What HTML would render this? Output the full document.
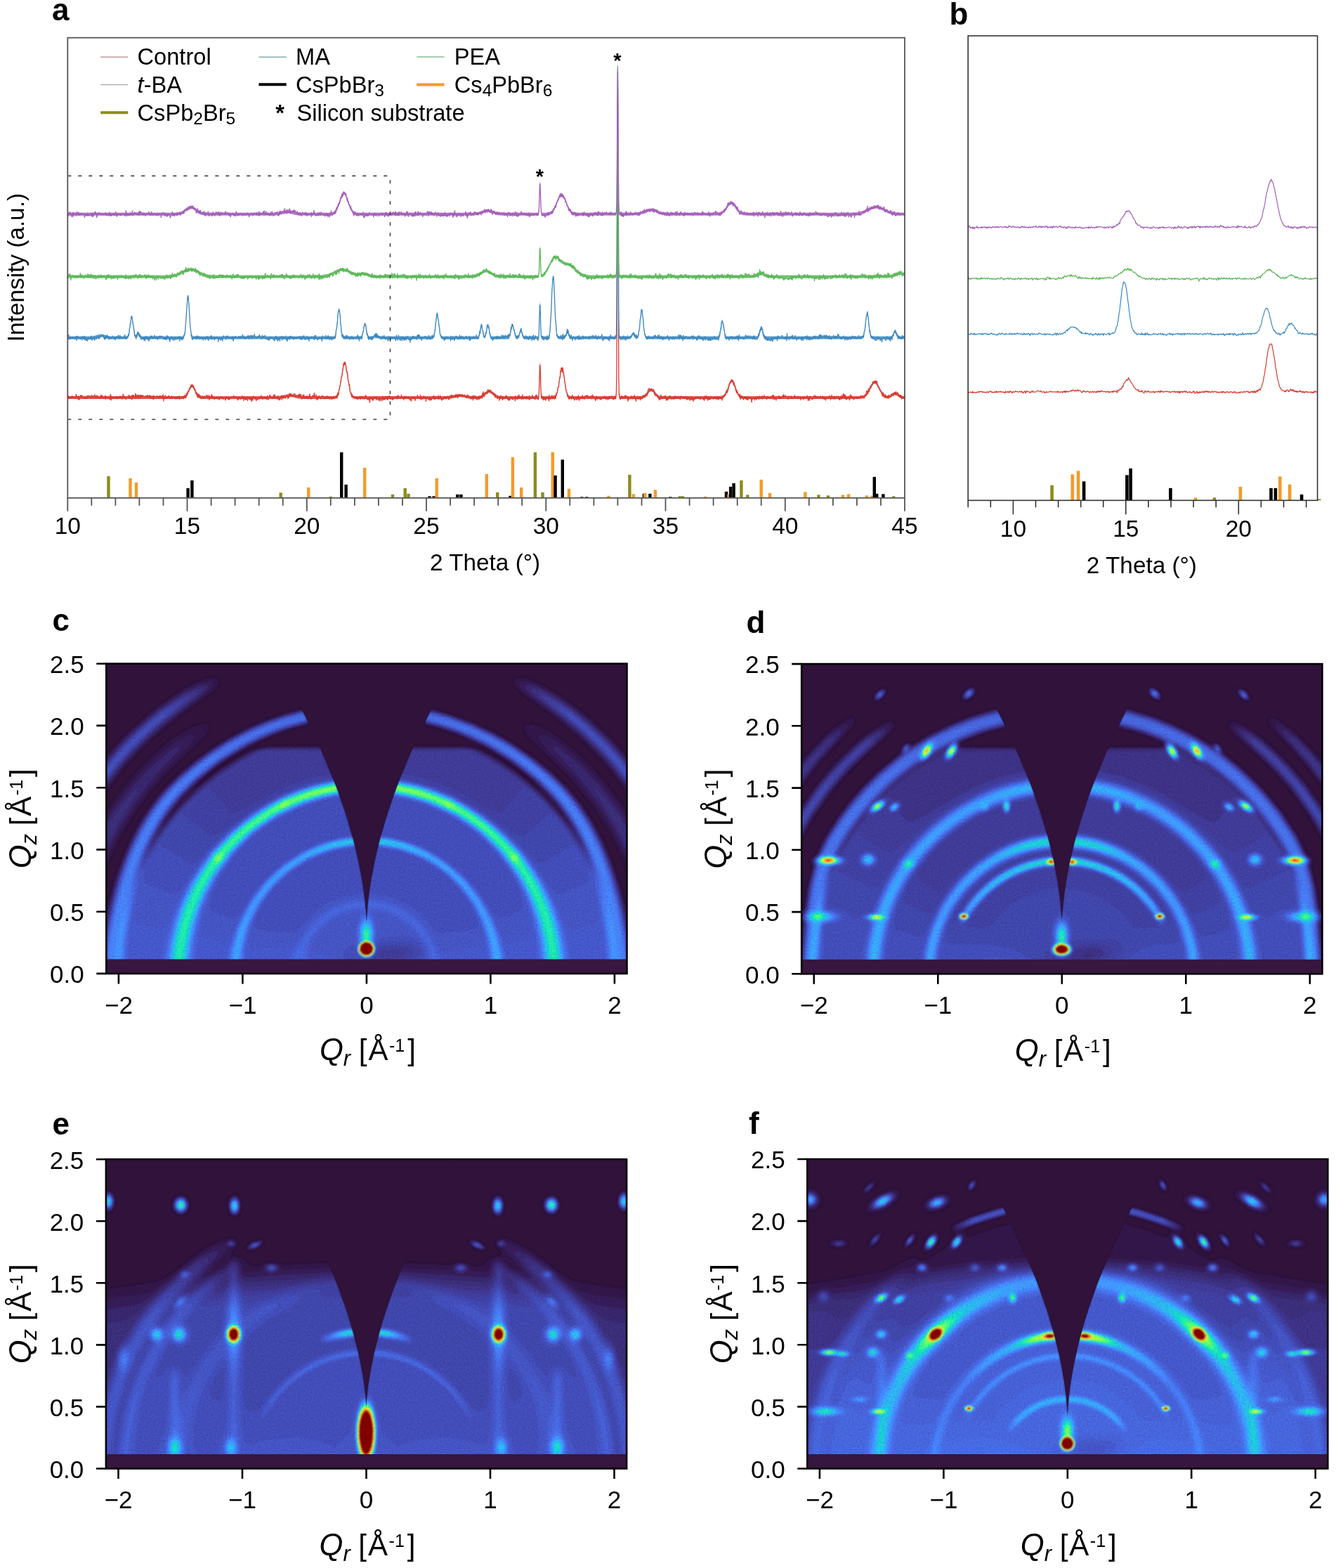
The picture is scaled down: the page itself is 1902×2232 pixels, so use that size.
<!DOCTYPE html>
<html><head><meta charset="utf-8"><title>Figure</title>
<style>html,body{margin:0;padding:0;background:#fff;}svg{display:block;}text{font-family:'Liberation Sans', Arial, Helvetica, sans-serif;fill:#000;}</style></head><body>
<svg width="1902" height="2232" viewBox="0 0 1902 2232">
<rect width="1902" height="2232" fill="#fff"/>
<path transform="scale(.1)" d="M963 5640l1621 0 40-7 20-13 20-27 50-107 10-12 10-4 10 5 10 13 40 88 20 34 10 11 20 12 40 7 1031 0 80-5 100-22 30-3 40 3 80 19 70 7 440 0 20-4 10-5 10-9 10-14 10-22 10-32 20-98 40-253 10-38 10-14 10 12 10 35 40 252 20 100 10 33 10 23 10 15 10 9 10 5 20 5 1281 1 60-3 30-4 80-19 30-4 40 2 100 22 50 5 70 0 40-6 20-8 20-12 61-52 20-10 10-1 10 2 20 10 50 44 30 20 40 11 40 3 506-1 5-10 5-47 12-413 3-29 5 106 7 282 5 85 5 23 5 4 162-1 20-6 10-8 10-14 10-23 10-37 10-50 30-200 10-52 10-27 10 4 10 35 30 194 20 107 10 33 10 21 10 12 20 10 20 2 631-1 4-10 5-102 5-550 12-3537 4 545 6 2366 5 994 5 258 5 34 5 3 274 0 40-3 20-6 20-11 20-19 40-50 10-10 20-11 10 1 10 5 10 9 50 61 20 17 20 9 20 5 30 3 800 0 40-5 20-10 20-19 11-16 20-43 40-109 10-20 10-14 10-4 10 5 10 14 10 20 40 110 20 42 20 27 10 8 20 9 40 5 1641-1 20-2 30-7 20-11 20-18 20-26 70-131 10-13 10-8 10-3 10 2 20 18 20 34 50 97 30 38 20 15 30 9 20-1 20-7 10-6 40-31 20-8 10 1 20 9 30 24 30 18 20 5 30 3 0 40-30-3-20-5-20-11-50-37-20-4-20 8-40 31-20 10-10 3-20 1-30-9-20-15-30-38-50-97-20-34-20-18-10-2-10 3-10 8-10 13-70 131-20 26-10 10-20 14-10 5-30 7-40 3-1621 0-30-3-20-6-20-13-20-27-20-42-40-110-10-20-10-14-10-5-10 4-10 14-10 20-40 109-20 43-11 16-20 19-10 6-20 6-30 3-800 0-30-3-20-5-20-9-20-17-50-61-10-9-10-5-10-1-20 11-50 60-20 19-20 11-20 6-40 3-274 0-5-3-5-34-5-258-5-994-6-2366-4-545-12 3537-5 550-5 102-4 10-631 1-20-2-20-10-10-12-10-21-10-33-20-107-30-194-10-35-10-4-10 27-10 52-30 200-10 50-10 37-10 23-10 14-10 8-20 6-162 1-5-4-5-23-5-85-7-282-5-106-3 29-12 413-5 47-5 10-506 1-40-3-40-11-20-12-60-52-10-6-20-6-10 1-20 10-61 52-20 12-20 8-40 6-70 0-50-5-80-18-40-6-20 0-30 4-80 19-30 4-60 3-1281-1-20-5-10-5-10-9-10-15-10-23-20-78-50-307-10-35-10-12-10 14-10 38-40 253-20 98-10 32-10 22-10 14-10 9-10 5-20 4-440 0-70-7-80-19-40-3-30 3-100 22-80 5-1031 0-40-7-20-12-10-11-20-34-40-88-10-13-10-5-10 4-10 12-50 107-20 27-20 13-40 7-1621 0z" fill="#d93b30" opacity=".85"/>
<path transform="scale(.1)" d="M963 5663l5 6 5-6 5-27 5 35 5-8 5-13 5 17 5-7 5 0 5-4 5 7 5-26 5 11 5-7 5 19 5-5 5-1 5-10 5 8 5 1 5-7 5 25 5-1 5-58 5 12 5 30 5-6 5 4 5 0 5 33 5-50 5 15 5 41 5-23 5 3 5-23 5-23 5 30 5-1 5-26 5 7 5 13 5-9 5 13 5 5 5 2 5-6 5 17 5 5 5-10 5-20 5 22 5-16 5 21 5-33 5 30 5-17 5-25 5 14 5 6 5 5 5-19 5 2 5 19 5-7 5 7 5 7 5-39 5 31 5 14 5-23 5-9 5 18 5-9 5 8 5-19 5-16 5 30 5-3 5 24 5-11 5-28 5 6 5 31 5-8 5-22 5 10 5 10 5 6 5 7 5-10 5-5 5-3 5 20 5-51 5 34 5 2 5-24 5 25 5-17 5 28 5-15 5 9 5 12 5-10 5-22 5-12 5 53 5-33 5-8 5 13 5-4 5 17 5-8 5 3 5-12 5 21 5-22 5 26 5 12 5-53 5-20 5 52 5 30 5-57 5 1 5 36 5-27 5 6 5 2 5 12 5-11 5 12 5-9 5-12 5 13 5-17 5 13 5-14 5-3 5 36 5-23 5 5 5 5 5-11 5 3 5 10 5-4 5-27 5 32 5-18 5-5 5 2 5 6 5 27 5-45 5 20 5-43 5 38 5 14 5-18 5-6 5 17 5 7 5 1 5 22 5-31 5-14 5 7 5-2 5 0 5-1 5 6 5-28 5 41 5-20 5-8 5 29 5 8 5-15 5-5 5-23 5 57 5-32 5-31 5 5 5 19 5-26 5 29 5-8 5 26 5-9 5-57 5 42 5-30 5 44 5-14 5 1 5-24 5 46 5 3 5-48 5 25 5-17 5 12 5-19 5 48 5-46 5 8 5 13 5-22 5 9 5-7 5 16 5-15 5 15 5 7 5-1 5 0 5-12 5 20 5-17 5-1 5-6 5 6 5-14 5 30 5-26 5 5 5 17 5 5 5-13 5-21 5 41 5-5 5-24 5 34 5-23 5-8 5 21 5-6 5 6 5-28 5 56 5-40 5-14 5 33 5-19 5 6 5-9 5 3 5 3 5-14 5 26 5-18 5-7 5 17 5 9 5-12 5-10 5 29 5-37 5 6 5 15 5-20 5 15 5-2 5 15 5-28 5 9 5 19 5-45 5 92 5-60 5-2 5 25 5-16 5-29 5 40 5 8 5-21 5 1 5 10 5-19 5 17 5-4 5-19 5-7 5 16 5-6 5 28 5-13 5 11 5-13 5-2 5-18 5 25 5 14 5-27 5-2 5 6 5-5 5 2 5 13 5-9 5 26 5-23 5 6 5 9 5-19 5 26 5-31 5-4 5 11 5 6 5-19 5 20 5-23 5 46 5-24 5-4 5-7 5 9 5 0 5-10 5-5 5 13 5-4 5 23 5-2 5-18 5 5 5-33 5 32 5-14 5 5 5 16 5-65 5 30 5-29 5 15 5-45 5-1 5 4 5-6 5-21 5-18 5-7 5 12 5-26 5-31 5 32 5-11 5 5 5-16 5 22 5-28 5 33 5-11 5 27 5 16 5-13 5 22 5 13 5 34 5 2 5-21 5 37 5 13 5 24 5-54 5 21 5 31 5-42 5 4 5 29 5 13 5-27 5 22 5-1 5 23 5-25 5 14 5-32 5 13 5-1 5 21 5-10 5-17 5 18 5 1 5-16 5 5 5-2 5-22 5 31 5 0 5-19 5 26 5-33 5 16 5 4 5 42 5-59 5 32 5 3 5-10 5 10 5-34 5-20 5 53 5-30 5 16 5-12 5 37 5 1 5-25 5 29 5-12 5-6 5-3 5 0 5 12 5-7 5-11 5 24 5-28 5 12 5 3 5 16 5-31 5 40 5-25 5-9 5-10 5 24 5-11 5-12 5-3 5 10 5-3 5 26 5 3 5-3 5-8 5-9 5 8 5 11 5 18 5-21 5-22 5 8 5-4 5-5 5 6 5 7 5 19 5-32 5 23 5 9 5-30 5 26 5-11 5-13 5 6 5-2 5-3 5-3 5 2 5 6 5-20 5 10 5-22 5 30 5 3 5-7 5 1 5 5 5-23 5 13 5 9 5 6 5-7 5 34 5-38 5 22 5 4 5-20 5-9 5-5 5 20 5 15 5-14 5 1 5-9 5 13 5-41 5 39 5-4 5-21 5 54 5-60 5 3 5 5 5 38 5-27 5 27 5-1 5-9 5-22 5 8 5 36 5-52 5 7 5 9 5 16 5-9 5 10 5-28 5 34 5-3 5-31 5 49 5 9 5-49 5 13 5 21 5-50 5-9 5 16 5 11 5 0 5 17 5-2 5-28 5 27 5 24 5-10 5-2 5-18 5 14 5-35 5 27 5-12 5 14 5-9 5-25 5 16 5 12 5-38 5 7 5 3 5-9 5 40 5 6 5-6 5-17 5-5 5 3 5-9 5 23 5 5 5-4 5-27 5 6 5 1 5 31 5-22 5-32 5 36 5 25 5-21 5 1 5-9 5-39 5-1 5 12 5 17 5 6 5 10 5-14 5 17 5-15 5-9 5 29 5-32 5-25 5 25 5 27 5-50 5 44 5 1 5-14 5-7 5 13 6-1 5 26 5-15 5-31 5 15 5 24 5 20 5-27 5-2 5 20 5-31 5-8 5-16 5 13 5 45 5-57 5 30 5-28 5 23 5 9 5-17 5 11 5-1 5-9 5 21 5-18 5-18 5-8 5 0 5 19 5-13 5 44 5-18 5-29 5-4 5 28 5-57 5 19 5 14 5-27 5 9 5 6 5 18 5-10 5 4 5 2 5-10 5 19 5-23 5-13 5-2 5 3 5 22 5 25 5-8 5-12 5-6 5 5 5 5 5-4 5-12 5 12 5 26 5-52 5 36 5-32 5 36 5-10 5-21 5 32 5 31 5-22 5 14 5-19 5-35 5 44 5-19 5-18 5 40 5-4 5-15 5 22 5-23 5 22 5-29 5 23 5-24 5 39 5-21 5 21 5-36 5 3 5 24 5-58 5 25 5 43 5-8 5 11 5-18 5 8 5-26 5-8 5-7 5 17 5-1 5-1 5-51 5 26 5 24 5 14 5-12 5-2 5-22 5 69 5-48 5 46 5-7 5-25 5-12 5 9 5-18 5 21 5 1 5 7 5 6 5 8 5-33 5 22 5-32 5-1 5 9 5-4 5 30 5 0 5 8 5-21 5 14 5-13 5-10 5 26 5-5 5-27 5 30 5-34 5 25 5-11 5 2 5-11 5 32 5-7 5 17 5-20 5-18 5 14 5-14 5 23 5 18 5-15 5-13 5 5 5 7 5-33 5 28 5 2 5-14 5 3 5 6 5-19 5-6 5 24 5-16 5 22 5-49 5-24 5 35 5-15 5-46 5-33 5 1 5-50 5-5 5-55 5 1 5-64 5-5 5-4 5-61 5-13 5-50 5-34 5-31 5 23 5-28 5 25 5-33 5 28 5 23 5 50 5 36 5-7 5 22 5 22 5 80 5 13 5 18 5 47 5-12 5 39 5 64 5 13 5 10 5-4 5 34 5 26 5-42 5 26 5 0 5 13 5-2 5 5 5-9 5 14 5-8 5 10 5 1 5 10 5-20 5 4 5 26 5-20 5-1 5 19 5-8 5-5 5-3 5-24 5 27 5 16 5-11 5-32 5 28 5-16 5 4 5 4 5-19 5 40 5-25 5 16 5-5 5 10 5 0 5-43 5 24 5-33 5 29 5 19 5 6 5 10 5-25 5 8 5-2 5 19 5 3 5-33 5 69 5-60 5-11 5 18 5 1 5-3 5-19 5 39 5-21 5 25 5 0 5-44 5 2 5-6 5 20 5-5 5 4 5-15 5 25 5 15 5-47 5 23 5 11 5-9 5-4 5 32 5-12 5-9 5-24 5 53 5-26 5-17 5 4 5-7 5 43 5-33 5 4 5-36 5 55 5-29 5-3 5 26 5-26 5 21 5 3 5-45 5 25 5-23 5 27 5 14 5-43 5 52 5-35 5-19 5 17 5 17 5-37 5 28 5-22 5 39 5-11 5-9 5 19 5-37 5 18 5 31 5-33 5 23 5-18 5-18 5 11 5 5 5-11 5-6 5 2 5-7 5 28 5 7 5 2 5-44 5 35 5-13 5-28 5 20 5 13 5-3 5 6 5 5 5-1 5-12 5-35 5 23 5 14 5-8 5 16 5 3 5-11 5 33 5-51 5 31 5-23 5-7 5 22 5-17 5 27 5-30 5 21 5-14 5 11 5-5 5-11 5 32 5-26 5 3 5 36 5 1 5-6 5-3 5 30 5-59 5 1 5-10 5 26 5-10 5 14 5 3 5-18 5-9 5 0 5 53 5-23 5-4 5-14 5-3 5-8 5 1 5-29 5 36 5-7 5 14 5-1 5 8 5-14 5 18 5-54 5 21 5 46 5-44 5 16 5 17 5-22 5 24 5-35 5-6 5 4 5-4 5 26 5-8 5 10 5-16 5 61 5-45 5-1 5 4 5-12 5-7 5 18 5 15 5-1 5 6 5-27 5-7 5 44 5-33 5 11 5 6 5 10 5-45 5 13 5-1 5 7 5-31 5 41 5-43 5 46 5 2 5-3 5-35 5 33 5-23 5-5 5 1 5-1 5 23 5 5 5-48 5 24 5 29 5-16 5-2 5-29 5 43 5-41 5 27 5 25 5 9 5-22 5 4 5-21 5 4 5 21 5-20 5 0 5-21 5 23 5 3 5-25 5 5 5 28 5-21 5-5 5-13 5 8 5 8 5 25 5-32 5 38 5-47 5 7 5 18 5-23 5-14 5 14 5 12 5-31 5 26 5 3 5-9 5 13 5-24 5 3 5 7 5 6 5-16 5 26 5-42 5 34 5-32 5 11 5 4 5 33 5-21 5-22 5 29 5-26 5-14 5 21 5-6 5 12 5-17 5 13 5 8 5-3 5-7 5-11 5 27 5-14 5 7 5-10 5 4 5-13 5 17 5 11 5-6 5 12 5-10 5 20 5-24 5-24 5 33 5-12 5-10 5 28 5-3 5 4 5-4 5 8 5-3 5 23 5-34 5 13 5 6 5-27 5 1 5 55 5-65 5 37 5-24 5 4 5-17 5 18 5 22 5-30 5 27 5-1 5 25 5-36 5 26 5-6 5-19 5-16 5 47 5-45 5 12 5 19 5-4 5-32 5 7 5-6 5 16 5 17 5-73 5 43 5-65 5 44 5-20 5 45 5-34 5-20 5 1 5-5 5 9 5-9 5 8 5 10 5-17 5-38 5-6 5 11 5 25 5-22 5-3 5 16 5-22 5 12 5 32 5-8 5 0 5 15 5-9 5 1 5 8 5 18 5-5 5-18 5 18 5 21 5 23 5-44 5 28 5-2 5 17 5-2 5 21 5-14 5-18 5-1 5 22 5 0 5 35 5-15 5-43 5 22 5-28 5-1 5 41 5-3 5-26 5 47 5-45 5-2 5 31 5-7 5-11 5 4 5 5 5-9 5-2 5-29 5 5 5 32 5-16 5 20 5 17 5-24 5 11 5 26 5-21 5 17 5-8 5-15 5-15 5-8 5 2 5 25 5 1 5-7 5 13 5-29 5 29 5-15 5-2 5 1 5 0 5 39 5-70 5 25 5 16 5-11 5-15 5 34 5-45 5-4 5 34 5-35 5-16 5 52 5-3 5-3 5-16 5 14 5-21 5 41 5-14 5-1 5-50 5 50 5 14 5-6 5-11 5-10 5-2 5 12 5-3 5-5 5-7 5 32 5-44 5 19 5-7 5 24 5 6 5-3 5-7 5-36 5 56 5-25 5-11 5 3 5 0 5 12 5 0 5-13 5-33 5 36 5 6 5 1 5-5 5 7 5 10 5-23 5 31 5-57 5 11 5 7 5-26 5 23 5 34 5-1 5-17 5 27 5-37 5-81 5-145 5-204 5-28 5 115 5 234 5 74 5 51 5-35 5 26 5 8 5 19 5-35 5 46 5-22 5-19 5 28 5-17 5 18 5 16 5-22 5-22 5 3 5 15 5-1 5-17 5 0 5 22 5 29 5-84 5 55 5-12 5 15 5 1 5-15 5-22 5-7 5-10 5 50 5-24 5-6 5 2 5-15 5 26 5 19 5-5 5-45 5 44 5-41 5-27 5-3 5-13 5-5 5-35 5-36 5-7 5 3 5-74 5-20 5-43 5 7 5-103 5 19 5-56 5 3 5 2 5 53 5-53 5-5 5 69 5-4 5 42 5 39 5 37 5 34 5 40 5 33 5 34 5 8 5 18 5 12 5 42 5 0 5 12 5 3 5 23 5-18 5 14 5-30 5 3 5 17 5-18 5 31 5-38 5 23 5-43 5 23 5 16 5 7 5-22 5 33 5 18 5-10 5-23 5-2 5-6 5 23 5 13 5-29 5-17 5 23 5 13 5-55 5 43 5 30 5-19 5-9 5-1 5 6 5-34 5 3 5 20 5-21 5 17 5-37 5 43 5-1 5-12 5 7 5 20 5-45 5 6 5-6 5 3 5-8 5 22 5-16 5-10 5-2 5 47 5-28 5-4 5 1 5 0 5 15 5-2 5-14 5-1 5 1 5-3 5 40 5-35 5-22 5 15 5 4 5 19 5-20 5 21 5 4 5 11 5 16 5 12 5-20 5-45 5 13 5 7 5 24 5-26 5 11 5-17 5 15 5 8 5-17 5 23 5 4 5-23 5 19 5 9 5-25 5-1 5-2 5-7 5 12 5-11 5 6 5-9 5-14 5 12 5 19 5-26 5 6 5 38 5-9 5-28 5 22 5-19 5 38 5-40 5 7 5 20 5-38 5 37 5-31 5 16 5-14 5 1 5 1 5-5 5-10 5 34 5 4 5 11 5 1 5-47 5 39 5-3 5-32 5 28 5 8 5-35 5-52 5-255 5-973 5-1889 5-1045 5 1145 5 1820 5 979 5 253 5-11 5 54 5 17 5-29 5-2 5 21 5-39 5-2 5 3 5 20 5 11 5-10 5 12 5-4 5-6 5-29 5 9 5 23 5-34 5 17 5 2 5 3 5-9 5 3 5 63 5-23 5-29 5 11 5 12 5-14 5 12 5-18 5 1 5 5 5-8 5-25 5 42 5 3 5-2 5-26 5 21 5-5 5-34 5-4 5 48 5-22 5 34 5 22 5-47 5-8 5 7 5 9 5-33 5 44 5-3 5-4 5-21 5 25 5-3 5-33 5 51 5-36 5 9 5-17 5 14 5 13 5-36 5-12 5 18 5-17 5 5 5 9 5-4 5 15 5-42 5 16 5-23 5 20 5 13 5-43 5 13 5-42 5-24 5-2 5-12 5 5 5 8 5 17 5-8 5-7 5-10 5 2 5 15 5 6 5 10 5 1 5-7 5-20 5 18 5 11 5 48 5-23 5 23 5 19 5-12 5-2 5 5 5-7 5 22 5 18 5-8 5 7 5 4 5 29 5-40 5 12 5 13 5 8 5-65 5 32 5 9 5-13 5 28 5-6 5-13 5-17 5 5 5 4 5 21 5-25 5-14 5 4 5 16 5 35 5 15 5-49 5 28 5 7 5 4 5-25 5-14 5 10 5-26 5 29 5 11 5-41 5 27 5 7 5 12 5-3 5-8 5-18 5 5 5 24 5-29 5 4 5 25 5-24 5-23 5 16 5 15 5-15 5 21 5 2 5-28 5 6 5 5 5-18 5 27 5-10 5 13 5-17 5-7 5 42 5-45 5 3 5-6 5 10 5-5 5 16 5-10 5 0 5 15 5 2 5-1 5-22 5 24 5-5 5 1 5-26 5 40 5-12 5 26 5-11 5-32 5-3 5 40 5-34 5 21 5-14 5 40 5-34 5 24 5-3 5-27 5 1 5 30 5-24 5-10 5 31 5 24 5-42 5 20 5-27 5 24 5-27 5 18 6-9 5-14 5 12 5-13 5-6 5-3 5 18 5-19 5 26 5 5 5 4 5-15 5 10 5-2 5 16 5-38 5 8 5 3 5 4 5-8 5 3 5 28 5-28 5 24 5 17 5-12 5-53 5 42 5-7 5 2 5-36 5 40 5-34 5 37 5-1 5 22 5-46 5-11 5 41 5-3 5-19 5 27 5-16 5-33 5 16 5-2 5 8 5 8 5-9 5 8 5 12 5-12 5-3 5-3 5 7 5-27 5 32 5-18 5 19 5-27 5 38 5-13 5-30 5 23 5-17 5 42 5-25 5-21 5 19 5-5 5 18 5-10 5 5 5-31 5 30 5 26 5-30 5-15 5 1 5-20 5 18 5-25 5 13 5-11 5-19 5 8 5-42 5 11 5-33 5 39 5-11 5-28 5 5 5-34 5-17 5-30 5-24 5 5 5-19 5-6 5 12 5-17 5-27 5 24 5-8 5 11 5-11 5 47 5 17 5-36 5 40 5 17 5-12 5 35 5 30 5 10 5 24 5-33 5 18 5 28 5 9 5 4 5 5 5 7 5 4 5 25 5-46 5 73 5-32 5-15 5 28 5-30 5 30 5-14 5 21 5 6 5 11 5-29 5 5 5 1 5-22 5 29 5-7 5-22 5 40 5 3 5-40 5 33 5 14 5-6 5-29 5-7 5 14 5-8 5 6 5 0 5 13 5-17 5 8 5 56 5-51 5 15 5-9 5-5 5-21 5 20 5-11 5 14 5 20 5-32 5 11 5-28 5 20 5 23 5-26 5-12 5 13 5-14 5-1 5-1 5 36 5-47 5 13 5-5 5 27 5-23 5 24 5-16 5-1 5-23 5 46 5-15 5-3 5-16 5-4 5-16 5 37 5-9 5-2 5-6 5 12 5-7 5 32 5-15 5-20 5-7 5 20 5-14 5 12 5 7 5 2 5-5 5-10 5 15 5-26 5 13 5 11 5-6 5-29 5-1 5-5 5 58 5-54 5 24 5 31 5-14 5 8 5-34 5 17 5 37 5-46 5 2 5-9 5 9 5 5 5 18 5-35 5-10 5 24 5 5 5 15 5-9 5-23 5 16 5 5 5-13 5-9 5 14 5-16 5-21 5 52 5-48 5 16 5 0 5 3 5-1 5-16 5 33 5-7 5-4 5 20 5-1 5 5 5 9 5-20 5-26 5 31 5-9 5 1 5-7 5-11 5 25 5 7 5-32 5 25 5-9 5 0 5 20 5-14 5-13 5 9 5-32 5 23 5 4 5-11 5 21 5-1 5-16 5 2 5 13 5 8 5-29 5 19 5 15 5-15 5-12 5 1 5 10 5-9 5 45 5-41 5 15 5-4 5 5 5-12 5-14 5 45 5-32 5 3 5-1 5 14 5-9 5 8 5-1 5-11 5 3 5-15 5-15 5 28 5-16 5 60 5-18 5-7 5-29 5 50 5-60 5 9 5 5 5-5 5 11 5 1 5 28 5-15 5 7 5-13 5-10 5-12 5-16 5 11 5 10 5 20 5-39 5 7 5 25 5-15 5 23 5-13 5-11 5-7 5 17 5-12 5 7 5 4 5 12 5-2 5-32 5 22 5 6 5 5 5-3 5-7 5-20 5 5 5 32 5-29 5 32 5 7 5-39 5 23 5-6 5 35 5-23 5-21 5 19 5-20 5 11 5 10 5 1 5-2 5-24 5-15 5 16 5-8 5 0 5 48 5-17 5-22 5-24 5 5 5 27 5 9 5-21 5 12 5 6 5 17 5-44 5 31 5 2 5 8 5-11 5-22 5 8 5-16 5 23 5 0 5 3 5-22 5 0 5 46 5-20 5 22 5-20 5-31 5 35 5 8 5-26 5-28 5 40 5-11 5 1 5-51 5 52 5-51 5 30 5 28 5-43 5 4 5 27 5 34 5-1 5-38 5 27 5-5 5-9 5 2 5-22 5 29 5 0 5 24 5-28 5-49 5 17 5 28 5-3 5-30 5 28 5-5 5 4 5 3 5 18 5 9 5-10 5-31 5 2 5 1 5 9 5-3 5 0 5-10 5 31 5-4 5-4 5-11 5 9 5-20 5 3 5 7 5 11 5-13 5-22 5 16 5 7 5-6 5-14 5 13 5-7 5-3 5 5 5 14 5 11 5-5 5-22 5-21 5-4 5 3 5 14 5-67 5 44 5-44 5 23 5 17 5-43 5-32 5 45 5-8 5-27 5-2 5-46 5 26 5-1 5-29 5-12 5 10 5-13 5-38 5 26 5-16 5-14 5 15 5-8 5 0 5-18 5 25 5-25 5 22 5-17 5 8 5 43 5 1 5 15 5 21 5 7 5-6 5 27 5 4 5 2 5 21 5 4 5-3 5 18 5 16 5 32 5-45 5 29 5-28 5 52 5-25 5 17 5 22 5-1 5-40 5 34 5-13 5 14 5-6 5 13 5-3 5-8 5 22 5-46 5 14 5-6 5 11 5-6 5 6 5-8 5-6 5-19 5 18 5-3 5-18 5-2 5-3 5 31 5-25 5 3 5-17 5-7 5-1 5 38 5-51 5 38 5-2 5-4 5-18 5 8 5 33 5-22 5 35 5 0 5 6 5 8 5-33 5 9 5 22 5-27 5 53 5-33 5 13 5-10 5 22 5-21 5 8 5-13 5 33 5-47" fill="none" stroke="#d93b30" stroke-width="13" stroke-linejoin="round"/>
<path transform="scale(.1)" d="M963 4788l330-1 50-6 60-18 30-5 30 2 70 20 50 7 220 0 10-4 11-12 10-29 10-55 20-157 10-41 10 19 30 215 10 36 10 10 10-10 20-39 10 2 20 44 10 14 10 6 10 2 570 0 10-3 10-7 10-25 10-58 10-110 20-308 10-77 10 40 30 425 10 74 10 33 10 12 10 3 1991 0 10-2 10-7 10-22 10-50 30-295 10-32 10 50 20 213 10 78 10 43 10 17 10 6 10 2 210 0 20-3 10-7 10-19 10-39 20-110 10-22 10 24 21 111 10 37 10 19 10 7 10 2 40-2 10-5 10-10 20-28 10-5 10 6 20 28 10 9 10 5 20 2 710 0 20-3 10-7 10-22 10-47 30-251 10-18 10 52 20 183 10 62 10 33 10 13 10 4 500 0 10-3 10-14 10-33 20-106 10-10 10 39 10 58 10 42 10 17 10-5 10-29 21-113 10-22 10 34 20 110 10 25 10 9 10 2 210 0 20-2 10-7 10-18 10-36 20-99 10-18 10 23 20 100 10 33 10 16 10 6 10-1 10-7 10-19 20-69 10-12 10 22 20 67 10 15 10 5 193 1 3-1 5-10 5-47 12-413 3-29 5 106 7 282 7 98 3 10 5 4 82-1 10-6 10-18 10-51 10-114 30-625 10-51 10 123 20 454 10 158 10 83 10 34 10 11 20 3 50 0 20-4 10-11 20-48 10-16 10 7 20 50 10 15 20 7 631-1 4-9 5-92 5-498 12-3200 4 493 6 2141 5 899 5 233 5 32 5 2 144-1 10-5 10-11 20-37 10-6 10 13 20 36 10 7 10 0 10-9 10-26 10-55 30-286 10-16 10 63 20 209 10 69 10 35 10 14 10 5 990 1 20-3 10-8 10-21 10-40 20-125 10-40 10 7 30 171 11 35 10 16 10 6 10 2 400 0 20-4 10-9 10-19 30-107 10-11 10 20 20 79 10 27 10 15 10 6 10 2 1351 1 20-6 10-13 10-29 10-55 20-167 10-60 10-4 10 53 20 167 10 60 10 32 10 15 20 7 250-1 10-4 10-8 10-16 20-52 10-17 10 2 30 71 10 15 20 9 70 1 0 40-70-1-20-9-10-15-30-71-10-2-10 17-20 52-10 16-10 8-10 4-250 1-20-7-10-15-10-32-10-60-20-167-10-53-10 4-10 60-20 167-10 55-10 29-10 13-20 6-1351-1-10-2-10-6-10-15-10-27-20-79-10-20-10 11-30 107-10 19-10 9-20 4-400 0-10-2-10-6-10-16-11-35-30-171-10-7-10 40-20 125-10 40-10 21-10 8-20 3-990-1-10-5-10-14-10-35-10-69-20-209-10-63-10 16-30 286-10 55-10 26-10 9-10 0-10-7-20-36-10-13-10 6-20 37-10 11-10 5-144 1-5-2-5-32-5-233-5-899-6-2141-4-493-12 3200-5 498-5 92-4 9-631 1-20-7-10-15-20-50-10-7-10 16-20 48-10 11-20 4-50 0-20-3-10-11-10-34-10-83-10-158-20-454-10-123-10 51-30 625-10 114-10 51-10 18-10 6-82 1-5-4-3-10-7-98-7-282-5-106-3 29-12 413-5 47-5 10-3 1-193-1-10-5-10-15-20-67-10-22-10 12-20 69-10 19-10 7-10 1-10-6-10-16-10-33-20-100-10-23-10 18-20 99-10 36-10 18-10 7-20 2-210 0-10-2-10-9-10-25-20-110-10-34-10 22-21 113-10 29-10 5-10-17-10-42-10-58-10-39-10 10-20 106-10 33-10 14-10 3-500 0-10-4-10-13-10-33-10-62-20-183-10-52-10 18-30 251-10 47-10 22-10 7-20 3-710 0-20-2-10-5-10-9-20-28-10-6-10 5-20 28-10 10-10 5-20 2-30-2-10-7-10-19-10-37-21-111-10-24-10 22-20 110-10 39-10 19-10 7-20 3-210 0-10-2-10-6-10-17-10-43-10-78-20-213-10-50-10 32-30 295-10 50-10 22-10 7-10 2-1991 0-10-3-10-12-10-33-10-74-30-425-10-40-10 77-20 308-10 110-10 58-10 25-10 7-10 3-570 0-10-2-10-6-10-14-20-44-10-2-20 39-10 10-10-10-10-36-30-215-10-19-10 41-20 157-10 55-10 29-11 12-10 4-220 0-50-7-70-20-30-2-30 5-60 18-50 6-330 1z" fill="#3d89c0" opacity=".85"/>
<path transform="scale(.1)" d="M963 4807l5-15 5 4 5-32 5 67 5-7 5-18 5 16 5-7 5-16 5 23 5-20 5 2 5-7 5 19 5-9 5 11 5-20 5 16 5-14 5 29 5-11 5-3 5-1 5-24 5 33 5 22 5-57 5-4 5 5 5 30 5-16 5 18 5-3 5-9 5 9 5-6 5 16 5-33 5 9 5 9 5 25 5-42 5-9 5 12 5 25 5-18 5 26 5-48 5 51 5 0 5-38 5 29 5 19 5-20 5 10 5 19 5-32 5-7 5-8 5 24 5-12 5-4 5 5 5 11 5-27 5-10 5-13 5 55 5-13 5 17 5-24 5-10 5 19 5-7 5-18 5 4 5 40 5-26 5 3 5-9 5-9 5 25 5-13 5-16 5 8 5-11 5 14 5 9 5-29 5 34 5-36 5 13 5-15 5 8 5 0 5-7 5-7 5-2 5-5 5-11 5 23 5 14 5 11 5-3 5 27 5-39 5-10 5 39 5-46 5 36 5-27 5 17 5-36 5 46 5-13 5-12 5 43 5-7 5-10 5-17 5 12 5 0 5 14 5-1 5-20 5-1 5 0 5-20 5 12 5 5 5 17 5 12 5-33 5 20 5-16 5 39 5-39 5 15 5-26 5 5 5 18 5-9 5 0 5-29 5 30 5-26 5 42 5-24 5 26 5-42 5 32 5-18 5 4 5 2 5 2 5 10 5 4 5 2 5-10 5-19 5 7 5 6 5-35 5 52 5-18 5 2 5 22 5-5 5-15 5-21 5 17 5-4 5-36 5 17 5-31 5-71 5-2 5-63 5 2 5-46 5-57 5-8 5 22 5 7 5 58 5 26 5 24 5 50 5-1 5 68 5 29 5-8 5 2 5 24 5 22 5-37 5-29 5 32 5-63 5 31 5-13 5 27 5-23 5 46 5-1 5-25 5 6 5 31 5 27 5-21 5-3 5-4 5 23 5-9 5 4 5-19 5 35 5-4 5-41 5 56 5-25 5-25 5-16 5 37 5 4 5-20 5-13 5 42 5-28 5-2 5 51 5-13 5-15 5-20 5 17 5-44 5 34 5-13 5-14 5-6 5 34 5-7 5-1 5 14 5-31 5-6 5-8 5 25 5 18 5-14 5 11 5-26 5 10 5-5 5-8 5 51 5-15 5-28 5-2 5 10 5-19 5 28 5-29 5 15 5-7 5 11 5-14 5-5 5 9 5 1 5 3 5 7 5 27 5-11 5-13 5 19 5-25 5 35 5-10 5-30 5 36 5 2 5-57 5 31 5 6 5-23 5 19 5 3 5 24 5-10 5 37 5-56 5 28 5-19 5 8 5-23 5-8 5 13 5 23 5 15 5-16 5-1 5-22 5 37 5-5 5-31 5 6 5-17 5 37 5-13 5-7 5 12 5 3 5-9 5-17 5-1 5-12 5 33 5 32 5-62 5 30 5 8 5-22 5 18 5-24 5 39 5-29 5 11 5 3 5-21 5-34 5 3 5-1 5-39 5-43 5-79 5-52 5-75 5-97 5-43 5-87 5-42 5-7 5 70 5 36 5 93 5 68 5 100 5 70 5 34 5 54 5 50 5-14 5 57 5 3 5 5 5-18 5 1 5-25 5 17 5-16 5 11 5-5 5 9 5 15 5-38 5 43 5-45 5 1 5 29 5 2 5-1 5-31 5 24 5 10 5 12 5-22 5 13 5-23 5 14 5-4 5 20 5-24 5-1 5 19 5 20 5-26 5-6 5-9 5 23 5-7 5 22 5-21 5-20 5 5 5-11 5-4 5 44 5-7 5-28 5 50 5-23 5-24 5 22 5-7 5-12 5-20 5 34 5 8 5-45 5 53 5-1 5-21 5 5 5-5 5-10 5 11 5 30 5-44 5 30 5-2 5-16 5 2 5-16 5 7 5 16 5 0 5-17 5 63 5-58 5 12 5 0 5-3 5 27 5-30 5 27 5-6 5-37 5 34 5-28 5 51 5-49 5-13 5-13 5 13 5 13 5-5 5-5 5 11 5 5 5 24 5-51 5 18 5-11 5-9 5 4 5 8 5 28 5-15 5-9 5 18 5-5 5-5 5 11 5-16 5 24 5-3 5-19 5-14 5 46 5-27 5 47 5-60 5 23 5-23 5 11 5 10 5-30 5 13 5 1 5 5 5 7 5 7 5-4 5-7 5-10 5-11 5 6 5 4 5 20 5-18 5-12 5 28 5-20 5-2 5 9 5 9 5-47 5 19 5 21 5-10 5-7 5 10 5 31 5-31 5 21 5 2 5-23 5 13 5-12 5-4 5-13 5 30 5-24 5-5 5-4 5 49 5-18 5-12 5-10 5-11 5 27 5 1 5-28 5 44 5-9 5-32 5 2 5 1 5 10 5-7 5-28 5 55 5-18 5 14 5 2 5-18 5 9 5 6 5 7 5-18 5-6 5 11 5-17 5 4 5-21 5 31 5-15 5 11 5 5 5 2 5 25 5-26 5-26 5 27 5-11 5 19 5-21 5 0 5 4 5 3 5-21 5 21 5 15 5 19 5-22 5 1 5 17 5-3 5 17 5-17 5-10 5 25 5 7 5-31 5 9 5-29 5 21 5-9 5 9 5-7 5 6 5 4 5 11 5 1 5-5 5-8 5 34 5 2 5-31 5 7 5-42 5 2 5 24 5 26 6-32 5 7 5 41 5-56 5 38 5-8 5-10 5 0 5 38 5-63 5 11 5 2 5 0 5-16 5 51 5-19 5-32 5 17 5 23 5-5 5-32 5 21 5 3 5-1 5 2 5-36 5 56 5-23 5 27 5 18 5-51 5-14 5 33 5-19 5-7 5-8 5 42 5-37 5-14 5 17 5-13 5 21 5-8 5-9 5 27 5-19 5 25 5 7 5-31 5-2 5 12 5 12 5-16 5 5 5-4 5 9 5 3 5-19 5 1 5 5 5-16 5 12 5 7 5-9 5-8 5-4 5 43 5-11 5-33 5 2 5 46 5-6 5-22 5 14 5-41 5 27 5 12 5-41 5 25 5 24 5 7 5-28 5 9 5 18 5-32 5-19 5 19 5-3 5 33 5-19 5-10 5 52 5-55 5 15 5 1 5-2 5-6 5 14 5-14 5-20 5 20 5-2 5-2 5 6 5-13 5 35 5 4 5-59 5 39 5-10 5-31 5 50 5-12 5 2 5 0 5 23 5-2 5-19 5 7 5-10 5 7 5-15 5 13 5-13 5 14 5 4 5-8 5 14 5 25 5-77 5 38 5-12 5 2 5-14 5 24 5-5 5-3 5 7 5-6 5-34 5 55 5-20 5-9 5 17 5-14 5-27 5 50 5-41 5 26 5 4 5 19 5-6 5-18 5-19 5 6 5 32 5 9 5-18 5-21 5 27 5-24 5 3 5 1 5 17 5-13 5 5 5-6 5-31 5-70 5-21 5-14 5-55 5-24 5-93 5-52 5-15 5-13 5-15 5 37 5 22 5 56 5 95 5 14 5 87 5 33 5 30 5 19 5 3 5-38 5 26 5 7 5 25 5-34 5 6 5 2 5 24 5-41 5 1 5 37 5-44 5 43 5-14 5-14 5 14 5-8 5 20 5 4 5 16 5-28 5 6 5-15 5 6 5 21 5-42 5 39 5-18 5 14 5 4 5 7 5-13 5-8 5 5 5-4 5-1 5 8 5 11 5-12 5-4 5-27 5 15 5-29 5 46 5-28 5 36 5 27 5-54 5 25 5-9 5-15 5-2 5 21 5 12 5-30 5-44 5-17 5-17 5-6 5-49 5-27 5-7 5-27 5 9 5 17 5 1 5 65 5 29 5 39 5-14 5 20 5 42 5 1 5 22 5-34 5 20 5-15 5 14 5-15 5 17 5 12 5-4 5-39 5 44 5-12 5-26 5-4 5 13 5 2 5-20 5-28 5 23 5-9 5 36 5-65 5 62 5-14 5-18 5 29 5-20 5 24 5-19 5 19 5-15 5-4 5 18 5-10 5 19 5 11 5-25 5 7 5 2 5-30 5 31 5-1 5-6 5-13 5-16 5 27 5 10 5 15 5-1 5 2 5-20 5 16 5-22 5 12 5 7 5 31 5-37 5-28 5 43 5-34 5 10 5-9 5-7 5 38 5-11 5-21 5 14 5-9 5 18 5-15 5-6 5 6 5 8 5 8 5-21 5 14 5 8 5 27 5-22 5-57 5 39 5 3 5 13 5 18 5-19 5-53 5 41 5 3 5 5 5 23 5-35 5 30 5-47 5 32 5-1 5 29 5-48 5-13 5 33 5-20 5 37 5-33 5-4 5 37 5-22 5 9 5-38 5 48 5-39 5 24 5-28 5-10 5 27 5 10 5 17 5-15 5 3 5 3 5 43 5-63 5 33 5-23 5 2 5-19 5 27 5-40 5-5 5 17 5-14 5 31 5 2 5-25 5 21 5-24 5 12 5 1 5 28 5-36 5-19 5-3 5 32 5-43 5 24 5 5 5-29 5 31 5 27 5-12 5-11 5 23 5-2 5 26 5-43 5 0 5 8 5-3 5 4 5-3 5-8 5-14 5 16 5-17 5 4 5 13 5 18 5 8 5-27 5 22 5 1 5-13 5-29 5-8 5 49 5 2 5-10 5-25 5 40 5-4 5-20 5 0 5-32 5 42 5-42 5 33 5-4 5-16 5 5 5-49 5-13 5-35 5-53 5-57 5-18 5-57 5-39 5-10 5 16 5 57 5 10 5 41 5 29 5 39 5 32 5 61 5 24 5 2 5 6 5 24 5 0 5-12 5 26 5-1 5-5 5 15 5-20 5 39 5-43 5 28 5 3 5-17 5 7 5-26 5-7 5 19 5-10 5 23 5-12 5 8 5-1 5 0 5-4 5-8 5 2 5 43 5-66 5 27 5 17 5-8 5 14 5-14 5-31 5 21 5-16 5 42 5 9 5-33 5 11 5-19 5-20 5 14 5-15 5 21 5 13 5 7 5 7 5-27 5 7 5 5 5 6 5-52 5 33 5 25 5-36 5 21 5 9 5-42 5 30 5 9 5-1 5-24 5 30 5-19 5 26 5-11 5-15 5 7 5-14 5-4 5-11 5 21 5 19 5-4 5-1 5-9 5 2 5 14 5-41 5 62 5-40 5 36 5-12 5-29 5 14 5-7 5 5 5 6 5-21 5-1 5 5 5-16 5 20 5 12 5-5 5 0 5-12 5 14 5-46 5 27 5-1 5 26 5-6 5 3 5-13 5 13 5-47 5 0 5-60 5 36 5-33 5-59 5-19 5-24 5 16 5 47 5 22 5 9 5 41 5 15 5 28 5 12 5-13 5 3 5-11 5-47 5 17 5-28 5-17 5-75 5 21 5-33 5 15 5 34 5-19 5 31 5 68 5-6 5 19 5 41 5 1 5 20 5-7 5-3 5 16 5 15 5-42 5 28 5-4 5-16 5 5 5-20 5 3 5 8 5-6 5 27 5-43 5 21 5-6 5 5 5 22 5-40 5 30 5-20 5 8 5 14 5-19 5 21 5-14 5-11 5-2 5-25 5 16 5 12 5 6 5-28 5 41 5-6 5-27 5 2 5 26 5-42 5 15 5 7 5-2 5 0 5 6 5-20 5 5 5 39 5-59 5 11 5 7 5-21 5 24 5-37 5-9 5-79 5 34 5-28 5-49 5 23 5-17 5 22 5 38 5-1 5 9 5 39 5 6 5 26 5 13 5 6 5 38 5 1 5-30 5 35 5-46 5 13 5 5 5 14 5-22 5-21 5-11 5-25 5-2 5-41 5-11 5 30 5 40 5 7 5 27 5 9 5 10 5 13 5-18 5 32 5-28 5 15 5-23 5 27 5-35 5 47 5-40 5 25 5-3 5-11 5 33 5-26 5 30 5-43 5 5 5-16 5 38 5 5 5-12 5-6 5-14 5 56 5-24 5-39 5 23 5-40 5 66 5 4 5-13 5-28 5-6 5-13 5 35 5-16 5 9 5 1 5 4 5 21 5 14 5-28 5-18 5-84 5-173 5-192 5-12 5 142 5 203 5 99 5 14 5-12 5 15 5-18 5 50 5-28 5-6 5 42 5-38 5 15 5-9 5 6 5-9 5 21 5 11 5-43 5-14 5 57 5-26 5 15 5-24 5 20 5-8 5-71 5-17 5-75 5-92 5-73 5-100 5-147 5-116 5-61 5-91 5-28 5-13 5 68 5 108 5 116 5 121 5 137 5 76 5 53 5 67 5 59 5 51 5-18 5 17 5 11 5-8 5 0 5 13 5 13 5-5 5-16 5 10 5-28 5 42 5-1 5-10 5-31 5 63 5-81 5 31 5 1 5 28 5-40 5 23 5-17 5-9 5 11 5-6 5-24 5-25 5-45 5 57 5-27 5-15 5 46 5 38 5-15 5-7 5 60 5-22 5 1 5 18 5-49 5 38 5 2 5 37 5-45 5 2 5-11 5 5 5 12 5 7 5-11 5 32 5-28 5 2 5 12 5-15 5-14 5-10 5 29 5-22 5 42 5-32 5-26 5 37 5 19 5-23 5 5 5-6 5 23 5-27 5-4 5-6 5-14 5 47 5-1 5-38 5 24 5-5 5-7 5 1 5 19 5-31 5 9 5 5 5 5 5-2 5 3 5 8 5-24 5 15 5-10 5 32 5-45 5 18 5 11 5-18 5-2 5-5 5 16 5-26 5 19 5-2 5-20 5 28 5-11 5 10 5 8 5-8 5-21 5 21 5-28 5 11 5 40 5-22 5 24 5-32 5 5 5-20 5 31 5-18 5 20 5-7 5 0 5-10 5-5 5-3 5-9 5-22 5 55 5 29 5-15 5 17 5-23 5-30 5 1 5 32 5-8 5-13 5 15 5-25 5 23 5-9 5 4 5 16 5-19 5 25 5 0 5-31 5 53 5-66 5 16 5 12 5-52 5 55 5 2 5-21 5 10 5-1 5-10 5 26 5-24 5 7 5 6 5 11 5 1 5-44 5-6 5 30 5-37 5-259 5-902 5-1665 5-927 5 1041 5 1609 5 892 5 249 5 9 5-31 5 23 5 15 5 15 5-21 5 8 5-34 5 11 5 23 5-35 5 17 5-30 5 59 5-24 5 12 5-34 5 1 5 53 5-36 5-1 5 17 5-1 5-45 5 17 5 12 5 1 5 5 5-16 5 0 5 7 5-16 5-7 5 5 5 6 5-18 5-14 5-5 5-4 5-2 5 7 5-22 5 49 5-32 5 41 5-16 5 22 5 11 5-49 5 48 5-6 5-11 5 9 5-21 5-13 5-45 5-9 5-45 5-46 5-74 5-12 5-45 5-66 5-21 5 7 5 47 5 50 5 21 5 35 5 92 5 36 5 42 5 32 5-9 5 36 5 0 5 18 5 15 5-21 5-16 5 37 5-9 5-10 5-25 5 13 5 17 5 5 5-18 5 18 5-19 5 5 5 12 5-15 5 3 5 16 5 6 5-25 5 5 5-22 5-4 5 26 5-13 5-24 5 39 5-17 5 7 5 13 5 1 5-3 5-33 5 39 5-17 5-17 5-13 5 57 5-17 5 2 5 11 5-12 5-23 5 35 5 7 5-12 5 15 5 9 5-44 5 1 5 26 5-7 5-4 5 16 5-6 5-23 5 10 5-9 5 5 5-17 5-10 5 23 5 0 5 29 5 14 5-27 5 7 5-20 5-7 5 3 5 3 5 12 5-1 5 20 5-20 5-23 5 29 5-12 5 15 5 10 5-29 5 6 5 7 5-26 5 22 5 4 5 5 5 3 5-4 5-4 5-26 5-22 5 25 5 36 5-24 5-39 5 27 5 19 5-37 5 40 5-27 5 35 5-22 5 49 5-73 5 29 5-24 5 46 5-14 5 13 5-12 5-25 5 6 5-11 5 4 5 18 5 16 5-2 5-6 5-14 5 16 5-20 5 19 5 12 5-20 5-10 5-1 5 13 5-16 5-13 5 18 5-10 5 41 5-23 5-29 5 31 5 10 5-7 5-10 5 10 6 2 5 9 5-7 5 29 5-42 5 31 5-24 5-29 5 9 5-10 5 1 5 46 5-31 5 22 5-20 5 13 5-10 5 30 5-18 5-5 5 4 5 36 5-24 5 8 5-33 5 10 5 17 5-36 5 52 5-17 5-6 5-1 5 1 5-3 5 29 5-11 5 7 5-21 5-12 5 38 5-37 5 8 5 24 5 7 5-40 5 18 5 5 5-7 5-11 5 24 5-20 5 2 5-29 5 32 5-31 5 42 5-4 5-11 5 10 5 0 5-4 5 8 5-11 5-7 5-8 5 36 5-32 5-17 5-3 5-44 5-29 5-18 5-28 5-40 5-56 5 12 5-3 5 19 5 3 5 25 5 45 5 21 5 28 5 42 5 36 5 1 5 23 5-25 5 25 5-10 5-14 5 9 5-8 5 11 5-9 5 38 5-25 5-25 5 16 5 7 5-17 5 15 5-26 5 0 5 42 5-28 5 11 5-1 5 3 5-4 5-3 5 18 5-28 5 13 5 9 5-17 5-22 5 35 5 11 5-15 5-31 5 44 5 20 5-60 5-18 5 35 5 4 5 9 5 4 5-10 5 4 5-8 5 0 5-1 5 0 5 23 5-3 5-16 5 21 5-31 5-3 5 7 5-35 5 22 5 23 5 2 5-35 5 9 5 3 5 4 5 4 5-24 5 31 5-5 5 5 5-9 5 7 5-23 5 29 5 0 5-3 5-16 5 32 5 4 5-46 5 39 5-1 5-41 5 49 5-1 5 4 5-11 5-12 5 4 5 15 5 4 5-31 5 2 5 4 5-56 5 33 5-28 5-52 5 25 5-45 5 14 5 2 5-43 5 10 5 29 5-9 5 63 5 13 5 26 5-27 5 45 5 10 5-30 5 47 5-32 5 21 5-22 5 32 5 14 5-27 5 7 5 23 5-30 5 4 5 15 5-10 5 21 5-6 5 7 5-32 5 24 5-32 5 27 5 13 5 12 5-61 5 16 5 11 5-22 5 22 5-3 5-20 5 2 5-11 5 15 5 15 5-11 5 35 5-66 5 15 5 17 5-30 5 25 5 9 5-12 5-3 5 11 5-10 5-1 5-4 5-23 5-3 5 16 5 14 5-3 5 21 5-11 5 12 5-12 5-12 5 25 5-5 5-23 5 5 5 47 5-102 5 73 5-16 5-2 5-1 5-4 5 41 5-45 5 3 5 17 5-9 5-9 5 2 5-15 5 37 5-31 5-16 5 55 5-5 5-1 5-16 5 21 5-34 5-17 5 35 5 11 5-1 5 24 5-22 5-15 5 4 5 19 5-13 5 2 5-23 5 21 5-17 5 17 5-2 5 6 5 18 5-29 5 30 5-46 5 22 5 14 5 17 5-49 5 17 5 5 5-6 5-14 5-13 5 5 5 21 5-22 5 46 5-10 5-49 5 19 5 29 5 9 5-4 5-39 5 21 5 29 5-24 5-13 5 17 5 5 5-11 5 4 5 14 5-26 5-12 5 25 5-37 5 25 5-21 5 24 5-30 5 41 5-15 5-10 5-8 5 15 5-13 5-4 5 38 5-9 5 4 5-42 5-12 5 3 5 36 5 4 5-48 5 47 5-19 5-13 5 17 5 11 5-14 5-1 5-11 5-5 5 19 5-20 5 36 5-23 5 28 5-45 5 43 5-34 5 0 5 21 5 7 5-12 5-8 5 39 5-24 5-25 5 19 5 31 5-26 5 10 5 22 5-42 5 19 5-14 5 4 5 4 5-30 5 21 5 3 5 21 5-26 5-9 5 27 5-27 5 22 5 9 5-24 5 12 5-15 5-33 5 24 5-11 5 36 5-15 5 18 5 2 5 19 5-27 5-3 5 15 5 18 5-32 5 13 5-9 5-9 5-12 5 26 5-7 5 5 5 36 5-42 5 10 5-10 5 26 5-25 5 38 5-29 5 17 5 6 5-19 5 17 5-15 5-15 5-2 5 11 5 24 5-34 5 17 5-21 5 16 5-29 5 7 5 15 5-14 5 11 5 21 5-14 5-15 5-5 5 11 5 25 5-23 5 3 5 13 5 0 5 5 5-21 5-10 5-14 5 20 5 4 5 17 5-8 5-15 5 24 5-31 5 1 5-3 5 2 5 9 5-14 5-6 5 23 5-63 5-19 5-18 5-25 5-41 5-56 5-47 5-34 5-6 5-38 5-16 5 64 5 9 5 54 5 72 5 21 5 69 5-22 5 60 5 17 5 23 5-13 5 23 5-3 5 5 5-24 5-3 5 34 5 1 5-4 5 10 5 7 5-31 5 31 5 12 5-5 5-10 5-5 5-37 5 12 5 25 5 2 5-18 5-15 5 9 5 14 5 24 5-14 5-16 5 21 5-2 5 34 5-32 5-13 5-5 5-15 5 3 5 5 5-1 5 17 5-3 5 12 5 12 5-26 5-6 5-29 5 37 5 4 5-22 5 4 5-5 5 29 5-6 5 9 5-42 5 61 5-53 5-4 5 20 5-12 5 29 5-47 5-18 5 15 5-7 5-47 5-6 5-7 5-5 5 26 5-3 5 7 5 16 5-6 5 29 5-4 5-1 5 47 5-45 5 29 5-5 5-16 5 25 5 3 5 5 5-22 5 26 5-14 5 6 5-43 5 23 5-6 5 22 5-23 5 9 5-10 5-2" fill="none" stroke="#3d89c0" stroke-width="13" stroke-linejoin="round"/>
<path transform="scale(.1)" d="M963 3958l0-40 1371 0 80-3 50-6 40-9 50-19 80-41 30-12 20-6 30-4 20 1 30 7 30 12 90 45 60 21 30 6 60 6 60 2 1401 0 80-3 40-4 60-14 60-25 70-36 40-14 30-4 20 1 40 10 80 39 40 16 40 5 60-12 40-1 91 33 50 8 1380 0 30-3 40-10 30-14 60-38 20-9 20-5 21 2 20 7 70 43 20 10 30 10 20 4 60 4 501-1 5-2 5-8 5-40 12-349 3-25 5 89 7 234 5 71 5 17 5 1 8-3 14-9 20-19 10-13 30-50 60-128 20-30 10-10 10-6 10-2 10 1 10 5 20 17 40 41 30 21 10 5 60 17 30 14 30 22 100 89 30 19 40 17 40 9 60 5 350 1 5-8 5-73 5-393 12-2526 4 389 6 1690 5 711 5 183 5 25 3 2 1877 0 50-5 30-11 40-21 20-3 10 1 20 8 40 21 20 6 40 4 1661 0 60-5 40-13 60-29 20-3 20 2 50 23 0 40-50-23-20-2-20 3-60 29-40 13-60 5-1661 0-40-4-20-6-40-21-20-8-10-1-20 3-40 21-30 11-50 5-1877 0-3-2-5-25-5-183-5-711-6-1690-4-389-12 2526-5 393-5 73-5 8-350-1-60-5-40-9-40-17-30-19-100-89-30-22-30-14-60-17-10-5-30-21-40-41-20-17-10-5-10-1-10 2-10 6-10 10-20 30-60 128-30 50-10 13-20 19-14 9-8 3-5-1-5-17-5-71-7-234-5-89-3 25-12 349-5 40-3 6-7 4-501 1-60-4-20-4-30-10-20-10-60-38-20-9-20-5-21 2-20 7-70 43-30 14-40 10-30 3-1380 0-50-8-91-33-40 1-60 12-40-5-40-16-80-39-40-10-20-1-20 2-30 8-20 8-70 36-60 25-60 14-40 4-80 3-1401 0-60-2-60-6-30-6-60-21-90-45-30-12-30-7-20-1-20 2-30 8-30 12-80 41-50 19-40 9-50 6-80 3z" fill="#5cb85a" opacity=".85"/>
<path transform="scale(.1)" d="M963 3972l5-74 5 47 5-22 5-3 5 3 5-28 5 30 5-5 5 68 5-52 5-8 5 0 5-7 5-3 5 12 5 14 5-13 5 19 5-21 5 6 5 21 5-17 5-17 5 4 5 10 5 21 5-29 5 3 5 18 5-30 5 16 5 8 5-6 5-6 5 12 5-55 5 64 5-30 5-12 5 31 5 7 5-18 5-7 5 19 5-2 5 21 5-11 5-15 5 11 5-23 5-12 5 22 5 5 5-5 5-5 5 16 5-44 5 53 5-10 5-35 5 29 5-12 5 25 5-42 5 12 5 25 5 8 5-51 5 22 5 19 5-15 5 34 5-46 5 28 5-25 5 42 5-24 5-1 5-18 5 52 5-15 5 3 5 1 5-13 5-16 5-4 5-3 5 37 5-44 5 16 5 7 5 5 5 6 5-30 5-11 5 24 5 23 5-8 5-11 5-10 5 8 5-7 5 17 5-23 5 17 5-3 5 15 5-5 5 35 5-13 5 2 5-56 5 27 5-2 5 16 5-47 5 49 5-1 5-38 5 8 5 3 5 15 5 11 5 18 5-42 5 19 5-12 5 27 5-15 5 14 5-39 5 12 5-9 5 38 5-12 5-20 5 0 5 8 5-19 5-1 5 24 5 33 5-39 5-5 5-13 5 0 5 28 5 8 5-15 5 7 5-4 5 0 5-30 5 18 5 8 5-11 5 6 5-3 5 6 5 20 5-22 5 2 5 17 5-2 5 16 5-58 5 51 5-23 5 7 5 8 5 3 5-3 5-15 5 30 5-29 5 0 5 12 5-27 5 42 5-21 5 19 5-37 5-4 5 7 5 8 5-22 5 19 5-4 5 25 5-39 5 27 5-26 5-11 5 6 5-8 5 21 5 15 5-15 5 11 5 23 5-26 5-2 5-4 5-22 5 38 5-42 5 40 5-12 5 19 5-24 5-9 5 23 5-12 5 0 5 6 5-3 5-3 5-9 5 14 5-27 5 30 5-13 5 38 5 1 5-53 5 36 5-9 5-16 5 28 5-17 5-21 5 28 5 0 5 2 5-16 5 27 5 2 5-28 5 11 5 3 5-6 5 36 5-26 5-18 5 9 5 14 5 37 5-37 5 5 5 2 5-5 5 35 5-43 5 14 5-8 5 1 5-24 5 47 5-27 5 2 5-12 5-2 5 16 5 7 5-2 5 9 5-10 5-10 5 15 5-3 5-14 5 17 5 11 5-18 5-13 5 21 5 16 5-37 5 0 5-2 5 21 5-47 5 32 5 12 5-32 5 36 5-13 5-13 5 11 5-26 5 11 5 37 5-49 5 46 5-31 5 16 5-22 5-38 5 32 5 9 5-18 5 1 5 20 5-19 5-15 5 10 5 25 5-16 5 18 5 7 5-25 5-24 5-12 5 16 5 9 5-13 5 0 5-16 5 16 5-18 5 0 5-14 5-3 5 8 5-8 5-5 5 27 5-19 5 49 5-36 5-23 5 14 5-7 5-19 5 29 5-32 5-34 5 59 5-25 5 35 5-38 5-13 5 42 5-44 5 16 5 23 5-21 5-3 5 0 5 9 5-32 5 25 5 1 5 29 5-43 5-3 5 21 5-15 5 16 5 2 5 23 5-25 5 12 5-38 5 30 5 39 5-35 5 0 5-5 5 24 5-4 5-12 5 44 5-8 5 15 5-18 5 39 5-21 5-6 5-6 5 3 5 21 5-19 5 26 5-7 5 19 5-9 5-12 5-27 5 41 5 7 5-5 5 9 5-18 5 1 5-3 5 36 5-14 5-5 5-13 5 14 5 23 5-16 5-18 5 35 5 2 5-9 5-2 5 1 5-9 5 0 5-19 5 32 5-20 5 29 5-60 5 45 5 9 5-15 5 15 5-4 5-5 5-22 5 5 5 15 5 9 5-19 5-1 5-1 5 16 5-34 5-7 5 22 5-21 5 6 5 11 5 8 5-24 5 34 5-35 5 37 5-37 5 7 5 27 5-20 5-3 5 8 5 9 5-5 5 0 5 14 5-32 5 3 5-7 5 27 5-5 5 8 5-19 5 1 5 20 5-20 5 17 5-6 5-20 5 11 5 1 5 33 5 9 5-39 5 3 5-36 5 43 5 5 5-14 5 27 5-35 5 20 5 2 5-28 5 32 5-3 5-40 5-3 5 32 5-11 5-18 5 17 5 5 5 2 5 15 5-8 5 20 5-7 5-10 5 14 5 10 5-9 5-28 5 33 5-17 5 23 5-28 5 6 5-5 5 20 5-27 5-4 5 11 5-9 5 10 5-3 5 4 5 30 5-34 5 7 5-2 5 13 5-32 5 4 5 5 5 12 5-8 5-5 5-8 5 25 5 15 5-18 5-2 5 5 5-16 5 9 5 2 5 8 5-4 5-20 5 34 5 11 5-28 5 6 5-7 5 12 5-35 5 53 5-30 5 29 5-19 5-11 5-2 5 19 5-28 5 8 5-1 5-14 5 47 5-10 5-13 5 13 5-34 5 13 5 23 5-13 5-47 5-16 5 36 5 35 5-22 5-4 5 6 5-23 5 20 5 4 5 3 5-1 5-16 5 16 5-12 5 23 5 19 5-53 5-26 5 28 5 14 5 12 5 0 5-33 5 0 5 36 5-43 5 34 5-16 5 12 5-2 5 6 5 2 5-26 6 23 5-3 5 3 5 14 5-22 5-7 5 0 5 5 5 13 5-30 5 29 5-16 5-7 5-17 5 26 5 7 5-32 5 48 5 5 5-22 5 7 5 30 5-21 5-31 5 17 5-4 5-3 5-35 5 44 5-22 5 16 5-3 5 16 5-9 5-5 5 17 5 14 5-24 5 22 5-19 5-14 5 35 5-39 5 26 5-26 5 19 5-31 5 2 5 37 5-11 5-3 5-7 5 20 5-30 5 1 5 19 5-13 5 2 5 3 5-3 5-3 5 32 5-12 5 4 5-14 5-8 5-13 5 13 5-24 5 21 5 22 5 12 5-12 5-32 5 26 5-24 5 24 5-11 5 20 5 23 5-24 5 21 5-36 5-8 5 27 5 5 5-33 5 10 5-25 5 18 5 17 5-15 5-12 5-12 5 35 5 15 5 0 5-6 5-27 5 44 5-33 5-9 5 15 5-43 5 37 5 2 5 12 5 21 5-18 5-38 5 23 5 10 5-1 5-22 5-7 5 37 5-3 5-6 5-26 5 57 5-79 5 39 5 39 5-34 5 6 5-19 5 48 5-40 5 27 5-2 5-24 5 27 5-35 5 9 5 8 5-2 5 11 5-2 5-16 5-5 5-1 5 0 5 23 5-18 5 10 5-11 5-12 5 22 5-35 5 14 5 20 5-41 5 15 5-28 5 18 5-16 5 16 5-4 5 13 5 18 5-24 5 0 5-13 5-8 5-10 5-19 5 28 5 20 5-20 5-19 5 36 5-39 5-3 5-13 5 1 5 11 5 33 5-41 5-16 5 5 5 1 5-25 5 27 5 7 5-10 5 5 5-28 5-4 5 51 5 3 5-44 5 28 5-3 5 9 5-4 5-9 5 15 5 0 5-2 5-28 5-17 5 33 5-10 5 30 5 7 5-3 5-6 5 11 5 20 5-31 5 31 5-2 5-4 5 23 5-29 5 24 5-29 5 7 5-4 5 26 5-20 5 19 5-23 5 37 5 9 5-27 5 22 5-16 5 21 5-32 5-19 5 50 5-23 5-12 5 7 5-21 5 28 5-15 5 39 5-13 5-36 5-3 5 13 5-21 5 31 5-2 5-11 5 4 5 14 5 9 5 6 5-20 5 13 5-23 5 17 5-19 5 23 5-25 5 8 5 21 5 11 5-25 5 13 5 12 5 2 5-18 5 19 5-7 5 26 5-13 5-33 5-11 5 39 5 16 5-12 5 15 5-27 5-16 5 37 5-8 5 9 5-26 5 28 5-11 5 19 5-24 5-4 5-3 5 27 5-12 5-14 5-4 5-1 5 40 5-55 5 15 5 17 5 9 5-25 5 16 5-1 5 2 5-14 5 27 5-20 5 18 5-43 5 35 5-35 5-5 5 34 5-22 5 21 5-23 5 44 5-26 5-20 5 20 5 7 5-28 5 21 5 24 5-21 5-14 5-4 5 19 5-30 5-18 5 39 5-11 5 43 5-29 5-24 5-8 5 23 5-21 5 3 5 12 5 8 5 2 5 4 5 18 5 1 5-56 5 70 5-39 5 22 5-29 5 19 5-5 5 1 5 11 5-3 5-28 5 13 5 9 5 1 5-19 5 2 5 3 5-17 5-2 5 48 5-34 5 12 5-10 5 37 5 8 5-31 5 16 5-21 5 41 5-13 5-25 5 29 5-13 5-2 5-2 5-13 5-2 5 23 5-9 5-14 5 45 5-36 5-10 5-4 5 23 5 5 5-10 5 14 5-38 5 20 5-1 5 13 5 4 5-40 5 80 5-61 5 17 5 8 5-1 5-5 5-49 5 29 5 28 5-29 5-6 5-20 5 55 5-11 5-19 5 9 5 1 5-18 5 14 5 9 5 14 5 8 5-21 5-8 5 14 5-23 5-12 5 40 5-20 5 9 5 9 5-26 5 31 5-6 5-11 5 11 5-22 5-24 5 34 5-5 5 30 5-12 5-12 5-2 5 15 5-1 5-8 5-3 5-5 5 4 5 11 5-16 5 8 5-24 5-7 5 1 5 18 5 28 5-2 5-33 5-13 5 43 5-3 5-31 5 39 5-14 5 13 5-16 5 13 5-11 5-19 5 14 5-8 5 24 5-28 5-10 5 35 5 10 5 5 5-9 5-47 5 15 5-1 5 7 5-33 5 37 5 6 5-16 5 12 5 18 5-16 5 14 5 1 5-8 5-6 5-11 5 24 5-29 5 1 5 30 5-29 5 21 5 9 5-16 5-2 5 19 5 1 5-36 5 0 5 47 5-21 5-44 5 13 5 26 5-22 5 25 5-4 5 3 5-30 5 34 5 27 5-43 5 33 5-4 5-5 5-12 5-18 5 4 5 24 5 3 5 4 5-7 5-2 5-16 5-13 5 20 5 7 5-12 5-29 5 14 5-13 5 23 5-19 5 15 5 6 5-6 5 20 5-41 5-14 5 50 5 8 5 2 5-14 5 1 5-3 5-23 5 11 5 16 5-20 5 37 5-53 5 17 5 23 5-23 5-9 5-6 5 1 5 37 5-25 5 1 5-16 5 25 5-14 5-27 5 6 5 8 5 12 5-22 5 14 5 21 5-48 5-6 5 32 5-13 5-14 5 5 5-18 5 13 5-16 5 13 5-37 5 0 5 14 5-11 5 22 5-13 5-6 5 10 5-18 5-18 5 14 5 7 5 9 5 15 5 11 5-8 5 22 5-5 5-23 5 32 5-5 5-22 5 18 5 12 5-12 5 19 5-8 5 9 5-11 5 15 5-8 5 18 5-33 5 36 5 20 5-10 5-4 5 8 5-22 5-4 5 7 5 4 5 18 5-25 5 33 5-37 5 15 5 16 5 15 5-30 5-30 5 42 5-8 5-18 5 1 5 2 5 13 5 4 5-32 5 61 5-33 5-11 5 20 5-9 5 33 5-18 5-20 5-4 5-1 5 5 5 14 5-25 5 35 5-26 5-1 5 19 5-44 5 22 5 28 5-11 5-4 5 13 5-21 5 4 5-12 5-10 5 46 5-37 5 4 5 31 5-5 5-30 5 4 5 7 5-14 5 24 5-5 5-1 5 4 5 4 5 11 5-2 5-52 5 47 5-34 5-1 5 36 5-16 5 8 5 20 5-23 5-5 5 15 5 20 5-10 5-42 5 18 5 13 5 33 5-15 5 2 5 5 5-26 5 15 5-1 5-24 5 17 5 8 5-28 5 26 5-1 5 8 5-32 5 15 5 20 5-11 5-31 5 14 5 24 5-23 5 8 5 39 5-41 5-1 5-13 5 4 5 31 5-27 5-18 5 6 5 18 5 12 5-27 5 19 5-23 5 14 5 4 5 3 5-28 5-50 5-125 5-194 5-12 5 138 5 170 5 70 5 22 5 3 5-18 5 6 5 2 5-2 5-24 5 8 5-37 5 41 5-34 5 6 5-30 5 7 5 4 5-1 5-45 5 28 5-29 5-19 5 11 5-26 5-10 5-11 5 2 5-13 5-6 5-24 5-5 5 7 5 7 5-33 5 13 5-32 5-26 5 23 5-32 5 17 5 10 5-19 5 2 5 42 5-32 5-1 5 8 5-12 5 8 5 12 5-36 5 71 5-31 5 3 5 32 5-5 5-18 5 28 5-16 5 6 5-10 5 14 5 21 5-4 5 4 5 10 5-12 5-7 5 10 5 33 5-18 5 6 5-7 5 7 5 5 5-7 5-1 5-9 5-3 5 19 5 7 5 5 5-13 5-12 5 26 5 3 5-33 5 44 5-1 5 23 5-41 5 3 5 37 5-35 5 18 5 3 5 8 5-7 5 40 5 24 5-8 5 1 5-11 5 31 5-7 5 15 5-36 5 36 5-25 5 30 5 1 5-14 5 25 5 25 5-12 5 6 5-23 5 9 5-5 5 25 5 15 5-10 5-7 5-15 5 27 5-7 5-26 5 6 5 20 5-6 5 44 5-23 5-12 5 14 5 30 5-43 5 27 5-9 5 13 5-15 5-12 5 18 5-3 5 13 5-15 5 32 5-36 5 9 5-13 5 14 5 3 5 5 5 6 5-26 5-8 5 28 5-26 5-6 5 26 5-6 5-49 5 38 5 14 5 3 5-22 5 25 5-38 5 11 5 5 5 0 5 14 5 2 5-15 5 22 5-35 5 7 5 33 5-31 5 12 5-22 5 4 5 2 5 6 5-8 5 2 5 10 5 5 5-17 5 8 5 7 5-31 5-4 5 49 5-5 5-19 5 3 5-28 5-6 5 27 5-32 5 35 5-24 5 18 5 28 5 2 5-32 5 24 5-36 5 4 5 12 5 14 5-33 5 23 5-3 5-21 5-13 5-167 5-756 5-1312 5-725 5 782 5 1339 5 691 5 176 5 21 5-26 5-3 5-2 5 6 5 6 5 31 5 7 5-38 5 20 5-33 5 15 5-11 5-8 5 25 5-1 5-11 5-1 5-8 5 17 5-8 5 15 5-21 5 21 5 7 5 10 5 1 5-15 5-18 5-20 5 27 5 21 5 5 5-61 5 26 5 10 5-9 5 25 5-4 5-6 5 9 5-26 5 8 5-2 5 25 5-43 5 27 5 16 5-12 5 14 5-24 5 16 5 4 5 18 5-23 5 12 5-22 5 3 5 23 5-18 5 14 5-11 5 22 5 7 5-49 5 43 5-23 5-2 5-7 5 12 5-27 5 8 5-1 5 18 5 11 5-7 5-2 5-13 5-21 5 35 5-9 5 2 5 20 5-23 5-7 5-25 5 49 5-12 5-13 5 19 5-27 5 3 5 40 5-16 5-1 5-5 5-3 5-7 5 30 5-34 5 12 5-14 5-9 5-29 5 10 5 58 5-1 5-25 5 7 5 15 5-30 5 44 5-42 5 3 5-36 5 68 5-26 5 23 5-50 5 23 5-3 5 3 5 34 5 12 5-14 5-31 5 18 5 5 5-12 5 1 5-2 5-22 5 22 5 22 5-38 5 17 5 5 5-42 5 18 5-29 5 18 5-9 5 10 5 5 5 5 5-2 5-32 5 65 5-29 5-13 5 10 5 14 5-24 5 8 5-1 5 15 5-20 5 28 5 3 5-8 5 26 5-17 5-23 5 22 5-2 5 0 5 2 5 30 5-40 5 1 5-18 5 30 5-21 5-12 5-5 5 35 5-2 5-40 5 19 5 25 5 8 5-35 5 11 5 15 5-28 5-2 5-4 5-7 5 21 5 7 5-27 5 27 5 14 5-11 5 12 5-29 5 34 5-35 5 42 5-34 5 0 5-6 5 10 5-2 5-5 5 8 5 14 5 5 5-16 5 26 5-39 5-1 5 0 5 25 5-29 5 6 5 44 6 8 5-4 5-49 5 25 5 10 5-13 5-29 5 22 5-25 5 11 5 54 5-22 5-40 5 3 5 25 5-16 5 17 5-19 5 5 5 12 5-24 5-10 5 15 5 10 5 7 5 4 5-9 5 9 5-21 5 35 5 11 5-22 5-1 5 9 5-8 5-5 5-6 5-10 5 1 5 27 5 7 5-37 5 12 5 0 5-10 5-6 5 5 5-23 5 30 5-7 5 39 5-22 5-18 5 9 5 34 5 2 5-22 5-8 5-26 5 15 5-1 5-6 5 37 5-56 5 24 5 11 5 0 5 22 5-47 5 13 5 9 5-3 5-9 5-14 5 30 5-35 5 9 5 34 5 9 5-10 5-26 5-1 5 4 5-2 5 9 5 27 5-18 5-18 5-1 5-9 5 41 5-51 5 37 5-28 5 8 5-9 5 40 5-18 5 41 5-58 5 1 5 27 5-1 5-7 5-29 5 54 5-15 5-1 5-17 5 21 5-21 5 10 5-7 5 20 5-30 5 2 5 28 5-13 5-3 5-2 5 19 5-26 5 18 5 28 5-24 5-20 5-9 5 17 5-22 5-8 5 15 5-3 5 33 5-35 5 46 5-37 5 9 5 10 5-7 5 6 5-26 5-23 5 31 5-30 5 19 5 26 5-12 5-9 5-9 5 12 5-1 5-20 5 32 5-17 5 22 5-9 5 17 5-5 5-16 5-4 5 8 5 19 5-8 5-15 5 0 5 19 5-50 5 35 5-26 5 39 5-30 5 1 5-14 5 17 5 10 5 6 5-50 5 11 5 60 5-52 5-17 5 1 5-45 5 68 5-22 5-24 5 49 5-34 5-1 5 21 5-2 5-17 5 8 5-19 5 8 5 45 5 10 5-11 5-1 5-11 5 4 5-10 5 47 5-34 5 18 5-7 5-20 5 54 5-33 5-3 5 19 5-15 5 16 5-18 5 24 5-15 5-29 5 44 5-10 5-18 5 27 5 8 5 22 5-43 5 29 5-18 5 10 5-17 5 6 5 3 5-25 5-17 5 36 5-4 5 11 5 10 5-15 5 27 5-25 5 0 5 14 5 2 5-13 5 5 5-13 5 5 5 10 5 9 5-19 5 24 5 14 5 4 5-33 5 17 5-10 5 1 5 5 5-6 5 7 5-6 5-4 5 9 5 6 5 8 5-14 5 2 5 13 5-39 5 12 5 11 5-9 5-16 5 35 5-20 5-18 5 49 5-55 5 20 5-13 5 16 5 2 5-22 5 12 5 5 5-16 5 36 5-19 5-10 5-8 5 3 5 5 5-6 5 28 5-61 5 9 5 32 5-25 5 34 5-10 5 18 5-3 5 12 5-8 5 3 5-14 5 5 5-10 5-23 5-7 5 2 5 35 5-48 5 44 5-16 5 19 5-9 5-12 5 11 5-36 5 46 5 5 5-37 5 39 5-14 5 0 5-26 5 32 5 1 5-12 5-17 5 27 5 9 5-14 5 11 5-18 5 19 5 2 5-6 5 44 5-44 5-15 5 26 5-32 5 24 5 12 5-21 5 1 5-9 5 18 5-17 5 39 5-19 5-16 5-23 5 57 5-14 5-12 5-7 5 1 5-11 5 41 5-26 5-23 5 11 5-30 5 49 5-1 5 15 5 3 5-43 5 20 5 12 5-2 5-22 5 20 5-7 5 15 5-22 5-4 5-5 5 0 5-3 5 9 5 15 5-3 5 16 5-11 5-8 5-28 5 27 5 10 5-36 5 1 5 5 5-3 5 8 5-15 5 17 5-27 5 25 5-7 5-8 5 39 5-21 5 3 5-13 5 17 5-5 5-9 5-24 5 43 5-4 5-7 5-1 5-3 5-3 5-22 5 15 5 7 5-13 5-6 5 46 5-16 5-11 5-6 5-34 5 19 5 15 5 25 5-50 5 20 5 45 5-21 5-8 5 11 5-19 5 0 5 16 5 2 5-29 5 42 5-55 5 14 5 60 5-55 5 18 5-25 5 12 5-9 5 3 5 18 5 17 5-13 5 13 5-32 5 33 5-14 5 13 5-29 5 9 5 25 5-12 5-7 5-14 5 7 5 9 5 2 5-20 5 4 5 8 5-26 5 34 5-15 5 0 5-38 5 14 5 10 5 2 5-12 5 27 5-2 5-7 5-25 5 57 5-27 5 15 5-24 5 14 5 8 5-4 5 10 5-14 5 35 5-58 5 19 5 26 5-16 5-2 5-20 5 50 5-49 5 34 5-7 5 14 5 8 5-37 5-2 5 9 5-29 5 40 5-23 5 10 5-23 5 20 5-16 5 3 5-20 5 38 5-24 5-34 5 53 5-11 5-12 5 51 5-40 5-18 5 6 5 19 5-11 5 25 5-4 5-23 5 15 5 13 5-21 5-2 5 20 5-6 5-37 5 17 5 1 5 8 5-10 5 39 5-39 5 0 5 10 5-42 5 16 5 26 5-30 5 12 5 36 5-13 5-5 5 2 5-16 5 14 5-6 5 42 5-34 5-14 5 3 5-1 5-26 5 7 5 37 5-47 5 9 5 22 5 6 5-42 5 31 5-23 5 37 5-24 5-16 5 18 5-10 5-32 5 51 5-42 5 25 5-23 5-18 5 16 5 23 5 15 5 19 5-20 5-6 5-18 5 14 5 8 5-40 5 60" fill="none" stroke="#5cb85a" stroke-width="13" stroke-linejoin="round"/>
<path transform="scale(.1)" d="M963 3028l1541-1 30-3 40-10 30-16 70-54 20-11 20-5 20 3 10 4 20 12 50 41 40 24 20 7 30 6 50 3 931 0 60-3 30-4 80-19 30-4 40 2 100 22 50 5 420 0 30-5 20-8 20-16 10-12 30-57 60-166 10-19 10-12 10-4 10 4 10 11 10 19 60 165 10 23 20 35 20 22 20 12 30 7 30 2 1631-1 60-8 30-9 50-21 30-9 31-2 30 6 90 34 50 8 50 2 496-1 5-9 5-42 12-372 3-26 5 96 7 253 5 77 5 20 5 4 62-1 40-6 20-8 20-16 20-25 20-36 50-124 20-41 10-14 10-7 10-2 10 6 10 11 10 17 60 146 20 38 20 28 20 16 20 10 20 5 40 3 541 0 4-5 5-50 5-267 12-1718 4 265 6 1149 5 483 5 125 5 17 179 1 90-6 40-9 90-35 20-6 30-4 40 5 30 10 50 21 50 15 70 8 700 0 20-2 30-7 30-17 10-8 31-36 50-70 20-16 10-3 20 5 10 8 20 24 40 58 20 24 20 17 20 12 20 6 40 5 1471 1 80-3 50-6 60-16 40-17 90-45 40-11 30-2 40 8 40 17 90 45 50 16 60 10 120 4 0 40-120-4-60-10-50-16-90-45-40-17-40-8-30 2-40 11-90 45-40 17-40 12-70 10-80 3-1471-1-40-5-20-6-20-12-20-17-20-24-40-58-20-24-10-8-20-5-10 3-20 16-50 70-31 36-30 21-40 11-40 3-680-1-70-8-50-15-70-28-30-7-20-1-30 4-110 41-40 9-90 6-179-1-5-17-5-125-5-483-6-1149-4-265-12 1718-5 267-5 50-4 5-541 0-40-3-20-5-30-17-10-9-20-28-20-38-60-146-10-17-10-11-10-6-10 2-10 7-10 14-20 41-50 124-20 36-20 25-20 16-20 8-40 6-62 1-5-4-5-20-5-77-7-253-5-96-3 26-12 372-5 42-5 9-496 1-50-2-50-8-90-34-30-6-31 2-30 9-50 21-30 9-20 4-70 5-1601 0-30-2-20-4-20-8-10-7-20-22-20-35-10-23-60-165-10-19-10-11-10-4-10 4-10 12-10 19-60 166-30 57-10 12-20 16-20 8-30 5-420 0-50-5-100-22-40-2-30 4-80 19-30 4-60 3-931 0-50-3-30-6-20-7-40-24-50-41-30-16-20-3-10 1-30 15-50 40-20 14-30 16-40 10-30 3-1541 1z" fill="#a55fba" opacity=".85"/>
<path transform="scale(.1)" d="M963 3036l5 11 5 28 5-15 5-40 5 29 5-14 5 13 5-27 5 37 5 1 5 25 5-20 5 5 5-37 5 55 5-66 5 48 5-28 5-8 5 7 5-5 5 18 5-1 5 25 5-57 5 32 5-15 5 24 5-44 5 32 5 11 5-32 5 35 5-12 5 13 5-4 5-25 5 2 5 6 5 16 5 5 5-25 5 2 5 0 5 5 5 4 5 5 5 40 5-36 5 2 5 14 5-24 5 6 5 2 5 12 5-39 5 42 5-28 5 10 5 13 5 2 5 0 5-13 5-6 5 5 5-25 5 42 5-33 5-5 5 50 5-35 5-20 5 49 5-40 5 23 5-31 5 9 5-27 5 0 5 17 5 20 5 13 5 32 5-56 5 30 5-28 5 9 5-24 5 1 5 12 5-7 5 18 5-13 5 26 5-20 5 0 5 16 5-8 5-4 5-1 5-3 5 19 5-6 5-5 5 7 5-23 5 18 5-28 5 43 5-20 5 4 5 6 5-9 5-1 5 25 5-17 5-18 5 21 5-39 5 51 5-36 5 3 5 34 5 0 5-32 5 4 5 11 5 7 5-27 5 8 5 19 5-14 5 17 5 0 5-30 5 7 5-30 5 38 5 28 5-42 5 38 5-4 5-22 5 0 5 7 5-16 5 9 5 7 5 12 5 0 5-27 5 24 5-23 5 6 5 10 5-7 5-2 5 4 5-14 5 1 5 7 5 19 5-19 5 29 5-31 5-46 5 43 5 34 5-32 5-3 5-7 5 34 5-4 5-3 5-6 5 16 5-10 5-34 5 31 5-13 5-2 5 15 5-13 5-46 5 71 5-9 5-21 5-4 5 9 5-25 5 25 5-5 5-6 5-9 5 4 5 26 5 2 5-12 5-8 5-10 5 27 5 14 5-52 5 44 5-58 5 31 5 10 5-26 5 0 5 27 5 9 5-17 5 23 5-31 5 38 5-28 5-3 5 5 5-5 5 28 5 12 5-20 5-6 5-12 5 5 5 9 5-6 5-3 5 0 5 8 5-33 5 4 5 36 5 1 5-23 5 31 5-27 5 8 5-33 5 50 5-16 5 16 5-10 5-9 5 2 5 13 5-22 5 2 5 4 5 5 5 3 5 19 5-31 5 22 5-29 5 23 5-8 5 25 5-21 5-17 5 16 5-2 5-11 5 3 5-5 5 61 5-41 5 10 5-34 5-3 5 14 5-4 5 14 5-28 5 28 5 20 5-37 5 35 5-33 5 20 5 2 5 24 5-38 5 15 5 16 5-35 5 18 5-13 5 6 5 16 5 5 5 26 5-19 5-4 5-24 5-8 5 12 5-44 5 62 5-32 5-7 5 8 5 28 5 4 5-31 5 15 5-9 5-15 5 19 5-2 5-25 5 42 5-41 5 30 5-21 5-2 5-2 5 15 5-28 5 18 5 27 5-38 5 13 5 5 5-23 5 17 5-18 5 17 5-13 5-17 5 32 5-28 5-4 5-18 5 2 5-1 5-2 5 8 5-33 5 8 5 22 5-19 5-4 5 12 5-22 5-3 5-11 5 31 5-16 5-26 5 21 5-25 5 38 5-5 5-12 5-2 5-22 5 43 5-10 5 2 5 23 5-18 5 4 5 7 5-11 5 61 5-33 5 3 5 23 5-57 5 59 5 0 5-12 5 23 5-40 5 29 5 15 5-49 5 17 5 24 5 6 5-11 5 17 5-3 5-24 5 24 5-19 5-11 5-1 5 51 5-20 5 35 5-52 5 16 5 13 5-7 5 10 5-8 5-14 5-26 5 23 5 43 5-16 5 9 5-33 5 5 5-7 5 20 5-2 5 8 5 19 5-47 5 25 5-36 5 40 5-23 5 6 5 3 5 27 5-27 5-14 5-13 5 23 5-20 5 6 5 11 5 8 5-25 5 24 5 17 5-50 5 48 5 15 5-42 5 19 5-33 5 34 5-12 5 5 5-21 5 1 5 9 5-2 5 3 5 5 5-12 5 11 5 10 5-44 5 46 5-16 5-4 5-6 5 6 5 1 5 18 5-29 5 42 5-28 5 22 5 12 5-38 5 37 5 19 5-43 5 11 5-13 5 2 5-7 5-7 5 22 5 5 5-10 5 21 5-2 5-6 5-20 5 36 5-8 5-58 5 20 5 10 5 24 5 3 5-20 5 9 5 10 5-32 5 28 5-18 5 11 5-5 5-18 5 7 5 16 5-1 5-5 5 22 5-22 5-14 5 14 5 1 5-1 5 16 5-10 5 7 5-5 5-15 5 19 5-23 5 12 5-24 5 17 5-2 5 15 5 19 5 9 5-21 5-19 5 9 5-8 5-13 5 10 5-1 5-2 5 29 5-30 5 0 5 20 5-24 5-4 5 2 5 18 5-1 5-2 5-15 5-4 5 37 5-41 5 19 5-14 5 16 5 2 5 21 5-62 5 61 5-41 5 19 5 7 5-22 5 12 5 12 5-12 5-13 5 11 5-2 5-28 5 47 5-20 5-39 5 24 5 38 5 0 5-19 5-33 5 24 5 20 5-9 5-11 5-4 5 29 5-17 5 10 5 4 5 17 5-22 5 2 5-31 5 43 5-2 5-16 5-37 5 26 5 11 5 30 5-29 5 4 5 1 5 11 5-36 5 6 5-9 5 12 5-6 5 3 6-18 5 19 5-14 5 48 5-42 5 43 5-18 5-45 5 37 5-8 5-33 5 32 5-13 5 4 5-19 5 9 5 7 5-11 5-9 5 5 5-12 5 18 5-48 5 68 5-20 5-1 5 7 5-32 5 52 5-55 5 26 5-2 5 17 5-19 5-25 5 32 5-42 5 34 5-3 5 35 5-31 5-2 5-3 5 1 5 3 5 22 5-29 5 16 5-25 5 21 5 9 5-25 5 9 5 13 5 16 5 5 5-12 5-12 5-6 5 42 5 10 5-21 5 22 5-30 5-3 5 34 5-36 5 25 5-4 5 0 5 29 5-43 5 10 5-25 5 13 5 7 5 3 5 2 5 11 5-11 5-21 5 35 5 3 5-31 5 2 5 42 5-13 5-3 5 1 5-7 5-12 5 21 5-11 5-7 5 5 5-3 5 15 5-31 5 57 5-57 5 11 5 25 5-27 5 2 5 9 5-53 5 41 5-8 5 12 5 17 5 3 5 14 5-1 5-7 5-20 5 20 5-34 5 15 5 24 5-12 5-36 5 13 5 25 5-3 5 8 5-48 5 9 5 21 5-11 5 17 5 5 5 4 5-8 5 7 5 7 5-9 5-20 5 38 5-13 5 1 5-5 5-25 5 38 5-24 5-11 5 42 5-29 5 13 5 13 5 9 5-55 5 17 5 21 5-28 5-43 5 54 5 4 5 9 5-9 5-12 5 8 5-9 5-9 5 9 5-3 5-27 5 22 5-10 5-6 5-65 5 33 5-14 5-35 5 12 5-48 5 31 5-24 5-25 5 16 5-27 5-18 5-48 5 13 5 4 5-14 5-49 5 37 5-1 5-21 5-26 5-22 5 12 5-1 5 18 5 9 5-11 5-5 5 36 5 4 5 59 5-29 5 39 5 22 5-15 5 50 5-2 5 2 5 6 5 30 5 19 5-38 5 52 5-1 5-2 5 27 5 10 5 7 5 22 5-24 5 46 5-20 5-21 5-18 5 30 5-3 5 24 5-3 5 14 5-25 5 11 5-21 5 2 5 36 5-30 5 2 5 0 5 7 5 2 5-9 5-14 5 26 5-15 5 8 5 6 5 2 5-43 5 70 5-10 5 13 5 6 5-56 5 2 5 15 5 16 5-23 5-2 5 25 5-34 5 18 5 16 5-21 5 15 5-18 5-26 5 19 5 9 5-4 5 10 5 6 5-5 5-1 5-5 5 0 5 2 5-3 5 35 5-58 5 36 5-32 5 14 5 15 5-14 5 28 5-39 5 12 5-3 5 9 5-8 5 3 5 9 5 19 5-14 5-1 5-8 5-7 5-14 5 4 5 18 5-28 5 39 5-21 5-12 5 6 5 15 5-4 5 1 5 28 5 4 5-59 5 36 5-27 5-13 5 18 5 30 5-21 5-2 5 31 5-19 5-13 5 27 5-24 5-16 5-7 5 9 5 13 5 15 5-2 5-14 5-20 5 30 5-13 5-20 5-4 5 20 5 4 5 8 5-31 5 50 5-59 5 25 5 27 5-2 5-32 5 25 5 12 5-12 5-30 5 44 5-53 5 26 5-16 5 7 5 0 5 14 5-30 5 23 5 19 5-12 5 8 5-2 5-21 5 10 5 2 5 9 5 27 5-4 5-33 5 1 5-9 5-23 5 55 5-13 5-37 5 27 5 39 5-26 5 1 5-7 5-14 5-5 5 6 5 13 5-1 5 17 5 13 5-17 5 9 5-22 5-17 5 51 5-23 5 4 5-25 5-21 5 55 5-61 5 34 5-3 5 13 5 8 5 3 5-54 5 49 5-44 5 44 5-22 5-10 5 6 5-15 5 18 5 17 5 0 5-10 5 14 5-4 5 30 5-30 5-16 5 5 5-11 5 12 5 5 5 10 5 1 5-11 5 5 5-24 5 4 5-31 5 22 5 3 5 47 5-64 5 22 5-5 5-18 5 36 5-1 5-23 5-9 5 37 5-27 5 32 5-18 5 13 5-20 5 33 5-13 5 15 5-23 5-15 5-11 5 17 5 12 5-16 5 51 5-36 5 8 5-7 5-21 5 42 5-2 5 7 5-26 5 18 5 0 5 17 5-47 5 31 5 8 5-30 5-6 5 35 5-18 5 20 5-10 5 7 5-19 5-29 5 45 5-22 5 24 5-19 5 31 5-28 5 21 5 1 5-22 5 5 5-7 5-17 5 40 5-36 5-11 5 13 5 12 5-1 5-7 5 1 5-17 5 40 5 23 5-42 5-21 5 40 5-9 5-66 5 52 5-8 5-2 5 49 5-14 5-18 5-2 5 29 5-45 5 26 5-18 5 22 5-12 5-17 5 30 5-9 5 26 5-39 5 5 5-9 5 30 5-32 5 13 5 24 5-15 5-6 5-2 5-3 5 3 5-14 5-29 5 58 5-39 5 46 5-23 5 50 5-32 5-13 5 8 5-40 5 27 5-10 5 8 5-32 5-2 5 52 5-11 5-9 5 8 5-12 5-1 5 19 5-18 5 15 5-24 5-21 5 15 5 11 5-21 5 8 5-2 5 28 5-3 5 6 5-28 5 16 5 15 5-22 5-3 5-12 5 19 5-12 5 15 5-17 5 32 5-31 5-23 5 20 5-1 5 17 5-30 5 0 5 1 5-1 5-32 5 47 5 3 5-36 5-5 5 18 5-11 5 25 5-22 5 19 5-29 5-8 5 0 5 7 5 32 5 0 5-5 5 0 5-39 5 55 5-39 5 39 5 24 5-40 5 10 5 5 5-28 5 2 5 10 5 16 5 15 5-8 5 18 5-24 5-14 5 23 5 0 5-21 5 39 5-33 5 4 5 11 5-21 5 32 5-5 5-1 5-7 5-5 5-7 5 16 5 10 5-11 5-6 5 13 5 10 5-36 5 24 5 21 5-30 5 4 5 15 5-19 5 27 5-22 5 8 5 35 5-19 5-45 5 5 5 5 5 13 5-16 5 35 5 11 5-1 5-36 5 4 5-3 5-2 5 41 5-40 5-7 5 21 5 0 5 20 5 1 5-27 5-31 5 42 5 3 5 18 5-56 5 9 5 49 5 1 5-5 5-18 5 16 5-28 5-8 5 19 5-5 5 6 5-2 5-47 5 36 5 9 5-23 5 17 5 3 5 5 5-22 5 3 5-4 5 24 5-7 5-4 5 21 5-17 5-18 5 34 5 0 5-5 5-20 5 37 5-24 5-25 5 27 5 31 5-41 5 15 5 13 5-18 5-10 5 10 5 6 5-12 5 16 5 0 5-16 5 19 5-3 5-18 5 5 5 3 5-6 5-1 5-11 5 16 5 13 5 2 5-31 5 23 5-1 5-41 5-41 5-156 5-181 5-27 5 132 5 138 5 134 5 15 5 25 5 15 5-14 5 1 5 8 5 6 5-19 5 4 5 15 5 17 5-24 5 15 5-25 5 10 5-3 5-23 5 20 5-3 5-37 5 42 5 1 5-6 5-2 5-28 5-1 5 7 5-14 5 3 5 23 5-38 5 0 5 27 5-39 5-20 5 12 5-5 5-10 5-39 5 15 5-10 5 12 5-34 5-29 5 0 5-9 5-26 5-6 5 5 5-23 5-10 5-29 5 11 5-40 5 47 5-30 5 14 5 9 5-35 5 37 5-10 5 16 5-16 5-5 5 39 5-5 5 8 5-8 5 54 5-10 5 11 5 8 5 24 5 24 5 1 5 15 5 1 5 42 5 8 5-22 5-2 5 28 5-23 5 32 5 6 5 4 5 24 5 10 5-15 5-10 5 25 5 5 5-39 5 11 5 10 5-22 5 8 5 50 5-47 5 31 5-24 5 34 5-7 5 10 5-43 5 27 5-17 5 17 5 0 5 0 5-4 5 4 5 1 5-11 5-3 5-5 5-9 5 36 5-41 5 44 5-7 5-38 5-7 5 35 5-18 5 19 5 15 5-8 5-17 5 3 5 22 5-32 5 34 5 14 5-40 5 15 5 24 5-40 5 18 5 6 5-38 5 23 5-2 5-14 5 32 5-26 5 34 5-23 5-25 5 16 5-16 5 28 5-11 5-28 5 12 5 18 5-11 5-9 5 32 5 4 5-47 5 49 5-59 5 25 5-7 5 2 5 11 5-19 5 18 5 28 5-20 5 16 5-8 5-36 5 54 5-17 5-3 5-18 5-3 5-9 5 17 5 5 5-4 5 0 5-24 5 19 5-3 5 15 5-8 5-3 5 11 5-12 5-1 5 20 5-22 5-12 5 25 5 5 5-5 5-28 5 35 5-16 5 4 5 0 5 4 5-1 5 12 5-23 5-2 5 14 5-14 5 23 5-15 5-10 5-153 5-470 5-903 5-517 5 557 5 901 5 443 5 121 5 40 5 2 5 7 5-35 5 19 5-23 5 58 5-45 5 17 5 30 5-5 5-32 5 43 5-27 5-22 5 16 5 1 5 6 5-46 5 59 5-56 5 22 5 20 5-14 5-6 5-8 5 17 5 19 5-29 5 18 5-11 5 1 5-29 5 30 5 9 5-17 5 17 5-12 5 19 5-13 5-8 5-2 5 10 5-1 5-16 5 11 5-18 5-3 5 31 5-6 5 6 5-11 5 1 5 26 5-41 5 17 5 16 5 7 5-27 5-13 5-17 5 11 5 8 5-6 5 4 5-2 5-17 5-9 5 7 5 11 5 16 5-55 5 42 5-18 5 18 5 9 5-22 5-27 5 5 5 14 5-12 5 2 5-12 5 14 5-8 5 27 5-4 5 7 5-40 5 16 5-4 5 2 5-14 5 1 5 37 5-31 5-13 5 20 5 38 5-25 5-20 5 11 5 8 5 7 5-22 5 14 5 16 5-26 5 28 5 4 5 14 5 5 5-16 5 9 5 11 5 5 5-10 5-15 5 19 5 3 5-9 5 6 5 18 5-30 5-2 5-8 5 21 5 11 5-21 5 36 5-34 5 16 5-4 5 19 5-32 5 40 5-31 5-25 5 14 5 7 5 31 5-29 5 12 5 26 5-25 5-14 5-5 5-15 5 36 5 12 5-28 5-13 5 18 5-5 5-1 5 11 5-7 5-6 5 23 5-42 5 14 5 11 5-17 5 48 5-63 5 44 5-3 5-1 5-2 5-10 5-1 5 33 5-25 5-20 5-1 5-7 5 26 5 12 5-21 5 10 5-8 5 29 5 4 5-3 5 10 5-45 5 28 5-36 5 35 5-2 5-6 5 4 5-15 5-7 5 26 5-21 5 21 5-22 5 21 5-2 5-16 5 9 5 10 5-10 5 3 5-18 5 13 5-13 5 7 5 32 5-10 5-9 5-4 5-22 5 26 5-26 5 7 6 24 5-29 5 6 5 10 5 2 5 17 5-40 5 18 5 14 5-18 5 6 5-6 5 9 5 9 5 6 5-15 5 12 5-19 5-22 5 39 5-43 5 32 5 5 5-20 5 16 5-7 5 9 5-8 5 15 5-17 5 18 5-8 5 3 5-3 5-8 5 24 5-8 5-42 5 16 5 41 5-34 5 42 5-37 5 6 5-14 5 10 5 6 5 12 5-14 5-3 5-19 5 10 5-4 5 1 5-10 5-4 5 11 5-29 5 20 5 10 5 20 5-15 5-11 5 28 5-7 5 19 5-22 5-8 5 5 5 31 5-5 5-25 5 13 5-41 5 36 5-19 5-7 5-2 5 2 5-15 5-4 5-22 5 38 5-44 5 2 5 11 5-2 5-8 5-39 5-4 5-5 5-34 5 34 5-48 5 15 5 15 5-3 5-21 5 20 5 2 5-48 5 20 5 14 5-6 5-9 5 10 5 40 5-34 5 24 5-31 5 26 5 16 5-17 5 4 5 47 5-22 5 21 5-25 5 58 5-46 5 25 5 14 5 10 5 8 5 27 5 14 5-1 5-15 5-5 5-33 5 30 5-7 5 24 5-22 5 1 5 3 5 25 5-8 5-17 5-10 5 16 5 1 5-2 5 11 5 7 5 2 5-27 5 4 5 31 5-23 5 16 5-8 5 0 5 17 5-24 5 20 5-8 5-7 5-6 5-2 5 30 5 0 5-28 5 21 5-35 5 27 5 27 5-48 5 22 5-10 5 14 5-15 5 16 5-36 5 29 5 2 5 2 5 28 5-51 5 6 5-15 5 28 5-3 5-20 5 33 5-9 5 21 5-10 5-9 5-16 5-22 5 23 5 30 5-19 5-8 5 21 5 10 5 28 5-67 5 15 5-17 5 8 5 26 5-15 5-27 5 44 5 7 5-14 5-22 5-1 5 34 5-36 5 7 5-12 5 52 5-39 5 4 5-13 5 0 5-9 5 35 5-28 5 39 5-43 5 29 5 8 5-32 5 20 5-12 5-11 5 10 5-15 5 24 5-20 5 34 5 10 5-6 5-33 5 5 5 33 5-9 5-15 5-41 5 26 5 44 5-29 5-12 5 8 5 41 5-19 5-38 5 0 5 18 5 20 5-33 5 8 5-24 5 25 5 21 5-2 5-36 5 28 5-19 5-8 5 28 5-30 5 19 5-6 5 11 5 9 5-9 5-6 5 3 5-28 5 34 5 31 5-23 5 10 5-18 5-2 5 9 5 0 5-3 5-22 5 17 5-24 5 42 5-16 5-3 5-17 5 25 5 4 5-6 5 14 5-28 5 29 5-11 5-43 5 45 5-22 5 12 5-7 5-1 5 30 5-29 5 13 5 6 5-22 5-13 5 23 5-2 5-14 5 19 5 14 5-6 5 8 5 3 5-17 5 2 5-20 5 39 5-32 5 18 5 15 5-21 5-31 5 10 5 13 5 25 5-30 5 6 5-17 5 23 5-5 5 11 5-25 5 27 5-35 5 11 5 6 5 1 5 5 5-40 5 39 5-8 5-16 5 20 5 9 5-18 5-3 5 21 5-19 5 30 5-12 5 5 5 3 5 7 5-31 5 33 5-28 5 18 5 1 5-7 5-18 5-3 5 5 5 22 5 6 5 2 5-34 5 25 5 9 5-17 5 1 5 14 5 16 5-1 5 2 5-48 5 45 5-29 5 17 5-17 5 19 5-13 5 3 5 33 5-53 5 33 5-15 5-17 5 38 5-23 5-11 5 12 5-20 5 42 5-49 5 16 5-23 5 36 5 10 5 2 5 8 5-20 5-7 5 21 5-20 5 22 5-17 5-5 5 6 5 16 5-8 5-8 5-40 5 44 5 3 5 2 5-22 5 24 5-12 5-33 5 40 5 16 5-22 5-16 5 39 5-9 5-45 5 40 5-12 5 2 5-32 5-1 5 32 5 33 5-27 5-1 5-9 5 7 5 20 5-30 5 42 5-20 5-6 5-10 5-11 5 7 5-18 5 23 5-25 5 65 5-36 5-27 5 28 5-4 5-13 5 16 5-18 5 13 5-3 5 10 5-18 5 10 5-52 5 61 5-10 5 0 5-12 5 21 5-16 5-1 5-5 5-12 5-11 5 17 5-6 5-11 5 15 5-18 5 1 5 12 5-12 5-18 5-16 5 2 5-11 5 27 5-68 5 86 5-47 5 30 5-16 5 1 5-33 5 35 5-23 5 13 5-29 5 19 5-15 5 19 5 0 5-16 5 8 5 4 5-12 5-3 5-29 5 39 5-17 5-7 5 7 5-11 5 9 5 11 5-33 5 20 5 10 5-30 5 9 5 42 5 10 5-24 5 6 5-27 5 39 5-19 5 5 5 11 5-9 5 0 5 13 5-17 5 11 5-28 5 29 5 29 5 17 5-7 5-21 5 12 5-20 5-3 5 36 5-23 5 9 5 9 5 15 5-8 5 4 5 11 5-5 5-4 5-29 5 20 5 10 5-12 5 47 5 6 5-8 5-43 5 26 5-1 5 3 5-32 5 42 5 15 5-15 5 20 5-38 5 16 5 9 5-31 5 13 5-8 5 28 5-32 5 21 5-15 5 29 5-19 5 4 5 7 5-13 5 4 5 0 5-1 5 11 5-19 5 11 5-10 5-3 5-6 5-13" fill="none" stroke="#a55fba" stroke-width="13" stroke-linejoin="round"/>
<rect x="152.3" y="677.8" width="4.4" height="31" fill="#8c8c1c"/>
<rect x="183.3" y="680.8" width="4.4" height="28" fill="#f39a2b"/>
<rect x="191.8" y="686.8" width="4.4" height="22" fill="#f39a2b"/>
<rect x="265.4" y="694.8" width="4.4" height="14" fill="#000000"/>
<rect x="271.2" y="683.8" width="4.4" height="25" fill="#000000"/>
<rect x="397.5" y="701.3" width="4.4" height="7.5" fill="#8c8c1c"/>
<rect x="437" y="693.8" width="4.4" height="15" fill="#f39a2b"/>
<rect x="468.6" y="706.8" width="4.4" height="2" fill="#8c8c1c"/>
<rect x="484" y="643.8" width="4.4" height="65" fill="#000000"/>
<rect x="490.4" y="689.8" width="4.4" height="19" fill="#000000"/>
<rect x="517" y="665.8" width="4.4" height="43" fill="#f39a2b"/>
<rect x="556.8" y="703.8" width="4.4" height="5" fill="#8c8c1c"/>
<rect x="574.5" y="694.8" width="4.4" height="14" fill="#8c8c1c"/>
<rect x="579.3" y="702.8" width="4.4" height="6" fill="#8c8c1c"/>
<rect x="609.3" y="706.3" width="4.4" height="2.5" fill="#000000"/>
<rect x="615.4" y="706.3" width="4.4" height="2.5" fill="#000000"/>
<rect x="619.5" y="680.8" width="4.4" height="28" fill="#f39a2b"/>
<rect x="649.1" y="703.8" width="4.4" height="5" fill="#000000"/>
<rect x="654.2" y="703.8" width="4.4" height="5" fill="#000000"/>
<rect x="690.6" y="674.8" width="4.4" height="34" fill="#f39a2b"/>
<rect x="706" y="700.8" width="4.4" height="8" fill="#8c8c1c"/>
<rect x="724.3" y="705.8" width="4.4" height="3" fill="#000000"/>
<rect x="727.7" y="650.8" width="4.4" height="58" fill="#f39a2b"/>
<rect x="740" y="693.8" width="4.4" height="15" fill="#f39a2b"/>
<rect x="759.7" y="643.8" width="4.4" height="65" fill="#8c8c1c"/>
<rect x="770.3" y="700.8" width="4.4" height="8" fill="#8c8c1c"/>
<rect x="784.6" y="643.8" width="4.4" height="65" fill="#f39a2b"/>
<rect x="788.4" y="676.8" width="4.4" height="32" fill="#000000"/>
<rect x="798.6" y="654.3" width="4.4" height="54.5" fill="#000000"/>
<rect x="807.8" y="695.8" width="4.4" height="13" fill="#f39a2b"/>
<rect x="826.1" y="707.3" width="4.4" height="1.5" fill="#000000"/>
<rect x="833" y="707.3" width="4.4" height="1.5" fill="#000000"/>
<rect x="864.3" y="705.8" width="4.4" height="3" fill="#f39a2b"/>
<rect x="894.2" y="675.8" width="4.4" height="33" fill="#8c8c1c"/>
<rect x="899.7" y="703.3" width="4.4" height="5.5" fill="#f39a2b"/>
<rect x="914.7" y="702.8" width="4.4" height="6" fill="#000000"/>
<rect x="916" y="701.8" width="4.4" height="7" fill="#f39a2b"/>
<rect x="923.2" y="702.8" width="4.4" height="6" fill="#000000"/>
<rect x="930.7" y="697.2" width="4.4" height="11.6" fill="#f39a2b"/>
<rect x="952.1" y="707.3" width="4.4" height="1.5" fill="#000000"/>
<rect x="965.7" y="706.3" width="4.4" height="2.5" fill="#8c8c1c"/>
<rect x="969.8" y="706.3" width="4.4" height="2.5" fill="#8c8c1c"/>
<rect x="1001.8" y="706.8" width="4.4" height="2" fill="#f39a2b"/>
<rect x="1031.8" y="699.8" width="4.4" height="9" fill="#000000"/>
<rect x="1035.2" y="703.8" width="4.4" height="5" fill="#f39a2b"/>
<rect x="1037.9" y="692.8" width="4.4" height="16" fill="#000000"/>
<rect x="1042.4" y="687.8" width="4.4" height="21" fill="#000000"/>
<rect x="1053.2" y="683.8" width="4.4" height="25" fill="#8c8c1c"/>
<rect x="1062.1" y="704.4" width="4.4" height="4.4" fill="#8c8c1c"/>
<rect x="1081.5" y="682.8" width="4.4" height="26" fill="#f39a2b"/>
<rect x="1093.8" y="701.8" width="4.4" height="7" fill="#f39a2b"/>
<rect x="1144.2" y="700.3" width="4.4" height="8.5" fill="#f39a2b"/>
<rect x="1163.2" y="704.4" width="4.4" height="4.4" fill="#8c8c1c"/>
<rect x="1176.8" y="705.3" width="4.4" height="3.5" fill="#8c8c1c"/>
<rect x="1197.6" y="704.4" width="4.4" height="4.4" fill="#f39a2b"/>
<rect x="1205.8" y="703.3" width="4.4" height="5.5" fill="#f39a2b"/>
<rect x="1231.7" y="705.3" width="4.4" height="3.5" fill="#f39a2b"/>
<rect x="1239.2" y="705.8" width="4.4" height="3" fill="#f39a2b"/>
<rect x="1242.6" y="678.8" width="4.4" height="30" fill="#000000"/>
<rect x="1246" y="702.8" width="4.4" height="6" fill="#000000"/>
<rect x="1255.2" y="703.3" width="4.4" height="5.5" fill="#000000"/>
<rect x="1270.1" y="706.3" width="4.4" height="2.5" fill="#8c8c1c"/>
<path d="M96.3 250.4 H555.5 V597 H96.3" fill="none" stroke="#444" stroke-width="1.6" stroke-dasharray="5 10"/>
<text x="768.3" y="261" font-size="29" font-weight="bold" text-anchor="middle">*</text>
<text x="878.9" y="96" font-size="29" font-weight="bold" text-anchor="middle">*</text>
<rect x="96.3" y="53.7" width="1191.7" height="655.1" fill="none" stroke="#555" stroke-width="1.8"/>
<path d="M96.3 708.8v19M130.3 708.8v11M164.4 708.8v11M198.4 708.8v11M232.5 708.8v11M266.5 708.8v19M300.6 708.8v11M334.6 708.8v11M368.7 708.8v11M402.7 708.8v11M436.8 708.8v19M470.8 708.8v11M504.9 708.8v11M538.9 708.8v11M573 708.8v11M607 708.8v19M641.1 708.8v11M675.1 708.8v11M709.2 708.8v11M743.2 708.8v11M777.3 708.8v19M811.3 708.8v11M845.4 708.8v11M879.4 708.8v11M913.5 708.8v11M947.5 708.8v19M981.6 708.8v11M1015.6 708.8v11M1049.7 708.8v11M1083.7 708.8v11M1117.8 708.8v19M1151.8 708.8v11M1185.9 708.8v11M1219.9 708.8v11M1254 708.8v11M1288 708.8v19" stroke="#555" stroke-width="1.8"/>
<text x="96.3" y="760" font-size="33.5" text-anchor="middle">10</text>
<text x="266.5" y="760" font-size="33.5" text-anchor="middle">15</text>
<text x="436.8" y="760" font-size="33.5" text-anchor="middle">20</text>
<text x="607" y="760" font-size="33.5" text-anchor="middle">25</text>
<text x="777.3" y="760" font-size="33.5" text-anchor="middle">30</text>
<text x="947.5" y="760" font-size="33.5" text-anchor="middle">35</text>
<text x="1117.8" y="760" font-size="33.5" text-anchor="middle">40</text>
<text x="1288" y="760" font-size="33.5" text-anchor="middle">45</text>
<text x="690.6" y="812.2" font-size="33.3" text-anchor="middle">2 Theta (°)</text>
<text transform="translate(34.4 380.7) rotate(-90)" font-size="33.4" text-anchor="middle">Intensity (a.u.)</text>
<path d="M143.2 81.2H182.3" stroke="#c4999a" stroke-width="1.4"/>
<path d="M143.2 120.6H182.3" stroke="#ad9fbb" stroke-width="1.4"/>
<path d="M143.2 160.3H182.3" stroke="#8c8c1c" stroke-width="4"/>
<path d="M368.5 81.2H407.7" stroke="#82a9ba" stroke-width="1.4"/>
<path d="M368.5 120.3H407.7" stroke="#000000" stroke-width="4"/>
<path d="M593.3 81H632.5" stroke="#8bbd95" stroke-width="1.4"/>
<path d="M593.3 120.4H632.5" stroke="#f39a2b" stroke-width="4"/>
<text x="195.6" y="92" font-size="32.6">Control</text>
<text x="195.6" y="131.7" font-size="32.6"><tspan font-style="italic">t</tspan>-BA</text>
<text x="195.6" y="171.7" font-size="32.6">CsPb<tspan font-size="24.5" dy="5">2</tspan><tspan dy="-5">Br</tspan><tspan font-size="24.5" dy="5">5</tspan></text>
<text x="421" y="92" font-size="32.6">MA</text>
<text x="421" y="131.7" font-size="32.6">CsPbBr<tspan font-size="24.5" dy="5">3</tspan></text>
<text x="398.6" y="171.7" font-size="32.6" text-anchor="middle" font-weight="bold">*</text>
<text x="422.5" y="171.7" font-size="32.6">Silicon substrate</text>
<text x="646.8" y="92" font-size="32.6">PEA</text>
<text x="646.8" y="131.7" font-size="32.6">Cs<tspan font-size="24.5" dy="5">4</tspan><tspan dy="-5">PbBr</tspan><tspan font-size="24.5" dy="5">6</tspan></text>
<text x="74" y="29" font-size="44" font-weight="bold">a</text>
<path transform="scale(.1)" d="M13782 5582l7 10 7-2 7-10 7 1 7-1 7 9 7-4 7 3 7-18 7 25 7-13 7 6 7-3 7-1 7 5 7 3 7-7 7-2 7 5 7-10 7-5 7 13 7-7 7-9 7 7 7 1 7-6 7-1 7 11 7 6 7-8 7-4 7 8 7 4 7-6 7 5 7 4 7-11 7-5 7 9 7-2 7 7 7-18 7 3 7-1 7-7 7 14 7 4 7-7 7 14 7-4 7-2 7-3 7 5 7-17 7 16 7 0 7-18 7 15 7-4 7 6 7-9 7 3 7 0 7-10 7 10 7-5 7 5 7-6 7 11 7 0 7-5 7 5 7 6 7 7 7-28 7 17 7-3 7-4 7-7 7 16 7-17 7 15 7 3 7-23 7 9 7-5 7 12 8 11 7 3 7-27 7 5 7 8 7 4 7-10 7-11 7 10 7-1 7 0 7-2 7 9 7 0 7-3 7-1 7-9 7 5 7 12 7-9 7-10 7 22 7-3 7 12 7-17 7-5 7-8 7 20 7 8 7-28 7 2 7 11 7-10 7 5 7 1 7 6 7 6 7-8 7 8 7-10 7 3 7-18 7 6 7 14 7-10 7 7 7-1 7 4 7-3 7 0 7-10 7-5 7-1 7 2 7-4 7 5 7 4 7 3 7-4 7-8 7 14 7 4 7 6 7-4 7-9 7-2 7 21 7-9 7 8 7 1 7-19 7 8 7 1 7 1 7 0 7-3 7 0 7-12 7 9 7-4 7 5 7-4 7 5 7 2 7-4 7 3 7-1 7-2 7 4 7-3 7 4 7-4 7 4 7-14 7 19 7-12 7 3 7 6 7-4 7 4 7-3 7-6 7 0 7 16 7-12 7-9 7 7 7-11 7 24 7-25 7 16 7-1 7-15 7 10 7 6 7-7 7-2 7 3 7-7 7-2 7-5 7 5 7-13 7 11 7-11 7-5 7 9 7 11 7-2 7-10 7 10 7-7 7 4 7 2 7-20 7 20 7-7 7 3 7-3 7 2 7 5 7 15 7 9 7-14 7 7 7-9 7-14 7 15 7 4 7-5 7 5 7 3 7-11 7-4 7 9 7-1 7-1 7 10 7 5 7-15 7 8 7 1 7-3 7 3 7-12 7 7 7 8 7-6 7-9 7 10 7 7 7-5 7-9 7 15 7-22 7 12 7-4 7-9 8 18 7-8 7-12 7 13 7-8 7-8 7 10 7 5 7 2 7-4 7-2 7 6 7-3 7 9 7-7 7 1 7 2 7-11 7 5 7 18 7-9 7-5 7 5 7-9 7 7 7-7 7 7 7-14 7 19 7-17 7-7 7 11 7-2 7 5 7-10 7 10 7 18 7-39 7 12 7-7 7-2 7-19 7 1 7 4 7-14 7 2 7-26 7-8 7 10 7-40 7-15 7-5 7-11 7-4 7-14 7-14 7-1 7 12 7-12 7-30 7 23 7 1 7 19 7 2 7 26 7 4 7 11 7 8 7 11 7 14 7 20 7 4 7 2 7 21 7 0 7 7 7 0 7 8 7 4 7-13 7 29 7-3 7-2 7 10 7-5 7 1 7-19 7 16 7 9 7 9 7 3 7-1 7-21 7-10 7 20 7-6 7 5 7-6 7 3 7-14 7 16 7-5 7 7 7 2 7-4 7 2 7-3 7 5 7-3 7-8 7 0 7 17 7-14 7 11 7-4 7-8 7-1 7 6 7-1 7 3 7-16 7 5 7 6 7 13 7-31 7 21 7-9 7 7 7-8 7 7 7 9 7-8 7-1 7 0 7-8 7 9 7-5 7-3 7 5 7 0 7 7 7-6 7-3 7 15 7-5 7 3 7-4 7-5 7-5 7 2 7 9 7-6 7-11 7 17 7-8 7 14 7-11 7-3 7 9 7-2 7-13 7 16 7 12 7-28 7 24 7-18 7 2 7 2 7-9 7 19 7-6 7-12 7 3 7-9 7 11 7 11 7-19 8 12 7 3 7 8 7 1 7-14 7-3 7 10 7-6 7 2 7 10 7 5 7-11 7-4 7 5 7-19 7 15 7-8 7 30 7-13 7-1 7-3 7-17 7 23 7 7 7-18 7 12 7-1 7-20 7 15 7 2 7-10 7 0 7 7 7-16 7 11 7 6 7-17 7 15 7-10 7-13 7 15 7-8 7 11 7-12 7 17 7-13 7 9 7-5 7 2 7 11 7-8 7-4 7-11 7 18 7-2 7-8 7 5 7-8 7-1 7 3 7 11 7-1 7-7 7 12 7 0 7-5 7 7 7-9 7-1 7 6 7-5 7 5 7-16 7 21 7-16 7 4 7-8 7 17 7 6 7-3 7 0 7-17 7 4 7 2 7-4 7 15 7-6 7-3 7 5 7-10 7-1 7-1 7 12 7 0 7 2 7 2 7-17 7 6 7 7 7-11 7 7 7 13 7 1 7-2 7-7 7-3 7 9 7-13 7 5 7 7 7-13 7-5 7 4 7 6 7-2 7-3 7 5 7-15 7 6 7 7 7-8 7-3 7-1 7 1 7 6 7-8 7 11 7 11 7-12 7 10 7-5 7-14 7 6 7-6 7 14 7-16 7 21 7-7 7-20 7 22 7 4 7-20 7 13 7-25 7 13 7-15 7 13 7-23 7-10 7 14 7 4 7-33 7-3 7-24 7-28 7-19 7-23 7-55 7-24 7-42 7-58 7-25 7-49 7-71 7-26 7-57 7-40 7-19 7-36 7-20 7-2 7-3 7 5 7-3 7 23 7 53 7 21 7 49 8 34 7 54 7 38 7 69 7 26 7 51 7 37 7 49 7 13 7 39 7 23 7 27 7 12 7 7 7 17 7 4 7 12 7 4 7-1 7 3 7 3 7 15 7-18 7 4 7 11 7-27 7 0 7 3 7 6 7 17 7-14 7 7 7-15 7-15 7 1 7 22 7-6 7-9 7 18 7-18 7 24 7 6 7-14 7 0 7 18 7-16 7 17 7-15 7 15 7-6 7-4 7-5 7 9 7-18 7 14 7 1 7 9 7-15 7 24 7-13 7-7 7 20 7 1 7-14 7-6 7 8 7-7 7 3 7 13 7-8 7-1 7 3 7-3 7 7 7 0 7-10 7 3 7 17 7-15 7-3 7 15 7-16 7-8 7 12 7-13 7 5 7 9 7-3 7-3" fill="none" stroke="#d93b30" stroke-width="12" stroke-linejoin="round"/>
<path transform="scale(.1)" d="M13782 4754l7 6 7 0 7-1 7 7 7-21 7 5 7-6 7 9 7 9 7-6 7 5 7-19 7 16 7-8 7 18 7-7 7 0 7-8 7 5 7-1 7-7 7 2 7 3 7-5 7 2 7 2 7-3 7 11 7-15 7 17 7-12 7-1 7-6 7 7 7-2 7 4 7-7 7 4 7 14 7-7 7-7 7 12 7-9 7 5 7-3 7-7 7-11 7 11 7 8 7-5 7 6 7 2 7-10 7 13 7 4 7-5 7 1 7 2 7 8 7-17 7 0 7 5 7-13 7-7 7 7 7 10 7 2 7-15 7-4 7 10 7 2 7 0 7 5 7 7 7-7 7 3 7-12 7-2 7 11 7 2 7 0 7-1 7 0 7 1 7-18 7 8 7 9 7 1 8-16 7 18 7-12 7 1 7 4 7 4 7-14 7 17 7-6 7-7 7 4 7-16 7 14 7 5 7-6 7 1 7 0 7 1 7 8 7-7 7-2 7 6 7 12 7-18 7 6 7-17 7 23 7-5 7 6 7-11 7-6 7 14 7-2 7-11 7-5 7 16 7-3 7 21 7-26 7 2 7 0 7-11 7 7 7 19 7-13 7-2 7-5 7 12 7 1 7-1 7-5 7 4 7 1 7-8 7 7 7-20 7 6 7 4 7 0 7-4 7 11 7 6 7-2 7 1 7 3 7-3 7-13 7 9 7 13 7-18 7 10 7-4 7-4 7-2 7 8 7 3 7 2 7-15 7 8 7 3 7 5 7-1 7 0 7 4 7 0 7-13 7 5 7-5 7-15 7 4 7 29 7-23 7-10 7 13 7 14 7-13 7 2 7-7 7-1 7 12 7-3 7-11 7 6 7 1 7-14 7-1 7-3 7-8 7 8 7-13 7-8 7-12 7-5 7 14 7-28 7 6 7-13 7 2 7-6 7-15 7-2 7 1 7-2 7-2 7-3 7 9 7 5 7-2 7-7 7 11 7-1 7 7 7 16 7-8 7 10 7 2 7 12 7 5 7 19 7-3 7-4 7 25 7-19 7 20 7 3 7 0 7-6 7 1 7 1 7 11 7-24 7 15 7 7 7-5 7-9 7 14 7-3 7 11 7 5 7-11 7-14 7 15 7-4 7 12 7 6 7-13 7 11 7-4 7-7 7-12 7 9 7-10 7 18 7-4 7 11 7-9 7-17 7 18 8-1 7 7 7-18 7 2 7 9 7-8 7-3 7-1 7 27 7-25 7-3 7 4 7 4 7 9 7-3 7-4 7-7 7 1 7-5 7-8 7 29 7-17 7 11 7-13 7 1 7-1 7-13 7 8 7-1 7-1 7-8 7-3 7-18 7-18 7-34 7-13 7-14 7-45 7-32 7-50 7-55 7-34 7-70 7-51 7-67 7-60 7-66 7-23 7-45 7-26 7 15 7-2 7 12 7 17 7 32 7 46 7 50 7 55 7 62 7 33 7 82 7 41 7 60 7 47 7 25 7 47 7 28 7 11 7 18 7 24 7-6 7 22 7 12 7-1 7-5 7 13 7 16 7 1 7-12 7-4 7 5 7 2 7-5 7 5 7 5 7 1 7-26 7 26 7-6 7 8 7-8 7 2 7 10 7-33 7 33 7-10 7-12 7-8 7 24 7-10 7 16 7-7 7-1 7 8 7-6 7 2 7 0 7-7 7 1 7 0 7-14 7 8 7 3 7 4 7-10 7 6 7 6 7-1 7 6 7-16 7 1 7 1 7 2 7-2 7-10 7 16 7 3 7 0 7-16 7 7 7 17 7-13 7 4 7-2 7 8 7 1 7 9 7-13 7-2 7-11 7 4 7-4 7 0 7-6 7 18 7-15 7 12 7-8 7 11 7 10 7-20 7 7 7-4 7 1 7 2 7-9 7 4 7-1 7-5 7-4 7 16 7-12 7 8 7 1 7-9 7 14 7-13 7 13 7 6 7-19 7 0 7-2 7 23 7-20 7-6 7 15 7-6 8 5 7-6 7-8 7 11 7-1 7-8 7 5 7-3 7 13 7-2 7-2 7-8 7-5 7 11 7 2 7 5 7-9 7-2 7 4 7-8 7 1 7 15 7-12 7 7 7 3 7-2 7-1 7-12 7 6 7 0 7 3 7 0 7-2 7 15 7-9 7-6 7-5 7 4 7-7 7 16 7-7 7-5 7-3 7-2 7 6 7 10 7-5 7-5 7 3 7-15 7 21 7-3 7 13 7-12 7-2 7 6 7-7 7 15 7-8 7 1 7-1 7-6 7 6 7-4 7 15 7-13 7 2 7-6 7 2 7-4 7 12 7-10 7 9 7-9 7 3 7-12 7 21 7 10 7-18 7 9 7-5 7-11 7 11 7-12 7 7 7 9 7-11 7-9 7 20 7-20 7 7 7 0 7 2 7-5 7-4 7 28 7-19 7 0 7-12 7 16 7 8 7 0 7 10 7-9 7-7 7-3 7 12 7-12 7 1 7-9 7 6 7 14 7-15 7 1 7-21 7 29 7-8 7 10 7-7 7-10 7-4 7 13 7-5 7-7 7 6 7-4 7 10 7-10 7-5 7 9 7-4 7 15 7-15 7-6 7 7 7-1 7 5 7-1 7-12 7 8 7-2 7-10 7 2 7 1 7-20 7-2 7-8 7-10 7-9 7-33 7-6 7-21 7-17 7-42 7-29 7-35 7-11 7-21 7-39 7-14 7-13 7-12 7-14 7 9 7 0 7 6 7 24 7 21 7 13 7 39 7 40 7 4 7 47 7 30 7 19 7 24 7 15 7 27 8-4 7 19 7-4 7 25 7 5 7-9 7 10 7 14 7-6 7-3 7-8 7 20 7 10 7-19 7 6 7-4 7-6 7-4 7-4 7-14 7 19 7-6 7-27 7 0 7-30 7-8 7-1 7-28 7-12 7 0 7-26 7 21 7-16 7-7 7 6 7-12 7 2 7 20 7 6 7 2 7 11 7 10 7 26 7-7 7 16 7 14 7 2 7 11 7 10 7 21 7 8 7-7 7-14 7 12 7 7 7 0 7-1 7 10 7-19 7 10 7 6 7 4 7-5 7-2 7-2 7-3 7 7 7-2 7-1 7 14 7-1 7-15 7 7 7 3 7-6 7-2 7 6 7-16 7 3 7 15 7-1 7 9 7-12 7 11 7-1 7 7 7-22 7 3 7 4" fill="none" stroke="#3d89c0" stroke-width="12" stroke-linejoin="round"/>
<path transform="scale(.1)" d="M13782 3979l7-37 7 30 7-6 7 8 7-8 7 10 7-15 7-3 7 7 7 0 7-6 7 0 7 6 7 2 7-9 7 2 7-9 7 26 7-14 7 10 7-7 7 9 7-3 7-9 7 9 7-18 7 18 7-20 7 13 7 5 7-5 7-7 7-2 7 3 7 9 7 1 7-6 7-7 7 16 7-15 7 5 7-2 7 10 7-4 7 3 7-1 7-6 7 10 7 6 7-12 7 3 7-6 7 10 7 0 7 2 7-5 7 10 7-15 7-2 7-2 7 12 7-11 7-1 7 11 7 0 7-4 7-23 7 15 7-1 7 2 7 7 7 18 7-16 7-4 7 10 7-7 7-1 7-8 7 4 7 6 7-16 7 3 7 20 7-2 7-12 7-5 7 7 7-7 8 8 7 14 7-9 7 8 7-10 7 4 7 10 7-22 7 7 7 0 7 2 7 7 7-7 7-16 7 11 7-3 7 2 7 21 7-24 7 8 7-8 7 10 7-1 7-5 7-2 7 9 7-13 7 0 7 0 7 19 7-13 7-6 7 3 7 21 7-19 7 9 7-1 7 0 7-6 7 2 7-1 7-14 7 35 7-12 7-8 7-2 7-5 7 12 7-6 7 7 7-16 7 15 7 12 7-18 7 6 7-4 7 7 7-1 7-8 7-4 7 5 7-1 7-5 7 9 7-2 7-8 7 5 7 24 7-18 7-7 7 16 7-24 7-15 7 4 7 3 7 14 7 8 7-24 7 27 7-16 7 12 7 0 7-1 7-5 7 1 7-8 7 11 7 5 7-1 7 10 7-12 7-3 7 10 7-12 7-10 7-8 7 23 7-8 7 3 7-9 7 2 7 12 7-12 7-14 7 4 7 13 7-22 7-13 7 1 7 5 7 14 7-8 7-10 7-5 7 7 7-3 7-4 7 1 7-5 7 18 7-32 7 21 7-7 7 13 7-6 7 3 7 1 7-3 7 5 7-13 7 19 7-5 7 9 7 15 7-1 7 12 7-32 7 10 7 15 7-16 7 8 7 16 7-6 7-13 7 11 7 4 7-5 7 0 7 2 7-10 7 8 7-5 7 11 7 0 7-11 7 12 7-1 7-2 7 6 7-6 7 1 7 4 7-3 7 10 7-28 7 17 7-13 7 9 7 6 7 2 7 6 7-4 7-22 7 11 7 17 7-1 7-11 7-14 8 30 7-31 7 17 7-3 7 2 7-13 7 7 7 10 7-12 7-8 7 11 7-2 7-3 7-4 7 9 7-7 7-8 7 12 7-1 7-1 7-14 7 5 7 10 7 3 7-5 7-1 7 4 7 1 7 2 7-12 7-10 7 3 7-21 7 11 7-5 7-2 7 1 7-8 7-16 7 3 7-8 7 0 7-3 7-15 7 10 7-3 7-17 7 2 7-22 7 1 7 7 7-25 7 6 7-6 7 15 7-3 7-14 7 4 7-20 7 27 7-2 7 10 7-25 7 26 7-2 7-13 7 18 7 9 7 8 7 1 7 0 7 13 7 1 7 1 7 1 7 14 7 7 7 16 7-10 7 21 7-4 7 10 7-9 7 2 7 9 7 11 7-4 7 5 7 1 7 7 7-4 7-4 7 11 7-1 7 14 7-13 7 5 7-5 7 10 7-3 7 0 7-15 7 0 7 16 7 4 7 4 7-25 7 12 7-12 7 4 7 8 7 9 7-11 7-1 7 4 7 11 7 9 7-30 7 11 7-1 7 12 7-6 7 8 7-22 7 7 7-4 7-3 7 8 7-8 7 25 7-12 7-13 7 4 7 19 7-18 7 8 7 1 7 2 7-4 7-5 7-6 7-9 7 15 7 0 7-5 7 3 7-7 7 25 7-20 7-4 7 4 7 4 7 8 7-24 7 22 7-10 7 1 7 8 7-4 7-11 7 7 7 15 7-2 7-1 7-7 7 6 7-5 7-8 7-4 7 12 7 0 7 8 7-13 7 12 7-14 7 10 7-8 8-7 7-1 7 7 7-1 7 10 7-12 7-4 7 13 7 15 7-1 7-16 7 1 7 4 7-7 7 3 7-3 7-7 7 5 7 0 7 2 7-10 7 11 7-9 7 4 7 2 7 38 7-22 7-2 7-4 7-12 7 2 7 0 7 4 7-1 7 8 7-33 7 20 7 11 7-8 7 2 7 13 7-10 7 11 7-14 7 2 7-10 7-8 7 11 7 4 7-3 7-7 7 16 7-4 7-1 7-6 7 17 7-3 7-9 7-4 7 3 7 12 7 10 7-23 7-1 7-10 7 32 7-30 7 15 7-4 7 7 7-18 7-5 7 14 7 3 7 4 7-20 7 10 7 0 7-8 7 12 7 7 7-7 7-11 7 13 7 2 7-3 7 2 7-17 7 18 7 2 7-6 7 3 7-7 7 15 7-13 7-5 7 5 7 0 7 4 7-11 7-2 7 9 7 13 7-12 7-14 7 14 7-6 7-7 7 9 7 2 7 5 7 6 7 0 7-1 7-11 7 4 7-1 7 11 7-19 7 0 7 17 7-5 7-7 7 6 7 1 7-1 7 4 7-3 7-3 7-2 7-7 7 11 7 11 7-8 7-8 7 0 7-4 7 8 7 11 7-2 7-6 7-4 7-10 7-9 7 7 7-8 7 8 7-9 7-8 7 4 7 16 7-37 7 11 7-11 7-12 7-11 7 1 7-7 7-3 7-6 7-10 7-12 7 1 7-10 7-11 7 11 7-13 7-4 7 9 7-14 7 18 7 5 7-6 7 9 7 18 7-2 7 2 7 4 8 0 7 11 7 4 7 9 7 7 7-4 7 23 7-13 7 14 7 9 7-2 7 1 7 9 7 19 7-6 7-5 7 8 7-6 7-13 7 16 7 5 7 2 7-8 7-12 7 15 7-13 7 3 7-4 7-10 7-5 7-5 7-3 7-1 7-4 7 7 7-20 7 9 7 12 7-4 7 4 7-2 7 17 7 9 7-14 7 19 7-16 7 14 7-13 7 18 7-2 7 3 7 11 7-2 7-4 7-5 7 9 7-6 7 1 7 15 7-5 7-7 7 3 7-15 7 13 7-13 7 8 7 7 7 0 7 1 7-2 7-3 7 1 7 11 7 1 7-22 7 13 7 8 7-10 7 3 7-6 7-5 7 10 7-7 7 2 7-10 7 4 7 6 7-1 7 7" fill="none" stroke="#5cb85a" stroke-width="12" stroke-linejoin="round"/>
<path transform="scale(.1)" d="M13782 3242l7-12 7-5 7-10 7 19 7 12 7-10 7 6 7 3 7-14 7 27 7-26 7 9 7 19 7-21 7 1 7-5 7 5 7-21 7 13 7 18 7-10 7-4 7 6 7-1 7-2 7 3 7-16 7 18 7-10 7 10 7-9 7-9 7 6 7-4 7 15 7-6 7 7 7-15 7 18 7-14 7 13 7-4 7-14 7 10 7-6 7 5 7 8 7-6 7 0 7-17 7 10 7 3 7 4 7-11 7 9 7 1 7-15 7 6 7 12 7-13 7-3 7 16 7-6 7-3 7 0 7-5 7 0 7 1 7 6 7 8 7-11 7 1 7-2 7-9 7 12 7 4 7-13 7 16 7-10 7 12 7-1 7-12 7-15 7 12 7-7 7 1 7 9 7 10 8-9 7 1 7-13 7 9 7-3 7 13 7-6 7 3 7 0 7-3 7 9 7-5 7-8 7 6 7 6 7 6 7-8 7 9 7-19 7 1 7-8 7 16 7-11 7 0 7 14 7-11 7-2 7 14 7-9 7 8 7-8 7 9 7 1 7-7 7 13 7-18 7 0 7 4 7 9 7-11 7-1 7 7 7 4 7-13 7-6 7 7 7 4 7-7 7 5 7-17 7 17 7 1 7 3 7-1 7 3 7-15 7 12 7-16 7 4 7 17 7-1 7-19 7 19 7-7 7-6 7 7 7-2 7 9 7-22 7 8 7 2 7-12 7 25 7 6 7-17 7 8 7-6 7 4 7-7 7 10 7-15 7 20 7-10 7 15 7-30 7 12 7-8 7 10 7 3 7-9 7-4 7-1 7 14 7 7 7-2 7-7 7-11 7 4 7-9 7 1 7 20 7-7 7 4 7-4 7 11 7 1 7-16 7 4 7-2 7 14 7 1 7-11 7 22 7-18 7-7 7-8 7 13 7 3 7-8 7 6 7 7 7-9 7 6 7 8 7-8 7-8 7 6 7-1 7 14 7-20 7-7 7 15 7 0 7-5 7 8 7-4 7 5 7-12 7 0 7 5 7-2 7 17 7-8 7-4 7 13 7-7 7 3 7-1 7-5 7-1 7 1 7-9 7 5 7 7 7-4 7-11 7 23 7-25 7 12 7-1 7 7 7-18 7 8 7-3 7 11 7-8 7 2 7 0 7 10 7-9 7 1 7-13 7 12 7-14 7 15 7-6 7-9 7-2 8 8 7 2 7-4 7 0 7 2 7-1 7 3 7 4 7 9 7-5 7-10 7 17 7-3 7-10 7 9 7-12 7-2 7-1 7 18 7-13 7-1 7-5 7-3 7 7 7 4 7 10 7-19 7 18 7-10 7-22 7 17 7 2 7-9 7-9 7 0 7-21 7 13 7-6 7-13 7 1 7-15 7 13 7-39 7-10 7-23 7 1 7-10 7-12 7-15 7 0 7-17 7-4 7-20 7-23 7 3 7-12 7 11 7-14 7 2 7 3 7-9 7 12 7 16 7-2 7 14 7 16 7 6 7 15 7 20 7 8 7 15 7 11 7 7 7 10 7 33 7 5 7-3 7 16 7 8 7 5 7-4 7-4 7 6 7 11 7 14 7 7 7-12 7 2 7 12 7 9 7-21 7 11 7-2 7-4 7 1 7 0 7 3 7-12 7 13 7 4 7 0 7 1 7-4 7-1 7 14 7-16 7 3 7 8 7-10 7-12 7 5 7 2 7 3 7-2 7 12 7-2 7-1 7-7 7 10 7-2 7 10 7-22 7 5 7 11 7-19 7 11 7 0 7-3 7-8 7 8 7-10 7 20 7-10 7 5 7-3 7 2 7 1 7 0 7-6 7 4 7-8 7 0 7 2 7-1 7 0 7 5 7 9 7-2 7-6 7 3 7 0 7 16 7-31 7 12 7-9 7 20 7-10 7 5 7-3 7 2 7-29 7 13 7 8 7-8 7 13 7 6 7-19 7 8 7 5 7 8 7-7 7-3 7-15 7 7 7 0 7-5 7 10 8-2 7 1 7 19 7-19 7 14 7-15 7 1 7-11 7 5 7 16 7-11 7-14 7 25 7-17 7 3 7 1 7-15 7 27 7-1 7-15 7 3 7-5 7-5 7 4 7-8 7 10 7-1 7 20 7-28 7 19 7-3 7-6 7-5 7 16 7-2 7-12 7-1 7 1 7 15 7-21 7 7 7 7 7-16 7 12 7 9 7-10 7 3 7-12 7 15 7-11 7 4 7 7 7-7 7 8 7-3 7-2 7 4 7-9 7-15 7 23 7 0 7-9 7-2 7 16 7-13 7-1 7-1 7 18 7-23 7-14 7 18 7-4 7-4 7 14 7-5 7 13 7-10 7 12 7 0 7-5 7 5 7 9 7-9 7-17 7 10 7 2 7 8 7-9 7 9 7-8 7 0 7-4 7 2 7-1 7 2 7-8 7 0 7 6 7 0 7-3 7 6 7-1 7 9 7-24 7 26 7-32 7 7 7 14 7-8 7 4 7 0 7-6 7-1 7 8 7 4 7 4 7-6 7-1 7 11 7-25 7 15 7 10 7 1 7-1 7 3 7-2 7-6 7-16 7 14 7 0 7 14 7-16 7 1 7 4 7-13 7 6 7 3 7-8 7 3 7-15 7 2 7 3 7 6 7-16 7-6 7-7 7 3 7-23 7-1 7-18 7-11 7-20 7-15 7-13 7-36 7-30 7-46 7-9 7-41 7-29 7-42 7-46 7-37 7-44 7-11 7-40 7-29 7-21 7-22 7-23 7-11 7 3 7-34 7 21 7 6 7 22 7 1 7 37 8 41 7 15 7 49 7 28 7 42 7 27 7 46 7 30 7 50 7 16 7 47 7 22 7 28 7 36 7 9 7 17 7 19 7 20 7 3 7 28 7-3 7 4 7 5 7 8 7 6 7 5 7-5 7-6 7 5 7-14 7 25 7-1 7-6 7 7 7-13 7 22 7-14 7-1 7 18 7-21 7 9 7-9 7 1 7 2 7-2 7 14 7 0 7-11 7 22 7-19 7 0 7 4 7-12 7 18 7-18 7-4 7 17 7-16 7 4 7-6 7 8 7 3 7-16 7 17 7-5 7 16 7 5 7-13 7-1 7 3 7 3 7-17 7 1 7 6 7-6 7 4 7 2 7-7 7 9 7 6 7-9 7 2 7-2 7 0 7-1 7-2 7 11 7 3 7-10" fill="none" stroke="#a55fba" stroke-width="12" stroke-linejoin="round"/>
<rect x="1495.3" y="690.7" width="4.6" height="21.6" fill="#8c8c1c"/>
<rect x="1524.5" y="675.3" width="4.6" height="37" fill="#f39a2b"/>
<rect x="1532.8" y="670.3" width="4.6" height="42" fill="#f39a2b"/>
<rect x="1540.8" y="685.3" width="4.6" height="27" fill="#000000"/>
<rect x="1602.1" y="676.3" width="4.6" height="36" fill="#000000"/>
<rect x="1607.3" y="666.8" width="4.6" height="45.5" fill="#000000"/>
<rect x="1664.1" y="694.8" width="4.6" height="17.5" fill="#000000"/>
<rect x="1699.7" y="708.3" width="4.6" height="4" fill="#f39a2b"/>
<rect x="1726.6" y="708.3" width="4.6" height="4" fill="#8c8c1c"/>
<rect x="1763.6" y="692.9" width="4.6" height="19.4" fill="#f39a2b"/>
<rect x="1807.2" y="694.8" width="4.6" height="17.5" fill="#000000"/>
<rect x="1813.6" y="694.8" width="4.6" height="17.5" fill="#000000"/>
<rect x="1820" y="678.3" width="4.6" height="34" fill="#f39a2b"/>
<rect x="1833.8" y="689.7" width="4.6" height="22.6" fill="#f39a2b"/>
<rect x="1850.8" y="703.9" width="4.6" height="8.4" fill="#000000"/>
<rect x="1875.9" y="710.3" width="4.6" height="2" fill="#8c8c1c"/>
<rect x="1378.2" y="51" width="497.4" height="661.3" fill="none" stroke="#333" stroke-width="1.6"/>
<path d="M1378.2 712.3v10M1410.3 712.3v10M1442.4 712.3v20M1474.5 712.3v10M1506.6 712.3v10M1538.7 712.3v10M1570.7 712.3v10M1602.8 712.3v20M1634.9 712.3v10M1667 712.3v10M1699.1 712.3v10M1731.2 712.3v10M1763.3 712.3v20M1795.4 712.3v10M1827.5 712.3v10M1859.6 712.3v10" stroke="#333" stroke-width="1.6"/>
<text x="1442.4" y="764" font-size="33.5" text-anchor="middle">10</text>
<text x="1602.8" y="764" font-size="33.5" text-anchor="middle">15</text>
<text x="1763.3" y="764" font-size="33.5" text-anchor="middle">20</text>
<text x="1625.4" y="816.4" font-size="33.3" text-anchor="middle">2 Theta (°)</text>
<text x="1351.5" y="35.3" font-size="44" font-weight="bold">b</text>
<defs><clipPath id="cpc"><rect x="151.3" y="944.7" width="741.2" height="441.2"/></clipPath><filter id="blc" x="-2%" y="-2%" width="104%" height="104%"><feGaussianBlur in="SourceGraphic" stdDeviation="1.1" result="b"/><feTurbulence type="fractalNoise" baseFrequency="0.38" numOctaves="2" seed="99" result="n"/><feColorMatrix in="n" type="matrix" values="0.33 0.33 0.33 0 0 0.33 0.33 0.33 0 0 0.33 0.33 0.33 0 0 0 0 0 0 1" result="g"/><feComposite in="b" in2="g" operator="arithmetic" k1="0.95" k2="0.53" k3="0" k4="0"/></filter></defs>
<g clip-path="url(#cpc)">
<rect x="151.3" y="944.7" width="741.2" height="441.2" fill="#30123b"/>
<g filter="url(#blc)"><g fill-rule="evenodd" transform="translate(151.3 944.7) scale(0.5)">
<path fill="#33184a" d="M1193 172l-5 6 0 9 13 22 124 123 64 80 53 86 25 50 15 37 0-165-14-22-33-45-37-44-49-50-47-41-36-24-33-17-23-7zM290 173l-7-3-11 0-21 6-34 17-40 27-52 46-37 38-32 37-37 49-19 29 0 165 33-74 30-53 28-43 37-49 33-38 121-120 12-22zM0 694l0 188 1482 0 0-186-9-36-26-84-26-64-31-60-36-55-37-45-41-40-52-43-63-44-56-32-53-25-73-27-51-14-24 47 48 13 43 15 85 39 41 24 44 30 39 31 32 31-2 1-79-63-50-32-39-20-23-6-26-3-142 0-55 135-41 130-26 119-9 68-3 45-6-67-8-54-27-120-43-133-51-123-141 0-27 3-25 7-40 21-48 31-75 60-2-1 27-27 36-29 40-28 45-27 80-38 47-17 55-15-24-47-45 12-55 19-47 20-51 26-45 27-55 39-45 37-41 39-28 32-26 35-24 38-25 47-34 82-15 46zM1166 41l-6 9 0 8 6 11 26 23 87 63 79 67 66 69 58 76 0-107-38-43-49-48-43-37-72-51-34-20-35-16-23-7-16 0zM314 40l-20-2-21 6-45 21-25 15-76 54-78 71-49 54 0 107 60-78 72-74 82-68 78-56 25-23 4-8 0-10z"/>
<path fill="#351e58" d="M1234 204l-2 2 1 8 11 17 19 22 70 70 64 81 51 83 34 71 0-118-28-43-52-66-68-69-53-42-26-13-14-4zM247 204l-12 0-33 15-50 39-61 60-35 41-30 40-26 40 0 117 35-72 53-85 64-80 83-85 13-19 1-9zM0 715l0 167 1482 0 0-164-14-59-25-81-25-62-33-64-34-52-35-43-48-47-46-38-66-46-47-27-61-29-74-27-48-13-21 41 55 15 59 22 57 27 53 31 51 36 46 39 53 56 25 36-1 2-54-56-61-54-54-39-68-39-19-6-28-4-145 0-54 132-41 130-26 119-9 68-3 45-6-67-8-54-27-120-43-133-50-120-144 0-28 4-22 7-64 37-53 38-48 41-67 70-4 0 23-34 47-51 53-46 54-38 61-35 45-21 71-26 45-12-21-41-51 14-61 22-47 21-54 29-50 32-39 29-43 36-41 40-28 33-35 50-39 72-20 47-20 57zM1181 51l-4 4 0 7 9 13 32 27 75 56 71 61 57 59 61 78 0-86-39-45-78-74-36-29-41-28-62-34-27-9zM304 54l-7-4-19 2-25 9-30 15-72 47-80 69-40 41-31 36 0 86 50-65 56-60 65-58 116-89 16-18z"/>
<path fill="#38276d" d="M1275 237l0 8 65 71 65 85 40 65 37 73 0-85-19-30-52-69-63-66-54-44-12-8zM207 237l-7 0-21 14-52 44-48 50-51 65-28 43 0 85 37-73 47-75 54-70 67-73 3-6zM0 728l0 154 1482 0 0-151-19-80-25-79-26-63-31-59-33-50-37-45-43-42-47-39-58-41-51-30-67-32-65-24-54-15-20 37 75 22 57 23 64 33 56 36 57 45 48 47 26 31 24 34 12 22-1 5-56-64-57-55-62-48-70-43-30-13-33-5-143 0-53 130-41 130-26 119-9 68-3 45-6-67-8-54-27-120-43-133-49-118-142 0-37 6-23 10-75 46-50 38-62 58-55 64-8 5 7-17 14-22 36-46 49-49 60-48 54-35 63-33 67-27 68-19 1-2-18-36-46 12-65 23-41 18-57 30-55 35-39 29-45 38-34 33-27 31-32 44-28 47-20 40-35 90-17 58zM1193 63l-1 3 4 8 19 19 77 59 67 57 60 61 63 79 0-73-34-40-39-40-56-50-65-47-43-25-19-8-22-6zM289 63l-6-3-19 3-44 20-65 42-71 60-45 45-39 45 0 74 51-66 65-68 77-66 78-60 13-13 5-8z"/>
<path fill="#3a2d79" d="M1388 352l6 14 50 82 38 74 0-53-20-32-36-48-31-33zM93 352l-9 6-27 29-32 42-24 37-1 54 33-64 55-91zM0 739l0 143 1482 0 0-140-26-108-22-67-27-64-30-56-35-52-39-46-32-31-54-45-57-40-61-35-51-24-67-25-54-15-4 1-16 33 36 9 51 17 48 20 42 21 64 39 65 50 41 39 35 40 39 58 11 23-1 6-68-81-43-43-45-38-55-39-66-38-17-6-30-4-142 0-52 128-41 130-26 119-9 68-3 45-6-67-8-54-27-120-43-133-48-116-154 1-21 4-27 12-75 46-71 56-55 55-55 68-8 7 1-10 11-22 32-48 30-36 56-54 59-45 71-43 43-21 47-19 42-14 40-10-17-34-48 12-67 24-32 14-65 34-53 34-35 26-42 35-45 44-27 32-29 41-27 46-21 43-35 93-13 45zM1210 70l-2 2 1 6 20 21 102 81 68 64 48 54 35 46 0-64-40-46-59-58-62-51-30-20-50-28-17-6zM273 71l-11-1-24 8-46 26-45 31-66 57-36 36-45 51 0 65 32-43 40-46 68-66 117-94 14-15 3-6z"/>
<path fill="#3c3286" d="M0 749l0 133 1482 0 0-130-25-108-23-72-26-63-27-52-35-54-34-42-41-41-55-46-54-38-68-39-52-24-72-26-47-12-15 32 40 10 55 19 82 38 64 39 65 50 43 41 43 51 34 53 15 32 0 9-10-9-38-51-29-34-34-35-37-33-40-31-58-38-54-29-23-5-156 1-50 124-41 130-26 119-9 68-3 45-6-67-8-54-27-120-43-133-47-113-154 0-21 4-34 17-75 47-73 59-49 50-64 82-8 6 2-13 14-29 32-50 35-43 49-48 67-52 71-43 52-25 43-17 77-22-15-31-3-1-51 14-43 15-52 22-56 29-60 38-35 26-53 45-33 33-27 32-31 44-23 39-28 58-35 98zM1224 80l0 6 13 14 104 85 52 49 44 48 45 58 0-56-57-64-62-58-47-37-70-41-16-5zM258 80l-6-1-12 3-26 13-60 38-56 47-55 54-43 50 0 55 36-47 38-43 71-68 103-84 8-9z"/>
<path fill="#3f3b97" d="M0 758l0 124 1482 0 0-121-17-80-16-59-23-67-21-49-28-53-32-49-33-41-44-44-58-48-55-38-56-32-58-27-72-26-44-12-3 1-13 29 40 10 55 19 80 37 73 45 70 56 43 43 36 45 28 44 16 31 8 21 0 9-10-8-40-56-27-33-43-45-29-26-42-33-54-36-53-30-21-10-10-2-160 1-49 121-41 130-26 119-9 68-3 45-11-103-26-123-39-126-53-132-159 0-13 3-48 25-79 51-61 50-61 64-57 77-10 9-1-7 7-20 18-35 26-41 41-51 46-45 62-49 80-49 85-38 48-16 36-9 1-2-14-28-53 14-51 18-42 18-60 31-51 32-41 30-52 44-36 36-26 31-31 44-24 41-22 45-21 52-16 48-18 67zM1240 90l1 5 17 17 97 82 53 52 43 49 31 41 0-48-47-54-52-51-56-47-49-31-25-12zM241 90l-13 3-19 9-49 30-56 46-48 46-56 63 0 48 42-54 39-43 51-49 107-92z"/>
<path fill="#4040a2" d="M0 767l0 115 1482 0 0-112-15-74-18-69-23-68-23-54-24-46-40-61-35-42-40-39-52-43-56-39-50-29-68-32-60-22-56-15-13 26 1 2 76 22 52 21 41 20 80 49 41 31 32 28 45 46 44 59 35 64 10 29-1 8-9-7-40-58-38-47-50-50-39-30-60 71-5 4-4 0-25-9-84-47-54-25-52-18-63-14-18 46-27 79-18 62-26 119-9 68-3 45-11-103-18-91-33-117-40-108-56 12-61 21-59 28-59 34-42 18-6-1-64-74-42 33-43 43-43 53-37 54-10 9-2-2 1-9 9-25 38-69 38-51 56-57 74-58 81-48 89-38 71-20-14-28-48 13-49 17-60 26-49 26-45 28-44 32-50 42-41 41-25 30-32 46-22 38-28 59-17 44-21 67zM772 830l6-10 8-4 21-4 32 1 10 4 5 6-7 10-8 4-29 7-16 0-16-6zM1265 106l2 7 14 14 69 59 50 48 40 44 42 54 0-40-65-73-48-45-48-39-33-20zM217 106l-29 12-33 21-56 47-52 51-47 54 0 40 33-43 37-42 57-56 68-58 21-21z"/>
<path fill="#4146ac" d="M0 775l0 107 1482 0 0-103-19-94-20-73-28-77-27-57-25-43-34-48-22-26-55-53-54-43-49-33-55-31-59-27-64-23-48-13-13 26 37 9 53 18 43 18 44 22 81 51 35 27 36 32 52 56 37 53 34 65 10 30 1 10-2 2-9-7-32-48-34-45-31-32-73 64-12 1-25-11-91-64-81-46-77-29-69-16-40 113-29 106-19 101-8 87-11-103-18-91-33-117-35-95-26 4-46 12-78 30-72 41-94 66-26 12-14-2-72-63-41 45-51 74-13 14-2-2 0-9 6-21 16-36 23-41 22-33 26-33 50-51 67-54 81-50 84-38 54-18 33-8 1-2-12-24-56 15-60 22-34 15-61 32-53 34-45 34-45 39-36 37-29 36-27 40-19 33-29 61-17 44-20 64-15 60zM876 819l-1 8-8 8-22 9-23 5-37 4-16-4-10-9 12-28 7-5 12-3 25-2 35 2 18 6zM1289 123l-1 2 24 26 51 43 53 53 39 45 27 36 0-32-40-47-38-39-56-50-28-22zM193 123l-25 11-26 19-53 46-44 44-45 52 0 32 28-37 43-49 55-54 42-35 22-22z"/>
<path fill="#434eba" d="M1312 141l7 10 42 36 52 52 41 47 28 37-1-24-48-55-72-68-39-31zM170 141l-12 5-47 38-71 69-40 47 0 22 34-44 40-45 54-53 38-32zM0 784l0 98 1482 0 0-93-16-85-21-81-18-54-24-58-28-54-39-59-37-44-34-33-54-45-53-37-53-31-68-32-54-20-62-17-11 22 1 2 76 22 43 17 50 24 80 49 71 57 55 57 41 57 19 33 23 49 10 36-3 9-10-9-35-50-83 53-14 2-12-8-52-54-42-38-46-36-45-30-55-30-44-18-47-15-56-11-38 108-29 106-19 101-8 87-11-103-18-91-27-98-39-111-52 11-56 18-41 17-51 28-41 27-54 42-27 24-67 68-10 6-8 0-9-4-79-51-38 53-8 6-2-2 0-11 9-31 34-69 25-39 22-29 52-55 68-56 81-51 44-22 43-18 40-14 51-14-13-23-48 13-49 17-60 26-49 26-58 37-46 35-37 32-44 45-37 48-24 38-30 58-15 35-21 59-16 56zM747 847l1-5 17-17 5-22 5-5 12-4 61-1 19 2 17 7 7 7 5 10-2 10-10 9-19 8-25 6-72 9-12-4z"/>
<path fill="#4454c3" d="M1457 280l25 35 0-7zM25 280l-25 27 0 8zM0 794l0 88 1482 0 0-83-22-115-20-73-20-57-25-57-31-56-31-45-30-36-52-50-54-43-49-33-57-32-57-26-61-22-51-14-12 21 48 13 63 23 42 19 48 26 38 24 45 33 44 38 31 31 28 33 32 46 21 37 23 50 10 33 1 19-5 3-9-7 4 35-5 8-74 31-12 0-15-15-43-62-39-49-50-50-61-49-51-33-45-24-75-28-43-11-26-4-15 38-2 12 50 10 44 14 70 32 64 42 44 40 40 48 32 49 15 32 9 29 1 16-5 8-58 25-7 1-4-2-64-91-39-41-35-29-54-34-42-19-53-16-44-7-9 36 55 9 64 23 50 29 40 33 33 37 25 37 17 40 2 14-3 6-14 5-30 5-52 5-15-1-14-11-15-21-21-22-30-23-44-22-30-9-43-5-7 78-8-78-9 0-49 9-47 20-37 26-51 55-6 2-42-1-36-4-27-6-6-6 0-10 8-25 11-22 30-43 37-39 44-33 50-26 63-20 42-6-9-36-39 6-52 15-27 11-53 29-32 23-46 42-33 40-37 57-13 15-6 1-59-24-7-8 0-16 9-30 16-34 38-57 26-31 33-33 29-23 41-27 55-28 30-12 49-15 43-8-17-50-6 0-67 16-62 23-53 27-54 35-55 44-51 50-47 59-41 59-15 13-12-2-70-29-5-5-2-8 5-30-10 6-5-4 2-21 9-29 12-28 30-56 26-39 30-37 45-45 44-37 33-24 51-32 54-28 50-21 47-16 40-10 1-2-11-20-45 12-55 19-49 21-61 32-53 34-45 34-48 42-37 39-31 40-27 42-26 49-22 51-32 99-18 77zM907 822l0 9-4 8-13 8-41 10-61 7-34 10-45-12-24-15-11-14 0-8 6-11 12-10 12-3 6 5 4 16 8 11 15 7 12-2 14-11 5-13 0-17 12-16 34-4 40-1 17 3 10 5 12 11 9 13z"/>
<path fill="#4559cb" d="M0 805l0 77 1482 0 0-72-4-30-17-86-23-85-25-69-27-58-24-42-32-46-37-43-38-36-53-43-53-36-47-27-64-30-69-25-48-13-10 19 66 19 61 24 65 33 48 30 41 30 39 33 29 28 37 42 29 41 20 34 23 47 16 44 4 19 0 19-4 13 8 35 7 52 0 25-3 9-4 4-61 14-12-1-13-16-53-107-52-77-23-28-30-31-70-59-43-29-54-30-67-26-81-19-17 46 39 7 48 14 36 14 41 20 50 31 30 23 55 56 40 55 14 24 21 46 11 34 8 39 0 29-2 6-6 6-55 13-7-1-8-9-35-73-30-49-34-43-35-34-51-38-46-25-50-19-62-13-8 1-7 30 28 3 35 8 50 18 35 18 30 20 20 16 31 31 34 45 24 47 14 51 1 19-2 8-4 4-63 3-20 4-17 7-7 0-10-8-22-38-23-33-35-34-29-19-26-12-30-9-41-5-6 65-6-65-42 5-37 12-24 12-25 17-32 31-34 46-20 17-80 5-29-1-6-8 0-19 6-30 8-24 25-49 37-48 23-23 30-24 26-17 29-15 58-21 59-10-7-31-47 7-49 15-40 18-49 30-45 37-27 28-23 29-30 47-41 84-7 8-7 1-57-14-4-4-3-9 0-23 5-29 13-44 28-60 46-66 55-57 31-24 44-28 76-35 41-13 54-11-17-46-71 16-72 27-47 25-49 32-65 53-35 35-27 32-23 31-30 47-33 63-19 42-13 18-13 2-63-15-5-9-1-21 5-45 10-46 0-9-4-9 0-14 6-28 13-35 26-53 21-35 28-39 23-27 48-47 69-54 56-35 57-29 54-22 78-23-11-19-54 15-53 19-37 16-62 32-58 37-41 31-43 37-46 48-30 39-28 44-26 50-20 47-22 64-17 63-14 65zM587 801l3-11 11-17 35-34 17-11 28-13 33-7 5 4-10 42 0 25 5 19 0 21 11 15 9 4 15-1 11-7 7-13-1-23 6-22 0-20-10-40 5-4 7 0 29 8 22 10 41 30 23 23 15 20 8 17 2 20-4 11-14 9-52 9-61 5-44 12-66-27-56-29-23-9-6-6z"/>
<path fill="#4661d6" d="M498 867l0 15 483 0-6-13-25-36-30-59-15-22-21-23-22-18-35-20-34-12-35-6-12 0-5 58-5-58-28 2-27 6-31 12-32 19-15 12-29 31-34 49-22 37zM575 810l4-15 9-18 15-19 25-23 19-13 27-13 26-8 23-2 6 2 3 6-10 17-8 28-1 25 3 15-2 25 4 9 12 10 13 2 11-4 8-7 5-12-3-23 4-17 0-17-5-25-14-28 9-6 12 0 23 5 24 9 19 10 25 18 26 26 18 23 13 27 2 20-7 23-7 7-8 3-66 6-62 1-33 5-61-15-59-18-33-6-6-5-3-7zM781 492l-7 28 65 12 54 20 55 32 23 18 28 27 41 53 17 31 12 29 10 35 5 29 3 76 55 0-1-28-5-30-7-27-19-52-19-39-21-35-20-28-25-29-25-24-35-28-53-32-63-25-42-10zM700 492l-31 4-40 10-31 11-40 19-55 36-54 50-44 59-34 65-24 71-7 40-1 25 56 0 2-73 13-60 13-33 13-25 22-33 18-22 48-45 54-34 61-24 38-9 30-4zM834 333l-16 43 49 10 45 14 71 32 66 43 22 18 33 33 22 26 34 48 24 44 15 36 13 42 10 50 4 42 1 68 97 0-3-49-7-38-10-38-21-59-27-57-21-36-53-73-48-49-60-49-47-31-48-26-50-20-42-13zM647 333l-49 10-51 16-49 20-63 36-37 26-45 37-50 50-30 38-26 38-21 36-26 54-22 61-12 46-6 35-3 46 98 0 2-89 5-37 9-40 25-69 17-33 21-33 32-42 39-41 26-22 40-28 64-34 29-12 47-15 52-11zM919 143l-8 16 70 20 58 23 63 32 54 34 43 32 37 32 38 38 26 31 28 40 20 34 28 59 16 50 2 54 12 59 10 76 4 62 0 47 62 0 0-58-8-60-17-81-21-76-26-71-27-57-25-43-28-40-32-38-38-37-52-43-58-40-45-26-63-30-71-26zM562 142l-58 16-55 20-63 29-53 30-42 28-57 45-43 40-35 40-30 42-26 44-29 61-24 65-24 87-15 72-8 57 0 64 62 0-1-34 4-71 9-71 14-72-1-34 3-19 10-33 15-36 28-54 33-50 26-32 36-37 42-37 44-33 59-37 55-28 54-22 78-23z"/>
<path fill="#4666dd" d="M739 712l-12 10-9 23-2 11 2 40-4 18 4 11 6 7 11 5 11 0 13-7 7-12 1-8-4-13 3-33-3-21-8-20-8-9-5-2-1 19zM745 680l-1 12 25-1 39 10 33 16 27 20 37 39 18 30 3 29-9 47 41 0-2-17-5-15-34-64-20-32-25-26-28-20-31-15-41-11zM736 680l-32 3-33 9-32 15-33 24-26 28-40 58-14 35-3 30 44 0-1-60 5-25 14-29 24-27 30-23 37-18 37-9 24 1zM781 493l-7 26 62 11 62 23 48 28 27 21 27 26 19 22 24 34 28 58 16 63 4 37 0 40 47 0-2-33-6-35-8-30-16-43-34-64-20-29-28-33-53-47-54-34-62-26-43-11zM700 493l-25 3-42 10-39 14-37 18-53 35-24 20-30 30-40 53-35 66-14 37-10 37-6 36-1 30 46 0 0-32 5-49 15-58 13-31 16-29 36-48 43-41 46-31 35-17 36-13 42-10 30-4zM834 334l-16 41 50 10 45 14 71 32 29 17 46 33 56 55 36 47 19 30 20 39 13 32 14 45 11 55 5 54 0 44 85 0-3-47-9-53-25-81-16-37-25-47-30-46-30-39-49-50-63-51-50-32-37-20-58-23-52-15zM648 334l-50 10-48 15-45 18-38 20-45 28-46 35-31 27-41 42-34 44-25 38-30 56-15 35-25 82-9 54-2 44 84 0 1-54 5-48 12-57 12-38 13-32 27-51 52-70 50-49 29-22 41-26 46-23 38-15 47-14 42-8zM919 144l-7 14 56 15 61 23 67 33 58 36 74 58 44 43 28 33 27 38 23 39 27 57 17 49 5 29 1 40 21 126 4 49 0 56 57 0 0-40-7-63-15-77-22-84-21-61-20-47-26-50-38-58-34-41-42-41-42-35-66-46-47-27-64-30-69-25zM563 144l-54 14-56 20-81 38-38 22-49 33-48 38-50 47-34 40-42 63-28 54-19 45-19 55-22 82-15 74-8 65 0 48 56 0 0-48 4-53 8-59 13-68 2-49 6-29 15-42 29-61 22-37 24-34 24-29 46-46 39-33 38-28 63-39 52-26 55-22 73-21z"/>
<path fill="#466be3" d="M934 841l-6 15-3 26 26 0-5-27-6-11zM559 807l-3 0-7 8-11 21-6 20-2 26 27 0zM738 717l-11 10-8 22-2 16 2 31-4 9 0 12 4 9 7 7 10 4 8 0 12-5 6-6 4-9 0-12-5-13 3-14 0-18-3-17-6-15-5-7-8-4-1 14zM781 494l-6 24 68 13 42 15 31 15 54 37 38 37 36 48 16 29 13 31 16 61 5 46 0 32 41 0-2-37-6-34-8-30-14-38-34-65-23-33-21-25-50-46-53-35-32-16-37-14-38-10zM701 494l-32 4-36 9-39 14-33 16-54 35-34 29-24 25-38 51-17 29-18 38-12 32-10 37-6 36-2 33 41 0 4-69 7-36 10-33 27-57 42-56 43-40 30-21 31-17 61-23 65-12zM833 335l-14 39 33 6 50 14 37 14 51 25 43 27 29 22 52 51 53 72 23 43 15 36 14 44 12 57 5 47 1 50 77 0-2-43-7-47-11-45-15-45-19-44-19-36-23-37-37-50-64-64-48-38-46-30-42-23-52-21-38-12zM648 335l-54 11-47 15-51 21-41 23-44 29-43 34-66 65-31 41-30 47-21 40-18 42-14 42-12 49-6 39-3 49 78 0 0-44 6-57 10-48 15-48 15-36 24-45 35-50 20-24 53-51 24-18 48-30 73-33 45-14 50-10zM918 146l-5 10 49 13 67 25 54 26 48 28 37 25 52 41 52 50 29 34 29 41 20 34 29 61 17 47 7 36 3 53 19 117 4 95 53 0-3-58-8-60-16-77-22-80-16-46-23-54-27-51-35-53-33-40-43-42-62-50-48-32-42-24-66-31-69-25zM564 146l-45 11-66 23-54 24-62 34-44 29-55 43-50 47-34 40-28 40-24 41-28 59-25 68-24 88-15 73-8 62-2 54 53 0 0-51 3-40 20-126 3-53 7-33 16-44 21-46 21-38 34-50 25-30 45-45 44-37 49-35 50-30 50-25 52-21 75-22z"/>
<path fill="#4771e9" d="M937 863l-3 5-2 14 12 0-3-16zM549 840l-5 3-5 13-2 26 13 0 1-31zM739 720l-11 9-6 14-3 15 1 37-5 12 0 9 9 15 9 5 9 1 12-4 7-6 5-11 0-9-6-15 3-26-4-24-5-12-7-8-5-2 0 10-2 0zM781 495l-6 20 1 3 27 3 36 8 55 20 31 16 26 17 23 18 30 29 25 30 17 25 20 38 10 25 16 65 4 39 0 31 37 0-1-28-7-44-8-30-14-38-31-60-42-57-20-21-36-31-52-34-37-18-36-13-41-10zM701 495l-33 4-42 11-63 27-57 37-51 47-40 52-35 65-14 37-10 37-6 36-2 34 37 0 1-40 4-34 8-37 10-31 28-57 36-48 49-46 48-31 63-26 41-10 33-4zM833 336l-14 37 49 10 48 15 76 35 59 39 21 17 40 40 40 51 20 31 20 38 18 44 17 59 7 38 5 50 0 42 72 0-1-38-7-50-12-50-17-50-37-76-26-41-33-44-50-51-33-28-33-25-60-37-42-20-58-21-38-10zM649 336l-36 6-61 18-52 21-40 22-49 32-44 35-67 67-31 42-27 43-35 73-16 47-13 54-6 42-2 44 72 0 1-51 5-45 9-45 12-41 19-48 19-37 21-33 37-48 54-53 32-24 42-26 75-34 38-12 56-12zM949 159l103 42 47 25 54 34 33 24 52 44 39 39 38 47 29 45 23 44 22 52 15 48 6 75 19 127 2 77 49 0-3-62-8-58-14-68-20-75-19-56-21-50-31-59-26-40-34-43-34-35-50-43-51-37-55-33-58-28-45-18zM533 159l-36 9-67 25-57 27-56 33-44 31-54 45-38 38-34 42-36 56-26 51-20 48-18 53-18 66-17 81-8 60-3 58 49 0 4-93 17-108 3-55 7-37 11-33 21-50 25-48 32-49 29-36 38-39 42-37 48-36 52-33 59-31z"/>
<path fill="#4778f0" d="M738 723l-11 11-5 14-2 12 1 34-5 10-1 10 4 11 8 8 7 3 13 0 7-3 8-8 4-10 0-7-6-14 1-37-3-14-6-13-10-7-1 8-1-8zM781 495l-6 22 63 11 58 21 29 15 29 19 26 21 29 29 39 52 18 34 11 27 12 42 5 27 4 67 33 0-1-31-6-38-7-28-17-47-35-65-39-51-51-47-28-20-38-22-36-16-30-10zM701 495l-29 4-37 9-39 14-33 16-58 38-29 25-25 26-28 36-20 32-30 64-18 66-5 57 34 0 0-35 4-36 15-61 11-28 17-33 15-23 30-37 46-42 26-18 31-17 57-22 38-9 33-4zM833 336l-14 36 52 11 39 12 31 12 51 25 37 23 36 27 51 50 38 49 20 31 17 32 19 45 15 48 11 54 5 48 0 43 68 0-1-37-6-46-10-45-14-45-18-44-21-41-28-45-30-41-69-69-43-34-44-29-43-24-52-21-52-16zM649 336l-57 12-38 12-50 20-39 21-40 25-46 35-35 31-42 44-33 45-25 40-35 73-18 54-11 48-6 43-2 43 68 0 1-51 5-44 12-56 13-41 17-41 20-38 18-28 36-47 58-57 31-23 44-27 68-31 55-17 43-8zM1151 252l73 60 54 53 43 54 32 52 35 76 22 70 4 70 17 119 2 76 45 0-2-54-6-49-24-114-29-94-39-88-39-64-46-57-34-33-42-35-41-29zM331 252l-16 7-48 33-71 62-45 53-46 73-36 79-32 100-14 59-13 70-5 45-2 49 45 0 2-71 17-121 5-76 21-66 36-78 37-59 42-51 55-53z"/>
<path fill="#467df4" d="M739 725l-9 7-7 17-2 11 1 33-6 12 0 13 10 14 9 4 11 0 9-4 7-7 4-15-7-17 1-36-3-13-8-15-7-4-1 6zM780 496l-5 20 36 5 40 10 38 14 29 14 53 36 42 41 23 29 18 28 25 55 16 65 4 36 0 33 31 0-2-36-6-36-20-64-21-44-34-53-27-32-49-44-58-37-32-15-37-13-33-8zM701 496l-25 3-42 10-36 13-35 17-54 35-24 20-30 30-25 31-18 27-18 32-17 38-10 29-10 41-5 39 0 21 30 0 4-67 9-43 10-31 10-24 19-35 37-49 29-29 26-21 32-21 30-15 60-21 58-10zM1273 351l41 52 33 51 22 42 23 54 17 50 8 33 0 52 15 113 3 84 41 0-4-72-14-83-23-93-25-74-30-67-32-55-39-52zM209 351l-9 6-31 33-42 58-34 62-22 51-24 71-23 92-14 81-5 77 42 0 1-67 16-124 1-62 24-78 22-52 24-46 36-55zM832 337l-13 35 35 6 61 18 73 33 35 21 32 23 25 21 38 39 53 72 25 47 15 36 16 51 10 48 6 57 0 38 65 0-2-40-7-50-11-47-14-43-22-51-20-37-52-76-68-68-40-32-50-33-44-24-47-19-44-14zM649 337l-43 8-50 15-55 22-45 25-41 27-42 33-35 32-34 36-31 42-26 41-20 38-20 47-15 47-10 44-6 42-2 46 64 0 1-48 5-44 12-57 14-44 14-34 24-46 51-71 36-38 25-22 31-23 37-23 44-22 40-16 60-17 30-5z"/>
<path fill="#4682f8" d="M740 727l-9 6-7 16-2 11 1 32-7 14 0 11 4 9 8 7 17 3 11-5 7-8 2-18-7-13 2-24-3-20-6-14-7-6-3 3zM1417 602l11 52 0 9-6 10 0 34 13 106 1 69 38 0-5-73-10-61-22-91zM64 602l-23 67-19 81-11 72-3 60 37 0 2-76 13-108-1-27-6-9 0-6 10-41zM780 497l-5 19 16 1 45 9 35 11 33 14 31 17 26 18 48 44 41 54 28 58 10 31 9 44 4 65 27 0 0-21-5-39-18-65-31-65-24-37-24-30-50-47-61-40-36-17-34-12-37-9zM701 497l-27 3-41 10-61 25-39 23-25 18-48 44-41 53-20 34-17 36-21 66-6 35-2 38 28 0 0-33 4-36 9-42 9-28 26-55 38-52 42-41 49-34 28-14 42-16 50-12 28-3zM832 337l-12 34 41 8 56 17 78 36 41 26 29 22 55 54 37 48 21 33 21 41 15 37 13 41 12 57 5 44 1 47 61 0-2-44-7-49-9-39-15-47-17-41-20-39-28-45-29-40-47-49-27-24-41-32-45-29-40-22-47-19-55-17zM649 337l-56 12-38 12-50 20-46 25-43 28-49 39-62 62-35 48-20 32-26 50-16 39-14 44-10 43-7 51-2 40 62 0 0-41 6-54 12-55 12-38 14-35 23-45 19-30 41-53 50-49 30-23 46-29 47-23 33-13 39-12 53-11z"/>
<path fill="#458afc" d="M740 729l-8 5-7 15-2 10 1 32-7 12-1 13 8 14 9 5 11 1 16-9 5-10 0-11-8-15 2-26-3-17-6-13zM1429 695l-2 3 0 28 10 88 1 68 31 0-3-39-5-13-13-82-10-37zM52 695l-7 12-12 43-12 76-6 20-2 36 30 0 2-77 10-88 0-15zM780 497l-5 18 26 3 41 9 53 19 30 15 28 18 29 23 32 32 38 51 27 56 10 31 9 43 4 38 0 29 25 0-1-29-7-44-6-24-17-47-35-65-40-52-49-45-55-36-35-17-36-13-36-9zM701 497l-39 6-30 8-35 13-29 14-56 36-35 30-21 22-24 30-22 34-21 40-12 29-10 31-8 36-5 56 25 0 1-37 4-34 9-41 9-28 28-58 41-54 24-24 32-26 31-20 24-12 61-22 63-11zM832 338l-12 33 35 6 61 18 73 33 38 23 44 33 50 50 54 74 19 35 19 44 16 50 9 40 7 53 1 52 58 0-1-40-7-51-11-47-15-46-17-40-25-47-50-73-67-67-44-35-51-33-34-19-63-25-53-15zM649 338l-50 10-45 14-50 20-42 23-42 27-62 50-52 53-52 75-27 51-16 38-16 50-10 44-7 54-1 35 58 0 1-47 7-56 11-48 13-40 18-43 22-41 56-76 56-54 31-23 37-23 53-26 31-12 51-15 39-7z"/>
<path fill="#448ffe" d="M739 731l-7 5-6 13-3 18 2 23-7 11-2 14 2 7 9 10 15 4 17-8 5-8 1-13-9-18 2-26-4-18-9-13zM1434 727l-1 22 7 74 0 59 18 0-1-40-7-58-8-39zM48 727l-3 2-5 14-10 50-5 42-2 47 18 0 0-50 8-92zM780 498l-4 13 1 4 33 4 38 9 42 15 37 18 41 28 43 40 40 52 19 35 10 24 10 31 9 42 4 35 0 34 23 0-6-62-9-37-11-32-21-45-17-29-38-51-51-48-28-20-39-23-62-25-37-9zM702 498l-27 3-44 11-63 27-57 37-50 46-26 32-18 27-34 66-20 65-6 39-1 31 22 0 0-27 5-46 7-33 11-35 9-22 21-39 34-45 41-40 52-36 31-15 41-15 36-9 38-5 2-2zM832 338l-12 32 53 11 42 13 28 11 51 25 40 25 38 29 50 50 37 48 21 33 16 30 21 50 14 45 10 47 6 52 1 43 55 0-2-47-7-48-11-46-13-40-35-76-23-38-34-48-68-68-44-35-46-30-44-24-53-21-35-11zM649 338l-48 10-51 16-47 19-33 18-49 31-61 49-54 55-27 37-32 51-23 46-14 35-13 41-10 43-7 50-2 43 56 0 0-36 5-50 8-42 16-55 20-49 19-36 19-30 35-46 57-57 33-25 47-29 41-20 41-16 49-14 37-7z"/>
<path fill="#4294ff" d="M1444 792l-1 90 11 0-2-45zM38 792l-8 39-3 51 11 0zM738 733l-6 5-6 14-2 12 1 27-7 11-2 12 4 11 6 6 8 4 13 0 7-3 7-7 4-10 0-7-9-17 1-31-4-15-8-11zM780 498l-4 16 47 7 37 10 32 12 35 17 50 35 42 41 40 55 24 53 12 41 6 32 4 65 19 0-5-60-19-67-12-28-20-37-17-27-27-35-27-28-27-23-62-40-32-15-31-11-31-8zM702 498l-39 6-30 8-37 14-30 15-52 34-23 19-31 31-24 30-19 29-32 62-20 63-6 36-2 37 19 0 2-45 6-41 10-39 13-35 19-37 40-53 42-40 48-33 36-17 36-13 35-9 43-6zM832 339l-11 31 30 5 60 17 31 12 55 27 38 24 33 25 54 53 38 49 21 33 22 43 15 37 13 41 13 63 4 37 1 46 53 0-2-45-5-38-12-54-13-41-15-37-21-42-21-35-35-50-50-52-26-23-44-34-46-29-35-19-47-19-44-14zM650 339l-43 8-50 15-55 22-36 20-44 28-45 35-71 70-50 73-25 47-17 40-15 46-11 47-7 52-1 40 52 0 1-40 5-47 13-61 12-38 20-48 18-34 19-30 35-46 37-39 25-22 28-21 43-27 77-35 45-14 51-10z"/>
<path fill="#4099ff" d="M740 734l-8 6-4 8-3 13 1 29-8 12-2 11 3 10 7 8 9 4 11 0 9-4 6-6 4-16-10-20 2-21-3-18-6-12zM779 499l-3 12 2 3 33 4 38 9 45 16 32 15 52 36 46 45 32 42 19 37 15 42 10 42 6 48 0 32 17 0-5-57-10-42-11-31-18-38-22-37-37-51-47-45-65-43-29-14-36-13-37-9zM702 499l-26 3-34 8-63 25-37 22-31 22-46 43-22 27-40 64-19 40-10 28-10 41-5 39 0 21 16 0 1-40 5-38 10-43 15-42 20-39 35-45 40-39 51-36 33-16 44-16 36-9 41-6zM832 339l-12 30 57 12 41 13 71 32 29 17 41 29 27 23 36 37 41 53 16 25 25 48 15 37 13 41 12 56 5 42 1 48 51 0-2-43-6-45-10-45-13-42-16-40-21-42-19-32-36-52-71-71-43-34-41-27-47-26-45-18-47-15zM650 339l-49 10-48 15-52 21-34 19-44 28-39 30-36 32-43 45-55 83-23 46-16 40-11 35-11 48-7 53-1 38 50 0 1-43 6-51 10-47 13-42 16-40 26-50 52-72 33-35 28-25 69-47 53-26 28-11 42-13 53-11z"/>
<path fill="#3ba0fd" d="M740 735l-8 6-5 12-2 12 2 23-10 17 0 13 4 8 7 6 7 3 11 0 9-4 6-6 4-16-10-19 1-29-4-15-6-9zM1079 721l14 45 8 36 6 49 0 31 15 0-3-45-10-47-16-44zM402 721l-17 33-14 41-9 45-2 42 14 0 1-39 5-39zM779 499l-3 14 42 6 36 9 39 14 38 18 51 36 46 44-19-24-28-27-31-24-36-23-27-14-42-16-41-10zM702 499l-30 4-32 8-34 12-35 17-41 26-26 20-37 36-13 18 49-47 51-35 32-15 45-16 38-9 37-5zM831 340l-11 29 39 7 57 17 28 11 53 26 41 26 34 26 54 54 36 47 21 33 21 41 18 45 13 43 9 43 6 51 1 43 49 0-2-47-6-43-8-37-16-52-15-37-21-42-57-86-37-39-41-37-39-30-65-40-47-21-42-15-46-12zM650 339l-48 10-51 16-47 19-45 25-37 24-46 36-73 73-53 81-17 33-20 48-14 45-10 45-6 45-2 43 50 0 1-51 7-52 9-40 15-47 20-47 16-30 21-33 38-49 39-40 21-18 70-47 47-23 33-13 59-17 34-6z"/>
<path fill="#35abf8" d="M1109 819l2 63 7 0-2-34zM372 818l-6 25-2 39 6 0zM738 738l-6 6-4 10-2 12 2 22-10 15-1 14 5 10 6 5 17 3 11-5 8-12 0-13-10-16 1-26-3-13-7-11zM779 500l-3 12 37 5 35 8 69 24-18-13-43-19-42-12zM702 500l-58 11-39 14-26 13-15 11 73-25 68-12zM831 340l-10 28 33 6 59 17 31 12 53 26 34 21 34 25 59 57 54 73 29 55 12 29 18 57 9 43 6 51 1 42 45 0-2-48-6-43-11-48-12-38-17-42-18-36-22-37-33-48-72-72-43-34-38-25-46-26-50-20-44-14zM650 340l-73 17-87 35-47 28-51 37-42 37-44 46-55 84-20 40-17 42-13 42-11 51-5 40-2 43 45 0 2-50 7-52 9-40 15-47 19-45 21-39 52-72 33-35 28-25 32-24 42-26 72-33 55-17 46-9z"/>
<path fill="#2eb4f2" d="M740 740l-6 4-5 11-2 13 2 20-11 16-1 12 2 6 8 9 16 4 11-4 7-7 3-7 0-11-11-17 1-25-6-19zM778 503l-2 8 58 9 51 14-16-10-33-12-39-9-16-2zM702 501l-34 5-46 14-26 14 47-13 62-10zM831 341l-10 26 56 12 44 14 76 35 67 45 20 17 44 45 37 48 21 33 23 45 13 32 14 43 11 49 7 57 1 40 41 0-2-49-6-43-11-48-12-38-34-76-56-87-43-45-38-34-45-34-61-37-83-33-45-12zM651 341l-68 15-38 13-55 24-47 28-47 34-34 29-53 54-38 55-19 32-19 38-17 42-13 42-10 45-6 45-2 45 42 0 1-48 6-47 9-42 16-51 18-43 19-36 21-33 39-50 54-53 33-25 45-28 75-34 49-15 48-10z"/>
<path fill="#27bee9" d="M738 743l-4 4-5 13 1 27-11 15-2 13 4 10 5 5 15 5 13-4 6-6 4-9 0-9-4-9-8-9 1-25-3-12-4-7zM777 510l75 12-10-6-35-10-29-3zM705 509l-2-7-23 3-32 8-19 9zM830 342l-9 25 31 5 63 18 33 13 49 24 43 27 34 26 52 51 53 71 24 43 21 49 15 47 11 51 6 52 1 38 37 0-1-39-6-49-9-42-15-49-33-74-23-39-34-50-54-55-35-30-38-28-56-34-48-21-46-16zM651 342l-26 4-43 11-87 34-52 31-48 35-39 34-50 52-53 83-35 78-13 42-10 45-6 45-2 46 38 0 1-46 7-53 10-44 14-44 19-45 18-34 21-33 37-48 59-58 29-22 48-30 70-32 51-16 51-10z"/>
<path fill="#20c7df" d="M739 745l-5 5-4 11 1 26-9 10-5 16 2 8 6 8 10 5 11 0 14-9 4-10 0-7-4-10-9-10 1-23-3-12-5-7zM777 507l41 6-4-3-36-6zM704 505l-24 2-17 6 41-5zM830 342l-8 24 57 12 41 13 77 35 43 27 33 25 57 56 21 30 17 19 18 28 19 35 21 49 13 40 11 47 7 51 2 49 33 0-1-41-6-48-10-46-14-45-32-72-54-86-51-53-39-34-53-38-47-28-85-33zM651 342l-73 17-85 34-50 30-49 36-28 24-59 60-53 84-34 76-13 42-11 50-5 39-2 48 34 0 1-44 6-48 11-50 13-41 20-48 19-36 19-30 20-23 16-24 39-41 25-22 67-46 57-28 31-12 55-16 38-7z"/>
<path fill="#1bd0d5" d="M741 747l-6 4-4 10 1 26-11 12-3 7 0 12 3 6 7 7 8 3 10 0 10-5 8-15-3-14-12-14 2-7-1-19-3-8zM830 343l-8 22 32 6 57 16 34 13 50 24 48 30 29 22 28 25 34 36 15 23 19 21 23 36 18 34 19 45 16 51 9 42 6 45 2 48 29 0-1-42-7-54-9-40-14-45-31-70-54-87-60-61-58-47-69-43-86-34zM651 343l-64 14-41 14-50 21-56 34-41 30-37 32-53 54-54 86-19 39-15 38-12 39-11 50-5 39-2 49 30 0 1-43 6-48 11-50 13-41 19-46 20-38 21-33 18-20 20-29 57-56 40-30 34-21 53-26 28-11 49-15 48-10z"/>
<path fill="#18d7ca" d="M739 750l-7 12 1 25-13 14-2 16 9 13 9 4 9 0 8-3 7-7 3-6 0-12-5-10-10-10 2-7-1-19-3-7zM830 344l-8 21 35 6 62 18 76 34 38 23 38 28 23 20 38 39 18 27 17 18 16 23 35 66 20 53 13 49 9 55 3 58 25 0-1-41-4-37-7-38-17-60-18-45-19-38-49-79-55-56-37-32-49-35-48-29-79-31-40-11zM652 344l-31 5-38 10-40 14-49 21-43 26-53 38-27 23-60 60-50 79-35 76-16 51-9 41-6 45-1 49 24 0 4-63 9-53 10-38 22-60 38-71 15-21 13-13 17-26 56-56 62-45 66-34 27-11 55-17 47-9z"/>
<path fill="#18dec0" d="M740 752l-4 3-3 8 1 23-13 14-3 7 0 9 8 13 7 4 11 1 10-4 6-6 3-7 0-11-4-8-12-12 2-8-1-17-2-5zM830 344l-8 20 54 11 56 18 61 28 34 20 54 40 55 55 13 21 18 19 17 24 38 72 21 58 12 48 8 53 3 51 19 0 0-36-6-54-11-50-12-39-33-75-52-85-61-61-28-24-32-24-64-40-47-20-43-15zM652 344l-70 16-85 33-67 42-33 25-31 27-58 59-48 79-20 41-16 41-14 48-9 46-4 36-1 45 20 0 3-56 10-60 10-38 20-55 16-34 36-59 20-21 16-25 57-56 60-43 31-17 57-26 61-19 46-9z"/>
<path fill="#1ce6b4" d="M739 755l-3 3-3 13 2 15-14 14-3 15 8 14 17 5 9-3 7-6 4-8 0-10-4-9-13-12 2-9-1-15-3-6zM829 345l-6 16 2 3 50 10 51 16 90 43 63 45 57 56 14 23 22 23 17 25 38 74 18 50 11 42 10 62 3 49 13 0-3-72-8-46-11-42-19-52-20-42-52-86-52-52-33-29-40-30-61-38-86-33zM652 345l-38 7-36 10-83 33-62 39-32 24-28 24-64 64-47 79-22 46-17 46-12 44-8 45-4 50 1 26 12 0 4-54 9-55 12-46 17-47 19-41 20-35 17-25 20-20 18-28 52-51 59-43 34-19 65-29 41-13 60-13z"/>
<path fill="#22ebaa" d="M741 757l-6 8 2 20-12 10-7 14 1 9 5 9 10 6 7 1 14-5 8-13 0-9-3-7-16-15 3-16-2-8zM829 346l-6 17 35 6 65 19 63 28 35 19 62 45 54 53 17 28 21 20 15 22 35 65 15 37 14 44 21 104 1-30-6-47-10-43-12-38-31-70-34-55-11-23-86-83-38-29-63-40-84-33-41-11zM652 346l-65 14-89 34-66 42-33 25-38 34-50 50-12 24-33 53-33 74-13 42-10 46-5 47 1 22 3-5 7-48 13-57 23-65 18-38 22-38 16-23 20-19 20-31 48-47 33-26 33-22 31-17 60-27 47-15 59-12z"/>
<path fill="#2cf09e" d="M739 761l-3 6 0 10 3 8-17 14-4 14 2 8 8 9 7 3 11 0 12-7 4-7 1-11-6-12-15-11 3-7 0-12-3-5zM829 346l-6 16 65 14 58 20 69 34 54 37 34 29 36 37 14 25 24 22 11 15 40 67-12-31-32-55-13-29-17-14-44-46-37-32-45-32-50-31-86-32zM653 347l-60 12-85 31-53 32-44 31-32 27-54 55-13 10-14 30-25 41-20 46 30-51 23-33 21-18 13-24 15-17 51-47 69-47 31-13 25-14 66-23 61-13z"/>
<path fill="#38f491" d="M738 787l-9 5-8 9-2 17 11 13 16 2 7-3 7-7 3-14-4-10-8-8zM741 764l-3 3 2 13 4-5zM828 348l-5 13 57 12 56 18 39 20 32 13 28 17 39 28 35 30 30 30 15 29 11 10 11 6 2-1-5-21-8-10-14-9-67-67-63-46-47-29-52-20-60-18zM653 347l-64 14-84 31-54 34-56 42-37 35-25 28-14 9-12 15-4 18 10-3 12-9 15-29 39-39 31-26 38-27 28-17 33-13 39-20 61-19 49-10z"/>
<path fill="#46f884" d="M740 787l-16 10-5 10 0 10 8 12 9 4 9 0 14-9 4-14-4-11-10-9zM1149 536l0 9 7 14 11 8 7 0 0-9-4-9-8-8zM332 536l-11 4-9 8-5 12 2 8 11-4 7-7 6-14zM825 361l30 5 49 13 42 15 26 15 22 7 38 21 65 46-18-18-30-24-75-49-88-32-58-12zM654 349l-11 0-51 12-85 31-76 50-32 26-14 15 52-38 50-29 20-6 26-15 38-14 51-14 36-7z"/>
<path fill="#55fa76" d="M738 788l-7 3-9 9-3 7 0 10 4 8 6 5 16 3 14-9 3-6 0-12-9-13-9-5zM1153 540l-2 6 4 10 9 8 6 1 2-9-4-8-7-6zM329 540l-7 1-7 5-5 8 0 10 7 0 7-5 6-11zM824 360l35 6 61 17 27 10 27 16 28 8 14 7-37-29-23-7-48-20-25-8-55-11zM654 349l-52 10-37 12-66 26-34 27 17-8 25-7 21-13 22-9 56-17 51-10z"/>
<path fill="#65fd69" d="M739 788l-9 4-8 8-3 16 5 10 5 4 15 3 14-8 4-8 0-11-8-12-8-5zM1155 543l-2 5 5 10 6 4 5 0 1-8-8-10zM327 543l-5 0-8 6-3 7 2 6 4 0 8-6 3-6zM824 358l91 22 34 12 25 16 19 3-8-11-10-6-21-5-68-27-53-12-6 0zM654 350l-65 14-59 24-23 6-13 8-6 9 17-2 30-18 38-13 49-13 35-6z"/>
<path fill="#75fe5c" d="M737 789l-14 10-4 9 0 7 3 8 6 6 15 4 9-3 8-8 2-15-3-7-8-8-6-3zM1156 546l3 11 7 3 2-2-1-7-5-5zM324 545l-9 5-2 4 2 6 9-5 2-4zM957 393l17 14 14 1-1-4-10-8-9-3zM524 393l-17 2-10 6-4 6 2 2 12-2 9-5zM825 356l1 2 35 6 70 18-26-12-35-11-43-8zM657 357l-3-6-34 6-41 12-28 13z"/>
<path fill="#84ff51" d="M737 789l-14 10-4 16 9 14 14 4 8-2 9-8 3-7 0-9-3-7-7-7-8-4zM1160 548l-2 4 6 5 2-3zM322 548l-6 4 1 5 6-4zM964 396l5 7 9 4 6-1-6-8-8-3zM518 396l-13 1-8 9 12-1zM826 353l1 3 61 12-19-7zM656 355l-5-2-21 4-37 11z"/>
<path fill="#92ff47" d="M738 789l-14 9-5 16 4 10 5 5 7 3 12 0 12-9 3-15-2-6-8-9zM969 398l3 5 8 1-2-4zM513 398l-6 0-6 6 6 0z"/>
<path fill="#9ffd3f" d="M740 789l-15 8-6 15 1 6 7 10 8 4 11 0 12-8 4-15-4-10-5-5z"/>
<path fill="#acfb38" d="M736 790l-13 10-3 6 0 11 4 8 6 5 16 2 12-8 4-15-9-15-8-4z"/>
<path fill="#c1f334" d="M737 790l-14 10-3 7 0 10 9 12 7 3 9 0 10-5 4-5 3-10-1-6-10-13z"/>
<path fill="#d4e735" d="M739 790l-15 9-4 9 0 8 8 12 16 4 8-3 6-6 3-6 0-10-9-13z"/>
<path fill="#e3db38" d="M736 791l-13 10-3 8 1 9 9 11 9 3 8-1 6-3 7-9 0-15-10-11z"/>
<path fill="#f1cb3a" d="M737 791l-13 9-4 11 1 7 9 11 16 2 11-7 4-15-7-13-9-5z"/>
<path fill="#faba39" d="M738 791l-9 4-6 7-2 15 8 11 7 3 10 0 12-9 3-12-2-7-8-9z"/>
<path fill="#fea933" d="M740 791l-14 7-5 9 0 9 3 7 7 6 14 2 13-9 2-16-8-11z"/>
<path fill="#fe932a" d="M736 792l-12 9-3 14 6 11 7 4 10 1 13-8 3-6 0-10-4-8-6-5z"/>
<path fill="#fa7b1f" d="M737 792l-12 8-4 14 3 8 6 6 12 3 14-7 4-8 0-8-9-13-6-3z"/>
<path fill="#f46617" d="M738 792l-9 4-5 6-3 9 1 6 7 10 6 3 11 0 11-8 3-13-3-8-6-6z"/>
<path fill="#eb500e" d="M739 792l-8 3-7 7-2 15 9 11 15 2 11-8 3-12-8-14z"/>
<path fill="#df3f08" d="M736 793l-11 8-3 15 9 12 14 2 8-4 5-6 1-14-9-11z"/>
<path fill="#d02f05" d="M736 793l-12 10-2 12 8 12 14 3 13-9 2-14-11-13z"/>
<path fill="#c12302" d="M737 793l-10 6-5 15 7 12 14 4 8-3 6-6 2-13-8-12z"/>
<path fill="#ac1701" d="M738 793l-13 9-3 9 1 6 8 10 15 2 10-7 3-13-7-12z"/>
<path fill="#950d01" d="M739 793l-8 3-8 11 0 10 8 10 14 2 10-6 4-13-3-8-6-6z"/>
<path fill="#810602" d="M736 794l-10 7-3 15 7 10 15 3 11-8 2-14-8-11z"/>
</g></g>
<path fill="#30123b" d="M391.4 941.2 395.2 947.5 398.9 953.9 402.6 960.3 406.2 966.7 409.8 973.1 413.4 979.4 416.9 985.8 420.3 992.2 423.7 998.6 427.1 1005 430.4 1011.3 433.6 1017.7 436.8 1024.1 440 1030.5 443.1 1036.9 446.1 1043.2 449.1 1049.6 452.1 1056 455 1062.4 457.8 1068.7 460.6 1075.1 463.4 1081.5 466.1 1087.9 468.7 1094.3 471.3 1100.6 473.8 1107 476.3 1113.4 478.7 1119.8 481.1 1126.2 483.4 1132.5 485.6 1138.9 487.8 1145.3 490 1151.7 492.1 1158 494.1 1164.4 496 1170.8 497.9 1177.2 499.8 1183.6 501.6 1189.9 503.3 1196.3 504.9 1202.7 506.5 1209.1 508 1215.5 509.5 1221.8 510.9 1228.2 512.2 1234.6 513.4 1241 514.6 1247.3 515.7 1253.7 516.7 1260.1 517.7 1266.5 518.5 1272.9 519.3 1279.2 520 1285.6 520.6 1292 521.1 1298.4 521.5 1304.8 521.8 1311.1 521.9 1317.5 521.9 1317.5 522 1311.1 522.3 1304.8 522.7 1298.4 523.2 1292 523.8 1285.6 524.5 1279.2 525.3 1272.9 526.1 1266.5 527.1 1260.1 528.1 1253.7 529.2 1247.3 530.4 1241 531.6 1234.6 532.9 1228.2 534.3 1221.8 535.8 1215.5 537.3 1209.1 538.9 1202.7 540.5 1196.3 542.2 1189.9 544 1183.6 545.9 1177.2 547.8 1170.8 549.7 1164.4 551.7 1158 553.8 1151.7 556 1145.3 558.2 1138.9 560.4 1132.5 562.7 1126.2 565.1 1119.8 567.5 1113.4 570 1107 572.5 1100.6 575.1 1094.3 577.7 1087.9 580.4 1081.5 583.2 1075.1 586 1068.7 588.8 1062.4 591.7 1056 594.7 1049.6 597.7 1043.2 600.7 1036.9 603.8 1030.5 607 1024.1 610.2 1017.7 613.4 1011.3 616.7 1005 620.1 998.6 623.5 992.2 626.9 985.8 630.4 979.4 634 973.1 637.6 966.7 641.2 960.3 644.9 953.9 648.6 947.5 652.4 941.2Z"/>
<rect x="151.3" y="1365.4" width="741.2" height="20.5" fill="#37163f"/>
</g>
<rect x="151.3" y="944.7" width="741.2" height="441.2" fill="none" stroke="#000" stroke-width="2.6"/>
<path d="M151.3 1385.9h-14M151.3 1297.7h-14M151.3 1209.4h-14M151.3 1121.2h-14M151.3 1032.9h-14M151.3 944.7h-14M168.9 1385.9v14.5M345.4 1385.9v14.5M521.9 1385.9v14.5M698.4 1385.9v14.5M874.9 1385.9v14.5" stroke="#000" stroke-width="2.6"/>
<text x="119.7" y="1399.2" font-size="35" text-anchor="end">0.0</text>
<text x="119.7" y="1311" font-size="35" text-anchor="end">0.5</text>
<text x="119.7" y="1222.7" font-size="35" text-anchor="end">1.0</text>
<text x="119.7" y="1134.5" font-size="35" text-anchor="end">1.5</text>
<text x="119.7" y="1046.2" font-size="35" text-anchor="end">2.0</text>
<text x="119.7" y="958" font-size="35" text-anchor="end">2.5</text>
<text x="168.9" y="1442.7" font-size="35" text-anchor="middle">−2</text>
<text x="345.4" y="1442.7" font-size="35" text-anchor="middle">−1</text>
<text x="521.9" y="1442.7" font-size="35" text-anchor="middle">0</text>
<text x="698.4" y="1442.7" font-size="35" text-anchor="middle">1</text>
<text x="874.9" y="1442.7" font-size="35" text-anchor="middle">2</text>
<text x="523.4" y="1509.4" font-size="42" text-anchor="middle"><tspan font-style="italic" font-size="43.5">Q</tspan><tspan font-style="italic" font-size="31" dy="8">r</tspan><tspan dy="-8"> [</tspan><tspan dx="2">Å</tspan><tspan font-size="25" dy="-12" dx="1.5">-1</tspan><tspan dy="12" dx="4">]</tspan></text>
<text transform="translate(44 1165.3) rotate(-90)" font-size="42" text-anchor="middle"><tspan font-style="italic" font-size="43.5">Q</tspan><tspan font-style="italic" font-size="31" dy="8">z</tspan><tspan dy="-8"> [</tspan><tspan dx="2">Å</tspan><tspan font-size="25" dy="-12" dx="1.5">-1</tspan><tspan dy="12" dx="4">]</tspan></text>
<text x="74.5" y="897.6" font-size="44" font-weight="bold">c</text>
<defs><clipPath id="cpd"><rect x="1141.2" y="945.1" width="741.2" height="441.2"/></clipPath><filter id="bld" x="-2%" y="-2%" width="104%" height="104%"><feGaussianBlur in="SourceGraphic" stdDeviation="1.1" result="b"/><feTurbulence type="fractalNoise" baseFrequency="0.38" numOctaves="2" seed="100" result="n"/><feColorMatrix in="n" type="matrix" values="0.33 0.33 0.33 0 0 0.33 0.33 0.33 0 0 0.33 0.33 0.33 0 0 0 0 0 0 1" result="g"/><feComposite in="b" in2="g" operator="arithmetic" k1="0.95" k2="0.53" k3="0" k4="0"/></filter></defs>
<g clip-path="url(#cpd)">
<rect x="1141.2" y="945.1" width="741.2" height="441.2" fill="#30123b"/>
<g filter="url(#bld)"><g fill-rule="evenodd" transform="translate(1141.2 945.1) scale(0.5)">
<path fill="#33184a" d="M1221 164l-7 12 6 14 17 18 78 70 60 64 34 43 33 48 40 71 0-102-43-61-58-67-72-67-32-23-30-17-17-5zM260 164l-9-2-14 4-31 17-36 26-33 29-46 46-54 64-37 53 0 102 40-71 63-86 30-34 44-44 82-75 8-14 0-6zM1333 153l-4 4-1 8 8 15 90 99 56 73 0-78-35-40-49-47-39-28-17-7zM151 155l-5-3-13 2-37 23-31 26-65 70 0 78 52-68 92-101 9-16zM23 557l0 6 5 7 1 6-16 65-7 51-6 10 0 180 1482 0 0-180-7-12-6-46-16-65 0-8 6-12-3-6-16-13-24-50-48-73-53-64-55-54-57-47-7-18-6-7-10-5-16 4-47-28-61-30-50-20-78-23-29 58 81 23 44 18 5 6-3 4-151 0-55 135-41 130-26 119-9 68-3 45-6-67-8-54-27-120-43-133-51-123-150 0-3-2 1-5 5-4 34-14 45-15 44-11-29-58-72 21-58 23-53 26-52 31-12-4-13 4-7 7-9 21-72 60-33 33-36 41-58 81-22 38-16 35zM1241 69l-3 10 6 13 10 10 9 5 12 0 3-3 1-7-8-16-16-12-8-2zM239 68l-13 1-17 14-6 11 0 9 3 4 12 0 17-12 8-15 0-7zM988 65l-4 6 0 7 9 17 12 9 6 2 11-1 4-4 1-9-10-18-16-10zM493 65l-15 0-17 13-6 12 0 10 4 5 15 0 16-12 7-13 0-10z"/>
<path fill="#351e58" d="M1232 175l-3 4 0 6 9 14 104 99 54 62 53 75 33 58 0-82-46-66-59-68-65-61-45-31-19-9zM249 175l-7-1-18 6-51 33-34 30-45 45-47 55-47 67 0 82 35-61 52-73 42-49 110-105 13-18 1-6zM1351 171l-2 2 1 8 11 17 74 83 47 62-1-62-69-74-40-30-13-6zM130 171l-7 0-10 4-40 29-42 42-31 36 0 60 49-64 69-77 13-19 1-9zM0 707l0 26 4 8-4 49 0 92 1482 0 0-84-4-39 0-21 4-6 0-24-9-11-9-61-15-59 4-20-17-17-24-50-44-67-56-68-54-53-58-48-4-15-9-11-12-2-6 5-4 0-50-30-68-33-49-19-71-21-26 52 45 11 50 17 30 13 5 5 1 6-6 6-153 1-53 130-41 130-26 119-9 68-3 45-6-67-8-54-27-120-43-133-49-119-152 0-6-4 1-9 12-8 69-25 48-12-25-52-80 24-52 21-62 31-44 27-5 0-6-5-10 1-9 9-7 20-60 49-45 44-36 41-37 49-36 57-22 46-16 16 4 12 0 9-15 59-8 57zM1244 72l-2 10 5 10 16 12 9 0 3-3 0-8-8-13-12-8zM237 72l-11 0-15 12-5 11 3 9 12-1 14-12 5-11zM991 68l-4 9 6 14 12 10 14 1 4-4 0-9-5-10-12-10zM490 68l-9-1-15 9-8 14 0 7 4 5 12 0 15-12 5-11 0-6z"/>
<path fill="#38276d" d="M1369 189l0 6 12 19 64 73 37 49 0-48-37-42-35-35-33-22zM112 189l-4-1-8 3-26 18-29 28-44 49-1 50 43-57 55-62 12-17 3-7zM1244 185l-2 7 10 15 102 99 42 49 54 76 32 56 0-71-50-71-48-56-69-66-41-29-20-9zM237 185l-9 0-24 11-23 15-25 21-51 49-58 67-47 67 0 71 32-56 55-77 47-54 91-87 14-19zM0 712l0 16 6 11-6 77 0 66 1482 0 0-59-7-75 2-14 5-6 0-16-7-7-5-11-8-57-15-59 0-8 4-11-16-17-25-51-44-67-58-70-50-49-58-47-5-17-8-11-11-2-6 6-5 0-51-31-59-29-50-20-80-23-23 46 52 14 70 26 8 6 1 12-6 6-155 0-52 128-41 130-26 119-9 68-3 45-6-67-8-54-27-120-35-111-55-137-156-1-6-7 1-10 5-5 67-26 58-15-23-48-77 23-48 19-58 28-57 34-5 0-6-6-9 1-9 10-4 17-54 44-50 48-38 43-37 49-36 57-21 44-16 16 4 19-13 48-11 72zM1244 76l1 10 10 12 7 4 10-1 1-8-8-13-12-7zM236 74l-8-1-15 11-5 10 3 8 8 0 6-3 9-9 4-9zM993 70l-3 3 0 9 5 9 12 9 11 0 3-4 0-8-5-9-12-9zM489 70l-12 0-13 11-4 9 2 9 4 2 8-1 14-11 4-9z"/>
<path fill="#3a2d79" d="M1389 206l-1 6 7 12 44 50 43 57-1-39-29-33-42-42-8-6zM92 206l-11 4-15 12-66 71 0 37 40-53 45-51 8-13 1-5zM1256 195l1 10 12 15 84 81 47 55 53 75 29 51 0-61-54-77-43-50-65-63-36-27-19-9zM225 195l-8 0-16 7-19 12-24 20-56 54-51 59-51 73 0 61 31-54 48-68 56-65 81-78 10-14 1-5zM0 716l0 8 8 16-8 99 0 43 1482 0-1-49-7-76 0-20 8-15 0-5-10-13-4-11-7-52-16-64 4-18-16-17-25-51-42-64-32-41-35-39-47-45-56-46-2-15-8-10-8-2-8 8-3 0-53-32-59-29-61-24-68-20-23 44 54 14 67 25 10 8 0 14-5 7-159 1-50 124-41 130-26 119-9 68-3 45-6-67-8-54-27-120-35-111-54-134-158-1-6-8 1-14 14-9 69-25 48-12-22-44-78 23-55 22-62 31-47 29-4 0-8-8-8 2-7 9-2 14-3 5-57 46-53 52-62 76-37 57-25 51-16 16 0 7 4 10-17 69-7 52-3 8zM1248 75l-3 6 6 12 10 7 9 0 2-6-4-9-9-8zM234 75l-8 0-11 8-5 9 0 6 3 3 10-2 9-8 4-8zM993 72l-2 9 4 8 13 10 8 0 4-5-4-13-13-10zM487 71l-9 0-12 9-4 8 2 10 9 1 12-8 5-9 0-7z"/>
<path fill="#3c3286" d="M1418 236l6 12 58 77 0-26-47-50zM64 236l-26 21-38 42 0 25 56-74zM1268 205l1 8 10 13 69 66 55 64 43 60 36 61 0-52-53-76-54-62-50-48-34-27-18-8zM212 204l-7 1-18 9-35 29-55 54-43 50-54 77 0 52 27-47 53-75 66-75 52-48 16-22zM2 717l0 6 7 14 0 18-7 75-1 52 1480 0-1-43-8-100 7-15 0-8-12-21-8-57-16-63 4-18-16-16-23-47-46-70-30-38-37-41-43-41-58-48-1-14-7-10-8-1-6 8-5 0-47-29-62-31-66-26-65-19-4 1-19 39 76 22 49 20 7 7-2 20-5 6-9 2-153 1-52 131-36 116-26 119-9 68-3 45-11-103-26-123-39-126-51-128-153 0-9-2-5-8-2-16 7-9 44-18 82-24-20-40-47 12-83 31-63 31-50 31-4 1-7-9-7 0-8 9-3 18-61 50-50 49-33 38-32 42-36 56-24 49-16 16 4 19-13 48-10 67-4 12zM801 830l3-5 5-2 17 0 3 2-3 6-12 4-8-1zM1071 240l7 1 24 15 28 26 17 4 15 9 45 36 42 42-5 0-59-47-52-35-44-24-7-7zM411 240l-11 19-9 9-36 19-34 22-46 33-35 29-7 2 38-39 47-38 16-10 19-5 25-24 25-16zM1249 76l-2 8 3 6 7 7 11 2 2-8-4-7-9-7zM232 76l-8 1-10 9-3 6 2 7 7 0 10-7 5-10zM996 72l-4 5 4 12 10 8 10 0 2-10-3-6-10-8zM487 73l-8-1-10 6-6 10 2 9 10 0 11-9 3-6z"/>
<path fill="#3f3b97" d="M1280 215l0 4 7 11 58 55 54 62 51 71 32 54 0-42-24-38-32-43-46-53-46-45-35-30-15-7zM200 214l-15 5-42 36-49 49-41 48-33 45-20 32 0 42 25-43 59-83 43-50 69-67 6-11zM4 717l7 28-8 90-1 47 1477 0 0-37-8-91 0-16 7-18-12-24-11-71-13-48 4-19-16-16-23-47-46-70-35-44-49-52-34-31-51-42 0-15-6-8-9 0-2 6-6 3-48-30-62-31-60-24-76-22-19 38 66 18 62 25 5 6-2 27 11 18 15 12 11 1 5-4 2-14-12-24 1-3 8 2 26 16 29 26 23 7 30 22 50 43 25 25 4 7-30-6-9 12-20-2-6 3-4 5-1 10 9 21-22 23-12 1-26-11-111-67-47-24-71-27-68-16-21 53-27 79-29 106-19 101-8 87-11-103-18-91-33-117-43-115-74 18-58 22-50 25-111 67-30 13-10 0-23-23 0-5 8-15 0-10-6-8-4-2-21 2-9-12-26 7-4-2 38-39 44-37 29-21 23-7 26-24 32-19 5 1-10 18-2 18 4 7 11 1 9-5 10-10 9-15-2-27 4-6 52-22 77-22-19-38-67 19-64 25-63 31-52 32-5-2-4-8-7 1-7 10 1 10-2 5-61 50-51 50-29 33-36 47-39 61-20 42-17 18 4 11 0 9-12 43-12 76zM766 836l11-18 5-5 27-5 31 1 16 5 5 6 0 6-10 9-32 10-26 3-16-4zM1297 424l4 1 40 54 29 51-1 4-36-52-37-46-2-8zM185 424l2 3-1 8-39 49-35 50-1-3 32-56 31-43 8-8zM1249 78l-1 6 3 6 6 6 10 2 2-7-4-7-8-6zM231 77l-7 1-9 8-3 7 2 5 6 0 9-6 5-10zM997 73l-3 3 3 13 9 7 9 0 2-9-4-7-8-6zM486 74l-10 0-9 8-3 6 2 8 9 0 10-8 3-6z"/>
<path fill="#4040a2" d="M1200 395l-2 10 9 14 16 7 13-5 1-12-9-12-13-6-8 0zM282 396l-7-5-8 0-12 5-10 11 0 13 10 6 15-4 10-9 3-6zM1292 225l65 68 47 56 54 77 24 41 0-33-29-45-24-32-41-48-41-41-35-30zM189 225l-21 14-39 34-42 43-37 44-50 73 0 33 24-41 55-78 49-58zM5 719l6 16 1 14-8 89-1 44 1475 0-1-50-7-75 0-20 6-14 0-6-11-20-11-71-13-48 4-20-17-17-23-47-39-60-30-39-38-43-49-47-59-49 1-15-4-6-8-2-4 10-5 1-48-30-71-35-62-24-66-19-18 36 31 7 44 14 53 22 6 7-3 16 1 12 7 12 11 11 13 5 5-2 3-5 0-14-12-22 1-3 7 1 30 18 25 24 24 7 11 7 60 48 49 50-2 2-23-7-8 2-3 8 4 12 15 15 24 12 8 1 10-15 10 9 52 74 18 32 1 11-7 1-7-6-27-41-15-17-4 6-70 48-15 1-10-3-28-17-61-54-43-34-68-44-54-27-41-16-43-13-44-9-25 67 62 13 5 6 5 21 9 7 4 0 8-6 7-14 16 4 58 28 48 31 36 29 32 32 19 23 19 29 7 15 0 8-8 8-47 31-7 0-7-4-78-76-30-23-30-19-46-23-42-15-69-14-18 67-12 58-9 58-6 72-6-67-8-54-15-73-16-61-38 6-35 9-43 16-38 19-60 41-25 22-53 54-15 8-51-33-7-8 3-14 19-31 27-33 24-24 39-32 39-26 31-17 48-21 7 2 5 11 6 6 9 0 9-11 2-14 4-7 28-8 36-6-25-67-52 11-44 14-48 20-35 18-73 47-44 35-56 50-28 18-12 4-13 0-70-47-7-8-19 23-24 37-5 4-6 0-3-6 15-29 31-48 29-38 8-6 8 14 13-1 19-10 17-17 3-15-4-5-7-1-23 7-1-3 44-45 63-51 15-9 18-4 27-25 34-20 5 1-12 26 0 11 5 7 9 0 16-12 10-17-2-27 4-5 63-26 66-18-18-36-47 13-76 28-74 36-49 31-6-1-4-10-6 1-6 8 0 16-61 50-54 53-28 32-38 50-36 57-19 40-17 17-1 4 5 14-14 53-10 67zM886 817l-2 10-12 10-37 12-59 8-18-6-5-7 1-6 18-16 3-6 1-12 6-4 36-3 37 2 20 6zM1250 79l1 10 6 6 9 2 2-6-4-7-7-5zM230 78l-8 2-6 6-3 7 2 4 5 0 8-5 4-6zM996 75l-1 9 3 5 8 6 8 0 2-8-4-7-9-6zM485 75l-9 0-8 7-3 6 2 7 8 0 9-7 3-6z"/>
<path fill="#4146ac" d="M1273 538l-7 7-4 9 1 12 9 12 14 6 14 0 12-5 7-7 4-16-2-7-7-9-15-7-14 0zM170 538l-11 15 0 12 9 13 13 6 15 0 12-5 8-8 3-7 0-12-5-9-7-6-11-4-14 0zM1202 396l-2 4 1 8 9 11 8 4 10 0 5-3 2-9-9-13-10-5-9 0zM277 394l-11-1-12 6-7 10 1 10 5 4 10 0 10-5 8-11 0-8zM1388 320l45 63 49 78 0-21-16-26-40-55-18-21zM93 320l-31 31-44 59-18 29 0 21 21-36zM7 717l0 7 6 15-7 87-2 56 1473 0-1-47-8-91 7-25-11-21-11-71-13-48 4-21-19-20-22-45-40-61-62-75-46-45-66-54 1-17-3-5-7-2-3 5 0 7-5 1-54-34-68-33-48-19-77-23-4 1-15 30 1 2 34 8 46 15 50 22 3 4-3 15 1 14 9 15 14 11 10 0 4-6-2-17-12-21 5-2 36 20 27 26 22 5 25 17 43 35 45 43 14 18-5 0-18-8-11-1-6 6 4 14 14 14 22 10 7 0 4-3 2-12 3-2 13 13 30 40 33 52 11 22-3 7-17 1-8 4-7 9 4 10 29 15 0 5-3 3-100 46-8 0-13-12-47-70-40-49-42-42-52-42-62-39-61-29-66-22-47-10-22 58 37 6 26 7 5 7 2 17 8 10 7 0 6-5 7-16 19 5 23 13 12 3 27 14 59 40 26 22 32 32 44 57 17 28 12 26 6 20-1 13-18 11-45 20-12 1-12-12-32-48-27-34-28-29-44-36-53-32-41-18-46-14-48-8-13 54 41 5 53 15 43 19 37 23 30 24 29 29 21 26 23 40 4 14-3 10-6 3-3-1 5-6-4-8-2-14-11-11-29-42-33-34-33-26-29-18-54-24-40-11-41-6-8 40 33 3 52 14 36 16 30 18 34 27 32 34 27 39 5 12-3 4-43 3-19-4-22-27-22-22-41-29-27-13-26-9-57-9-9 92-9-89-3-3-51 8-53 21-27 17-22 18-21 22-13 18-9 6-21 3-38-3-2-7 5-10 29-41 35-36 27-21 24-15 46-21 49-13 34-3-9-40-45 7-44 13-42 19-41 26-29 24-36 39-23 35-9 8-2 13-4 8 0 5 4 3-5 0-6-5 0-10 5-15 13-24 33-42 42-39 43-29 45-21 45-14 54-8-13-54-52 9-52 17-40 19-45 28-36 29-32 32-26 32-38 56-12 10-14-4-58-28-2-12 11-33 25-44 38-50 43-43 42-33 50-31 29-11 12-8 21-9 8 2 8 17 10 2 8-9 3-20 4-5 63-13-21-58-62 14-68 25-50 25-58 37-55 45-42 43-37 46-44 66-14 14-11-1-96-44-5-5 1-5 27-13 5-6 0-6-10-10-20-2-5-7 12-24 31-49 25-34 19-21 3 1 2 12 4 4 8 0 23-11 11-11 5-9 0-8-6-5-14 2-19 8 6-11 39-39 46-39 30-22 29-9 23-23 20-13 18-9 5 1-14 30 2 12 5 4 7-1 16-13 8-14-3-28 6-6 53-22 76-22-16-32-75 21-58 23-69 34-49 31-5-2 0-8-3-3-8 4-2 4 2 15-88 75-58 63-57 79-19 32-17 36-15 13-2 6 5 15-14 53-10 66zM914 811l-1 10-11 13-19 10-28 8-68 10-25 7-53-17-14-12-4-9 2-10 5-6 3 0 12 14 20 11 5 1 11-4 21-14 4-10-4-17 5-7 13-4 97 0 15 6 9 9zM1387 578l7 4 1 7-3 4-9-9 0-3zM95 578l4 4-10 11-2-10 3-4zM1251 80l1 9 5 5 8 2 2-5-3-6-9-6zM229 79l-7 2-6 6-2 6 2 3 5 0 7-5 3-5zM997 76l-1 8 3 5 9 6 6-1 1-8-3-5-9-6zM483 75l-9 2-6 6-2 5 2 6 8 0 7-6 3-6z"/>
<path fill="#434eba" d="M737 705l-14 11-11 25-3 16 0 22 3 19-5 10 0 9 7 10 10 6 9 3 13 0 19-9 7-10 0-10-6-12 5-19 1-20-8-30-12-17-9-4-1 25-2 0-1-25zM768 545l-7 34 34 3 37 9 30 11 32 16 37 25 26 23 26 29 15 20 5 11 17 17 6 1 8-4 4-18-2-9-12-10-8-15-26-33-26-26-26-21-38-24-47-21-42-12zM714 546l-14 0-34 6-43 13-36 16-45 28-47 42-26 32-11 19-13 12 1 24 9 6 9-3 16-17 5-11 27-34 36-34 36-25 31-16 41-15 36-8 29-2zM1273 542l-6 8-1 12 4 8 7 6 8 3 14 0 9-4 7-7 3-9-1-7-11-13-9-3-11 0zM171 542l-6 8-1 12 3 7 8 7 8 3 14 0 9-4 7-7 3-9-1-7-11-13-8-3-12 0zM1202 399l1 11 9 9 14 3 6-4 1-9-5-8-7-5-12-2zM277 396l-11-2-9 4-8 10-1 7 2 4 5 3 7 0 9-4 9-12zM1241 388l-1 9 4 8 15 14 16 7 10 0 3-3 1-12-11-14-23-11-8-1zM241 389l-7-4-8 1-24 12-10 14 2 12 12 2 19-9 13-13 4-10zM8 717l0 6 6 15 0 16-7 74-2 54 1471 0-1-45-8-89 1-12 5-11 0-9-10-18-11-70-13-48 0-9 4-7 0-6-18-18-24-48-41-62-47-58-49-50-81-69 6-5 0-7-4-5-4-1-2 2 1 13-5 0-52-33-72-35-59-23-71-20-15 30 74 21 57 24 5 5-4 14 1 17 9 14 11 9 10 1 5-6 0-11-16-29 2-2 8 2 28 15 30 29 7 4 17 2 39 27 49 42 41 42 58 72 45 74 1 8-2 2-18 4-9 8 0 5 12 10 27 5 5 6 3 20-1 26 6 38 0 21-3 3-42 11-17 10-16 15-4 0-8-11-29-10-4-4-38-78-40-65-47-57-50-48-59-44-74-41-67-26-69-17-4 3-18 49 35 6 29 8 4 5 2 20 7 9 9-1 6-9 3-11 5-2 24 10 13 9 14 3 24 12 34 21 55 43 49 51 39 54 32 64 12 36 6 30-1 17-8 7-60 16-9 1-4-2-7-9-34-68-32-50-34-41-33-31-45-33-54-29-49-18-59-12-7 1-12 46 30 3 36 8 62 23 31 17 26 18 50 46 27 34 24 42 10 26 6 24 1 14-4 9-11 3-55 3-22 4-15 6-34 25-36 15-42 9-71 8-21 5-21 9-76-34-51-30-25-9-53-9-92-1-33-4-4-6 0-14 4-19 12-33 25-44 31-38 48-43 30-20 31-16 52-19 34-8 35-4-12-47-42 6-61 19-49 24-52 35-49 46-29 36-30 47-34 68-9 11-7 1-67-18-6-8 0-19 8-35 13-36 29-56 47-63 36-37 55-44 42-26 18-9 14-3 15-10 25-10 5 3 5 15 9 6 5-2 5-7 3-23 3-3 29-8 35-6-19-52-65 15-38 13-42 18-66 37-63 47-42 40-49 58-43 69-38 78-5 5-27 9-9 12-5 0-18-17-10-6-19-7-28-6-3-4 0-15 7-47-1-30 2-11 8-8 11 0 19-7 7-9-8-10-18-4-4-4 1-6 28-49 51-70 39-44 51-48 54-42 9-5 14-1 12-6 27-27 27-15 11-3 1 3-10 15-6 15 2 12 3 3 8 0 15-12 8-14 1-12-5-14 4-7 17-9 53-20 62-17-14-29-3-1-80 24-50 20-68 33-53 34-6 0 1-14-4-1-4 3-2 9 6 7-87 74-64 69-53 73-21 35-18 37-15 13-2 7 5 16-14 52-10 66zM1253 80l-2 2 2 7 5 5 7 1 1-5-3-5zM230 81l-8 1-5 5-1 7 5 1 5-3 4-6zM999 76l-3 4 3 8 6 5 8 0 1-7-8-9zM484 77l-10 1-7 9 1 6 10-1 7-9z"/>
<path fill="#4454c3" d="M469 866l0 16 542 0-5-18-10-6-12-3-36 1-105 15-62 3-43 8-66-19-55-19-26-6-30-3-35 2-26 6-22 11zM736 715l-10 9-9 22-3 21 2 29-7 11-1 8 3 7 11 9 12 4 12 0 18-8 7-9 1-8-8-15 3-32-6-28-8-14-8-6-3 0-1 16-2-16zM767 548l-6 30 25 1 38 8 30 10 43 21 26 17 28 23 31 33 26 38 15 11 8-3 6-16-2-8-13-10-8-15-27-34-22-22-31-25-39-24-41-18-56-15-20-3zM714 546l-41 6-43 12-51 23-33 21-46 40-29 35-11 19-14 12-1 9 6 15 10 1 14-11 7-14 25-32 36-35 43-30 39-19 29-10 35-8 31-2zM1275 543l-6 8-1 9 4 9 6 5 8 3 11 0 11-5 5-6 2-12-4-8-6-5-8-3-11 0zM178 540l-11 12-1 6 3 9 6 6 9 4 11 0 10-4 8-11 0-9-3-6-14-9zM783 485l-11 44 58 9 39 12 31 13 31 17 30 21 49 46 35 47 25 52 10 33 6 32 4 71 55 0 0-27-4-28-9-36-18-50-20-41-21-35-43-55-51-46-51-33-44-21-31-11zM698 485l-66 13-37 13-36 17-63 41-50 47-44 59-35 67-24 73-6 34-1 33 56 0 4-75 15-60 26-54 38-50 24-24 32-26 31-20 26-13 56-20 30-7 36-4zM1204 398l-1 9 9 11 13 3 6-4 0-10-7-8-9-4zM275 396l-9-1-10 5-6 8 0 9 6 4 15-4 8-12 0-4zM1243 388l-2 4 1 7 13 16 20 10 8 0 4-3 0-13-8-10-23-12-8-1zM239 389l-6-3-8 1-20 10-11 13 0 12 4 3 8 0 19-9 12-12 3-6zM836 328l-18 48 35 6 29 8 4 5 2 22 7 8 5 0 6-5 6-18 6-1 22 9 13 10 21 5 50 29 43 32 30 27 30 32 51 71 18 34 17 41 13 43 9 44 5 50 2 54 71 0-4-62-6-32-14-50 2-4 13-6 5-7-5-6-26-10-22-52-25-47-29-47-35-43-33-35-42-37-31-23-50-31-33-17-48-20-44-14zM646 328l-47 10-45 14-44 18-43 22-48 30-37 28-24 21-41 42-37 45-29 47-27 51-20 48-7 5-16 4-8 6 0 5 16 9 3 7-8 25-11 51-4 37 0 29 71 0 2-63 5-45 8-39 13-43 16-39 17-33 15-24 41-54 55-54 41-31 39-24 18-9 16-3 17-12 21-8 6 2 6 18 5 4 5 0 7-7 2-21 4-7 64-14zM1182 236l-2 8 6 4 2-7zM299 236l-6 6 2 6 3 0 4-6zM921 140l-13 28 68 19 64 27 6 7-7 10 0 17 9 15 11 9 9 1 5-5-2-18-17-25 5-2 38 19 30 30 9 4 13 0 7 3 33 24 47 40 40 40 50 60 36 53 23 42-1 6-4 3-19 6-4 6 1 4 11 8 27 6 5 7 3 16 8 94-5 4-18 3-18 7-8 7-1 9 14 11 34 8 6 5 7 134 52 0-1-43-8-99 6-15 0-9-11-21-10-66-14-52 5-13 0-7-19-18-20-41-46-70-43-53-53-54-82-67-56-36-71-34-53-21zM561 140l-84 25-50 20-65 31-58 37-49 38-40 35-52 54-43 54-44 68-17 36-20 20 5 21-14 52-10 65-11 21 0 6 6 15 0 18-7 74-1 52 52 0 6-133 6-6 32-7 11-6 6-8-1-6-7-7-16-7-21-4-6-5 7-59 1-31 4-20 5-6 24-5 10-5 4-5 0-4-5-6-19-6-4-6 24-45 31-46 60-72 41-40 43-36 35-24 23-4 30-30 39-20 4 0 1 3-17 25-2 15 5 7 11-2 11-10 8-15 0-13-7-11 4-7 21-11 36-14 43-14 34-8zM1254 81l-2 2 1 5 5 5 6 1 1-4-3-5zM229 82l-7 1-4 4-1 6 4 1 5-3zM999 77l-2 5 3 6 7 5 4 0 2-2-2-9-7-5zM482 77l-7 1-6 6-1 7 2 2 4 0 8-6 2-4z"/>
<path fill="#4559cb" d="M737 720l-10 9-7 17-3 16 1 33-8 12-1 8 3 7 8 7 13 5 14 0 13-5 8-7 3-13-9-15 2-35-4-18-5-11-7-8-6-2-1 11-1-9zM767 548l-6 29 32 2 35 8 29 10 39 19 33 22 28 24 42 49 4 12 6 6 12 7 8-2 7-12-1-8-13-9-13-22-20-25-28-28-29-23-30-19-51-23-38-11zM714 547l-41 6-48 14-40 18-30 18-30 23-29 28-25 31-10 18-15 12-1 6 10 15 5 0 15-9 4-5 2-9 28-35 37-35 36-25 33-17 35-13 45-10 25-1zM1279 542l-9 11 1 11 7 8 12 4 8-1 13-9 2-12-5-9-13-6zM176 543l-5 5-3 8 1 7 6 8 16 5 11-3 6-5 4-11-3-9-5-5-11-4zM783 487l-11 40 27 3 37 8 57 20 28 14 31 20 33 27 22 22 39 51 26 53 17 62 5 39 1 36 45 0-4-57-8-36-11-34-29-62-26-41-27-34-20-21-36-31-56-36-38-18-37-13-39-9zM699 487l-27 3-42 10-66 27-59 37-29 24-26 26-21 25-23 33-17 29-19 40-14 39-9 36-5 36-1 30 45 0 1-31 6-47 16-58 27-55 33-44 46-44 47-32 31-15 45-16 39-9 32-4zM1204 400l0 8 8 9 7 3 11-3 1-8-8-10-14-3zM276 398l-11-2-8 4-6 8 0 8 5 4 7 0 8-4 7-10zM1243 390l-1 6 4 9 10 10 18 9 12-2 0-13-12-13-21-9zM239 391l-5-4-6 0-22 10-11 13 0 11 4 3 8 0 17-8 12-12zM835 330l-15 39 0 6 27 4 37 10 3 4 1 22 7 9 5 0 5-4 5-18 3-3 5 0 22 9 16 12 15 2 44 24 45 32 28 24 39 40 54 75 18 34 18 43 15 49 10 51 5 46 1 42 58 0 0-27-5-49-16-68 3-5 15-7 2-6-3-4-22-7-6-5-18-45-27-52-30-49-28-34-42-45-34-30-39-29-42-26-45-23-39-16-51-16zM646 330l-51 11-49 16-38 16-51 27-36 23-43 33-66 66-29 35-30 49-28 54-19 46-23 8-7 7 4 6 12 5 4 4-15 66-5 43-1 37 58 0 2-50 5-42 8-41 15-51 18-44 20-38 50-70 37-39 26-23 30-23 46-29 18-9 20-4 15-12 21-8 6 1 7 21 9 3 7-8 2-24 4-4 26-7 37-6zM1182 238l-1 4 5 4 1-5zM300 238l-5 2-1 4 2 2 3-1zM1046 224l-7 9 1 16 14 19 7 4 7 0 5-8-3-15-13-19zM439 226l-9-1-17 21-4 10 0 11 4 5 13-3 13-15 4-11 0-7zM920 142l-12 24 46 12 77 29 67 34 30 31 7 3 19 1 15 10 66 54 53 54 45 56 29 43 25 46-4 7-18 6-4 4-1 6 12 9 19 3 11 7 6 30 7 84-6 5-16 3-17 7-6 6-1 6 13 11 31 7 6 5 8 101 0 36 47 0-2-55-7-87 6-15 0-9-11-20-12-75-12-43 6-19-5-7-14-11-22-44-42-64-46-57-54-55-67-55-69-47-107-48-50-17zM562 142l-50 13-81 30-69 32-62 41-49 38-34 30-46 47-53 66-37 57-22 44-19 17 5 23-12 43-12 74-11 20 0 7 6 14 0 20-7 75-1 49 46 0 1-46 7-90 7-6 28-6 11-6 4-5-1-8-7-6-32-9-6-6 8-88 4-21 4-7 9-4 18-3 12-8-1-8-22-9-3-3 0-6 22-40 35-52 45-55 44-45 70-58 19-12 16 0 9-4 33-33 69-34 61-23 56-15zM1254 83l0 5 9 5 1-3-3-5zM228 83l-5 0-5 9 5 0zM1000 78l-2 3 2 6 7 5 4 0 1-7-2-3zM481 78l-6 1-5 5-1 6 2 2 6-1 5-5 1-6z"/>
<path fill="#4661d6" d="M737 724l-8 7-7 15-3 14 1 34-9 13-1 9 11 13 10 4 13 1 17-6 9-11 0-9-9-14 2-27-6-28-9-13-6-2-1 7-1-7zM767 548l-6 28 24 1 39 8 25 8 38 17 34 21 31 25 36 39 13 17 5 14 11 6 8 1 9-8 1-10-15-11-8-15-27-34-30-29-38-28-41-22-22-9-45-13zM714 548l-46 7-35 10-48 21-37 23-35 29-27 29-18 24-6 12-15 11-1 8 2 4 8 7 6 0 12-6 5-7 2-9 42-49 36-30 30-19 33-16 39-13 28-6 31-2zM1280 543l-9 12 1 8 7 8 7 3 11 0 12-8 3-10-6-11-13-5zM177 544l-7 9 1 11 5 6 8 4 11 0 12-7 3-13-7-10-11-4zM782 488l-9 38 33 4 35 8 53 19 35 18 24 16 32 26 24 24 40 53 26 54 17 63 5 40 1 31 39 0 0-27-4-33-18-67-12-29-25-47-17-26-27-34-21-22-31-27-58-38-28-14-42-16-40-10zM699 488l-26 3-39 9-37 13-34 16-61 39-52 48-41 54-16 27-25 54-11 33-8 35-4 29-1 34 40 0 0-25 4-37 6-31 11-37 25-54 37-51 42-41 52-36 38-18 38-13 38-9 34-4zM1207 398l-3 7 6 10 8 4 8 0 4-4 0-6-7-9-6-3zM273 397l-9 0-6 3-6 7 0 9 4 3 8 0 6-3 7-9 0-6zM1244 391l-1 6 3 7 11 11 16 8 10 0 3-3 1-5-3-8-11-11-18-8-7 0zM237 390l-11-2-19 9-12 15 1 9 12 2 18-9 11-13zM835 331l-16 42 65 14 4 5 0 21 7 10 5 0 5-4 5-20 6-2 25 10 15 12 17 2 20 10 40 25 53 42 44 45 53 74 20 38 18 44 14 46 10 50 6 57 0 30 52 0-4-69-6-35-10-37 0-6 16-8 4-7-10-7-16-4-5-4-21-52-23-44-30-50-31-37-64-64-40-31-42-27-41-22-52-22-44-14zM647 331l-42 9-57 18-36 15-55 29-47 31-34 27-42 40-50 58-34 57-21 41-19 48-8 6-16 4-7 5 2 7 14 6 4 6-16 71-5 73 52 0 1-39 6-52 11-52 12-39 17-42 22-42 49-69 43-45 53-43 50-31 15-7 16-2 15-12 25-10 6 2 3 15 4 7 8 2 7-9 1-23 2-3 31-9 35-6zM299 241l-2-1-1 3zM1044 226l-5 9 0 9 4 10 12 14 5 3 8 0 4-6 0-8-4-11-12-16-6-4zM437 226l-8 1-15 18-5 14 4 12 4 1 8-3 14-16 3-7 0-12zM919 144l-10 20 75 22 47 19 68 35 18 22 12 10 24 2 16 10 47 37 33 30 42 44 32 39 37 53 28 50 0 6-3 3-15 5-8 6 1 7 9 6 28 7 4 4 4 15 9 99-5 6-29 8-8 7-1 6 10 9 32 8 5 5 8 95 1 43 43 0-2-53-7-72 0-18 7-19-12-24-10-64-14-52 6-22-20-18-27-52-48-70-44-52-61-59-45-36-73-51-115-50zM563 144l-47 12-48 16-108 47-61 42-62 49-52 50-48 56-49 71-27 52-16 13-5 7 6 14 0 8-13 48-10 65-12 23 7 31-8 86-1 48 43 0 0-36 8-101 8-7 27-6 12-9 0-6-4-5-15-7-16-3-8-8 9-96 7-20 8-4 21-4 10-7 1-4-3-5-19-7-5-5 0-4 29-52 41-58 40-47 40-40 38-33 47-34 19 0 7-3 31-33 72-36 70-26 46-12zM1255 84l0 4 6 4 1-4zM226 84l-6 3 0 5 6-4zM1001 79l-2 2 2 6 5 4 4 0 2-3-2-5-5-4zM481 79l-4 0-6 5 0 7 4 0 6-5z"/>
<path fill="#4666dd" d="M737 727l-7 6-7 15-3 15 1 31-10 14 0 9 9 11 6 3 21 2 13-5 7-6 3-13-10-15 1-34-6-21-9-11-4-1-1 4-1-4zM767 549l-5 27 29 1 36 8 56 22 38 23 29 23 36 38 16 21 1 8 5 7 14 5 6-2 6-6 1-8-2-3-15-10-10-18-26-32-33-31-35-25-42-22-32-12-40-10zM715 550l-22 1-45 10-43 16-36 19-39 28-36 35-20 25-12 21-15 10 1 10 11 7 13-4 6-7 2-10 13-17 33-36 33-27 30-19 31-15 38-13 33-7 29-1zM1285 542l-6 3-6 8 2 13 11 7 16-2 8-10-2-12-10-7zM179 544l-8 10 1 9 6 7 7 3 10 0 12-8 2-10-4-8-14-6zM782 489l-9 36 28 3 44 10 52 19 54 31 28 22 29 28 22 26 20 29 25 51 18 63 5 34 2 41 36 0-2-39-7-42-22-67-33-62-23-33-23-27-46-42-64-41-32-15-37-13-39-9zM699 489l-26 3-42 10-36 13-37 18-54 35-23 19-32 32-27 34-17 26-25 47-21 57-8 35-5 41 0 23 36 0 4-61 6-31 11-37 26-56 39-53 49-46 38-26 23-12 62-23 35-8 34-4zM1208 398l-3 8 6 9 10 4 8-4 0-7-7-8-7-3zM276 401l-6-4-11 3-7 9 1 7 6 3 10-3 7-9zM1244 392l1 9 14 15 17 7 9-3-1-12-13-13-13-6-11 0zM236 390l-12-1-15 7-13 15 1 10 9 2 19-9 12-15zM834 333l-15 39 37 6 29 8 4 6-1 19 7 11 9-3 5-20 6-4 24 9 17 14 18 2 22 11 41 26 34 26 66 66 49 70 22 43 16 40 13 43 8 37 7 53 2 47 47 0-4-67-7-41-9-33 0-6 16-8 4-7-8-6-16-4-7-5-15-39-21-43-39-66-46-53-28-28-35-30-53-37-31-18-65-30-55-18zM647 333l-44 9-56 18-40 17-57 31-36 24-47 38-41 41-37 43-41 68-22 45-14 37-5 5-19 5-8 6 3 6 18 10-16 75-4 41 0 30 47 0 1-43 5-43 8-41 14-49 13-34 23-47 17-28 16-18 8-15 14-18 44-46 52-42 46-29 18-9 18-2 16-13 26-10 5 3 2 14 4 8 8 2 7-10 0-22 2-3 26-8 41-7zM1043 228l-4 12 5 15 12 13 7 3 5-1 3-4 0-11-4-10-12-15-5-3zM437 227l-8 1-14 16-5 12 0 9 3 5 11-1 14-15 4-10 0-8zM917 147l-7 14 65 19 53 21 67 34 20 24 15 13 7 2 16-2 15 9 73 60 36 36 45 53 38 54 30 54 0 4-4 4-20 8-3 5 1 4 8 6 30 8 5 6 4 17 8 95-8 8-27 8-6 6 0 5 11 9 26 6 8 7 8 98 1 40 40 0-2-52-8-82 1-10 7-19-13-25-11-69-12-43 0-9 6-9 0-7-22-19-24-47-47-69-40-48-54-54-43-36-87-63-26-9-43-21-48-19-51-16zM564 147l-45 11-52 17-112 48-20 17-61 42-40 33-56 55-42 50-48 70-26 50-21 18 7 21-12 43-12 73-12 21 0 8 7 17-8 95-1 46 40 0 0-32 8-105 8-8 21-4 11-5 6-8-5-8-10-5-19-4-7-6 7-95 4-18 4-6 8-4 21-4 11-8 0-4-4-5-19-7-4-7 26-48 37-54 35-43 44-46 44-39 42-32 9-5 17 2 8-3 10-8 22-27 64-33 63-25 59-17zM1256 86l3 4 2-1zM1001 80l1 7 7 3 0-7zM480 80l-4 0-4 4 0 6 8-4z"/>
<path fill="#466be3" d="M739 729l-9 7-6 13-3 16 1 29-9 11-2 10 3 7 7 6 14 5 10 0 16-6 7-7 2-8-3-8-8-10 1-32-4-17-8-13zM767 549l-6 26 27 1 38 8 37 13 29 14 26 16 32 25 41 44 11 14 2 12 6 6 13 3 10-6 1-10-17-12-10-18-27-33-25-24-36-27-42-23-30-12-40-11zM715 550l-30 3-38 9-49 19-34 19-34 25-35 34-20 25-12 21-15 9 0 10 10 7 15-4 5-7 0-7 49-57 32-26 36-22 36-16 32-10 30-6 27-1zM1279 546l-5 7 0 9 6 7 6 3 10 0 11-7 2-11-4-7-12-5zM179 545l-7 10 5 13 8 4 10 0 10-6 3-11-7-10-9-3zM782 490l-9 34 33 4 39 9 63 24 27 15 30 21 50 47 34 45 19 35 10 24 10 31 8 36 5 43 0 24 33 0-1-33-5-36-18-63-23-50-17-29-41-54-47-44-59-39-37-18-39-14-33-8zM700 490l-27 3-42 10-31 11-38 18-60 39-45 41-43 55-18 30-19 39-15 42-8 32-6 43-1 29 33 0 1-32 5-38 17-63 10-24 20-37 36-47 26-26 32-26 31-20 24-12 58-21 35-8 33-4zM1207 400l-1 7 6 8 6 3 6 0 4-3 1-5-5-8-7-4zM273 399l-8-1-5 2-7 8 1 8 3 2 11-2 8-11zM1245 392l3 13 9 9 16 8 11-2 0-11-11-12-17-8-7 0zM236 392l-4-3-6 0-19 9-10 12 0 9 3 3 8 0 15-7 11-11 3-7zM834 334l-14 35 1 2 32 5 33 9 3 3 0 25 4 7 4 2 4-1 5-7 3-18 7-2 27 11 13 12 16 1 25 12 41 26 41 32 59 60 19 30 17 19 17 28 20 40 15 38 4 19 9 24 8 37 7 53 2 46 43 0-4-68-16-79 18-9 3-6-6-5-19-5-6-4-23-56-50-90-49-56-27-27-39-33-46-32-36-21-58-27-53-18zM648 334l-51 11-54 18-53 24-42 24-33 22-47 38-40 40-41 47-39 67-19 39-16 41-6 5-17 4-8 5 1 6 19 10-16 82-3 65 43 0 1-41 6-50 7-35 14-49 16-41 21-42 17-28 15-16 9-17 14-18 43-45 29-25 70-47 18-9 20-2 14-13 25-10 7 1 4 21 8 6 8-8 0-25 2-3 30-9 37-6zM1044 228l-4 7 0 10 5 11 10 11 6 3 7-1 3-5 0-8-5-12-12-14zM437 228l-11 3-10 12-6 16 3 10 10 0 14-14 5-15-2-9zM991 176l2 4 101 51 24 31 8 7 9 4 20-3 41 29 43 37 40 40 33 38 33 44 33 52 14 28-1 5-5 4-17 6-4 4 0 5 9 7 30 8 5 5 6 27 5 88-8 7-26 8-4 4-1 6 12 9 25 6 7 8 7 89 1 48 37 0-1-51-8-77 0-13 7-15 1-8-13-22-10-63-14-52 0-6 8-13-2-7-21-16-32-59-30-44-29-37-34-38-61-57-48-37-32-21-31-26-26-6-66-29-30-9zM490 176l-28 6-75 32-18 3-11 5-25 22-47 32-38 30-68 65-32 37-49 68-34 62-23 19 0 7 7 10 0 9-13 47-10 64-13 22 0 9 7 15 0 18-8 79-1 45 37 0 8-135 7-10 25-6 12-8 0-6-3-4-30-10-6-8 5-83 7-31 11-7 26-6 7-7-3-7-20-8-5-6 15-31 31-49 28-38 33-39 40-41 42-37 48-35 14 3 14-3 12-11 13-19 10-10 98-49zM1002 81l1 6 5 2 0-6zM479 81l-6 3 0 5 6-3z"/>
<path fill="#4771e9" d="M737 732l-5 4-7 14-3 15 1 29-11 14 0 9 8 10 8 4 15 2 19-7 7-9 0-8-11-15 1-32-4-16-9-13zM767 550l-6 25 31 1 36 8 39 14 28 14 43 29 39 37 26 32 1 11 5 6 7 3 9 0 8-6 0-10-17-11-12-21-24-29-32-30-35-25-31-17-43-17-35-9zM715 550l-47 7-40 12-46 21-23 14-35 27-28 28-20 25-11 20-17 11 1 10 8 5 15-3 5-5 2-13 47-53 32-26 32-20 29-14 38-13 32-7 31-1zM1281 546l-6 7 0 8 5 7 6 3 11 0 9-6 2-11-6-8-8-3zM178 547l-4 5-1 7 7 10 15 2 10-7 2-9-8-10-12-2zM782 490l-9 33 27 3 41 9 63 23 33 18 31 22 45 42 38 50 15 27 14 33 17 63 6 69 30 0-6-67-18-64-29-61-20-32-28-36-24-25-29-25-58-38-28-14-42-16-36-9zM700 490l-66 13-34 12-36 17-59 38-52 48-42 56-19 33-20 45-12 38-7 33-4 59 30 0 0-24 6-48 16-59 24-52 39-54 42-41 50-35 35-17 39-14 46-11 32-4zM1207 401l0 7 6 7 12 2 3-3 0-5-6-8-8-3zM275 402l-6-4-8 2-7 7 0 8 3 2 10-1 6-5zM1245 397l3 7 11 11 17 7 8-3 1-5-3-7-11-11-13-6-10 0zM236 393l-3-3-10 0-11 5-14 14-1 9 8 4 16-6 13-13zM833 335l-13 34 67 15 3 3-1 24 7 10 8-4 3-7 1-15 6-3 28 11 13 13 18 1 25 12 38 24 38 29 64 64 11 14 10 19 15 16 14 22 19 36 18 43 6 25 9 23 10 47 6 50 1 41 40 0-4-71-16-75 20-11 2-4-3-4-23-7-6-5-23-56-50-90-76-82-34-29-50-35-36-21-58-27-53-18zM648 335l-50 11-54 18-53 24-42 24-33 22-46 37-29 28-52 58-41 71-21 44-13 34-5 4-20 5-6 5 3 6 18 9-16 79-4 68 40 0 2-48 7-52 10-44 7-16 6-25 17-41 21-40 14-22 16-17 6-13 16-21 40-42 25-22 33-25 43-27 18-9 19-1 17-15 27-10 5 2 1 14 4 10 4 3 5-1 5-7-1-25 4-4 66-15zM1181 277l61 56 66 71 55 76 30 53 1 8-5 5-20 8-3 3 0 5 9 7 27 6 6 3 5 7 6 30 3 79-6 9-27 9-5 5 0 5 8 7 28 8 6 7 8 101 0 37 35 0-1-49-9-85 2-11 7-13 0-7-15-25-9-58-14-52 0-5 9-13 0-6-6-7-20-14-16-32-32-50-60-75-68-65-38-29zM300 276l-19 11-33 25-67 63-33 38-33 44-33 52-13 27-27 22 0 5 9 13 0 8-14 52-9 57-15 26 9 23-8 83-2 57 35 0 1-47 7-89 6-9 26-7 11-9-4-8-25-8-9-8 3-88 6-25 8-8 35-10 4-6-5-7-20-8-4-5 1-6 33-58 50-69 32-37 46-46 51-45zM1044 229l-3 4-1 10 5 12 11 12 11 2 4-9-6-17-9-11-7-4zM437 229l-9 1-11 12-6 13 2 13 11 0 12-12 5-11 0-10zM1098 220l-1 9 15 25 12 13 9 5 9 0 15-9-7-14-23-24-15-7zM384 221l-4-3-11 0-13 6-23 23-7 10-1 6 14 9 9 0 8-4 11-11 15-23 3-8zM1004 82l-1 3 5 2zM477 82l-3 5 4-2z"/>
<path fill="#4778f0" d="M737 734l-7 7-4 9-3 14 1 29-10 12-2 11 3 6 9 7 9 3 15 0 17-9 4-13-12-17 2-19-6-30-7-9zM767 550l-5 21 1 4 26 0 34 7 36 12 30 14 37 23 26 21 26 26 26 32 0 10 4 6 15 4 7-3 4-5 0-6-5-5-13-6-10-19-26-32-33-31-32-23-41-22-25-10-43-12zM715 550l-64 12-48 18-35 19-36 26-36 35-22 28-8 16-18 11 0 8 10 7 14-3 5-6 1-12 30-36 42-38 37-24 33-16 35-12 37-8 27 0zM1282 546l-6 7 0 8 4 6 12 4 9-3 5-5 1-9-5-7-7-3zM178 548l-4 11 6 9 11 3 9-3 4-4 2-9-7-9-13-2zM1401 535l-9 10-22 9-3 8 10 7 30 7 8 5 4 7 7 29-4 22 1 56-8 10-25 8-4 8 9 8 24 6 6 5 3 7 8 135 32 0-2-60-8-68 0-13 8-14 1-11-18-28-9-54-14-48 0-6 11-14 2-7-8-9-24-14zM81 535l-5 0-24 14-9 8 0 7 11 13 2 6-13 44-11 63-18 28 10 30-9 79-2 55 33 0 0-34 8-103 7-9 25-7 9-7 0-5-7-6-23-7-5-5-2-7 2-45-5-27 9-36 11-8 32-8 8-8-4-6-23-10zM782 491l-8 28 1 4 35 4 34 8 60 22 30 16 28 19 33 28 23 24 35 47 28 58 17 63 5 37 1 33 27 0 0-25-5-40-7-31-12-37-12-28-24-44-21-31-23-28-51-47-57-37-35-17-36-13-32-8zM700 491l-29 4-41 10-35 13-29 14-62 40-28 24-26 27-23 29-19 29-32 64-12 35-9 39-4 30-1 33 27 0 6-68 16-61 24-53 21-32 22-27 47-44 28-20 32-18 36-15 32-10 36-8 30-3zM1208 401l-1 6 5 7 7 3 8-3 0-6-6-7-5-2zM272 400l-7-1-6 3-5 7 1 6 8 2 6-3 5-6zM1246 393l3 12 9 9 15 7 10-2 0-10-11-12-16-7-6 0zM235 393l-4-3-6 0-17 8-9 10-1 10 3 3 7 0 14-6 11-11zM833 336l-12 32 51 10 19 8-2 23 6 11 8-2 4-11 0-13 3-3 5 0 28 11 14 14 17 0 23 11 37 23 36 27 24 21 44 46 13 17 9 18 15 15 11 17 22 41 21 51 4 21 10 26 7 33 7 52 2 47 37 0-4-67-16-80 17-8 5-6-7-6-20-5-5-4-23-56-50-91-77-82-38-32-40-28-41-24-63-29-48-16zM649 336l-50 11-49 16-60 27-45 26-39 27-46 39-73 79-50 92-21 52-8 6-18 4-6 5 3 6 18 9-15 75-4 42 0 30 37 0 1-42 7-55 10-45 8-18 6-26 17-41 24-45 13-19 14-14 8-17 15-19 35-37 28-25 37-28 42-26 16-8 20-1 16-15 26-10 8 2 2 20 5 7 5 0 6-9-2-24 4-4 67-15zM1045 229l-4 5 0 12 3 7 11 13 6 3 6-1 3-4 0-9-4-10-12-14zM438 230l-9 0-13 14-5 14 3 10 9 0 15-16 3-9zM1104 220l-3 4 0 9 17 28 17 11 11-3 4-6-1-8-12-20-18-14zM377 220l-8-1-12 5-16 15-9 17 2 12 13 4 10-5 8-8 15-25 1-7z"/>
<path fill="#467df4" d="M742 735l-8 3-7 12-3 13 1 30-10 11-3 8 2 8 7 7 13 5 12 0 12-4 8-7 3-8-3-9-10-12 2-23-4-20-4-8zM1427 649l-3 9-1 41-8 7-22 7-5 8 10 8 24 7 7 10 8 136 30 0-2-57-9-74 1-12 10-19-5-11-16-16-11-33-5-10zM55 649l-7 7-12 36-15 15-6 10 0 7 10 17 0 13-8 64-3 64 31 0 0-37 8-101 6-8 24-7 10-7-1-6-5-4-20-6-8-6-2-5 0-40zM766 552l-4 19 2 4 29 0 39 9 40 15 45 25 36 28 25 25 27 33 0 12 5 5 10 3 8-2 5-5 0-8-18-10-10-19-25-31-28-27-38-28-39-21-43-16-50-11zM715 551l-32 4-40 10-43 17-31 17-36 26-25 23-28 33-13 23-18 10 0 10 12 6 12-4 4-6 0-11 47-53 36-29 33-20 33-15 34-11 29-6 31-1zM1278 551l-1 11 8 7 13 0 8-8 0-7-7-8-12-1zM176 552l-1 8 2 4 10 6 13-3 5-7-1-8-9-7-10 0zM1368 557l0 5 8 6 39 10 11-2 12-13 0-5-5-6-24-11-11 1zM43 559l1 6 6 7 13 6 43-10 8-8-4-6-30-13-15 2-18 10zM781 492l-7 30 35 4 38 9 57 21 22 11 35 23 28 23 26 26 40 53 16 30 13 32 17 68 4 60 25 0-1-35-4-29-17-63-12-29-21-40-22-34-23-29-25-26-28-24-58-38-30-15-37-14-40-10zM700 492l-25 3-39 9-39 14-31 15-59 38-23 19-29 29-42 56-14 24-24 52-12 37-7 32-5 62 25 0 4-57 6-32 11-38 27-59 38-52 48-46 37-26 26-14 65-24 40-9 30-3zM1208 402l0 6 5 6 11 2 3-3-2-8-5-4-10-1zM274 403l-3-3-10 1-6 7 0 6 3 2 9-1 6-6zM1247 393l-1 4 3 7 11 11 15 6 8-3-1-10-12-12-16-6zM235 394l-7-4-18 7-10 10-1 12 12 1 13-7 8-8zM832 337l-11 30 39 7 30 9 2 9-3 15 6 12 4 1 4-3 4-13-1-11 6-4 30 11 14 15 19 0 21 10 46 29 30 23 25 22 46 49 8 11 7 16 20 21 13 21 23 45 16 40 4 22 8 17 11 51 6 51 1 39 34 0 0-31-4-41-15-75 20-10 2-4-7-6-21-5-5-5-21-52-52-95-78-82-32-27-52-36-65-35-36-15-50-16zM649 337l-49 11-57 19-54 25-35 20-39 26-41 33-37 36-31 37-18 17-11 24-20 32-20 39-20 50-5 4-23 6-4 4 3 6 16 6 3 4-16 77-4 69 34 0 2-47 7-52 10-44 8-17 0-8 7-22 17-40 19-36 14-22 17-17 7-16 17-22 45-46 31-26 43-30 36-20 24-2 13-14 33-12 4 3 2 23 6 5 4-1 5-10-3-23 4-4 67-15zM1045 230l-4 6 0 8 4 10 11 12 10 2 3-3 1-8-5-13-9-11-8-4zM437 230l-7 0-13 13-5 11 0 10 3 4 7 0 5-3 10-12 3-7 0-12zM1106 221l-3 4 0 10 13 23 14 12 13 0 5-6 0-6-11-22-20-15zM375 221l-7-1-10 4-16 15-8 16 0 10 3 4 12 2 11-7 7-8 12-24-1-8z"/>
<path fill="#4682f8" d="M739 737l-6 4-6 12-3 17 2 22-11 13-2 12 7 9 8 4 17 2 17-7 6-8 0-8-12-15 1-28-4-17-8-11zM1428 664l-2 30-4 8-8 5-19 6-5 7 2 4 9 5 21 6 8 10 7 90 1 47 28 0-2-54-10-79 1-9 9-12 2-10-4-8-19-16-11-28zM53 664l-5 4-9 25-14 11-9 12 0 9 11 17-9 79-2 61 27 0 1-40 8-98 7-9 24-7 8-7-3-7-21-7-9-7-3-9zM766 552l-4 22 34 1 41 10 34 13 44 24 32 24 31 30 27 32 0 13 4 5 6 3 10 0 8-6-1-9-18-9-7-15-27-34-29-28-38-28-35-19-38-15-60-14zM715 551l-67 13-38 14-40 21-30 21-34 31-28 34-10 19-15 7-5 5 0 6 9 7 14-2 6-8-1-10 32-38 40-36 42-27 32-15 36-12 34-7 28 0zM1286 546l-7 5-1 11 9 7 13-2 5-6 0-8-8-7zM182 547l-6 7 0 6 4 6 6 3 8 0 8-5 2-10-6-7-7-2zM1369 557l0 5 8 6 33 8 15-1 13-13-3-8-22-11-14 0zM44 557l2 10 15 9 10 0 36-9 6-6-4-7-27-11-20 2zM781 493l-7 28 33 4 39 9 58 21 22 11 38 25 34 29 22 23 18 22 22 33 26 58 16 65 4 36 0 25 23 0-1-33-4-30-18-66-9-22-30-56-42-56-47-44-34-24-36-21-28-13-37-13-35-8zM700 493l-32 4-33 8-31 11-38 18-60 39-27 23-27 28-40 55-17 30-18 40-13 40-7 32-5 61 23 0 1-33 5-37 17-63 27-57 39-52 47-44 31-22 29-16 36-15 32-10 35-8 34-4zM1209 402l-1 5 6 7 8 2 4-3 0-5-5-6-4-2zM270 400l-8 1-7 8 2 6 6 1 9-6 1-7zM1247 394l3 11 14 12 8 3 8 0 3-3-2-10-10-10-13-6-8 0zM233 392l-9-1-15 7-9 10-1 10 3 2 11-1 13-8 8-11zM832 338l-10 28 67 15 4 4-3 26 4 7 6 1 4-4 2-25 7-2 31 12 8 11 6 4 18-1 21 10 43 27 34 26 28 25 41 44 9 12 9 20 17 16 15 24 21 41 17 42 4 23 6 10 7 26 8 43 5 50 0 29 32 0-1-41-4-36-15-69 3-4 18-7 2-4-7-6-19-4-7-5-20-50-53-98-18-16-23-28-38-38-40-33-43-29-31-18-62-29-54-18zM649 338l-45 10-55 18-33 14-61 33-35 23-44 35-40 39-25 30-22 21-10 23-20 32-22 43-18 46-8 6-18 4-7 5 3 6 19 9-15 73-5 74 32 0 1-38 5-45 14-64 7-13 2-17 17-43 19-38 17-28 19-19 9-20 11-14 48-50 51-41 50-31 15-7 21 0 13-15 29-11 5 0 3 3-1 16 5 11 6 1 6-12-4-22 4-4 68-15zM1044 231l-3 12 5 12 9 10 6 3 6-1 2-13-5-11-10-11zM436 230l-10 3-10 12-4 11 3 11 10-1 11-12 4-9 0-9zM1106 223l-2 4 1 12 13 21 13 10 8 1 4-2 4-10-10-22-19-15-8-1zM374 222l-13 1-14 11-12 22 2 12 6 3 7-1 15-12 12-21 0-11z"/>
<path fill="#458afc" d="M738 739l-7 7-5 14 0 33-12 14-1 9 9 11 21 5 12-3 8-5 5-8 0-6-13-17 1-29-4-15-8-10zM1431 677l-7 24-10 7-17 5-5 8 9 7 21 6 8 8 8 91 1 49 25 0-2-61-10-77 13-20 0-7-9-12-15-10zM51 677l-3 2-6 14-23 19-3 7 3 10 10 13-10 84-2 56 25 0 1-43 8-96 7-8 22-7 9-7-2-6-24-9-7-7zM766 552l-4 22 30 0 40 9 38 14 46 25 32 24 30 29 29 34-2 11 3 5 8 4 8 0 8-5 1-8-2-3-19-9-6-14-26-33-31-30-37-27-33-18-44-17-57-13zM715 552l-32 4-40 10-34 13-38 20-35 25-31 29-31 39-5 13-14 5-6 5 0 8 9 6 14-3 4-5-1-13 23-27 32-32 37-28 42-23 37-14 43-10 30 0zM1283 548l-5 7 0 5 6 7 12 1 7-5 2-7-4-7-7-3zM182 548l-5 6 0 7 4 5 14 2 7-5 1-9-5-6-5-2zM1369 559l9 9 30 7 19-2 10-10 0-5-5-6-18-8-16 0-26 11zM44 558l2 8 5 5 10 4 12 0 27-6 9-4 3-4-4-7-25-10-22 2-13 7zM781 493l-7 27 37 5 38 9 57 21 22 11 35 23 28 23 27 27 38 50 28 58 10 31 8 36 6 68 20 0-5-62-9-39-12-35-17-37-22-38-36-48-24-25-28-24-65-42-32-15-34-12zM700 493l-43 7-26 7-30 11-35 17-57 37-23 19-29 29-41 55-18 31-19 41-11 32-9 38-5 39 0 26 20 0 1-35 4-31 18-68 23-50 39-54 49-47 49-33 25-12 47-17 41-10 37-5zM1209 403l0 5 8 7 8-1 1-4-3-6-9-4zM272 402l-5-2-6 2-5 6 0 5 2 2 9-1 5-5zM1248 394l0 7 9 11 17 8 8-3-1-9-9-10-16-7zM233 393l-8-2-14 6-10 10-2 10 9 3 15-7 10-11zM831 340l-9 25 52 10 19 7 2 5-5 13 0 9 5 9 3 1 6-5 2-7-2-17 6-4 33 12 14 16 20-1 21 10 40 25 44 34 32 30 38 44 10 22 19 18 14 23 20 39 20 51 0 12 9 18 10 44 7 52 2 47 29 0-5-75-15-72 21-10 2-5-7-5-19-4-8-6-18-46-22-43-19-30-12-27-17-14-24-29-40-40-39-32-43-29-31-18-67-31-60-19zM650 339l-56 13-39 13-64 29-43 25-27 18-43 34-42 41-25 30-22 20-9 23-19 30-23 45-19 47-32 12 3 7 16 6 4 5-8 29-8 44-4 41 0 31 29 0 1-42 5-43 12-57 9-18 2-18 14-36 21-43 19-31 19-18 7-18 13-17 45-47 53-43 50-31 15-7 20 1 14-16 34-12 5 3 0 24 4 5 5 0 5-7 0-13-4-9 0-5 3-3 26-8 43-8zM436 231l-8 1-11 12-5 14 4 9 10-2 11-13 3-15zM1045 231l-3 4 0 11 3 7 12 13 9 1 3-5 0-7-4-10-9-11-8-4zM1108 223l-3 5 0 8 8 17 13 14 6 3 10-1 4-10-9-21-14-13-7-3zM373 223l-7-1-9 4-14 14-7 16 0 8 4 5 12 0 15-14 9-17 0-11z"/>
<path fill="#448ffe" d="M739 740l-7 6-5 13 0 34-12 13-2 9 8 11 8 4 19 1 12-5 6-6 2-9-3-7-11-12 2-22-4-19-6-9zM1433 689l-12 16-23 9-4 7 7 6 24 8 7 9 8 103 0 35 23 0-3-66-10-72 12-16 2-12-7-9-13-7zM49 689l-10 10-12 6-10 12 1 9 13 16-10 78-2 62 22 0 1-46 8-93 8-9 20-6 9-6-1-6-27-12zM766 552l-3 22 25-1 49 11 43 17 37 21 33 25 29 28 29 33-3 12 5 6 12 3 11-7 0-5-5-6-17-5-4-13-27-35-32-31-37-27-31-17-40-16-34-9zM715 552l-15 1-52 12-40 15-36 19-35 25-32 30-28 35-6 16-19 7-4 6 1 5 10 6 13-3 4-5-2-14 24-27 31-31 37-28 44-24 41-15 42-9 25 1 2-1zM1280 552l-1 8 7 7 11 0 6-5 1-7-8-8-9 0zM179 552l0 11 9 5 11-3 4-7-1-5-8-6-8 0zM1437 559l-3-5-12-7-17-3-24 7-8 4-3 6 5 5 30 8 16 0 11-5zM45 557l0 7 7 7 8 3 16 0 19-4 16-8 0-4-4-4-31-10-19 4zM781 494l-7 26 30 3 44 10 58 21 29 15 35 24 27 23 27 28 35 47 25 52 18 64 5 34 2 41 18 0-2-39-6-37-21-66-36-68-41-54-49-45-62-40-34-16-31-11-39-9zM701 494l-61 11-61 24-41 24-30 21-29 25-23 24-21 26-24 37-21 39-13 31-17 62-4 29-1 35 18 0 0-25 6-48 10-41 15-41 21-40 35-46 31-31 23-19 34-23 23-12 37-15 33-10 31-7 35-4zM1209 404l5 9 4 2 7-2 0-5-4-5-9-2zM272 403l-3-2-7 1-5 5-1 5 3 3 7-1 6-6zM1249 393l-1 7 12 14 11 5 10-1 1-7-8-11-15-8zM233 394l-2-2-9 0-12 6-8 8-3 6 3 7 9 0 13-7 8-9zM831 341l-9 23 64 13 10 6 1 3-7 16 1 10 5 6 4 0 5-8-2-23 9-2 32 12 8 12 7 5 20-2 24 12 39 25 41 32 31 29 39 45 9 22 19 17 15 24 20 39 20 51 0 13 10 20 10 46 6 45 2 50 27 0-5-73-15-74 7-5 11-3 5-4 0-3-7-5-20-4-6-4-19-47-22-43-20-32-5-17-5-8-12-9-44-49-34-32-38-30-33-22-36-21-65-30-56-18zM651 341l-49 10-46 15-62 28-48 28-68 51-41 40-25 30-22 19-8 22-24 39-19 38-18 45-7 5-22 5-5 5 2 4 17 6 5 5-16 76-4 70 27 0 1-45 6-48 11-50 9-16 2-20 18-45 21-41 16-25 18-16 9-22 11-14 45-47 29-25 40-29 46-26 25 0 14-17 27-10 10-1 3 3-3 10 1 14 3 5 7 0 4-8 0-9-6-16 14-8 60-12zM1046 231l-4 5 0 9 4 9 10 11 10 1 3-9-5-13-10-11zM437 232l-10 1-11 13-3 8 2 12 10-1 11-12 4-12zM1110 223l-4 5 0 10 8 16 13 13 7 3 7-1 3-3 1-9-8-18-15-14zM373 224l-9-1-9 5-10 10-8 17 0 10 4 4 12-1 13-12 10-21z"/>
<path fill="#4294ff" d="M738 742l-6 6-5 14-1 18 2 11-12 14-2 12 6 8 7 4 20 2 11-4 7-6 2-13-13-15 1-27-4-15-7-9zM1005 717l5 9 9 3 9-2 5-6 0-4-4-5-12-4-7 0zM474 711l-3-3-15 2-6 4-1 8 3 4 8 3 10-2 6-7zM1432 695l-11 11-21 8-4 7 5 5 22 7 10 11 9 138 19 0-3-70-10-68 2-5 12-12 2-8-7-11zM49 695l-23 12-8 10 1 9 14 16-10 74-3 66 20 0 1-49 8-91 8-8 21-7 7-5-2-7-21-8zM766 552l-4 19 2 3 28-1 40 9 45 17 33 18 49 37 45 49 4 0-1-8-27-36-34-33-36-26-60-29-37-11zM715 552l-42 7-30 8-36 14-34 18-40 29-28 27-22 27-9 14-1 7 7-2 16-20 32-32 40-30 43-23 35-13 44-10 30 0zM1284 549l-4 5 0 7 5 5 10 1 7-5 1-7-3-5-8-3zM185 548l-6 5 1 10 7 4 11-2 4-6-1-6-6-5zM1371 558l1 5 6 4 30 7 18-2 10-9 0-6-5-5-19-7-17 1-18 7zM45 558l0 5 5 6 14 5 34-5 12-7 0-5-4-3-24-9-13 0-11 3zM781 494l-7 25 28 3 45 10 37 12 35 15 26 15 32 23 48 46 36 48 19 38 14 39 9 37 6 43 1 34 15 0 0-24-5-40-18-64-20-44-22-38-39-52-47-44-64-42-36-17-28-10zM701 494l-62 12-62 25-37 22-34 24-42 39-42 55-37 69-13 35-8 30-6 35-2 42 15 0 2-40 5-35 10-41 13-36 20-40 38-50 48-45 31-22 33-18 60-22 43-10 33-4zM1211 402l-1 6 7 6 7-1 0-6-4-4zM271 403l-4-2-6 2-4 5 0 4 2 2 8-1 4-4zM1249 394l0 7 9 11 14 7 9-2 1-5-3-6-8-8-13-6zM233 395l-3-3-7 0-11 5-11 11-1 8 3 3 6 0 10-4 12-11zM900 388l-4 1-5 10 0 12 6 7 6-4 2-5 0-11zM581 388l-4 8-1 11 3 8 5 3 6-6 1-10-4-11zM830 342l-7 21 64 13 14 8 8-1 36 13 13 17 19-3 41 21 64 47 58 58 14 18 8 22 16 13 9 11 34 65 16 42 0 15 8 12 7 26 11 69 2 53 24 0-3-63-17-83 8-6 13-4 3-7-7-4-20-4-7-5-19-47-20-39-20-32-10-27-15-11-30-34-44-43-35-28-42-28-40-23-52-24-50-17zM651 342l-48 10-51 17-49 22-52 30-37 25-37 30-36 35-28 33-23 19-7 22-25 41-22 45-13 34-7 6-17 3-11 6 2 5 22 10-15 72-5 75 24 0 2-48 7-52 10-44 9-15 0-15 13-35 16-35 22-39 25-24 8-22 10-13 58-59 39-31 30-20 39-20 19 3 6-5 6-11 15-7 22-7 8 1 12-7 22-6 45-8zM1045 232l-3 5 3 15 9 11 11 3 3-3-3-17-10-12-6-3zM436 232l-3-1-8 4-8 10-4 10 3 11 10-2 9-10 4-9 0-9zM1110 224l-4 10 9 21 14 13 12 0 3-4 0-8-9-19-14-12zM371 224l-8 0-6 3-12 12-8 19 3 10 10 1 4-2 13-13 8-17 0-7z"/>
<path fill="#4099ff" d="M739 743l-6 5-5 13 0 32-12 12-2 11 3 6 8 6 21 3 10-3 8-6 3-13-14-16 1-29-3-11-5-8zM1006 714l1 9 8 5 10 0 8-8-4-8-8-3-11 0zM449 716l0 6 8 6 10 0 9-9-5-10-11 0zM1432 698l-13 10-19 7-2 7 5 4 23 8 8 9 8 95 1 44 16 0-2-61-11-78 15-16 2-9-9-11zM49 698l-23 10-6 6-2 6 3 8 14 14-10 73-3 67 17 0 0-37 8-101 10-11 19-6 8-6-6-8-17-6zM766 552l-4 21 33 0 42 10 39 15 32 17 44 32 31 30 19 23 4 0-4-11-23-30-34-33-36-26-38-20-28-11-32-9zM715 552l-64 13-36 13-41 21-34 24-34 32-31 41 0 4 4 0 26-30 22-21 40-30 43-23 41-15 36-8 33 0zM1282 552l-1 9 6 5 9 0 6-6 0-6-5-5-9-1zM180 553l-1 6 7 7 8 0 7-6 0-5-5-6-9-1zM1372 558l0 4 7 5 25 6 23-2 9-9-3-8-17-8-23 1-17 7zM45 560l6 9 10 4 32-3 12-4 5-5-3-6-23-9-25 2-8 4zM781 495l-6 20 1 4 17 1 49 10 36 11 37 15 29 16 30 21 27 23 29 30 37 48 16 36 21 72 6 41 1 39 13 0-1-31-5-36-7-29-13-37-12-26-34-59-34-45-46-43-62-41-60-26-35-9zM701 495l-63 12-31 11-32 15-63 41-25 21-28 29-19 24-43 72-18 40-17 63-4 33 0 26 12 0 1-34 6-44 8-34 15-44 15-33 39-50 33-33 23-19 50-32 30-13 42-14 38-9 36-4zM1211 403l0 6 4 4 6 1 3-2-3-8zM269 402l-7 1-5 6 1 4 6 1 7-6zM1249 395l2 9 10 10 13 5 7-3-1-8-11-11-13-5zM232 394l-7-2-14 6-9 9-1 10 7 2 15-7 7-7 3-7zM897 390l-6 10 0 9 5 8 4 0 4-6 1-11-2-7zM581 390l-4 7 0 13 5 7 3 0 5-6 0-12-3-7zM830 343l-7 19 50 9 72 23 12 18 6 1 13-5 38 18 33 22 38 30 59 60 12 16 6 21 19 15 11 15 32 63 14 37 0 18 11 19 9 41 7 53 1 46 22 0-4-68-16-79 5-4 16-5 4-5-8-6-21-4-6-4-23-55-39-69-1-10-5-11-17-12-37-41-38-36-30-24-40-27-46-27-62-28-43-14zM651 343l-43 9-52 17-53 24-48 28-43 29-32 26-43 42-27 31-20 15-5 20-30 51-31 71-7 5-17 3-11 6 2 5 15 5 8 6-9 35-8 46-3 65 21 0 1-41 7-56 10-45 10-16 1-21 13-34 39-74 24-21 5-19 14-19 61-61 33-26 36-24 36-17 14 5 5-1 11-17 19-8 63-18 41-7zM1046 232l-4 7 4 14 10 11 10 1 2-10-5-12-10-10zM437 233l-10 1-11 13-3 12 4 7 7-1 11-11 4-10zM1110 225l-3 5 0 7 9 19 12 11 12 1 4-9-8-20-14-13zM371 225l-6-1-7 3-14 14-6 14 0 9 3 4 8 1 6-3 11-11 8-16 0-10z"/>
<path fill="#3ba0fd" d="M738 744l-5 5-5 14-1 18 2 10-14 16-1 9 4 7 10 6 18 2 17-8 4-7-2-11-12-12 1-27-3-12-6-9zM1087 733l19 74 5 37 1 38 11 0-1-32-7-44-13-43zM394 733l-15 31-13 44-6 36-2 38 11 0 1-33 6-45zM1006 715l1 8 8 5 10 0 8-8-3-7-9-4-10 0zM449 716l0 6 8 6 12-1 7-8-2-7-4-3-10 0zM1432 699l-11 8-20 8-2 7 26 11 11 13 8 136 14 0-2-60-11-79 16-17 2-6-2-6-6-6zM49 699l-24 10-6 8 2 10 14 13 2 5-11 71-3 66 15 0 1-50 7-88 12-12 19-6 6-5-3-6-20-8zM766 553l-4 20 27-1 49 11 45 18 32 18 40 30 24 23 23 27 3 0-10-19-23-28-30-28-32-23-33-18-29-12-38-11-33-7zM715 553l-11 0-52 12-41 15-38 20-36 26-33 32-19 24-9 16 3 1 44-47 45-34 39-21 43-16 43-9 10 2 16-1zM1285 550l-4 4 0 6 3 4 11 2 5-3 2-8-4-5-6-2zM185 549l-5 5 0 7 7 5 9-1 5-7-2-6-8-4zM1372 558l1 5 6 4 26 6 21-2 10-9-1-5-5-5-16-6-20 1zM46 558l0 5 4 5 13 5 29-3 17-8 0-4-4-4-22-8-20 1-10 4zM780 496l-5 22 33 4 50 12 47 17 34 17 27 18 31 25 48 49-20-31-33-35-29-24-47-31-31-16-43-16-34-8zM701 495l-42 7-38 11-29 12-33 18-47 32-31 27-27 30-18 28 53-53 32-25 30-19 43-19 33-11 47-11 33-4zM1211 404l3 8 9 1 1-4-5-6-6-1zM270 403l-9 1-3 3 0 5 3 2 6-2 4-5zM1250 394l1 10 9 9 10 5 9 0 2-2-2-9-10-10-9-4zM232 395l-2-2-9 0-10 5-10 11 0 7 10 2 12-6 8-9zM899 390l-5 3-3 8 1 11 5 5 5-2 3-9-2-12zM582 390l-5 8 0 11 2 5 6 3 5-7 0-11-2-5zM652 344l-41 8-47 15-47 20-34 19-53 33-57 45-63 66-18 12-4 7-3 17-31 53-29 67-7 5-21 4-8 5 2 5 18 6 5 4-15 73-5 74 20 0 2-50 7-51 9-41 11-17-1-16 14-38 34-67 12-14 17-13 5-20 16-22 39-41 27-24 63-45 34-16 13 5 7 0 5-4 3-10 5-5 30-11 13-2 26-9 51-9 2-2zM830 343l-7 18 49 9 43 12 32 12 6 13 5 5 7 0 13-5 36 17 33 22 40 32 57 58 13 18 3 16 4 7 17 12 11 14 33 65 15 41-1 15 10 15 10 45 7 55 1 43 20 0-3-62-17-85 23-10 2-5-11-6-18-3-7-6-25-59-34-58-6-24-7-7-14-8-31-35-35-34-44-35-84-52-36-17-52-19zM1045 233l-2 13 3 7 10 11 8 2 4-5-4-16-10-11zM435 232l-8 2-9 10-4 9 2 12 9-1 11-12 3-14zM1111 225l-4 11 10 21 13 11 7 1 4-2 2-12-8-17-12-11zM370 225l-10 1-15 14-7 17 0 6 4 5 6 1 7-3 13-14 6-14 0-8z"/>
<path fill="#35abf8" d="M1442 771l4 111 8 0-3-69-5-33zM39 770l-4 12-5 35-3 65 8 0zM739 746l-5 4-5 13-1 18 2 10-14 15-2 8 3 7 7 6 19 4 17-6 6-7 1-7-4-8-11-10 0-32-4-10zM1006 716l1 6 9 6 10-1 6-5 0-6-12-7-7 0zM471 710l-9-1-9 3-4 5 1 6 8 5 14-3 3-4 0-6zM1402 717l1 6 24 10 11 9 15-10 8-9-3-11-20-10-7 0zM20 718l2 8 19 16 15-10 17-6 7-5-3-6-26-13-7 0-18 8zM1212 625l30 78 1 7-3 13 12 15 5 20 10 61 3 63 14 0 0-29-4-41-16-76 6-5 19-6 2-5-8-5-23-4-8-6-11-28zM270 624l-14 22-26 58-9 7-22 4-9 5 4 6 17 5 7 6-16 71-5 74 14 0 4-68 11-63 5-16 11-13-3-18zM766 553l-3 20 32-1 16 3 44 13 26 11 52 31 54 46-12-18-20-21-25-21-32-21-37-18-31-11-50-12zM715 553l-9 0-61 15-58 25-30 19-24 19-24 24-15 21 57-48 56-32 59-20 21-4 31 1zM1284 552l-2 7 4 5 8 1 5-3 2-5-4-6-10-1zM1163 550l-3 7 3 17 10 9 19 7 1-18-4-9-7-6zM320 551l-13 2-16 12-3 11 2 14 15-5 12-9 4-9zM184 551l-3 9 4 4 7 1 7-5-3-9zM1373 559l1 4 7 4 21 5 22-1 5-2 6-7-3-8-16-7-20 0-20 8zM46 559l5 9 10 4 29-2 13-4 5-4 0-4-6-5-17-6-24 1-10 5zM702 498l-8-1-43 8-51 18-43 24-34 24-14 13 48-27 35-14 57-17 58-9zM780 496l-5 21 44 6 62 17 46 18 45 26-33-27-51-31-50-19zM1212 404l2 7 4 2 5-2-4-7zM268 403l-6 1-3 3 0 5 7 0 4-5zM1250 395l1 8 8 9 13 6 8-2-2-10-7-7-13-6zM231 395l-8-2-8 3-11 9-3 10 8 3 12-5 9-9zM897 392l-5 7 0 11 4 6 3 0 5-7 0-10-2-5zM582 392l-4 5-1 10 2 6 6 3 4-5 1-9-3-8zM952 390l1 12 4 8 7 1 9-7 1-4-5-6-10-4zM529 390l-15 3-5 4-1 6 7 7 8 1 5-7zM824 358l44 8 73 18-37-18-62-18-13-2zM652 346l-17 3-52 15-43 20 78-19 39-6zM1046 233l-3 11 4 10 10 10 7 1 3-3 0-9-4-9-8-9zM435 233l-7 1-9 9-5 12 3 10 9-2 9-10 3-7 0-10zM1112 226l-3 3-1 8 6 15 12 13 12 3 4-4 0-10-5-12-12-13zM371 227l-9-1-14 11-9 19 0 7 3 4 12-1 12-12 7-15z"/>
<path fill="#2eb4f2" d="M1270 796l5 86 4 0-1-44zM211 796l-7 36-2 50 4 0zM740 748l-6 5-4 10-1 18 2 10-14 14-2 11 3 6 9 6 21 2 15-8 3-5 0-8-15-16 0-31-4-10zM1241 718l1 7 14 10 28-8 6-4 0-3-6-4-29-6-8 0zM1006 718l4 7 7 3 9-1 6-6-1-6-8-5-11 0zM451 714l-2 4 2 6 8 4 9-1 7-7-1-6-5-4-11 0zM241 720l-7-10-34 5-7 3-2 4 4 4 31 9 8-5zM1404 719l2 4 31 15 15-7 8-9-4-10-17-8-9 0zM22 717l1 8 18 13 6-1 30-16 0-3-5-4-21-10-16 3-8 4zM1164 556l-2 12 3 7 13 9 10 0 3-4-2-15-14-10zM316 555l-12 1-11 8-3 7 3 13 13-1 11-9 2-15zM766 553l-4 18 2 2 36-1 55 15 51 24 56 38-14-16-27-22-53-30-41-15zM715 553l-12 1-45 11-47 17-52 30-19 15-20 22 52-36 49-24 55-16 12-2 29 2 2-4zM1285 553l-1 7 3 3 6 1 5-3 1-6-4-4zM183 554l-1 4 4 5 5 1 7-5-1-5-4-3-6 0zM1374 559l8 8 23 5 17-1 12-8-3-9-19-7-21 2-12 5zM47 558l0 4 5 6 14 4 22-2 19-8-3-7-22-8-19 1-10 4zM779 499l-4 17 54 8 90 26-18-15-43-20-42-12-29-5zM702 498l-32 4-44 12-42 19-17 11-4 6 85-25 58-9zM1214 404l0 6 6 2 1-5zM269 406l-2-2-5 1-2 6 6 0zM959 396l-4 8 3 5 4 1 6-4 1-4-4-5zM523 396l-7 1-3 3 0 5 6 5 7-4 0-6zM1251 395l1 9 8 8 10 5 9-1 0-7-6-8-13-7zM231 396l-10-2-7 3-10 9-2 9 10 2 8-4 10-10zM899 393l-5 3-2 5 0 8 4 6 5-1 3-8-1-8zM583 393l-5 6 0 10 4 6 3 0 4-5 0-10zM826 353l7 3 13 0-18-6zM655 352l-1-2-18 6 18-1zM1046 234l-3 7 4 12 11 11 6 0 3-9-5-12-8-8zM435 234l-3-1-6 3-9 11-2 5 2 12 8-1 10-11 3-8 0-6zM1111 228l-2 11 9 18 7 7 13 3 4-9-7-18-15-13zM369 227l-10 1-11 10-8 16 2 12 11 0 14-14 5-11 0-10z"/>
<path fill="#27bee9" d="M738 751l-6 9-2 9 2 22-13 12-4 12 7 10 8 4 17 1 9-3 8-7 2-10-3-6-13-11 0-31-7-11zM1242 718l2 8 10 6 22-3 13-6 0-3-6-4-22-4-12 0zM239 718l-7-6-12 0-24 5-4 5 10 6 25 4 11-7zM1007 715l1 8 6 4 11 0 7-7-2-6-8-4-9 0zM450 716l0 6 11 6 10-3 4-6-2-6-5-3-9 0zM1407 719l2 4 29 13 13-6 7-7 0-6-3-4-18-8-9 1zM23 718l1 6 5 5 14 7 31-15-2-5-22-11-19 5zM1166 558l-3 9 4 9 10 6 9 0 4-5-2-12-11-8zM314 557l-9 0-10 6-4 9 3 9 4 2 7-1 11-8 2-12zM766 554l-4 18 16 1 14-3 45 10 47 18 49 27-6-7-22-16-49-25-36-12-44-11zM716 555l-11-1-54 14-28 10-45 23-30 24 56-30 37-14 48-11 15 3 15-1zM1286 554l-1 5 3 3 9-2 1-3-3-4-6-1zM184 555l3 7 6 0 3-3 0-4-4-3zM1375 559l6 7 19 5 23-1 8-4 3-5-5-8-13-5-23 1-13 5zM48 558l0 5 4 4 11 4 24-1 11-3 8-6-3-6-18-7-23 1-8 3zM779 499l-4 16 51 7 73 18-12-10-33-15-44-12zM702 499l-60 11-44 18-14 9-1 3 72-18 51-7zM1215 405l-1 3 5 3 1-4zM267 405l-3 0-3 5 5 0zM959 400l-2 5 6 3 2-6zM518 400l-2 5 6 3 2-6zM896 395l-3 5 0 10 3 4 4 0 3-5 0-9-3-5zM581 395l-3 7 1 9 7 3 3-12-4-7zM1252 395l0 8 7 8 9 5 10 0 1-6-9-11-11-5zM230 396l-7-2-10 4-9 9-1 8 7 2 11-5 7-7zM1047 234l-3 4 0 7 4 9 9 9 6 1 3-3-2-14-9-11zM436 235l-6-1-10 9-5 11 2 9 7 0 8-7 5-10zM1113 228l-3 4 0 9 5 11 11 12 6 3 6-1 3-4 0-7-6-14-11-11-7-3zM370 229l-9-1-14 12-7 19 3 7 9 0 11-9 8-15 1-8z"/>
<path fill="#20c7df" d="M739 753l-3 2-5 14 2 23-15 13-2 12 5 7 7 4 17 2 15-6 5-6 1-7-2-5-15-13 1-26-4-11zM1243 719l5 9 8 3 22-3 8-3 3-4-7-5-17-3-15 0zM238 718l-7-5-15 0-19 4-4 3 0 3 14 6 19 2 11-6zM1007 716l1 6 7 5 12-1 5-7-5-7-13-2zM450 717l1 6 6 4 12-1 5-5 0-6-7-5-10 1zM1410 719l2 4 23 11 10-2 8-5 4-6-4-8-17-7-7 1zM25 717l0 6 16 11 8-1 22-12-2-5-20-10-13 3zM1168 559l-3 4 1 10 9 7 10 0 4-6-3-10-7-5zM313 559l-10 0-9 7-1 10 3 4 8 1 10-6 3-11zM1289 554l-2 5 6 2 3-3-1-3zM766 554l-3 18 13 1 9-3 13 0 25 5 36 11 43 18-25-16-35-15-48-12-15-6zM716 555l-9-1-62 17-48 21-17 12 48-20 55-14 14 0 8 3 13-1zM186 555l1 5 7-1-1-5zM1376 559l6 7 21 5 18-1 6-2 6-6 0-4-5-5-16-5-18 1-13 5zM48 559l5 8 13 4 19-1 20-8-3-7-20-7-19 1-8 3zM776 511l1 3 31 3 70 14-5-5-24-11-47-12-23-3zM706 513l-4-13-23 3-44 11-25 11-7 6 65-13zM263 407l0 2 3-1zM900 396l-4 0-3 5 0 8 4 5 4-2 2-5zM582 396l-3 4 0 9 5 5 4-4 0-10-3-4zM1252 397l1 7 8 8 8 4 9-1 0-6-6-8-11-6zM229 396l-9-1-8 4-7 7-2 8 9 2 7-3 8-7 3-6zM1047 235l-3 8 5 12 6 6 8 2 3-4-3-13-9-10zM435 235l-6 0-10 10-3 7 0 9 2 2 7-1 8-8 4-9zM1113 229l-3 9 6 15 9 10 12 3 3-4 0-9-5-11-10-11-7-3zM368 229l-10 1-11 11-6 14 2 10 8 1 13-11 7-15 0-7z"/>
<path fill="#1bd0d5" d="M739 755l-4 4-3 10 2 23-15 12-3 5 0 7 7 9 9 4 11 1 15-5 7-8 0-8-18-18 2-24-4-10zM1244 719l1 5 10 6 17-1 11-3 5-4-8-6-20-3-12 2zM237 719l-6-5-10-1-23 4-4 3 0 3 15 6 17 1 7-3 4-4zM1009 713l-2 7 6 6 11 1 7-6 0-5-7-5-8-1zM452 714l-2 7 8 6 8 0 8-6-1-7-7-4zM1413 718l2 5 18 9 9 0 13-10-3-8-12-6-11 0zM26 719l6 9 8 4 11-1 17-10-3-6-13-7-13 1-11 6zM1166 564l0 6 5 7 12 2 4-3 0-8-5-6-12-2zM313 561l-10-1-4 2-5 7 2 9 6 2 8-3 6-9zM1290 556l0 2 3 0zM189 556l0 2 3-1zM762 571l12 2 12-4 13 0 63 15-22-10-68-20-6 1zM716 555l-12 0-17 7-31 7-36 15 62-15 13 0 12 4 10-1 2-3zM1377 559l4 6 26 6 16-2 9-6-3-9-9-4-15-2-19 4zM49 558l1 6 4 3 17 4 21-3 12-6-3-7-24-7-19 3zM776 511l61 11 20 1-23-11-48-10-7 0zM703 502l-20 2-42 10-13 6-3 4 80-12zM896 397l-3 9 1 4 5 3 3-4 0-8-2-4zM582 397l-3 10 2 5 4 1 3-11-3-5zM1253 396l0 7 6 7 12 6 6-1 1-5-8-10-11-5zM229 397l-7-2-12 6-6 8 0 5 6 2 11-5 6-6zM1048 235l-3 3 2 13 6 8 10 3 2-10-3-7-7-8zM435 236l-7 0-8 8-4 9 2 9 6 0 8-7 5-12zM1113 230l-2 11 6 13 9 9 7 3 4-1 3-9-7-16-13-11zM367 229l-8 1-10 9-7 14 1 11 9 1 13-12 5-11 0-9z"/>
<path fill="#18d7ca" d="M740 757l-5 5-2 7 2 23-17 14-2 9 2 5 9 7 21 2 10-4 5-5 2-10-4-7-15-12 2-24-3-7zM1245 720l3 6 7 3 20-1 12-6-5-5-15-3-17 1zM195 720l1 4 15 5 16 0 9-6 0-4-8-5-21 1zM1008 715l1 8 7 4 10-1 5-5-1-6-6-4-11 0zM450 718l1 4 7 5 10-1 6-6-2-7-4-2-13 1zM1416 718l3 6 14 7 8 0 12-9 0-5-14-8-10 0zM28 718l0 4 13 9 10-1 15-10-3-5-11-6-13 1zM1168 564l-1 6 6 7 9 1 3-2 1-8-4-5-10-2zM312 562l-11 0-6 7 1 6 3 3 11-2 4-5zM762 571l16 1 13-5 28 3-26-7-13-7-14-1zM719 571l-3-16-11 0-14 7-28 8 27-3 13 5zM1378 558l4 7 18 5 21-1 7-3 4-5-4-7-14-5-21 1zM50 558l0 5 3 3 12 4 22-1 16-7-3-7-16-6-25 2zM777 510l51 5-37-10-13-1zM705 509l-2-5-6 0-44 11zM896 398l-2 10 5 4 3-9-2-5zM582 398l-2 11 5 3 2-11zM1253 397l1 7 7 7 8 4 8-1 0-5-6-8-9-5zM228 397l-8-1-5 2-9 8-2 7 9 2 6-3 9-9zM1047 236l-2 8 3 8 7 8 7 2 3-3 0-6-4-9-7-7zM434 236l-7 1-9 11-2 8 3 6 6-1 9-10 2-5zM1115 230l-3 3 0 10 3 7 13 14 9 0 2-11-5-11-11-11zM367 230l-10 2-9 9-6 14 2 9 7 1 13-11 6-14z"/>
<path fill="#18dec0" d="M741 759l-5 4-2 7 3 21-13 9-8 12 5 11 13 6 17-1 8-4 6-9-2-9-18-14 2-24zM1246 720l3 6 8 3 16-1 13-6-5-5-18-3-13 2zM235 719l-6-4-11-1-18 3-5 5 13 6 16 1 8-3zM1008 716l0 5 9 6 8-1 6-6-1-4-7-5-9 0zM451 716l0 6 8 5 9-1 6-7-6-8-10 0zM1418 718l3 6 12 6 10-1 9-8-4-7-9-4-12 1zM30 718l0 4 11 8 10-1 13-9-2-4-10-6-13 1zM1169 565l-1 4 4 6 4 2 8-2 1-6-5-6-7-1zM312 564l-4-2-8 2-4 7 1 3 4 3 7-1 5-6zM763 571l14 1 14-6 0-2-12-8-13-1zM690 564l2 3 12 5 15-2-3-15-16 2zM1379 558l1 5 23 7 20-2 8-6 0-4-4-4-16-5-20 2zM50 559l4 7 14 4 22-2 10-4 3-4-4-5-18-6-17 1-10 4zM896 399l-2 7 5 5 2-10zM582 399l-2 8 2 4 3 0 2-9zM1254 397l0 6 6 7 10 5 6-1 1-4-8-10-9-4zM228 398l-7-2-7 3-7 6-2 8 6 2 9-4 6-6zM1047 237l-1 10 3 6 7 7 7 1 1-10-2-5-7-8zM433 236l-8 3-8 13 2 9 7-1 7-8 3-7zM1115 231l-3 4 0 6 4 10 11 12 9 1 3-8-6-15-11-10zM367 231l-7 0-10 8-7 14 2 11 7 0 10-8 7-13z"/>
<path fill="#1ce6b4" d="M740 762l-5 9 0 9 4 10-19 14-3 5 0 8 11 10 18 2 11-4 6-6 2-6-3-8-19-14 3-9 0-13-2-5zM1247 720l2 5 7 3 15 0 14-5-1-4-13-4-16 0zM196 721l2 3 12 4 16 0 8-5 0-4-7-4-22 1zM1420 718l3 6 10 5 9-1 8-7-3-6-8-4-12 1zM1008 716l1 6 9 5 9-2 4-5-1-4-8-5-8 0zM451 717l1 6 8 4 7-1 6-5-1-7-5-3-11 1zM32 718l0 4 10 7 9-1 10-7 0-4-9-6-10 0zM1172 564l-2 7 4 4 7 0 3-4-2-5zM311 566l-5-3-4 1-4 4 0 5 5 3 6-2 3-5zM763 570l13 2 8-3 5-5-11-8-12-1zM693 563l1 4 8 4 13 1 4-2-4-15-14 2zM1380 558l0 4 4 3 24 5 14-2 6-3 3-5-6-7-10-3-19 0zM51 558l0 4 4 4 18 4 19-3 10-6-5-7-12-4-19 0-11 4zM897 400l-2 8 4 2 2-6zM582 400l-1 8 4 2 1-9zM1254 398l1 6 7 7 6 3 8-1-2-8-12-8zM227 398l-8-1-6 3-7 7-1 5 2 2 11-2 9-9zM1048 237l-2 3 2 11 7 8 8 1 1-8-3-7-7-7zM433 237l-6 1-6 6-4 10 3 7 5-1 7-7 3-6zM1116 231l-3 3 0 9 4 9 8 9 10 3 3-3-3-16-9-11zM367 232l-6-1-12 10-6 14 2 8 6 1 12-10 6-13z"/>
<path fill="#22ebaa" d="M741 792l-16 8-8 10 2 10 4 4 13 5 19-3 9-10 0-7-3-5zM742 765l-4 2-2 6 2 12 3 2 4-7 0-9zM1248 720l2 5 8 3 17-1 9-4-1-4-15-4-15 1zM197 720l3 5 12 3 12 0 9-5-1-5-8-3-18 1zM1422 718l3 6 8 4 9-1 6-6 0-3-9-6-9 0zM33 720l5 6 10 2 7-3 5-6-8-7-10 0-7 4zM1008 717l1 5 6 4 9 0 6-4 0-6-8-5-10 1zM452 715l-1 6 6 5 10 0 6-5 0-5-7-5-6 0zM1172 566l-1 3 4 5 7-2-2-6zM303 565l-4 6 7 3 3-2 1-5zM763 570l5 2 11-1 7-4 1-4-7-6-11-2-4 2zM719 570l-3-14-11 0-11 7 3 5 6 3 11 1zM1380 559l3 5 17 5 16 0 14-7 0-4-4-4-13-4-20 1zM51 560l3 5 7 3 21 1 16-5 3-6-17-8-16 0-14 5zM897 401l-1 7 3 1 1-6zM583 401l-2 5 4 3 1-6zM1255 398l0 5 6 7 8 4 6-1-1-7-6-6-7-3zM227 399l-2-2-10 2-9 9 0 5 6 1 7-3 7-7zM1049 237l-3 4 3 11 8 8 5 0 2-6-4-10zM434 238l-6 0-7 7-3 6 2 9 6-1 7-8 2-5zM1116 232l-3 4 3 14 8 10 11 3 3-8-4-11-9-10zM366 232l-10 2-8 9-4 9 2 11 10-2 8-9 4-9z"/>
<path fill="#2cf09e" d="M717 811l1 7 4 5 15 6 15-2 7-4 5-7-2-10-6-6-12-6-7 0-10 5-8 7zM742 769l-4 3 2 11 3-2zM1249 720l1 4 11 4 16-2 7-4-2-3-9-3-18 0zM198 720l3 5 14 3 11-1 6-4 0-4-6-3-18 0zM1424 718l3 6 7 3 7-1 5-4 0-4-7-5-9 0zM35 719l2 5 6 3 8-1 7-6-7-7-11 1zM1009 715l1 8 5 3 9 0 6-5-1-6-8-4zM451 718l6 8 9 0 7-6-1-5-7-4-8 1zM1173 569l2 3 5-1-2-4zM303 567l-1 5 4 0 2-4zM763 570l15 1 6-3 2-5-7-6-13-1zM695 563l4 6 5 2 15-1-3-14-10 0zM1381 558l3 6 18 5 17-1 10-6 0-4-4-4-14-4-20 2zM52 558l3 7 13 4 18-1 14-6-3-7-16-5-17 1zM897 402l-1 4 2 2 1-5zM583 402l-1 5 2 1 1-5zM1255 399l1 5 11 9 8-1-2-7-6-5-8-3zM226 399l-4-2-8 3-7 7 0 6 7 0 7-4 5-6zM1049 238l-2 9 3 6 6 6 5 1 2-2-1-10-6-8zM433 238l-6 1-5 5-4 8 1 7 6 0 7-7 3-8zM1117 232l-3 3 0 9 3 7 9 10 8 2 3-3 0-8-4-9-7-8zM366 233l-9 1-8 8-5 12 3 9 11-4 7-9 3-8z"/>
<path fill="#38f491" d="M718 809l0 8 6 7 16 5 16-4 8-10-2-9-8-7-11-5-14 4zM1250 720l1 4 7 3 14 0 11-5-2-3-9-3-15 0zM198 721l2 3 10 3 14 0 7-4 0-4-7-3-14 0zM1426 717l0 4 8 5 10-4 0-4-6-4-8 0zM37 719l7 7 7-1 5-5-5-6-8 0zM1010 714l-1 7 4 4 10 1 7-5 0-4-6-5-7-1zM452 716l0 6 6 4 8 0 7-6-1-5-8-4-7 1zM763 570l17 0 5-4 0-4-10-6-9 0zM696 563l1 4 7 4 15-2-3-13-13 1zM1382 558l0 3 7 5 16 3 16-2 8-6-1-4-6-4-16-3-14 2zM53 558l3 7 15 4 18-2 11-7-8-7-15-3-15 2zM1256 399l1 6 5 5 7 3 5-1 0-5-6-6-6-3zM226 400l-7-2-11 8-1 6 9 0 9-8zM1048 239l-1 6 3 7 7 7 4 0 2-7-3-7-6-6zM433 239l-7 1-7 10 1 9 6-1 8-11zM1117 233l-3 3 0 7 4 9 7 8 10 2 2-8-4-10-8-9zM365 233l-9 2-7 8-4 9 2 10 6 0 11-11 3-7 0-9z"/>
<path fill="#46f884" d="M718 809l1 10 5 5 10 4 17-1 11-8 2-6-6-11-13-7-8 0-11 5zM1251 720l1 4 8 3 15-1 7-4-3-4-20-2zM199 722l7 4 16 1 6-2 3-4-5-4-14-1-9 2zM1427 719l4 5 11-2 0-4-5-3-6 0zM39 719l3 5 8 0 4-3 0-3-4-3-6 0zM1009 716l0 5 7 5 7 0 7-6-6-8-10 0zM452 716l1 7 5 3 10-1 5-6-5-7-10 0zM763 569l13 2 9-7-5-6-15-1zM697 562l0 4 8 5 14-2-4-13-11 1zM1382 559l2 4 14 5 18 0 12-6-3-7-11-4-17 0-11 4zM53 559l2 5 11 4 22-1 11-6-2-5-13-5-21 1zM1256 400l7 10 8 3 3-2-2-6-6-5-6-2zM225 400l-4-2-7 3-6 6 0 5 3 1 9-4zM1049 239l-1 9 2 4 10 7 2-2-2-11-7-7zM432 239l-5 1-8 11 1 7 7-1 7-11zM1116 234l-2 7 5 12 7 7 9 1 1-10-6-11-7-6zM365 234l-8 1-9 10-3 8 0 6 3 3 6-1 9-9 4-9z"/>
<path fill="#55fa76" d="M718 810l2 10 14 8 19-2 10-10-1-9-7-7-12-5-15 4zM1429 719l4 4 7-2-4-5zM1252 720l1 4 10 3 18-4-3-5-13-2zM230 721l-5-4-8-1-17 4 4 5 11 2 12-2zM42 718l-1 2 3 3 5 0 3-3-4-4zM1009 717l1 5 7 4 8-1 5-5-1-4-6-4-9 0zM452 717l0 4 7 5 9-1 4-4 0-5-5-4-9 0zM765 557l-1 13 11 1 9-6-1-4-6-4zM697 564l9 7 13-2-2-10-4-3-11 2zM1383 558l2 5 15 5 19-1 9-6-5-7-11-3-18 1zM54 558l2 6 11 4 20-1 11-6-3-6-12-4-19 1zM1257 400l5 9 6 3 5-1 0-4-6-6zM224 399l-11 3-5 9 10-1 6-6zM1049 240l-1 7 7 10 5 1 2-2-1-8-7-8zM431 239l-10 8-2 6 2 5 5-1 7-9zM1117 234l-2 10 3 7 10 10 6 0 2-8-3-8-9-10zM364 234l-8 2-7 8-4 11 2 6 8-1 9-10 3-9z"/>
<path fill="#65fd69" d="M719 808l-1 7 4 7 13 6 18-2 10-10 0-6-7-9-15-6-14 5zM1433 719l1 2 3-1zM49 719l-4 1 3 1zM1253 720l0 3 6 3 13 0 9-4-2-3-7-2-14 0zM201 720l2 4 6 2 13 0 7-4-1-3-5-2-14 0zM1009 717l1 5 7 4 8-1 4-4 0-5-6-4-8 0zM452 717l0 4 8 5 7-1 5-4 0-5-5-4-8 0zM763 569l5 2 10-1 5-4 0-4-7-5-11 0zM698 562l0 4 6 4 10 1 5-2-3-12-11 0zM1384 558l3 6 15 4 16-1 9-5-3-7-15-4-14 1zM54 559l4 6 11 3 17-1 12-7-4-5-14-4-15 1zM1257 401l7 9 5 2 4-2-5-8-7-3zM224 400l-4-1-8 4-3 8 10-2zM1050 240l-2 5 3 7 5 5 5 0-1-10-5-6zM432 240l-4 0-8 10 2 8 9-7 2-4zM1117 235l-2 7 4 10 8 8 6 1 3-6-4-11-9-9zM364 235l-7 1-7 7-4 9 2 9 8-2 7-8 3-7z"/>
<path fill="#75fe5c" d="M719 809l1 10 5 5 11 4 16-2 11-11-3-10-15-9-12 1-10 6zM1253 721l8 5 14-1 5-3-2-3-7-2-11 0zM201 721l10 5 10 0 7-4-1-3-6-2-10 0zM1009 718l2 5 7 3 11-5-1-6-6-3-7 0zM452 718l3 6 6 2 8-2 3-4-1-5-5-3-7 0zM765 557l-2 12 11 2 8-4 1-4-3-4zM698 564l6 6 9 1 5-2-2-12-10 0-6 3zM1384 559l6 6 15 3 15-2 7-6-4-5-8-3-19 0zM55 558l2 6 15 4 16-2 9-5-2-5-10-4-18 0zM1258 401l5 8 9 1 0-3-6-6zM223 400l-9 2-5 8 9-1 5-5zM1051 240l-2 2 1 8 5 6 5 1 1-7-2-4zM432 241l-5 0-4 4-3 7 2 5 8-5 3-7zM1118 235l-2 2 2 13 8 9 7 1 2-8-4-9-7-7zM363 235l-7 2-7 8-3 8 2 7 7-1 7-7 4-9z"/>
<path fill="#84ff51" d="M719 809l1 10 7 6 10 3 19-4 7-10-5-11-14-7-7 0-11 5zM1254 721l2 3 8 2 10-1 5-3-2-3-9-2-10 1zM202 721l3 3 9 2 9-1 4-3-1-3-8-2-11 1zM1010 716l0 5 5 4 9 0 5-4 0-4-7-5-6 0zM452 718l5 7 9 0 6-5-1-5-5-3-9 1zM763 569l14 1 6-6-6-6-11-1zM699 562l0 4 6 4 13-1-3-12-8 0zM1385 558l2 5 11 4 17 0 11-6-2-5-11-4-15 0zM55 559l3 5 8 3 17 0 10-3 4-4-4-5-9-3-16 0-9 3zM1259 401l5 8 5 2 3-2-7-8zM223 402l-2-2-6 2-5 8 6 0zM1050 241l1 10 5 5 4 0 1-5-3-6zM431 241l-3 0-6 6 0 9 5-1 4-5zM1118 236l-2 8 3 7 6 7 8 2 2-7-3-8-7-8zM364 236l-7 1-7 7-3 7 2 9 6-1 8-9 2-5z"/>
<path fill="#92ff47" d="M721 806l-2 4 2 10 12 7 10 1 11-3 8-8-1-10-14-10-15 1zM1255 721l5 4 12 0 6-3-5-4-14 0zM203 721l6 4 13 0 4-3-4-4-14 0zM1010 716l0 5 5 4 9 0 5-5 0-3-8-5-5 0zM453 716l1 7 4 2 8 0 6-6-7-7zM763 568l13 2 6-4 0-4-5-4-10-1zM699 563l1 4 5 3 13-1-1-10-3-2-9 1zM1385 560l4 4 11 3 13 0 12-5-3-7-11-3-16 1zM56 558l3 6 9 3 19-1 9-5-4-6-10-3-17 1zM1259 402l4 6 8 1-5-7zM222 401l-8 2-3 7 6-1zM1050 242l2 10 7 4 0-9-5-5zM431 242l-4 0-6 9 2 5 7-5zM1119 236l-3 6 4 10 6 6 7 1 1-8-3-7-7-7zM363 236l-7 2-5 5-4 9 1 7 6 0 8-8 3-7z"/>
<path fill="#9ffd3f" d="M719 810l1 8 13 9 18-1 7-4 4-6-2-10-14-9-16 2zM1256 722l6 3 9 0 7-4-7-3-10 0zM204 721l7 4 9 0 5-3-5-4-10 0zM1010 717l1 5 5 3 7 0 6-5-3-6-6-2-6 1zM454 715l-1 6 5 4 8 0 5-4 0-5-4-3-6-1zM765 558l-1 11 11 1 7-5-1-4-5-3zM700 562l0 4 6 4 12-2-2-10-7-1zM1386 559l2 4 13 4 16-1 8-5-2-5-14-4-17 2zM56 560l9 6 15 1 13-4 2-5-9-5-14-1-12 3zM1260 402l4 6 6 1-3-6zM221 402l-5 0-5 7 7-1zM1051 242l1 9 7 4-1-9zM430 242l-7 5-1 8 7-3zM1118 237l-1 8 8 12 7 2 2-7-4-9-5-5zM363 237l-8 2-6 8-2 7 2 5 6-1 6-6 4-10z"/>
<path fill="#acfb38" d="M719 811l2 8 5 5 8 3 17-1 8-5 3-5-2-10-15-9-9 0-9 4zM1257 720l2 4 4 1 14-3-7-4zM204 721l8 4 13-3-6-4zM1010 717l1 5 5 3 7 0 6-6-3-5-6-2-6 1zM471 716l-8-4-5 1-5 4 0 4 5 4 7 0 6-4zM765 558l-2 10 12 2 6-4-3-7zM717 559l-11-1-6 4 0 4 6 4 11-1zM1387 558l2 5 14 4 13-1 9-6-7-6-12-2-10 1zM57 558l3 6 11 3 14-1 10-5-4-6-13-3-15 2zM1261 402l3 6 6 0-4-5zM221 403l-6 0-3 6 5-1zM1051 243l1 8 6 4 0-8-2-3zM430 243l-6 3-1 9 7-5zM1119 237l-2 7 3 7 7 7 6 0 1-5-3-8-5-6zM362 237l-5 1-6 6-3 7 2 8 6-2 8-12z"/>
<path fill="#c1f334" d="M720 809l2 11 13 7 15-1 6-3 6-9-2-7-6-6-10-4-13 2zM1259 720l3 4 13-2-3-3zM206 721l4 3 13-2-3-3zM1010 718l7 7 8-1 3-3 0-4-5-4-8 0zM453 718l1 4 5 3 6 0 6-5-1-5-3-2-9 0zM763 567l5 3 9-1 4-4-1-4-5-3-9 0zM701 562l0 4 4 3 8 1 5-2-1-9-10-1zM1388 558l2 5 9 3 15 0 9-4-2-6-9-3-13 0zM58 558l2 5 8 3 15 0 11-6-1-3-10-4-14 0zM1263 403l4 5 1-2zM219 404l-3 0-2 4zM1052 244l1 7 5 2 0-5zM430 244l-6 3-1 6 6-3zM1120 238l-2 2 2 10 5 6 6 2 2-2-2-10-5-6zM362 238l-5 1-8 10 1 9 5-1 6-6 3-9z"/>
<path fill="#d4e735" d="M720 810l1 8 5 5 10 4 16-2 9-9-1-9-14-9-14 1-7 4zM1261 721l1 2 11-1-1-2zM208 721l2 2 11-1-1-2zM1011 716l0 5 7 4 6-1 4-4 0-3-6-4zM454 716l0 5 6 4 7-1 4-5-5-6-7 0zM763 567l8 3 9-4 0-4-12-4-3 1zM701 563l3 5 6 2 8-3-1-8-3-1-9 1zM1389 558l2 5 10 3 15-1 6-4-2-5-12-3-12 1zM59 559l2 4 10 3 14-1 8-5-3-4-10-3-13 1zM1053 245l0 4 4 3 0-4zM428 245l-4 4 1 3 4-4zM1120 239l0 10 6 7 5 1 1-7-3-6zM358 239l-6 6-3 7 2 5 7-3 4-6 1-7z"/>
<path fill="#e3db38" d="M720 811l1 6 5 6 12 4 13-2 10-9-3-11-13-7-9 0-9 4zM1011 717l1 5 3 2 9 0 4-4-1-4-5-3-6 0zM454 717l0 4 4 3 8 0 4-3 0-5-5-3-8 1zM764 561l-1 5 4 3 8 0 5-5-3-4-6-2zM702 562l0 4 4 3 12-2-2-8-6-1zM1390 558l1 4 7 3 16 0 7-4-1-4-8-3-14 0zM60 559l2 4 6 2 15 0 9-5-3-4-6-2-14 0zM1121 240l-2 4 3 7 8 5 1-7-2-4zM361 240l-3 0-6 6-1 10 3 0 6-6z"/>
<path fill="#f1cb3a" d="M721 809l2 11 11 6 19-2 8-10-2-7-5-5-10-4-13 2zM1011 718l5 6 7 0 4-3 0-4-7-4-7 2zM454 717l1 5 3 2 8 0 4-4 0-3-6-4zM764 561l-1 5 5 3 6 0 5-4-1-4-4-2zM702 563l6 6 10-3-3-7-8 0zM1391 558l1 4 8 3 11 0 9-4-1-4-9-3-14 1zM61 559l1 3 8 3 11 0 10-5-3-4-7-2-14 1zM1122 241l-2 2 1 5 8 7 1-7zM360 241l-8 6 0 8 8-6z"/>
<path fill="#faba39" d="M721 810l1 8 5 5 8 3 15-1 10-9-2-10-11-7-15 1zM1012 717l0 4 5 3 8-1 2-6-4-3-8 0zM454 718l5 6 6 0 5-4-4-6-8 0zM764 561l0 5 5 3 7-1 3-4-6-5zM703 562l0 4 6 3 9-3-1-5-4-2zM1392 558l1 4 11 3 10-1 5-3 0-3-7-3-14 0zM62 559l3 4 9 2 10-1 6-4-7-5-14 0zM1123 242l-2 2 1 5 6 5 2-2-1-4zM359 242l-5 3-1 9 5-3z"/>
<path fill="#fea933" d="M722 809l1 10 13 7 13-1 6-3 5-7-1-7-6-6-8-3-12 1zM1012 717l0 3 5 4 5 0 5-4-4-6-7 0zM455 717l0 4 5 3 9-3 0-5-3-2-7 0zM764 562l0 4 3 2 8 0 3-3-6-6zM703 564l4 4 7 0 4-3-1-4-5-2-6 1zM1393 558l0 3 7 3 11 0 7-3-2-4-6-2-10 0zM63 559l7 5 12 0 7-4-8-5-10 0zM1123 244l0 5 5 3-1-6zM359 244l-5 3-1 5 4-1z"/>
<path fill="#fe932a" d="M722 809l1 9 5 5 10 3 15-3 7-9-6-11-10-4-13 2zM1012 718l3 5 4 1 7-3 0-4-4-3-6 0zM455 717l1 5 5 2 8-4 0-3-4-3zM764 563l4 5 6 0 4-4-4-4-7 0zM704 563l3 5 10-2 0-4-3-2-7 0zM1394 559l2 3 7 2 10-1 4-3-2-3-9-2zM87 558l-11-3-11 3 0 3 14 3 7-2z"/>
<path fill="#fa7b1f" d="M722 810l1 8 11 7 16-1 9-8-2-10-14-7-15 4zM1013 717l0 4 3 2 7 0 3-3 0-3-5-3zM455 718l3 5 8 0 3-3-1-4-8-2zM764 564l5 4 8-3-4-5-5 0zM704 564l5 4 8-3-4-5-5 0zM1395 559l5 4 11 0 5-3-6-4-10 0zM66 559l4 4 16-2 0-3-5-2-9 0z"/>
<path fill="#f46617" d="M722 811l3 9 10 5 15-1 9-9-1-7-12-8-14 1zM1013 717l3 6 6 0 4-3-6-6zM468 717l-5-3-5 1-2 6 9 2 3-2zM765 563l2 4 4 1 6-4-5-4zM715 561l-8 0-2 4 5 3 6-3zM1396 559l7 4 11-2-1-3-7-2zM67 559l6 4 12-3-7-4z"/>
<path fill="#eb500e" d="M723 809l1 9 12 7 13-1 7-4 3-6-2-7-12-7-12 1zM1013 718l4 5 5 0 4-4-3-4-7 0zM456 717l0 3 4 3 8-3-2-5zM765 564l3 3 8-2-2-4-6 0zM705 564l3 3 8-2-2-4-6 0zM1398 559l3 3 12-2-4-3zM69 559l2 3 13-2-4-3z"/>
<path fill="#df3f08" d="M723 810l1 8 13 7 14-2 7-7 0-7-6-6-8-3-13 2zM1014 717l0 4 4 2 7-3-3-5zM456 718l5 5 7-3-3-5zM766 563l3 4 6-1-2-5zM706 563l3 4 6-2-2-4zM1399 560l7 2 5-3-10-1zM70 560l7 2 5-3-10-1z"/>
<path fill="#d02f05" d="M723 811l1 6 5 5 9 3 10-1 10-8-1-8-14-8-13 3zM1014 717l2 5 9-2-4-5zM457 717l2 5 6 0 3-3-4-4zM767 563l3 4 5-2-4-4zM706 564l4 3 5-2-4-4zM1402 559l1 2 6-1zM73 559l1 2 6-1z"/>
<path fill="#c12302" d="M724 809l1 9 9 6 16-1 8-8-2-8-10-6-14 1zM1014 718l3 4 7-1 0-4-4-2zM457 718l2 4 8-2 0-3-4-2zM767 563l2 3 5-1-1-3zM707 563l1 3 6-1-1-3z"/>
<path fill="#ac1701" d="M724 810l2 9 9 5 14-1 7-5 2-5-6-9-7-3-12 1zM1015 717l3 5 6-2-2-4zM457 719l7 3 3-4-8-2zM768 563l2 3 4-2-2-2zM708 563l1 3 5-2-2-2z"/>
<path fill="#950d01" d="M724 811l1 6 11 7 13-1 8-7-1-8-12-7-13 2zM1015 718l4 4 5-3-3-3zM458 718l3 4 5-2-2-4zM769 563l0 2 4-1z"/>
<path fill="#810602" d="M725 809l1 9 11 6 11-1 9-8-2-8-12-6-9 1zM1016 717l1 4 6-1-3-4zM458 718l2 3 6-2-3-3z"/>
</g></g>
<path fill="#30123b" d="M1381.3 941.6 1385.1 947.9 1388.8 954.3 1392.5 960.7 1396.1 967.1 1399.7 973.5 1403.3 979.8 1406.8 986.2 1410.2 992.6 1413.6 999 1417 1005.4 1420.3 1011.7 1423.5 1018.1 1426.7 1024.5 1429.9 1030.9 1433 1037.3 1436 1043.6 1439 1050 1442 1056.4 1444.9 1062.8 1447.7 1069.1 1450.5 1075.5 1453.3 1081.9 1456 1088.3 1458.6 1094.7 1461.2 1101 1463.7 1107.4 1466.2 1113.8 1468.6 1120.2 1471 1126.6 1473.3 1132.9 1475.5 1139.3 1477.7 1145.7 1479.9 1152.1 1482 1158.4 1484 1164.8 1485.9 1171.2 1487.8 1177.6 1489.7 1184 1491.5 1190.3 1493.2 1196.7 1494.8 1203.1 1496.4 1209.5 1497.9 1215.9 1499.4 1222.2 1500.8 1228.6 1502.1 1235 1503.3 1241.4 1504.5 1247.7 1505.6 1254.1 1506.6 1260.5 1507.6 1266.9 1508.4 1273.3 1509.2 1279.6 1509.9 1286 1510.5 1292.4 1511 1298.8 1511.4 1305.2 1511.7 1311.5 1511.8 1317.9 1511.8 1317.9 1511.9 1311.5 1512.2 1305.2 1512.6 1298.8 1513.1 1292.4 1513.7 1286 1514.4 1279.6 1515.2 1273.3 1516 1266.9 1517 1260.5 1518 1254.1 1519.1 1247.7 1520.3 1241.4 1521.5 1235 1522.8 1228.6 1524.2 1222.2 1525.7 1215.9 1527.2 1209.5 1528.8 1203.1 1530.4 1196.7 1532.1 1190.3 1533.9 1184 1535.8 1177.6 1537.7 1171.2 1539.6 1164.8 1541.6 1158.4 1543.7 1152.1 1545.9 1145.7 1548.1 1139.3 1550.3 1132.9 1552.6 1126.6 1555 1120.2 1557.4 1113.8 1559.9 1107.4 1562.4 1101 1565 1094.7 1567.6 1088.3 1570.3 1081.9 1573.1 1075.5 1575.9 1069.1 1578.7 1062.8 1581.6 1056.4 1584.6 1050 1587.6 1043.6 1590.6 1037.3 1593.7 1030.9 1596.9 1024.5 1600.1 1018.1 1603.3 1011.7 1606.6 1005.4 1610 999 1613.4 992.6 1616.8 986.2 1620.3 979.8 1623.9 973.5 1627.5 967.1 1631.1 960.7 1634.8 954.3 1638.5 947.9 1642.3 941.6Z"/>
<rect x="1141.2" y="1365.8" width="741.2" height="20.5" fill="#37163f"/>
</g>
<rect x="1141.2" y="945.1" width="741.2" height="441.2" fill="none" stroke="#000" stroke-width="2.6"/>
<path d="M1141.2 1386.3h-14M1141.2 1298.1h-14M1141.2 1209.8h-14M1141.2 1121.6h-14M1141.2 1033.3h-14M1141.2 945.1h-14M1158.8 1386.3v14.5M1335.3 1386.3v14.5M1511.8 1386.3v14.5M1688.3 1386.3v14.5M1864.8 1386.3v14.5" stroke="#000" stroke-width="2.6"/>
<text x="1109.6" y="1399.6" font-size="35" text-anchor="end">0.0</text>
<text x="1109.6" y="1311.4" font-size="35" text-anchor="end">0.5</text>
<text x="1109.6" y="1223.1" font-size="35" text-anchor="end">1.0</text>
<text x="1109.6" y="1134.9" font-size="35" text-anchor="end">1.5</text>
<text x="1109.6" y="1046.6" font-size="35" text-anchor="end">2.0</text>
<text x="1109.6" y="958.4" font-size="35" text-anchor="end">2.5</text>
<text x="1158.8" y="1443.1" font-size="35" text-anchor="middle">−2</text>
<text x="1335.3" y="1443.1" font-size="35" text-anchor="middle">−1</text>
<text x="1511.8" y="1443.1" font-size="35" text-anchor="middle">0</text>
<text x="1688.3" y="1443.1" font-size="35" text-anchor="middle">1</text>
<text x="1864.8" y="1443.1" font-size="35" text-anchor="middle">2</text>
<text x="1513.3" y="1509.8" font-size="42" text-anchor="middle"><tspan font-style="italic" font-size="43.5">Q</tspan><tspan font-style="italic" font-size="31" dy="8">r</tspan><tspan dy="-8"> [</tspan><tspan dx="2">Å</tspan><tspan font-size="25" dy="-12" dx="1.5">-1</tspan><tspan dy="12" dx="4">]</tspan></text>
<text transform="translate(1033.9 1165.7) rotate(-90)" font-size="42" text-anchor="middle"><tspan font-style="italic" font-size="43.5">Q</tspan><tspan font-style="italic" font-size="31" dy="8">z</tspan><tspan dy="-8"> [</tspan><tspan dx="2">Å</tspan><tspan font-size="25" dy="-12" dx="1.5">-1</tspan><tspan dy="12" dx="4">]</tspan></text>
<text x="1062.5" y="901" font-size="44" font-weight="bold">d</text>
<defs><clipPath id="cpe"><rect x="150.9" y="1650.2" width="741.2" height="440.3"/></clipPath><filter id="ble" x="-2%" y="-2%" width="104%" height="104%"><feGaussianBlur in="SourceGraphic" stdDeviation="1.1" result="b"/><feTurbulence type="fractalNoise" baseFrequency="0.38" numOctaves="2" seed="101" result="n"/><feColorMatrix in="n" type="matrix" values="0.33 0.33 0.33 0 0 0.33 0.33 0.33 0 0 0.33 0.33 0.33 0 0 0 0 0 0 1" result="g"/><feComposite in="b" in2="g" operator="arithmetic" k1="0.95" k2="0.53" k3="0" k4="0"/></filter></defs>
<g clip-path="url(#cpe)">
<rect x="150.9" y="1650.2" width="741.2" height="440.3" fill="#30123b"/>
<g filter="url(#ble)"><g fill-rule="evenodd" transform="translate(150.9 1650.2) scale(0.5)">
<path fill="#33184a" d="M1031 233l3 9 17 13 20 6 10-1 4-4-3-9-19-14-16-5-10 0zM450 232l-6-4-23 4-10 5-13 12-1 8 6 4 7 0 18-5 20-15zM0 369l0 511 1482 0 0-511-126-19-30-7-30-17-54-44-37-26-56-29-19-5-16 3-8 10 0 9 17 20 2 7-4 3-12 1-18 6-19 20-6 2-22-1-17-8-13-3-15 1-20 6-131-4-38 98-36 116-21 93-12 99-11-90-21-96-30-100-46-121-130 5-20-6-15-1-11 2-24 10-21-1-20-20-8-4-27-6 0-6 16-17 3-12-9-12-15-3-32 10-42 23-40 28-47 39-33 20-26 7zM1264 100l-9 4-8 8-4 9-1 13 5 14 6 7 10 5 11 0 11-6 6-8 3-8 0-15-5-12-7-7-10-4zM209 100l-11 5-8 10-3 9 0 12 4 11 8 9 8 4 12 0 15-11 5-13 0-12-4-11-7-8-7-4zM1114 99l-12 8-6 15-1 14 3 14 6 10 8 5 8 0 8-6 5-9 3-23-7-20-8-7zM364 99l-8 4-7 10-3 10 0 18 6 16 10 8 8 0 9-7 4-7 3-11 0-15-6-17-7-7zM1470 87l-9 7-5 9-2 26 6 15 6 6 10 3 6-2 0-63zM0 88l0 63 8 2 6-2 8-8 5-13 1-15-7-20-10-8z"/>
<path fill="#351e58" d="M1036 234l2 8 14 11 17 5 10-3-2-9-15-11-13-4-8 0zM445 234l-4-3-19 3-11 6-8 8-1 6 7 4 18-4 15-10zM0 400l0 480 1482 0 0-480-103-16-29-9-39-26-38-34-58-42-35-20-33-11-15-12-7-1-9 3-4 5 1 8 8 6 13 2 13 18 33 35 5 9-2 5-11-2-23-10-19-18-12-6-12 2-8 7-7 22-8 7-43-3-11-18-15-6-20 4-13 15-6 2-134-5-31 81-36 116-21 93-12 99-11-90-21-96-30-100-39-104-134 6-4-1-13-15-13-5-9 0-12 4-7 7-4 11-5 3-40 2-8-6-7-22-11-9-10-1-9 4-20 19-22 10-14 3-2-4 4-8 36-39 8-13 4-3 12-2 9-7 0-8-4-4-10-3-12 4-10 10-25 7-37 20-61 44-17 17-36 28-30 18-25 7zM1263 104l-8 4-6 7-4 18 5 14 6 6 15 4 10-4 7-8 3-8 0-14-8-14-9-5zM208 104l-13 9-5 12 0 10 8 16 8 5 10 1 8-3 8-8 4-10 0-11-3-9-8-9-6-3zM1115 103l-6 2-8 10-3 10 0 14 7 17 7 5 7 0 8-6 4-8 2-22-5-14-6-6zM366 103l-11 6-7 19 3 21 12 12 6 0 9-7 6-21-4-19-5-7zM1471 91l-8 6-4 7-3 19 6 18 9 7 8 0 3-2 0-53zM3 91l-3 2 0 54 11 1 7-5 5-9 2-21-5-14-10-8z"/>
<path fill="#38276d" d="M996 301l-6 10 2 6 10 8 11 1 6-2 10-9 0-9-11-8-10-1zM457 301l-5 6 0 7 4 6 9 5 14 0 11-9 0-10-8-7-13-2zM0 428l0 452 1482 0 0-452-85-13-24-10-23-16-63-52-18-21-15-7-45-32-30-14-13-1-3 3 0 5 45 60 3 7-2 3-15-4-47-21-20-20-7-4-8 0-7 5-10 33-5 5-9 3-244-16-27 71-36 116-21 93-12 99-11-90-21-96-26-88-38-104-175 9-70 6-9-3-6-7-8-30-5-5-11-1-9 6-16 17-44 20-19 6-2-5 5-9 42-55-1-8-11-1-32 14-45 32-18 9-19 22-82 65-30 12zM1040 234l1 9 7 6 18 7 10-2-1-7-12-10-12-4zM443 237l-4-4-16 2-11 6-7 8 0 4 5 3 16-3 9-5zM1115 237l1 8 7 4 10-1 5-5 0-5-8-6-8 0zM344 237l1 9 6 3 10-1 6-6-1-6-6-4-9 0zM1263 106l-13 11-3 17 7 15 8 5 9 1 8-3 6-6 4-8 1-10-4-12-6-7-6-3zM1112 106l-10 11-3 18 6 18 4 4 8 2 5-2 6-7 4-21-5-16-8-7zM363 106l-8 6-3 6-2 22 7 15 10 4 5-2 8-11 2-20-6-15-7-5zM208 106l-12 9-4 9 0 12 9 15 15 4 9-4 6-7 3-8 0-12-6-12-5-4zM1473 93l-5 2-8 11-2 20 5 13 9 7 6 0 4-2 0-48zM4 93l-4 2 0 49 10 2 9-8 5-19-3-14-5-8z"/>
<path fill="#3a2d79" d="M994 307l1 8 11 6 12-1 9-9-1-5-11-7-13 1zM455 307l2 9 10 5 12-1 9-9-1-5-11-7-13 1zM0 467l0 413 1482 0 0-413-50-6-17-8-24-18-104-92-19-25-21-8-23-17-26-12-9 2 1 8 42 59 2 7-3 3-13-4-45-24-29-9-13-17-11-9-6 0-6 5-3 7-2 19-5 11-8 8-9 3-129-8-118-12-24 62-36 116-21 93-12 99-11-90-21-96-26-88-35-96-118 12-130 8-9-3-8-9-4-8-3-22-4-8-4-3-7 0-9 7-16 20-30 9-47 25-9 2-2-6 3-7 40-55 1-10-8-1-30 14-18 14-24 10-9 15-108 97-27 21-19 9zM1041 237l2 6 13 9 6 2 10 0 2-2-2-7-14-9-13-2zM440 236l-9-2-17 7-7 10 3 3 13-1 10-5 6-6zM1117 237l-1 3 4 6 10 1 5-4 0-5-4-4-7-1zM349 235l-3 4 3 7 10 1 6-5 0-4-5-4zM1112 108l-10 12-2 14 6 18 7 5 5 0 10-10 3-17-5-16-7-6zM362 108l-6 5-4 8-1 18 7 15 10 3 10-9 3-21-6-15-6-4zM1265 107l-13 9-4 16 8 17 8 4 9 0 5-2 8-9 2-18-8-13-8-4zM210 107l-10 5-5 7-2 16 9 15 6 3 10 0 12-10 3-8 0-10-7-13-6-4zM1472 95l-8 6-3 6-2 18 5 13 7 6 7 0 4-2 0-44-4-3zM4 95l-4 2 0 45 10 2 6-4 5-9 1-19-4-10-6-6z"/>
<path fill="#3c3286" d="M996 308l1 5 10 6 10-1 7-6-1-7-11-5-8 1zM457 308l1 5 10 6 10-1 7-6 0-5-5-5-7-2-8 1zM0 618l0 262 1482 0 0-261-16-38-14-46-9-15-15-16-18-30-20-27-57-59-57-50-5-15-8-6-21-4-14-10-12-4-5 2 0 7 38 54 3 8-3 5-11-1-43-26-25-10-14 2 1 23-3 3-7-1-11-15-4-30-4-9-7-7-6 0-4 4-5 28-11 19-10 7-104-6-96-14-54-5-39 109-28 102-15 77-8 75-10-84-15-74-33-116-32-88-30 1-120 17-104 6-5-2-10-11-8-17-3-22-5-6-5 0-7 6-6 15-3 26-5 9-8 6-4 0-4-4 2-21-4-3-11 0-21 8-47 28-10 1-3-2 3-12 34-46 4-13-5-3-5 1-22 13-24 6-5 5-6 16-62 54-29 29-32 37-27 43-21 25-9 22-6 24zM1118 239l1 4 5 3 9-3 0-5-4-3-7 0zM1043 238l1 4 12 9 6 2 10-2-1-5-13-9-9-2zM438 237l-6-2-11 3-10 7-2 6 3 2 11-1 11-6 4-5zM348 239l0 3 6 4 9-4 0-4-4-3-7 0zM1113 109l-6 4-4 7-2 15 5 15 10 6 5-2 6-7 3-18-6-16-6-4zM368 109l-7 1-5 5-4 10 2 21 6 8 5 2 9-4 6-14-2-19zM1266 108l-11 6-5 9-1 9 3 10 6 7 6 3 8 0 12-9 3-7 0-12-9-13zM211 108l-8 3-5 5-4 10 2 15 8 9 13 2 12-9 3-17-4-10-5-5zM1474 96l-5 2-7 9-2 18 6 14 11 4 5-3 0-41zM5 96l-5 3 0 42 9 2 8-6 3-6 1-19-5-11z"/>
<path fill="#3f3b97" d="M0 644l0 236 1482 0 0-234-22-59-10-43-8-15-19-19-24-40-24-32-49-51-52-43-5-21-10-6-15 0-10 6 2 10 15 18 13 23-1 6-8 2-16-1-42-26-19-7-6 1-3 4 5 26-6 4-19-3-10-10-7-13-7-20-2-19-3-4-4 3-3 17-15 29-8 9-6 3-71-4-109-19-76-8-36 102-28 102-15 77-8 75-10-84-15-74-26-94-37-104-76 8-100 18-79 5-5-2-12-14-13-26-3-17-4-2-9 37-7 15-11 13-11 4-14-2-2-8 5-21-9-4-13 4-48 29-15 1-7-1-3-6 15-26 11-12 4-8 0-7-10-5-14 0-11 7-4 19-59 50-40 42-24 31-25 42-22 23-6 11-10 43zM998 309l2 5 6 3 9 0 7-6 0-4-7-5-10 0zM459 308l2 6 6 3 9 0 7-6-1-5-6-4-10 0zM1045 238l1 5 6 5 10 4 8-1 0-4-6-6-9-4zM436 238l-13 0-7 4-5 8 2 2 13-2 10-8zM1120 239l3 5 6 0 3-3-4-5-5 0zM350 239l2 5 7 0 3-4-4-4-5 0zM1114 110l-10 10-2 17 5 13 5 4 7 0 8-9 2-18-4-11-5-5zM364 110l-7 5-5 19 4 14 7 6 6 0 9-11 1-18-5-11zM1266 109l-12 8-4 16 8 15 6 3 8 0 11-8 3-6 0-13-8-12zM211 109l-9 4-7 12 0 10 8 13 6 3 8 0 12-10 2-16-7-12zM1471 98l-9 11-1 17 4 10 11 6 6-3 0-39zM3 98l-3 2 0 39 8 3 9-7 4-18-4-13-7-6z"/>
<path fill="#4040a2" d="M0 663l0 217 1482 0 0-215-25-72-10-48-6-11-21-19-33-54-28-35-52-50-25-18-11-5-5 0 0 7 11 24-2 4-14-3-20 2-42-24-14-2-1 7 8 21 0 6-4 4-17 0-21-5-9-9-16-33-8-8-8 8-17 31-6 5-8 2-51-5-75-17-52-9-76-4-32 91-28 102-15 77-8 75-10-84-15-74-26-94-33-93-75 4-62 11-60 14-56 6-10-3-7-7-14-27-9-9-7 7-13 28-11 14-15 5-24 1-4-3-1-5 9-27-2-3-18 4-38 22-20-2-14 3-1-6 11-25-1-4-5 0-14 7-24 18-46 44-33 41-31 51-23 22-7 16-9 46zM1245 320l-5 7 3 9 11 8 9 1 7-11-2-10-12-6zM239 322l-9-4-13 3-5 6 0 9 4 7 9 2 8-4 8-10zM1000 309l3 5 5 2 8-1 4-4 0-4-6-4-8 0zM461 308l1 4 7 4 7-1 5-4-1-5-5-3-8 0zM1047 239l0 3 11 8 9 1 2-2-5-7-8-4zM435 239l-12 0-9 6-1 5 13-1 8-6zM1122 239l2 4 6-2-3-4zM352 239l2 4 6-2-3-4zM1114 111l-7 5-3 6-1 17 6 12 10 2 8-10 1-18-4-9zM365 111l-6 3-4 6-2 17 4 11 6 5 6 0 8-9 2-15-4-12-5-5zM1265 110l-11 8-3 17 6 11 7 4 9 0 11-10 2-13-8-14zM210 110l-11 8-3 6 0 12 7 11 6 3 8 0 10-7 3-7 0-12-6-10-8-4zM1471 99l-8 10-2 13 5 14 10 5 6-3 0-36-4-3zM3 99l-3 2 0 37 7 3 5-2 7-10 1-15-8-14z"/>
<path fill="#4146ac" d="M0 680l0 200 1482 0 0-198-27-81-9-52-6-11-24-21-32-53-25-32-42-41-17-12-10-4-4 2 3 13 8 21 28 52-2 2-28-28-2-6 1-20-8-10-14-10-17-3-12 5-29-15-11-2-2 7 10 26 0 7-4 4-47-5-14-9-20-42-9-9-9 9-16 33-5 6-9 4-25-4-91-25-57-8-29 2-6 4-3 11-8 5-50 3-24 74-21 79-15 77-8 75-8-71-14-74-22-84-25-76-50-3-9-7-1-8-4-4-14-3-18 0-52 7-100 27-21 3-6-2-7-7-19-38-7-5-8 8-20 42-7 7-7 3-37 5-12-1-3-8 10-27 0-7-2-1-11 2-29 15-11-5-9 0-12 5-19 19 1 21-2 4-27 28-2-5 28-50 7-19 3-15-4-1-13 6-16 12-36 35-25 31-37 60-24 21-7 17-7 45zM1244 325l0 7 7 7 10 1 7-7-1-8-7-5-10 0zM219 321l-6 8 5 10 10 1 9-7 1-6-3-5-4-2zM1002 309l5 5 7 0 4-3-1-5-4-2-8 1zM463 308l4 6 8 0 4-3 0-3-5-4-8 1zM1048 240l7 8 12 1-1-4-7-5zM433 240l-8-1-11 9 2 2 8-1zM1114 112l-9 9-2 14 4 12 5 5 7 0 8-11 1-12-4-12zM364 112l-9 10-1 17 7 12 8 1 8-10 1-15-4-10-4-4zM1265 111l-10 7-3 7 0 11 9 12 12 1 9-7 3-7 0-9-7-12zM209 111l-7 4-4 6-1 16 7 10 14 2 8-6 4-16-6-12-7-4zM1471 100l-7 8-2 17 5 11 9 4 6-4 0-33-4-3zM3 100l-3 2 0 35 8 3 10-10 1-17-7-12z"/>
<path fill="#434eba" d="M783 476l-10 36 86 14 7-1 4-4 3-16-8-7-46-17zM698 475l-46 9-37 15-7 7 4 16 11 4 85-14zM0 697l0 183 16 0 7-97 7-45 13-58 14-45 29-72 22-42 7-9 5 0 8 10 0 8-34 65-14 32-20 55-15 55-13 79-2 64 1422 0-3-68-13-77-14-51-21-58-15-34-33-63 2-10 7-7 4 0 7 8 21 40 35 88 13 46 13 65 8 69 2 52 17 0 0-180-14-50-15-42-6-48-8-19-25-19-44-70-14-17-33-31-14-7-4 2 5 17 26 46 0 5-4 4-11 3-10-7-24-30-2-5 5-12-1-7-4-8-9-9-9-5-10-1-13 10-16-7-9-1-1 7 16 34 20 29-1 5-11 13-4 11 0 14 4 12 9 11 19 8 11-1 11-6 8-1 10 13 16 32 13 37 0 8-7 2-11-5-19-23-10-4-10 0-10 4-7 8-7 16-6 1-58-79-37-45-6-19-4-45-17-47-11-17-4 0-6 7-21 50-6 5-50-20-45-14-37-6-16 1-4 3 4 11 14 14 45 25 40 26 33 26 15 19 5 32 5 116-5 40-4 9-7 6-20 1-7-2-54-70-34-32-41-29-41-21-38-14-32-8-34-5-7 1-7 30-14 80-5 54-8-71-19-94-50 7-29 8-34 13-30 15-42 28-32 28-26 29-26 38-12 13-7 2-19-1-7-5-4-8-5-32 1-73 4-62 4-22 11-16 36-29 28-19 57-32 13-12 7-13-11-5-38 4-48 14-49 21-7 1-5-4-17-42-11-16-7 3-8 15-17 47-4 47-5 15-36 44-53 74-9 8-5-4-10-20-13-6-18 3-7 6-9 14-11 7-10 2-2-8 12-36 18-36 8-11 7-1 18 8 12-1 12-6 9-10 5-12 0-18-3-8-11-13-1-7 21-31 15-35-2-3-5 0-20 8-10-9-9-1-14 7-12 17 0 9 4 7-1 6-23 29-11 9-13-4-3-7 26-46 5-19-4-1-9 4-19 15-40 46-39 63-18 11-6 7-7 19-5 44zM1150 593l3 0 7 7 7 11 13 28 6 23-3 14-7 6-14 6-9-3-7-26-1-50zM331 593l4 7 2 20-2 42-6 22-5 4-5 0-20-11-3-6 0-13 5-18 14-30 13-17zM1246 326l1 7 9 5 6-1 5-7-1-4-7-5-7 0zM216 325l-1 7 7 6 7-1 6-5-1-8-5-3-7 0zM1005 308l0 3 4 2 7-3-2-4zM465 309l5 4 7-3-2-4-7 0zM1050 241l7 7 8 0-6-7zM431 240l-12 3-3 5 5 1 7-3zM1114 113l-6 4-3 6-1 15 3 8 5 5 7 0 7-9 1-16-4-9zM364 113l-8 8-2 15 4 11 5 4 6 0 7-8 2-12-4-13-4-4zM1264 112l-9 7-3 14 6 12 13 4 11-8 2-17-7-10zM208 112l-9 8-2 15 7 11 11 3 11-7 3-7 0-10-9-12zM1474 100l-10 10-1 16 4 9 9 4 6-4 0-31zM6 100l-6 3 0 33 8 3 7-5 3-6 1-12-4-11z"/>
<path fill="#4454c3" d="M766 540l-5 23 41 5 45 12 38 16 43 26 23 18 26 25 21 25 31 44 7 7 5-1 0-9-4-12-23-41-21-26-27-27-26-21-38-24-44-20-44-13zM715 540l-43 6-46 13-41 18-45 28-48 43-26 32-22 40-4 13 1 8 2 1 7-5 49-66 28-28 25-20 33-21 44-20 50-14 41-5zM774 508l75 12 16-1 4-7-5-9-13-7-30-11-29-6-10 1zM699 479l-10 0-32 7-31 12-13 10 0 6 6 6 13 0 75-11zM1258 392l-6 7 0 10-2 2-14-1 4 15 24 37-18 24-2 6 1 16 10 15 13 6 16-2 14-9 7 1 20 31 24 49 23 63 16 67 8 63 4 88 45 0-3-68-11-70-17-64-27-71-39-77 2-9 15-18 4 1 7 9 22 41 16 45 23 51 17 62 9 45 9 73 2 50 8 0 0-157-15-59-18-54-2-39-5-21-7-10-18-8-7-7-38-62-17-21-19-17-10-3 0 6 17 32 1 9-19 8-11 0-37-44 0-4 9-7-1-13-15-15zM223 392l-15 4-11 12-2 13 10 11-36 44-8 2-17-5-7-5 1-7 18-35-1-4-8 2-25 23-12 15-40 65-7 6-15 6-9 12-4 15-3 45-17 51-15 58 0 160 7 0 3-57 7-57 9-48 15-57 10-29 20-42 11-33 21-40 11-14 3 0 16 21 0 7-35 68-28 71-19 69-12 77-2 64 45 0 3-82 8-67 14-61 20-58 24-52 17-30 10-12 5 0 17 10 13 1 12-5 7-7 5-11 1-8-3-13-16-18-1-7 20-29 8-19-1-2-13 1-3-4 0-9zM105 880l1272 0-2-36-10 4-17 0-10-6-13-42-12-27-6-47-4-98-6-21-9-7-11 4-7 16-4 39-4 6-8-6-41-69-60-80-10-43-5-50-10-30-9-13-4 0-9 13-15 51-7 8-9-2-20-14-23-11-24-7-18 0 5 9 38 25 44 36 6 10 8 31 9 101 0 72-9 90-8 23-6 4-71-17-28-3-44 0-33 4-31 7-42 16-16-18-23-17-5-13-8-49-9-31-10-19-12-10-4 37-4-37-11 8-9 15-11 34-8 49-5 15-20 15-19 21-50-18-57-9-64 2-34 6-41 12-6-1-6-7-6-21-9-98 0-54 9-107 7-29 5-11 29-26 54-37 7-9-13-2-27 7-22 10-22 15-11 3-7-9-15-51-7-11-6-1-9 14-11 35-4 47-9 39-53 70-51 83-5 3-4-4-4-38-6-17-8-6-5 0-9 8-6 25-3 85-6 53-13 30-11 39-6 6-6 2-17 0-10-4zM1147 565l6 1 12 14 32 56 20 52 11 46 5 44-2 41-9 26-7 7-11 4-32 1-6-4-8-46-13-27-4-14-6-77 0-70 6-46zM335 565l5 7 3 12 4 48-1 65-6 71-16 37-8 47-7 5-32-1-9-3-8-7-8-19-3-20 0-39 4-32 13-53 18-46 33-58 10-12zM1249 325l-1 5 4 5 7 1 6-5 0-4-4-4-7-1zM223 322l-6 4-1 4 4 5 6 1 7-5 0-5-3-3zM1008 308l2 3 3-1zM468 309l2 2 4-2zM1052 242l5 5 6 0-4-5zM429 241l-8 2-3 4 8-1zM1113 114l-7 8-2 13 3 10 9 6 8-6 3-16-4-11-5-4zM364 114l-8 9-1 16 3 7 9 5 8-7 2-17-3-8-4-4zM1266 112l-11 8-2 15 6 10 13 3 9-7 3-14-3-8-5-5zM211 112l-10 6-3 6 0 12 7 10 12 2 9-7 3-12-7-14zM1473 101l-9 10-1 13 4 10 10 4 5-4 0-29zM5 101l-5 3 0 31 9 3 8-9 1-15-3-8z"/>
<path fill="#4559cb" d="M532 867l0 13 418 0-1-14-6-7-16-7-17-3-43 2-98 23-8-2-1-3 7-18 7-37 1-61-4-30-8-28-7-14-12-10-3 29-3-29-11 8-7 12-9 29-4 26 0 64 4 27 10 31-2 5-7 1-81-20-33-5-27 0-17 3-17 8zM1288 609l-6 1-6 9-5 61-4 12-4 3-8-7-32-55-12-14-3 0 22 69 14 60 5 34 0 40 7 58 43 0 2-12 11-21 4-15-1-26-11-30-2-12-5-139-4-11zM194 609l-7 7-3 11-5 141-13 39-1 22 3 14 12 24 2 13 44 0 0-17 6-35 0-42 5-36 13-57 22-66 1-9-6 4-10 13-30 52-9 8-5-6-3-12-4-56-3-7zM765 544l-3 17 33 3 39 9 43 16 37 20 44 33 27 27 31 39 9 9 3-1-1-7-10-21-29-37-31-30-35-26-44-24-43-16-45-10zM716 543l-31 3-45 11-43 17-36 20-40 30-32 32-24 31-11 23 0 7 7-4 31-39 27-28 50-38 40-21 35-13 37-9 39-4zM775 505l4 3 64 9 17 0 5-6-9-10-20-9-29-9-25-3zM707 507l-7-25-6-2-24 4-32 11-17 9-4 5 0 4 4 4 17 0zM1260 433l-1 4 12 20 0 7-21 20-3 8 1 16 8 12 12 6 13-1 18-13 6-1 14 17 14 23 32 69 15 43 13 48 14 80 5 57 0 32 27 0 0-35-5-55-18-87-30-85-42-83-1-6 14-21 9-20 9 6 18 31 12 28 10 39 8 16 16 22 11 29 14 52 16 80-1-23-8-49-26-92 0-59-5-18-7-8-23-5-7-6-13-24-29-39-4 7-20 0-25 7-38-41zM221 433l-17 11-35 38-25-7-20 0-2-7-3 1-27 37-12 23-11 9-14 1-7 3-8 11-4 18 1 52-27 98-8 50 0 19 14-73 17-63 10-25 16-22 7-14 18-60 19-34 10-11 4 1 8 20 13 18-1 9-25 46-22 49-26 77-17 85-4 41-1 46 27 0 4-77 14-86 22-77 32-75 16-29 19-25 5 0 17 13 15 2 11-5 9-12 2-8-2-13-3-6-20-19 0-5 12-20zM1257 395l-2 8 5 11 10 8 11 0 3-3 0-8-4-7-11-9zM223 394l-8 0-6 3-9 9-3 7 3 9 11 0 11-9 4-8 0-7zM1116 382l-6 6-7 17-8 39-9 23 2 36 8 30 11 124-4 104-7 70 5 15 7 7 19 6 11-4 5-5 8-20-2-26-16-34-5-95 1-48 5-46 5-22 11-21-2-40-8-30-6-53-11-29zM366 382l-5 1-3 4-12 34-4 44-8 28-3 39 2 11 10 18 5 24 5 52 0 53-4 77-2 9-15 29-2 23 3 12 7 12 14 7 14-3 8-5 5-6 4-11 0-22-5-31-4-62-1-81 10-102 7-26 3-24 0-21-8-19-8-39-7-18zM1253 324l-3 3 1 5 9 2 3-7-3-3zM218 328l0 3 4 3 9-3-2-7-8 0zM421 246l6-3-4 0zM1113 115l-7 8-1 15 5 10 7 2 7-6 2-18-6-10zM363 115l-7 9-1 12 3 9 4 4 6 1 7-8 2-11-3-11-5-5zM1265 113l-9 7-3 12 4 10 12 6 8-3 4-5 2-15-7-10zM217 113l-12 2-7 11 3 15 5 5 7 2 7-2 8-12-3-15zM1473 102l-8 8-1 16 6 10 8 1 4-4 0-27-5-4zM4 102l-4 3 0 29 9 3 7-7 2-14-4-10-5-4z"/>
<path fill="#4661d6" d="M737 675l-13 13-11 31-5 34 0 51 6 38 12 30-1 7 30 1 0-7 11-26 6-30 2-22-1-47-5-31-8-24-5-9-12-9-2 25zM1390 659l23 116 7 68 1 37 11 0-2-65-7-50-14-58zM92 659l-6 10-13 36-15 62-8 67 0 46 10 0 3-57 7-59zM1286 618l-4 2-3 7-5 74-14 40-1 38-5 36 3 27 12 38 18 0 4-11 15-19 7-22-1-20-14-40-5-138-3-9zM195 618l-5 6-2 10-4 129-2 12-13 35 0 22 7 19 15 19 4 10 18 0 2-13 11-33 1-26-5-35-1-34-11-27-4-20-3-62-3-9zM765 545l-3 14 27 2 46 10 41 15 33 17 51 37 21 20 31 36 3-1-10-18-22-27-35-33-37-26-41-21-36-13-38-9zM716 545l-36 4-36 9-35 13-37 19-31 21-38 34-28 34-8 13 0 4 6-3 19-24 26-26 48-36 35-19 42-16 37-9 39-4zM1422 543l-5 2-5 8 1 22 11 27 6 6 6 1 4-5 3-12-1-32-9-15zM60 543l-13 3-8 16-1 27 3 14 4 6 5 0 6-5 12-27 2-21-2-7zM775 505l65 10 17 0 4-4-3-6-18-10-22-8-36-6zM700 482l-5-1-28 5-23 8-18 9-5 5 0 4 4 3 17 0 64-9zM1249 492l2 18 12 12 6 2 14-2 19-18 4-1 11 16 13 11 6-1 15-15 7-13-1-15-9-8-17 0-22 11-23-23-7 0-19 10zM233 496l-8-17-23-13-6 0-7 4-16 19-20-10-16-2-7 3-7 10 0 9 4 10 20 21 12-5 16-22 3 0 13 14 10 6 15 0 6-3 8-9zM1260 396l-3 5 4 10 12 9 8-1 1-8-3-6-11-9zM222 396l-8 0-11 8-4 8 0 5 3 3 9-1 10-9 3-6zM1116 390l-5 5-8 21-12 57-2 25 10 38 15 120-5 108-9 61 2 12 8 12 10 5 10 0 12-9 4-8 2-24-3-11-18-31-5-66-1-53 10-75 14-58 1-26-9-28-2-29-6-28-7-15zM366 390l-5 1-10 22-4 19-2 29-10 35 1 20 14 59 10 71 0 48-5 74-3 10-16 25-3 13 3 22 5 9 10 7 11 0 8-4 6-6 5-14 0-17-9-55-4-63 0-48 14-108 10-37-1-25-11-54-6-21zM1252 327l2 5 7-1-2-6zM220 327l2 5 7-2-2-5zM1115 115l-7 5-3 15 4 11 9 3 7-9 1-11-3-9zM365 115l-8 8-1 16 7 10 5 0 7-8 1-14-2-6zM1267 113l-10 6-3 7 0 9 7 10 10 2 9-6 3-14-5-10zM212 113l-11 7-2 16 8 10 9 1 7-4 5-14-3-9-5-5zM1472 103l-6 6-2 15 6 11 8 1 4-3 0-26-4-4zM4 103l-4 3 0 27 3 3 7 0 7-10 0-12-6-10z"/>
<path fill="#4666dd" d="M1117 772l-12 30-2 27 8 17 9 5 10 0 11-9 3-6 2-23-8-19zM364 772l-22 24-7 20 3 21 3 6 10 8 11 0 6-3 7-8 3-9-1-26-6-20zM736 678l-13 15-10 31-5 47 1 33 8 44 8 19 6 8 0 4 19 1 1-6 11-19 7-26 4-34 0-34-4-34-8-28-7-13-11-8-2 22-2-21zM1286 653l-17 114-11 40 2 33 7 15 10 9 8 0 6-3 11-10 5-9 4-18-2-19-12-27-3-13zM196 653l-9 115-14 35-2 27 3 11 7 12 15 11 8 0 9-7 7-13 4-18 0-15-11-41-12-70zM717 547l-46 6-51 16-52 27-33 27 42-26 44-20 48-14 50-6zM1426 546l-5 2-4 6-1 21 8 21 4 4 6 1 7-12 1-21-6-17zM762 557l55 7 56 18 35 17 39 24-14-13-26-18-48-24-53-16-41-6zM55 546l-5 1-6 6-4 12 0 22 2 8 5 6 5 0 6-6 8-23-1-17-5-7zM775 505l69 9 10-1 3-3-5-7-15-8-26-9-23-4-7 1zM706 503l-6-21-33 5-20 7-18 9-4 4 0 4 7 3 70-8zM1344 479l-17 2-14 12-1 9 4 10 8 9 7 3 12-4 8-8 5-10-2-16zM134 480l-8 9 0 15 6 10 8 7 7 3 7-1 11-10 4-9 0-9-8-10-9-5zM1283 471l-7 0-13 5-8 7-4 8-1 10 4 11 7 7 7 3 10 0 7-3 10-10 5-10 1-6-4-11-6-7zM195 472l-12 12-2 6 1 11 6 10 10 9 6 2 15-2 11-13 0-17-10-13-15-6zM1115 398l-9 18-16 79 2 15 9 25 8 57 4 15 5 6 5-11 9-45 12-43 1-21-10-29-6-46-7-17zM362 398l-6 9-5 17-4 37-8 21-3 23 25 105 4 3 7-19 9-61 9-25 1-19-17-78-4-9-4-4zM1262 397l-3 4 3 8 9 8 8 0 1-7-9-11zM221 398l-6-1-6 3-7 8 0 9 5 1 7-3 8-11zM1256 327l-1 2 3 1 1-2zM226 328l-2-1-1 3zM1114 116l-7 7-1 15 5 9 7 1 7-10 0-12-6-9zM364 116l-7 8-1 13 7 11 6 0 6-8 1-10-4-11zM1265 114l-8 6-3 12 3 8 5 5 11 1 8-8 1-13-6-9zM210 114l-9 7-2 13 6 10 12 2 7-5 3-15-5-9zM1475 103l-5 2-5 8 1 16 7 7 9-4 0-24zM6 103l-6 4 0 25 8 4 7-6 2-14-3-8z"/>
<path fill="#466be3" d="M1117 785l-10 18-2 25 4 12 7 7 13 2 7-4 6-9 3-14-1-10-7-16-11-10zM364 785l-6 0-12 9-9 20 2 21 3 6 11 8 8 0 6-3 9-15-2-29-4-10zM1285 731l-2 0-3 7-7 36-9 20-4 16 0 19 3 12 6 11 11 7 9-1 11-8 9-23-1-18-17-40zM197 731l-7 39-14 30-4 21 2 14 6 13 8 8 14 3 12-9 4-8 4-27-3-16-12-30-5-29zM737 680l-12 12-9 23-6 35-1 42 4 36 6 23 9 18 6 6 9 2 12-10 11-28 6-40 0-42-5-35-7-23-6-11-11-8-2 20-2-20zM1425 550l-6 8-1 14 6 18 5 5 5 0 6-12 0-17-6-14zM56 550l-7 1-7 12-1 18 6 14 9-3 6-13 1-18-3-8zM763 553l2 2 30 2 38 7-47-13-22-2zM718 551l-1-2-27 3-41 12 38-7 29-2zM776 501l1 4 46 6 26 1 4-3-5-7-16-8-41-11-10 0zM706 503l-6-20-10 0-24 5-19 7-15 8-3 7 3 2 16 0 56-7zM1343 480l-9 0-10 4-9 12 3 15 12 10 13-3 8-8 4-9-3-15zM139 480l-11 8-1 15 10 14 8 4 6 0 13-11 2-15-9-11-9-4zM1283 474l-17 2-10 8-4 8 1 15 5 8 8 5 10 1 8-3 12-15 0-17-6-8zM196 475l-9 8-3 7 0 9 5 11 7 7 10 4 15-4 6-7 3-9-4-16-13-10zM1116 405l-4 4-5 13-7 39-7 20-2 18 2 12 10 25 8 47 4 9 3 1 6-11 10-44 8-21 2-25-11-29-7-46-5-10zM363 405l-4 4-5 13-5 38-10 25-2 21 9 27 12 51 3 7 4 2 8-20 7-43 9-22 1-19-9-30-6-35-5-14zM1263 399l-2 3 2 6 8 7 7 0-2-10-8-6zM219 399l-8 1-7 7-1 7 4 2 8-4 5-8zM1113 117l-5 5-2 14 3 8 8 4 7-8 1-12-4-9zM363 117l-5 6-2 10 4 12 7 3 7-7 1-14-5-9zM1268 114l-11 7-2 14 6 9 10 2 9-7 2-12-7-11zM212 114l-9 5-4 12 3 9 4 4 10 2 8-6 3-12-6-11zM1473 104l-7 8-1 12 6 10 6 1 5-4 0-22-3-4zM5 104l-5 4 0 24 9 3 7-9 0-12-4-8z"/>
<path fill="#4771e9" d="M1120 789l-5 3-6 11-2 27 8 14 6 3 8 0 9-7 3-6 2-20-6-15-8-8zM362 789l-11 3-6 6-7 18 3 20 6 8 6 3 12-2 7-8 3-11-3-24-4-8zM1282 766l-19 38-1 26 7 18 8 7 10 1 7-3 10-13 3-10 0-19-7-19-15-26zM197 766l-19 33-4 14 0 15 9 21 8 6 10 1 10-6 6-11 3-26-6-21-13-24zM739 681l-5 2-8 9-11 30-5 35 0 42 3 25 8 30 7 13 7 7 9 1 12-12 9-23 6-36 1-36-4-38-7-26-7-14-11-9-1 18-2 0zM1427 553l-6 9 0 13 4 11 4 4 4 0 5-8 1-12-4-13zM54 553l-7 3-4 10 0 14 5 10 7-2 6-17-1-11zM776 504l45 6 22 1 6-3-4-6-20-10-44-9zM706 503l-5-18-4-2-41 9-15 7-9 9 6 3zM1345 482l-11-1-6 2-9 8-2 5 1 11 8 10 5 2 9-1 11-10 3-14-3-7zM140 481l-11 8-1 14 10 13 13 3 11-9 2-15-9-11zM1282 476l-15 1-13 13-1 13 2 6 12 10 7 1 9-3 11-13 0-17-6-8zM199 476l-12 12 0 15 11 14 10 3 9-2 11-13-1-16-6-8-7-4zM1115 413l-7 15-6 33-9 24-1 17 2 10 11 25 6 33 7 10 5-8 9-35 10-23 2-17-4-17-9-19-6-38-4-8zM366 413l-4 0-4 6-4 13-4 31-12 29 1 20 11 27 8 32 6 9 5-6 8-39 12-30 0-17-9-25-7-36zM1264 401l1 7 6 5 5 0-1-7-6-5zM218 402l-5-1-5 3-3 8 7 0 5-5zM1115 117l-7 6-1 16 6 8 5 0 6-8 1-7-2-9zM366 117l-7 5-2 5 1 13 6 7 6-1 5-10-1-11zM1265 115l-7 5-3 13 7 11 10 1 9-9 0-11-7-9zM210 115l-8 6-2 13 7 10 10 1 5-3 4-7 0-9-6-9zM1472 105l-6 8 0 13 4 7 8 1 4-4 0-21-5-4zM4 105l-4 4 0 22 4 3 6 0 6-10 0-9-5-9z"/>
<path fill="#4778f0" d="M1120 792l-9 11-3 11 0 13 4 11 6 6 11 1 8-6 3-6 2-18-6-15-8-7zM356 792l-12 10-5 20 3 13 4 6 6 4 9 0 7-5 4-7 1-21-5-14-5-5zM1284 776l-12 12-9 25 0 14 3 12 9 12 7 3 8-1 8-6 8-18 0-17-5-15-9-14zM198 776l-7 5-9 13-7 21 1 17 4 10 8 9 7 3 8-1 7-5 8-19-2-27-10-19zM737 683l-11 11-8 19-7 38-1 39 4 36 7 26 9 16 12 6 11-8 11-25 6-32 1-50-5-36-7-22-7-12-8-6-2 1-1 16-2-17zM1428 557l-4 5-1 10 4 11 6 2 3-5 1-11-3-9zM53 557l-5 2-3 7 0 13 4 6 6-3 3-8 0-10zM776 501l3 3 40 5 26-1-4-7-13-7-38-10-9 0zM706 503l-5-18-9-1-34 8-19 10-3 5 2 2 25 0zM1334 482l-10 5-4 5-1 13 7 10 13 2 11-9 3-13-7-11zM137 483l-8 9 0 11 11 13 12 1 10-11 0-13-11-10zM1271 477l-10 5-5 6-2 15 9 13 15 2 12-9 4-16-3-8-11-8zM202 477l-11 7-3 6 0 12 9 13 6 3 11 0 11-9 3-10-1-7-11-13zM1116 420l-4 5-8 35-10 24-1 21 4 13 8 14 7 30 6 7 5-7 8-28 11-23 1-18-3-11-10-19-8-39zM365 420l-6 5-7 36-9 17-5 18 3 20 9 17 8 28 6 8 5-6 6-27 11-22 3-13-2-18-10-24-7-32zM1267 403l0 4 6 4 0-5zM215 403l-7 4 0 4 6-3zM1114 118l-6 7-1 12 4 8 7 1 6-9 0-10-5-8zM368 118l-6 1-5 10 1 10 8 8 6-4 2-5 0-12zM1268 115l-10 6-2 14 4 7 11 3 8-6 2-13-6-9zM212 115l-10 7-2 10 6 11 10 2 7-5 3-12-5-10zM1474 105l-7 7-1 13 5 8 5 1 6-5 0-19zM6 105l-6 4 0 21 8 4 5-4 3-12-3-9z"/>
<path fill="#467df4" d="M1123 794l-5 2-6 8-3 20 4 13 5 5 9 2 5-2 6-7 3-19-6-15-7-6zM359 794l-12 6-6 13 1 19 4 7 8 5 11-3 7-13-2-22-3-6zM1284 781l-10 8-7 13-3 22 3 13 5 9 7 5 8 1 8-4 7-10 3-10 0-15-6-17zM198 781l-5 2-10 12-7 21 3 21 3 6 12 9 9-1 8-7 6-17 0-14-3-12-8-14zM738 684l-13 13-10 30-4 30 0 42 4 30 8 26 12 16 9 1 10-9 10-24 6-35 1-37-4-37-7-25-10-17-7-4-2 16zM1429 562l-3 10 3 7 3 0 2-12zM50 562l-3 13 2 4 3 0 3-5 0-9zM776 503l40 5 23 0 3-2-3-5-15-8-19-6-23-3zM700 484l-12 1-33 9-11 6-4 7 44-1 21-3zM1333 483l-11 8-2 13 7 10 11 2 11-8 3-13-6-10zM140 483l-9 7-1 13 7 10 6 3 10-1 8-10 0-11-8-9zM1272 478l-8 3-6 6-3 7 0 9 3 7 7 6 13 1 10-7 5-14-3-10-5-5zM200 479l-10 10 0 15 9 11 15 2 11-10 1-15-9-11-8-3zM1116 428l-6 12-6 25-9 18-2 19 3 12 12 22 7 22 4 1 20-41 4-20-3-15-13-25-5-25-3-5zM363 428l-5 9-5 25-12 22-2 22 19 46 7 7 4-6 6-21 10-17 3-10 0-15-11-26-8-31zM1113 119l-4 4-2 12 3 8 7 3 6-7 1-10-6-10zM363 119l-5 8 0 11 3 6 6 2 6-6 1-12-4-8zM1265 116l-7 6-2 12 6 9 10 1 7-6 2-10-7-11zM210 116l-9 9 0 10 6 8 10 1 8-9 0-10-5-7zM1473 106l-6 7-1 10 6 10 5 0 5-5 0-17-5-5zM5 106l-5 4 0 19 4 4 5 0 6-8 0-10-5-8z"/>
<path fill="#4682f8" d="M1124 796l-9 6-5 20 4 14 7 6 8 0 9-10 2-16-5-13zM358 796l-11 6-5 11 1 18 3 6 7 5 11-2 7-14-2-19-3-6zM1282 785l-8 7-6 11-3 18 1 9 7 15 5 4 10 1 9-6 5-9 2-22-10-22-7-6zM195 785l-9 8-6 11-3 21 6 17 10 8 8 0 9-7 4-8 2-21-3-12-7-12-6-5zM739 685l-5 2-7 8-9 22-6 33-1 44 3 27 8 30 12 18 9 2 12-11 10-27 5-34 0-43-5-33-6-19-6-11-10-8-2 15zM776 501l48 7 14-2-4-7-12-6-32-8-10 1zM701 485l-9 0-33 8-13 7-3 5 10 3 49-5 3-1zM1333 484l-11 9-1 10 8 11 9 1 10-7 3-14-7-9zM140 484l-9 9 0 10 8 10 11 2 8-6 2-14-7-9zM1281 480l-15 1-10 12 1 13 8 9 13 1 7-4 5-7 1-14zM201 480l-10 10 0 14 8 10 15 2 10-9 1-15-8-10-8-3zM1116 436l-10 28-11 21-1 20 20 43 4 3 22-37 2-22-3-10-13-22-4-18zM365 436l-5 5-5 20-13 22-3 12 3 20 21 36 3-1 6-15 9-13 7-21-3-20-10-18-6-21zM1115 119l-6 5-1 14 5 7 5 0 5-7 0-11-3-6zM365 119l-6 6-1 11 4 8 6 1 5-6 1-9-3-8zM1267 116l-8 5-3 11 7 11 8 1 7-5 2-13-4-7zM212 116l-9 6-2 11 5 9 10 2 8-7 1-10-6-9zM1472 107l-5 7 0 11 8 8 7-6 0-15-3-4zM4 107l-4 4 0 17 7 5 5-3 3-13-4-9z"/>
<path fill="#458afc" d="M1123 798l-9 8-2 23 8 11 7 1 10-9 2-16-4-11-5-5zM356 798l-9 6-5 17 4 14 8 6 5 0 7-5 3-6 1-15-6-14zM1281 788l-6 5-6 11-2 25 7 15 12 5 7-3 8-11 2-22-10-21-5-4zM194 788l-8 7-5 9-3 21 7 18 7 5 6 1 7-3 6-7 3-8 1-16-8-21-7-6zM739 686l-9 6-11 23-6 29-2 41 3 34 7 28 8 16 5 5 9 2 12-11 8-20 6-33 1-44-5-37-7-22-5-9-10-8-2 14zM1333 485l-10 8-1 10 6 9 10 2 9-6 3-6 0-8-6-8zM776 501l42 6 17-2-3-6-14-7-35-7-3 1zM701 485l-20 2-20 6-13 7-2 4 7 3 52-5zM136 487l-5 9 2 10 10 8 9-1 7-9-2-13-8-6zM1276 480l-13 4-6 9 2 15 5 5 8 3 10-3 8-11-1-13-5-6zM205 480l-6 2-6 6-2 12 8 13 11 3 11-6 3-5 1-10-8-12zM1116 445l-19 36-3 22 7 19 14 20 4 1 20-28 3-20-7-20-9-12-6-16zM363 445l-8 19-13 20-2 23 8 18 11 15 6 3 19-28 3-10 0-15-20-43zM1114 120l-5 5-1 11 2 5 6 4 6-6 1-11-4-7zM364 120l-5 6-1 8 2 7 7 4 6-7 0-11-5-7zM1265 117l-8 9 0 8 5 8 7 2 9-6 2-11-6-9zM210 117l-6 4-3 10 3 8 10 5 9-6 2-9-5-10zM1474 107l-6 6-1 11 4 7 6 1 5-6 0-13zM5 107l-5 5 0 15 3 4 5 1 6-7 0-11-4-6z"/>
<path fill="#448ffe" d="M1122 800l-6 5-3 8 0 15 4 8 8 4 9-5 4-10 0-10-6-12zM354 800l-7 6-4 16 3 11 6 6 5 1 9-6 3-18-3-10-5-5zM1282 790l-5 3-6 9-3 9 0 18 9 16 11 2 12-12 2-22-9-19-6-4zM194 790l-12 14-3 22 5 14 9 7 7 0 9-7 3-6 2-19-8-20-6-5zM739 687l-6 3-7 9-9 25-5 34 0 40 5 34 6 19 11 16 9 2 10-8 11-27 5-31 1-35-3-31-7-28-7-14-6-6-5-2 0 12-2 0zM776 501l37 5 19-2-2-5-11-6-28-7-11 0zM705 499l-4-13-10 0-31 8-10 6-1 4 4 2 27-1 22-3zM1342 486l-10 0-8 7-1 10 7 9 11 0 7-7 1-11zM139 486l-6 6 0 12 6 7 10 2 7-5 2-13-9-9zM1272 481l-11 6-4 13 3 8 5 5 10 2 7-3 6-7 1-13-7-9zM205 481l-10 6-3 6 0 8 6 10 13 4 11-8 2-12-7-11zM1116 453l-19 29-3 17 7 22 15 17 4 0 12-12 7-12 2-23-6-15-15-21zM363 453l-21 32-2 20 8 19 12 13 5 1 11-11 8-13 3-22-6-17-15-22zM1113 121l-4 5-1 8 3 8 6 2 5-6 1-8-5-9zM366 120l-7 7 0 10 5 7 4 0 5-8-1-10zM1266 117l-8 7-1 9 6 9 9 1 5-4 3-10-4-9zM211 117l-7 5-2 12 6 8 8 1 7-6 1-11-6-8zM1473 108l-5 6-1 7 3 8 7 2 5-6 0-10-5-7zM4 108l-4 5 0 13 4 5 5 0 5-7 0-8-5-8z"/>
<path fill="#4294ff" d="M1121 802l-7 11 0 15 6 9 8 1 8-9 1-14-7-12zM353 802l-7 8-2 13 4 11 5 4 6 0 8-9 1-13-5-12zM1282 792l-11 13-3 17 5 17 5 5 9 2 5-2 7-9 2-23-7-15-6-5zM194 792l-11 12-3 10 0 13 7 15 12 4 6-3 6-9 2-20-7-17-6-5zM738 688l-12 12-10 30-4 32 0 32 4 32 8 26 10 14 9 2 13-13 9-27 4-28 0-44-4-28-8-25-4-7-10-8-2 12zM1335 486l-10 7-1 10 6 8 9 1 6-4 4-11-5-9zM777 501l19 3 31 1 3-2-3-5-7-4-25-7-15-1zM701 486l-37 7-13 9 4 3 19 0 31-4zM142 486l-8 6-1 10 6 8 10 2 6-4 3-10-5-9zM1271 482l-11 8-2 11 7 11 11 2 10-7 2-15-6-8zM205 482l-10 7-2 12 5 9 13 4 10-7 2-13-6-9zM1115 459l-9 9-9 15-2 22 6 15 13 14 6 1 16-16 5-14 0-12-2-8-9-15-11-11zM362 459l-18 22-4 20 3 13 5 9 11 11 7 1 15-16 4-9 2-15-3-13-7-12-10-11zM1114 121l-5 7 0 9 4 6 5 0 4-6 0-9-5-7zM364 121l-4 5-1 10 3 6 4 2 5-4 2-9-3-8zM1265 118l-7 7 0 10 4 6 8 2 8-6 1-11-5-7zM209 118l-6 7-1 8 5 8 8 2 7-5 2-11-7-9zM1474 108l-6 7 0 9 4 6 4 1 5-5 1-10-3-6zM6 108l-6 6 0 11 5 6 3 0 5-6 1-7-2-6z"/>
<path fill="#4099ff" d="M1123 803l-6 5-3 13 3 11 4 4 6 1 8-8 1-14-7-11zM354 803l-7 7-2 14 3 8 4 4 6 1 8-8 1-13-4-10zM1284 793l-10 8-4 10-1 12 6 17 11 5 11-8 4-20-6-17zM196 793l-6 3-6 8-3 9 0 15 4 10 5 5 8 2 5-2 6-7 3-10 0-12-6-15zM738 689l-12 12-7 18-6 34-1 35 3 31 9 32 10 14 10 2 12-13 8-23 5-35 0-36-5-35-8-23-12-13-2 0-1 11zM1334 487l-8 6-1 10 5 7 9 1 6-4 3-11-4-7zM777 497l2 4 43 4 6-3-12-9-24-6-12 0zM705 499l-4-12-12 0-32 10-3 6 6 2 21-1zM141 487l-7 7 0 9 6 7 9 1 6-5 2-9-7-9zM1271 483l-10 7-2 12 6 9 11 2 9-6 3-11-5-10zM204 483l-8 6-2 13 8 10 10 1 9-7 1-13-8-9zM1114 462l-11 11-6 11-2 19 4 13 6 9 8 7 8 1 14-13 5-12 1-12-4-15-6-9-11-10zM362 462l-9 7-9 13-3 9 0 15 10 20 9 7 7 0 11-10 6-11 2-22-9-19-8-8zM1113 122l-4 7 2 11 6 3 4-4 1-10-4-7zM364 122l-5 11 2 7 6 3 5-6 0-9-4-6zM1266 118l-6 4-2 12 5 7 9 1 6-6 1-9-6-8zM211 118l-8 7 0 10 5 6 8 1 7-7 0-10-5-6zM1473 109l-4 5-1 9 3 6 6 1 5-11-2-7zM5 109l-4 4-1 11 4 6 5 0 4-6 0-9-3-5z"/>
<path fill="#3ba0fd" d="M1123 804l-7 8-1 13 6 10 7 1 6-6 2-13-3-8-4-4zM354 804l-8 10 0 12 6 9 7 1 7-9 0-13-5-9zM1283 794l-6 4-6 11-1 18 8 15 10 2 10-10 2-20-5-13-5-5zM195 794l-7 5-5 9-2 17 4 12 6 6 8 1 8-6 4-9 1-11-6-18zM739 689l-12 11-8 20-5 25-2 38 3 35 6 25 10 19 11 5 5-2 7-8 9-23 5-28 1-43-3-27-8-29-7-12-9-6-1 11zM1338 487l-9 3-4 7 1 8 8 6 8-2 5-6-1-11zM777 500l16 3 33 0-4-7-32-9-10 0zM705 499l-4-12-10 0-33 10-3 5 3 2 20 0zM143 487l-7 4-2 10 4 7 9 3 7-4 2-12-5-6zM1274 483l-9 3-6 11 2 9 10 7 9-2 7-10-2-12zM207 483l-10 5-3 12 6 10 10 3 9-5 3-13-7-10zM1114 463l-14 15-4 10-1 13 8 21 8 8 8 3 10-6 7-9 5-20-3-14-5-9-11-11zM367 463l-9 2-9 9-8 18 0 13 5 14 10 11 7 3 13-8 10-21-2-20-6-11zM1114 122l-4 5-1 7 2 6 5 3 5-5 1-8-2-5zM364 122l-4 6 0 9 6 6 5-4 1-10-3-6zM1267 118l-8 6-1 9 4 7 9 2 6-5 2-9-6-9zM211 118l-6 4-2 12 5 7 8 1 6-5 1-11-4-6zM1474 109l-4 3-2 9 2 6 6 3 5-6 0-9-3-5zM6 109l-6 7 0 7 5 7 3 0 4-4 1-10z"/>
<path fill="#35abf8" d="M1125 806l-7 6-1 14 5 7 5 1 6-6 1-12-2-5zM356 806l-6 4-3 13 4 9 7 2 6-7 1-9-2-7zM1283 797l-6 4-4 7-2 16 4 12 5 5 7 1 8-6 3-6 1-14-4-12-6-6zM194 797l-7 6-5 17 5 17 7 5 5 0 9-9 2-19-5-12-6-5zM737 691l-11 12-9 27-4 30 0 36 4 30 8 25 10 13 9 1 9-8 10-25 5-31 1-26-3-36-7-28-6-12-7-7-4-1-1 9-1-7zM1333 489l-6 6 0 8 4 5 8 1 6-5 1-9-6-6zM141 489l-6 7 1 7 6 6 7 0 5-5 0-10-6-5zM777 497l3 3 20 3 20 0 3-2-8-7-22-6-13 0zM705 499l-4-11-13 0-19 5-11 7 3 3 20 0zM1270 485l-7 5-2 13 6 7 10 1 7-6 2-10-5-8zM204 485l-8 8 0 9 5 7 11 2 8-7 1-8-7-10zM1115 465l-13 11-4 8-2 21 7 16 7 7 10 3 6-3 9-10 5-13 0-12-7-17-11-10zM362 465l-15 13-5 12-1 11 2 10 6 11 8 7 8 2 5-2 11-12 5-21-3-13-6-10-8-7zM1114 123l-4 6 0 7 3 5 5 0 3-5 0-7-4-6zM365 123l-4 4-1 7 4 7 4 0 3-4 0-9zM1266 119l-7 7 0 8 4 6 9 1 5-5 1-9-5-7zM210 119l-5 4-2 9 5 8 8 1 5-4 2-9-5-8zM1474 110l-5 6 0 7 3 5 4 1 4-4 1-7-2-5zM6 110l-4 3-1 11 4 5 3 0 4-5 0-9z"/>
<path fill="#2eb4f2" d="M1121 811l-3 10 2 7 3 3 5 0 4-6 0-10-5-6zM355 809l-6 7 0 8 3 6 6 1 4-4 1-10-2-5zM1284 799l-7 5-3 6-1 17 6 11 8 2 7-5 4-17-5-14zM196 799l-6 3-4 6-2 19 5 10 10 3 9-11 1-12-4-12zM738 692l-10 9-8 19-6 33-1 36 3 29 7 27 11 17 10 2 10-10 9-24 5-34 0-36-3-24-7-26-12-17-4-1-1 8zM1339 490l-7 1-4 6 1 7 6 4 5-1 5-7-1-6zM142 490l-5 5 0 7 4 5 6 1 6-5 0-7-4-5zM777 497l21 5 17 0 4-2-9-7-15-4-15 0zM704 496l-2-7-16 0-17 5-7 6 4 2 18 0 18-3zM1272 486l-8 5-2 11 4 6 10 2 7-6 1-10-4-6zM206 486l-8 6-1 9 6 8 8 1 7-5 1-11-6-7zM1114 467l-13 12-4 10-1 12 7 19 11 9 8 0 13-12 5-20-7-20-8-8zM360 467l-11 9-5 9-2 20 5 13 7 8 5 3 8 0 15-15 3-10 0-13-4-11-8-10-5-3zM1115 124l-4 4 0 8 3 4 3 0 3-4 0-8zM365 124l-4 5 0 6 3 5 4 0 3-9-1-4zM1265 120l-5 5-1 7 4 7 7 2 7-7 0-8-5-6zM210 120l-6 7 0 6 5 7 5 1 7-5 1-9-4-6zM1473 112l-3 4 0 7 6 5 3-3 1-8-3-5zM4 112l-3 8 2 6 4 2 3-2 2-8-3-6z"/>
<path fill="#27bee9" d="M1126 812l-4 2-2 6 3 8 4 0 4-7-2-7zM355 812l-4 5 0 7 3 4 4 0 3-11zM1282 802l-6 7-2 16 3 8 4 4 6 1 8-8 1-16-8-12zM194 802l-8 10-1 13 3 8 4 4 6 1 8-8 1-16-6-11zM738 693l-11 11-9 26-4 27 0 42 4 27 6 20 9 14 10 3 9-7 10-24 5-29 1-36-3-29-9-31-9-12-5-2-1 7-1-7zM1337 491l-7 5 0 6 4 4 5 0 4-4 0-7zM141 492l-3 9 3 4 7 1 4-5 0-4-4-5zM777 497l18 4 20-2-10-7-25-3zM704 496l-3-7-9 0-18 4-8 6 20 2zM1270 488l-6 5-1 7 4 7 7 2 7-4 2-10-4-6zM205 488l-6 5 0 9 5 6 9 0 5-6 0-7-6-7zM1114 468l-11 9-4 7-2 21 4 11 9 10 12 2 11-9 4-7 2-20-4-11-10-11zM361 468l-6 3-8 9-4 10-1 13 7 17 8 7 10 1 12-10 5-11 1-13-8-19-7-6zM1115 125l-4 8 2 5 4 1 3-8zM366 125l-4 4 2 10 3 0 3-4-1-8zM1267 120l-5 3-2 10 4 6 7 1 4-3 2-9-5-7zM212 120l-6 4-1 10 4 5 6 1 5-4 2-6-2-6zM1473 113l-2 11 6 2 2-10zM5 113l-3 8 3 5 3 0 3-9-3-4z"/>
<path fill="#20c7df" d="M1124 817l-1 5 3 2 2-5zM355 817l-1 6 3 1 1-6zM1283 804l-7 9-1 9 3 10 5 4 4 0 6-5 2-15-3-8-5-4zM194 804l-6 7-2 11 3 10 5 4 4 0 6-5 2-15-3-8-5-4zM738 694l-11 11-8 22-5 35 0 32 5 35 6 18 8 12 10 3 10-9 10-27 4-27 0-42-9-44-11-17-5-2-1 6-1-6zM1335 493l-3 2-1 6 3 3 5 0 3-7-2-3zM141 494l-1 8 8 2 2-8-4-3zM778 494l2 3 13 3 18-1-6-6-13-3-12 0zM704 496l-3-6-12 0-15 4-4 4 3 2 15 0zM1271 489l-6 5 0 8 5 5 6 0 4-3 2-7-3-6zM206 489l-5 4-1 8 4 5 7 1 5-4 1-7-3-5zM1114 469l-12 10-4 9-1 15 4 12 9 10 12 2 12-10 4-9 1-13-8-19-10-7zM360 469l-11 9-4 7-2 21 5 12 7 7 13 2 13-13 3-9 0-14-4-11-7-8-5-3zM1114 127l-2 7 4 4 3-8zM365 127l-2 9 4 2 2-9zM1266 121l-5 5 0 8 4 5 6 0 5-5 0-7-4-5zM211 121l-5 4-1 7 5 7 6 0 5-6 0-5-4-6zM1474 114l-3 6 5 5 2-8zM6 114l-3 8 5 3 2-8z"/>
<path fill="#1bd0d5" d="M1284 806l-6 6-1 13 5 8 5 1 6-7 1-9-3-8zM196 806l-7 6-1 14 5 7 5 1 6-7 1-9-2-7zM738 695l-9 8-9 22-5 29-1 34 2 23 6 27 10 19 6 4 5 0 10-9 9-23 5-34 0-34-5-34-5-15-10-15-5-2-1 5-1-5zM1336 495l-3 5 5 2 2-5zM142 496l0 5 5 1 1-5-2-2zM1270 491l-4 5 0 5 3 4 5 1 5-3 1-8-4-4zM778 494l14 5 13 0 3-2-15-6-12 0zM703 492l-20 0-8 3-1 3 20 0 9-3zM205 491l-4 5 0 4 4 5 5 1 5-4 0-7-4-4zM1113 470l-11 10-5 19 3 13 5 8 8 6 7 1 8-4 6-7 4-10 0-15-4-10-7-8-5-3zM360 470l-12 10-5 13 0 11 5 13 10 9 7 1 7-3 8-9 4-12 0-10-4-12-8-9zM1115 128l-2 6 4 2 1-5zM366 128l-2 2 1 6 3-1zM1266 122l-3 2-2 8 4 6 4 1 5-3 2-7-5-7zM210 122l-4 5 0 6 8 6 6-5 0-7-4-5zM1476 116l-4 3 3 5 2-2zM5 116l-1 5 3 3 2-6z"/>
<path fill="#18d7ca" d="M1283 809l-4 5-1 9 3 7 5 2 6-7 0-9-5-7zM194 809l-4 5-1 9 2 6 6 3 6-7 0-9-5-7zM738 696l-9 8-11 31-3 22 0 42 9 43 9 15 10 3 10-9 8-20 5-28 1-37-4-33-6-20-10-15-5-2-1 4zM1272 492l-4 3 0 6 7 3 4-6-3-5zM782 493l11 5 11-1-10-5zM678 497l11 1 11-5-12-1-8 2zM208 492l-4 2-1 6 2 3 5 1 3-2 1-5zM1116 470l-7 3-7 8-4 10 0 13 4 11 7 8 12 3 12-9 5-13 0-11-5-13-7-7zM362 470l-7 3-7 8-4 9-1 12 7 17 10 7 6 0 9-5 5-7 4-18-5-16-8-8zM1268 122l-5 3-1 8 3 4 5 1 4-3 1-7-2-4zM213 122l-7 7 5 9 7-2 2-5-1-5z"/>
<path fill="#18dec0" d="M1283 812l-3 5 0 7 4 5 3 0 4-9-2-6zM194 812l-3 5 0 7 2 4 5 1 3-4 0-9-3-4zM738 697l-9 8-10 27-4 29 0 34 3 24 6 22 10 16 10 2 9-9 8-20 5-30 1-26-3-34-7-26-11-16-4-1-1 3zM1271 495l-1 5 4 2 2-6zM206 495l-1 5 5 2 2-5zM787 494l12 2-8-3zM694 494l-4-1-7 3zM1114 471l-11 9-5 13 0 10 5 13 7 7 12 2 11-9 4-9 1-12-7-17-10-7zM361 471l-5 2-10 12-2 21 3 8 8 9 13 2 9-7 4-7 2-20-4-10-6-7zM1267 123l-5 8 4 6 4 0 4-4 0-6zM212 123l-4 3-1 6 2 4 6 1 4-4 0-5z"/>
<path fill="#1ce6b4" d="M1285 815l-3 7 5 3 1-8zM197 815l-4 3 3 8 3-3zM737 698l-8 8-9 23-5 36 0 26 3 26 6 23 10 16 10 2 9-9 9-25 4-27 0-38-9-44-11-16zM1113 472l-10 9-5 19 6 17 5 5 11 3 7-3 7-8 3-8 0-15-3-8-8-9zM359 472l-9 7-4 7-2 18 4 11 5 6 13 4 12-9 5-13 0-10-5-13-6-6zM1264 126l-1 6 3 4 5 0 3-7-4-5zM211 124l-3 3 0 6 7 3 3-3 0-6z"/>
<path fill="#22ebaa" d="M740 698l-9 6-9 19-6 32-1 30 3 31 6 23 7 13 11 6 10-8 8-19 5-26 1-42-3-25-6-22-5-10-10-8-1 2zM1110 474l-9 11-2 20 3 8 8 9 12 2 13-13 2-19-9-16-7-4zM361 472l-12 9-4 9-1 12 5 14 6 6 12 2 12-10 4-19-7-17-9-6zM1265 126l-1 7 7 2 2-7-3-3zM211 125l-3 5 1 3 6 2 3-4-1-4z"/>
<path fill="#2cf09e" d="M739 699l-12 12-8 25-3 22 0 40 8 40 6 12 5 5 8 2 9-8 8-19 5-28 1-35-3-27-6-23-8-14zM1113 473l-8 6-4 7-2 17 4 11 6 7 12 3 11-8 5-13 0-9-5-13-6-6zM359 473l-12 12-2 21 8 14 13 4 5-2 9-11 2-20-3-8-7-8zM1270 126l-5 2 0 5 3 2 4-3zM215 126l-4 0-2 3 4 6 4-4z"/>
<path fill="#38f491" d="M738 700l-10 10-8 23-4 28 0 34 4 28 6 19 10 13 7 1 9-8 9-23 5-51-3-33-6-23-10-16zM1115 473l-11 8-4 9-1 11 3 11 8 9 12 2 12-11 3-16-6-16-10-7zM361 473l-12 9-4 10 0 13 3 8 7 8 13 2 8-6 5-9 1-16-8-15-7-4zM1267 127l-1 5 4 1 1-4zM212 127l-2 4 5 2 1-4z"/>
<path fill="#46f884" d="M737 701l-9 10-8 23-4 30 0 27 3 26 7 24 8 12 10 2 10-11 8-25 3-22 0-38-3-22-7-23-9-12zM1117 473l-9 4-5 6-3 8 0 14 9 15 12 3 6-3 8-11 1-17-4-10-6-6zM365 473l-10 3-6 7-4 10 2 17 4 7 9 6 11-2 8-9 3-10-3-18-7-8zM1267 129l2 3 1-2zM214 129l-2 0 1 3z"/>
<path fill="#55fa76" d="M739 701l-10 9-7 17-5 28-1 32 2 22 6 26 7 14 11 6 11-10 8-23 4-28 0-32-3-24-7-23-10-13zM1114 474l-10 8-3 6-1 16 7 14 12 5 9-4 4-5 4-10 0-11-9-16zM360 474l-12 11-3 17 5 13 5 5 10 3 7-3 6-7 4-17-6-16-6-5z"/>
<path fill="#65fd69" d="M738 702l-8 7-9 23-4 25 0 42 8 38 11 16 7 1 9-8 9-25 4-30 0-26-3-25-6-22-9-14zM1115 474l-10 7-5 12 0 10 3 9 7 8 12 2 11-10 3-18-4-11-7-7zM361 474l-6 3-8 11-1 18 8 13 13 3 7-4 5-7 2-20-4-9-6-6z"/>
<path fill="#75fe5c" d="M737 703l-7 7-9 23-4 26 0 37 8 40 9 15 10 2 8-8 7-17 5-27 1-32-3-28-6-22-10-15zM1113 475l-11 12-2 15 4 11 5 6 12 3 11-9 4-17-5-14-5-5zM359 475l-11 11-2 19 4 9 6 6 10 2 5-2 7-8 3-8 0-12-9-15z"/>
<path fill="#84ff51" d="M739 703l-10 9-8 22-4 28 0 32 3 23 7 23 8 11 7 2 12-12 7-22 3-20 0-42-3-20-7-22-9-11zM1114 475l-9 7-5 17 5 15 6 6 7 2 7-2 8-9 2-19-8-14zM360 475l-12 12-2 17 5 11 4 4 9 3 9-4 4-5 4-10 0-9-4-11-6-6z"/>
<path fill="#92ff47" d="M738 704l-9 9-8 22-4 30 0 26 3 25 6 21 10 14 8 1 9-10 8-24 3-22 0-36-3-22-6-20-8-12zM1116 475l-12 9-3 8 0 12 9 15 12 2 9-7 3-6 1-16-4-9-6-6zM362 475l-11 7-4 8-1 12 7 15 7 4 7 0 10-8 4-18-5-13-7-6z"/>
<path fill="#9ffd3f" d="M740 704l-10 8-8 20-4 23-1 32 7 44 8 16 10 5 10-9 9-26 3-23 0-32-3-23-6-20-5-9zM1114 476l-9 7-3 6-1 14 7 14 7 4 6 0 7-4 5-7 2-16-3-9-6-7zM359 476l-9 8-4 16 5 14 7 6 8 1 6-3 7-10 1-17-7-12-5-3z"/>
<path fill="#acfb38" d="M738 705l-9 9-6 15-4 19-2 34 3 32 5 19 6 12 5 5 7 1 10-10 8-25 3-24 0-28-4-29-6-18-7-10zM1114 476l-11 11-2 16 4 10 6 6 8 2 6-2 6-6 3-6 1-13-8-15zM360 476l-11 10-2 19 8 13 10 3 12-9 3-7 0-13-3-8-6-6z"/>
<path fill="#c1f334" d="M738 706l-10 11-7 22-3 22 0 34 3 22 7 22 8 10 7 1 8-7 8-20 4-23 1-29-2-23-6-25-9-15zM1117 476l-6 2-6 6-4 15 6 16 5 4 9 1 6-3 6-9 1-16-8-13zM362 476l-12 9-3 8 0 10 4 10 5 5 11 2 9-7 4-10 0-9-5-12-7-5z"/>
<path fill="#d4e735" d="M738 707l-7 6-9 23-4 29 0 26 8 42 10 15 7 1 8-7 9-25 3-21 0-36-8-38-7-12zM1121 477l-12 3-7 13 0 11 4 9 11 7 9-3 8-13-2-17zM360 477l-10 9-3 15 6 14 11 5 6-2 6-6 4-16-4-12-5-5z"/>
<path fill="#e3db38" d="M738 708l-7 6-7 16-5 27-1 26 2 24 5 22 7 14 6 5 5 0 8-7 8-21 4-28 0-28-8-41-7-12zM1117 477l-11 7-4 10 0 8 4 10 5 5 10 2 9-7 4-17-5-12zM364 477l-7 2-9 13 1 16 11 11 12-3 7-12 0-12-3-7-6-6z"/>
<path fill="#f1cb3a" d="M738 709l-8 8-7 18-4 25 0 36 8 37 9 13 7 1 7-6 7-15 5-26 1-30-2-22-7-26-7-11zM1115 478l-11 11-1 16 7 11 9 3 7-3 5-6 2-18-8-12zM360 478l-7 5-4 7-1 13 3 8 6 6 7 2 11-7 4-10 0-8-8-14z"/>
<path fill="#faba39" d="M738 710l-8 8-8 23-3 23 0 28 8 40 9 13 8 1 8-9 6-16 4-24 0-38-8-36-7-11zM1117 478l-7 3-5 6-2 16 3 8 5 5 10 2 9-7 3-17-5-11zM363 478l-11 7-4 16 4 11 4 4 11 2 9-8 3-13-4-12-5-5z"/>
<path fill="#fea933" d="M741 710l-9 6-5 9-5 18-3 26 4 49 7 19 8 8 9-2 6-9 6-19 3-22 0-30-5-30-6-15zM1115 479l-9 7-3 16 5 11 11 5 7-3 4-5 3-15-8-14zM360 479l-9 8-2 17 8 12 8 2 10-7 3-7 0-11-7-12z"/>
<path fill="#fe932a" d="M742 711l-5 1-9 12-8 35 0 38 3 19 7 20 10 9 8-4 7-13 7-39-1-34-4-21-6-15zM1116 479l-6 3-5 7-1 16 8 11 9 1 10-10 1-15-6-10zM362 479l-10 7-3 17 7 12 11 2 6-4 4-7 1-12-3-8-5-5z"/>
<path fill="#fa7b1f" d="M739 712l-8 7-8 22-3 21 0 32 8 37 9 12 5 1 7-5 7-15 5-26 1-24-2-24-5-21-6-12zM1114 480l-9 10-1 13 6 11 10 3 10-8 2-15-7-12zM360 480l-8 7-3 14 3 9 5 5 8 2 9-6 4-14-7-15z"/>
<path fill="#f46617" d="M739 713l-8 7-8 23-3 47 8 40 6 10 9 3 8-8 7-20 3-20 0-34-8-36-8-11zM1116 480l-8 5-4 10 0 7 3 8 5 5 10 1 8-8 2-13-6-12zM361 480l-8 6-3 6 0 12 6 10 11 2 9-9 1-14-7-11z"/>
<path fill="#eb500e" d="M738 714l-7 7-6 15-4 22-1 26 3 28 5 17 7 11 8 2 8-8 6-16 4-26 0-28-8-38-8-11zM1114 481l-8 8-1 16 5 8 10 3 6-3 4-6 1-15-7-10zM360 481l-8 7-2 15 7 11 9 2 8-6 3-16-6-11z"/>
<path fill="#df3f08" d="M738 715l-7 7-7 19-3 19 0 36 7 32 8 12 7 1 8-8 7-21 3-44-2-19-6-22-9-12zM1121 481l-10 2-6 10 0 10 3 7 10 6 6-2 7-11-1-13zM361 481l-8 6-3 14 4 10 10 5 10-7 3-13-3-9-5-5z"/>
<path fill="#d02f05" d="M740 715l-8 6-7 17-4 25 0 30 7 34 5 9 8 5 9-7 6-15 5-43-2-25-9-29zM1117 481l-9 6-3 15 6 11 10 2 8-7 2-13-3-8zM362 481l-6 3-5 8 0 12 7 10 8 1 7-5 3-6 0-11-5-9z"/>
<path fill="#c12302" d="M739 716l-7 6-8 22-3 45 7 37 4 8 5 5 5 1 8-7 7-19 3-20 0-33-7-32-7-11zM1115 482l-8 7-2 11 3 9 4 4 8 2 8-6 3-12-5-12zM360 482l-9 11 0 10 6 10 8 2 9-7 2-14-7-11z"/>
<path fill="#ac1701" d="M739 717l-7 6-6 14-4 21-1 26 7 41 9 13 6 1 7-7 6-15 4-26 0-27-7-34-8-12zM1116 482l-9 8-1 14 5 8 10 2 6-4 3-6 0-11-6-9zM361 482l-8 7-2 13 7 11 9 1 8-9 1-10-6-11z"/>
<path fill="#950d01" d="M738 718l-6 6-7 18-3 19 0 34 6 29 7 12 8 2 7-7 7-20 3-43-7-37-8-12zM1114 483l-7 8-1 12 7 10 7 1 7-5 3-15-5-9zM360 483l-6 5-3 12 6 12 9 2 6-4 3-6 0-12-6-8z"/>
<path fill="#810602" d="M740 718l-7 5-8 20-3 20 0 30 6 30 8 13 8 1 5-5 6-14 5-43-2-23-5-20-4-8zM1115 483l-6 5-3 13 4 9 9 4 9-7 2-11-7-12zM361 483l-6 4-3 6 0 10 6 9 6 2 9-6 2-15-5-8z"/>
</g></g>
<path fill="#30123b" d="M391.9 1646.7 395.4 1652.8 398.9 1658.9 402.4 1664.9 405.8 1671 409.2 1677.1 412.6 1683.2 415.9 1689.3 419.2 1695.4 422.4 1701.5 425.6 1707.6 428.8 1713.7 431.9 1719.8 435 1725.8 438 1731.9 441 1738 444 1744.1 446.9 1750.2 449.7 1756.3 452.6 1762.4 455.3 1768.5 458.1 1774.6 460.8 1780.6 463.4 1786.7 466 1792.8 468.6 1798.9 471.1 1805 473.5 1811.1 475.9 1817.2 478.3 1823.3 480.6 1829.4 482.9 1835.5 485.1 1841.5 487.3 1847.6 489.4 1853.7 491.4 1859.8 493.5 1865.9 495.4 1872 497.3 1878.1 499.2 1884.2 500.9 1890.3 502.7 1896.4 504.3 1902.4 505.9 1908.5 507.5 1914.6 509 1920.7 510.4 1926.8 511.8 1932.9 513 1939 514.3 1945.1 515.4 1951.2 516.5 1957.2 517.4 1963.3 518.3 1969.4 519.2 1975.5 519.9 1981.6 520.5 1987.7 521 1993.8 521.3 1999.9 521.5 2006 521.5 2006 521.7 1999.9 522 1993.8 522.5 1987.7 523.1 1981.6 523.8 1975.5 524.7 1969.4 525.6 1963.3 526.5 1957.2 527.6 1951.2 528.7 1945.1 530 1939 531.2 1932.9 532.6 1926.8 534 1920.7 535.5 1914.6 537.1 1908.5 538.7 1902.4 540.3 1896.4 542.1 1890.3 543.8 1884.2 545.7 1878.1 547.6 1872 549.5 1865.9 551.6 1859.8 553.6 1853.7 555.7 1847.6 557.9 1841.5 560.1 1835.5 562.4 1829.4 564.7 1823.3 567.1 1817.2 569.5 1811.1 571.9 1805 574.4 1798.9 577 1792.8 579.6 1786.7 582.2 1780.6 584.9 1774.6 587.7 1768.5 590.4 1762.4 593.3 1756.3 596.1 1750.2 599 1744.1 602 1738 605 1731.9 608 1725.8 611.1 1719.8 614.2 1713.7 617.4 1707.6 620.6 1701.5 623.8 1695.4 627.1 1689.3 630.4 1683.2 633.8 1677.1 637.2 1671 640.6 1664.9 644.1 1658.9 647.6 1652.8 651.1 1646.7Z"/>
<rect x="150.9" y="2070" width="741.2" height="20.5" fill="#37163f"/>
</g>
<rect x="150.9" y="1650.2" width="741.2" height="440.3" fill="none" stroke="#000" stroke-width="2.6"/>
<path d="M150.9 2090.5h-14M150.9 2002.4h-14M150.9 1914.4h-14M150.9 1826.3h-14M150.9 1738.3h-14M150.9 1650.2h-14M168.5 2090.5v14.5M345 2090.5v14.5M521.5 2090.5v14.5M698 2090.5v14.5M874.5 2090.5v14.5" stroke="#000" stroke-width="2.6"/>
<text x="119.3" y="2103.8" font-size="35" text-anchor="end">0.0</text>
<text x="119.3" y="2015.7" font-size="35" text-anchor="end">0.5</text>
<text x="119.3" y="1927.7" font-size="35" text-anchor="end">1.0</text>
<text x="119.3" y="1839.6" font-size="35" text-anchor="end">1.5</text>
<text x="119.3" y="1751.6" font-size="35" text-anchor="end">2.0</text>
<text x="119.3" y="1663.5" font-size="35" text-anchor="end">2.5</text>
<text x="168.5" y="2147.3" font-size="35" text-anchor="middle">−2</text>
<text x="345" y="2147.3" font-size="35" text-anchor="middle">−1</text>
<text x="521.5" y="2147.3" font-size="35" text-anchor="middle">0</text>
<text x="698" y="2147.3" font-size="35" text-anchor="middle">1</text>
<text x="874.5" y="2147.3" font-size="35" text-anchor="middle">2</text>
<text x="523" y="2214" font-size="42" text-anchor="middle"><tspan font-style="italic" font-size="43.5">Q</tspan><tspan font-style="italic" font-size="31" dy="8">r</tspan><tspan dy="-8"> [</tspan><tspan dx="2">Å</tspan><tspan font-size="25" dy="-12" dx="1.5">-1</tspan><tspan dy="12" dx="4">]</tspan></text>
<text transform="translate(43.6 1870.3) rotate(-90)" font-size="42" text-anchor="middle"><tspan font-style="italic" font-size="43.5">Q</tspan><tspan font-style="italic" font-size="31" dy="8">z</tspan><tspan dy="-8"> [</tspan><tspan dx="2">Å</tspan><tspan font-size="25" dy="-12" dx="1.5">-1</tspan><tspan dy="12" dx="4">]</tspan></text>
<text x="74.5" y="1615.2" font-size="44" font-weight="bold">e</text>
<defs><clipPath id="cpf"><rect x="1149.3" y="1650" width="741" height="440.5"/></clipPath><filter id="blf" x="-2%" y="-2%" width="104%" height="104%"><feGaussianBlur in="SourceGraphic" stdDeviation="1.1" result="b"/><feTurbulence type="fractalNoise" baseFrequency="0.38" numOctaves="2" seed="102" result="n"/><feColorMatrix in="n" type="matrix" values="0.33 0.33 0.33 0 0 0.33 0.33 0.33 0 0 0.33 0.33 0.33 0 0 0 0 0 0 1" result="g"/><feComposite in="b" in2="g" operator="arithmetic" k1="0.95" k2="0.53" k3="0" k4="0"/></filter></defs>
<g clip-path="url(#cpf)">
<rect x="1149.3" y="1650" width="741" height="440.5" fill="#30123b"/>
<g filter="url(#blf)"><g fill-rule="evenodd" transform="translate(1149.3 1650) scale(0.5)">
<path fill="#33184a" d="M1363 237l0 7 5 5 23 6 18-3 6-3 6-8-2-6-5-4-16-5-19 1-10 4zM60 240l6 9 23 6 18-3 11-8 0-7-3-4-19-7-25 3-7 4zM1173 207l-3 4 0 9 10 20 13 13 7 3 6-1 2-12-9-19-14-14zM308 207l-12 3-14 14-9 19 2 12 6 1 7-3 13-13 10-20 0-9zM1270 206l-3 3 1 10 10 17 14 13 9 4 6-1 2-4-1-7-10-18-17-15zM211 206l-11 2-17 15-10 18-1 7 2 4 6 1 9-4 14-13 10-17 1-10zM1107 208l-3 5 0 14 9 21 19 18 6 2 11-2 5-9 0-8-10-24-11-12-12-7-7-1zM374 208l-7-3-7 1-12 7-11 12-10 24 0 8 5 9 4 2 13-2 19-18 9-21 0-14zM0 356l0 524 1481 0 0-524-210-35-30-11-33-20-23-9-13 0-13 5-21-2-53-34-10-20-15-18 7-4 6-14-4-6-25-14-52-21-66-19-14 28 46 12 77 28 2 3-6 5-7 12-74-27-49-12-42 90-48 122-35 114-24 112-11 103-2-1-4-59-11-71-12-56-19-71-41-120-30-73-42-90-49 12-73 27-14-17 6-5 40-15 79-23-14-28-88 27-55 27-4 6 6 14 7 4-15 18-10 20-53 34-21 2-13-5-13 0-23 9-33 20-30 11zM1069 109l0 9 7 12 14 11 13 6 16 4 17 0 11-4 6-7 1-9-4-9-11-11-16-9-18-5-19 0-12 5zM411 107l-7-7-9-3-19 0-18 5-16 9-11 11-4 9 1 9 6 7 11 4 17 0 16-4 13-6 14-11 7-12zM1217 91l-1 11 6 12 14 15 19 13 17 8 19 5 13 0 11-6 2-9-6-14-15-16-19-13-15-7-24-6-12 1zM264 91l-6-5-15-2-12 2-27 11-19 13-15 16-6 14 2 9 7 5 17 1 19-5 17-8 19-13 14-15 6-12zM1468 82l-10 3-12 10-6 13 0 14 5 12 12 11 8 3 16 0 0-65zM0 83l0 65 16 0 11-5 9-9 5-12 0-14-4-10-9-10-15-6zM1287 59l-3 3 0 7 8 14 17 15 9 4 7-1 1-9-7-13-18-16zM194 59l-14 4-18 16-7 13 1 9 7 1 9-4 17-15 8-14 0-7zM1002 55l-4 5 0 11 5 11 9 10 4 2 9-1 3-9-4-14-10-12-5-3zM479 55l-7 0-5 3-10 12-4 14 3 9 9 1 13-12 5-11 0-11z"/>
<path fill="#351e58" d="M0 384l0 496 1481 0 0-496-13-3-20-12-12-3-31 3-114-20-75-34-20-5-12 0-12-12-11-5-16 1-17 14-6 1-117-20-32 1-117-8-45 113-35 114-24 112-11 103-2-1-2-41-9-67-23-106-35-114-45-113-117 8-32-1-117 20-6-1-17-14-16-1-11 5-12 12-12 0-20 5-75 34-114 20-24-3-13 1-26 14zM1372 238l2 7 14 5 15-2 8-7-3-6-10-4-18 1zM70 240l4 6 13 4 15-2 7-6 0-4-4-4-8-3-18 1-6 3zM1275 213l-2 6 7 14 12 11 10 1 0-8-6-11-10-10zM1176 214l-1 9 6 13 12 12 8 1 2-9-8-16-8-8-6-3zM305 214l-5-1-6 3-8 8-8 16 2 9 8-1 12-12 6-13zM206 213l-11 3-10 10-6 11 0 8 10-1 12-11 6-10 1-8zM1040 213l-4 5 0 11 6 14 13 14 9 4 7-1 4-4 1-9-7-18-14-14-7-3zM441 213l-8-1-7 3-14 14-7 18 1 9 4 4 7 1 9-4 13-14 6-14 0-11zM1113 212l-4 5-1 7 7 19 15 15 8 3 6-1 4-4 1-10-6-16-14-15-10-4zM368 212l-6-1-10 4-14 15-6 16 1 10 4 4 6 1 8-3 15-15 7-19-1-7zM914 158l49 14 84 30 13 1 4-5-1-7-7-6-31-16-86-29-14-3zM567 158l-11-21-14 3-86 29-31 16-7 6-1 7 4 5 13-1 84-30zM1078 113l0 6 5 9 19 13 14 4 15 0 8-3 5-5 1-7-6-11-10-8-13-6-26-2-7 3zM401 109l-10-6-18 0-13 4-18 12-6 11 1 7 5 5 8 3 15 0 14-4 19-13 5-9zM1228 96l-2 7 5 12 24 21 14 7 21 5 11-2 5-5-1-10-6-10-22-18-29-11-13 0zM253 96l-7-4-13 0-29 11-22 18-6 10-1 10 5 5 11 2 21-5 14-7 24-21 5-12zM1472 89l-9 2-10 7-5 9-1 12 3 9 7 8 8 4 11 1 5-2 0-48zM9 89l-9 2 0 48 5 2 11-1 8-4 7-8 3-9-1-12-5-9-10-7zM1292 66l-1 8 5 8 11 10 11 3 2-4-5-11-12-11zM189 66l-11 3-12 11-5 11 2 4 11-3 11-10 5-8zM1005 60l-3 4 0 8 4 9 6 6 8 2 3-3 0-9-4-9-6-6zM476 60l-8 2-6 6-4 9 0 9 3 3 8-2 6-6 4-9 0-8z"/>
<path fill="#38276d" d="M0 399l0 481 1481 0 0-481-14-3-15-18-11-6-13 0-21 12-13 0-81-13-19-7-38-21-34-15-17-3-33 3-2-5 4-7 0-9-7-9-8-3-9 0-9 4-6 8-1 13-7 2-41-8-54-6-12-9-13-5-8 0-22 9-24-2-20-8-15 0-10 3-57-3-40 102-35 114-24 112-11 103-2-1-2-41-9-67-23-106-35-114-40-102-37 3-45-3-20 8-24 2-18-8-12-1-13 5-12 9-54 6-41 8-7-2-1-13-6-8-9-4-9 0-8 3-7 9 0 9 4 7-2 5-26-3-24 3-20 8-59 31-32 8-74 9-18-11-16-1-11 6-15 18zM1376 238l3 7 9 3 14-2 5-5-4-6-5-2-13 0zM74 240l5 6 8 2 11-1 7-5 0-4-9-5-13 0zM1179 216l-2 9 3 7 10 12 9 3 2-9-4-9-10-11zM302 216l-8 2-10 11-4 9 2 9 9-3 10-12 3-7zM1278 215l-2 8 5 9 11 10 7 1 1-6-5-10-9-9zM203 215l-8 3-9 9-5 10 1 6 7-1 11-10 5-9zM1113 215l-3 12 8 18 16 13 10-1 3-5 0-8-7-16-7-8-10-6zM1040 216l-2 14 8 16 16 12 8-1 4-11-9-20-14-11-7-1zM441 216l-4-2-7 1-14 11-9 20 4 11 8 1 16-12 8-16zM368 215l-10-1-10 6-7 8-7 16 0 8 3 5 10 1 16-13 8-18zM914 158l57 15 71 25 12 1 3-4-1-6-6-5-31-16-95-30zM567 158l-10-20-95 30-31 16-6 5-1 6 3 4 12-1 71-25zM1082 113l2 12 8 8 13 7 23 3 10-4 3-5-3-12-7-7-13-7-11-3-14 0-7 3zM399 113l-4-5-7-3-14 0-11 3-13 7-7 7-3 12 3 5 10 4 23-3 13-7 8-8zM1232 98l-2 7 5 11 7 8 17 12 26 9 11-1 6-5-1-10-6-9-22-17-22-8-14 0zM249 98l-5-3-14 0-22 8-22 17-6 9-1 10 6 5 11 1 26-9 11-7 13-13 5-11zM1470 92l-15 8-5 10 0 10 8 13 7 4 12 1 4-2 0-42zM6 92l-6 2 0 42 12 2 15-9 4-9 0-10-8-13zM1295 69l-2 3 5 10 9 8 9 2 1-4-5-9-9-8zM186 69l-8 2-9 8-5 9 1 4 9-2 9-8 5-10zM1007 62l-4 5 1 7 8 11 6 2 4-5-1-7-8-11zM474 62l-6 2-8 11-1 7 4 5 6-2 8-11 1-7z"/>
<path fill="#3a2d79" d="M1165 299l-9-3-12 3-7 10 3 10 8 5 11 0 8-4 5-10zM311 304l-2 6 3 8 10 6 14-1 5-4 3-7-2-8-9-7-13 0zM0 414l0 466 1481 0 0-466-21-5-3-4-5-21-12-9-10 0-8 4-11 18-5 4-60-5-29-9-51-31-36-16-20-2-30 5-84-17-66-7-5-4-5-11-11-7-12 0-6 3-15 14-19-2-17-14-10-3-13 1-16 8-53-4-37 95-35 114-24 112-11 103-2-1-2-41-9-67-23-106-35-114-37-95-53 4-16-8-13-1-10 3-17 14-19 2-15-14-6-3-12 0-11 7-5 11-5 4-66 7-84 17-30-5-20 2-36 16-51 31-23 8-66 6-5-4-11-18-8-4-10 0-12 9-5 21-3 4zM1379 238l0 4 7 4 10 0 8-5-3-5-13-2zM77 240l8 6 10 0 7-4-1-5-8-3-13 2zM1179 218l-1 6 5 11 6 7 9 3 2-6-4-10-8-9zM302 218l-9 2-8 9-4 10 2 6 6-1 9-9 5-11zM1278 218l-1 3 6 12 8 7 6 1 1-6-6-10-7-6zM203 218l-5 0-9 7-6 10 1 6 6-1 12-13zM1043 216l-4 5 0 8 6 14 13 12 12 0 2-13-6-13-13-12zM438 216l-10 1-13 12-6 13 2 13 12 0 13-12 6-14 0-8zM1115 216l-4 10 6 16 10 11 8 4 7-1 3-3 1-9-7-16-12-11zM366 216l-10 0-14 12-7 16 0 6 4 6 7 1 8-4 10-11 6-16zM915 156l50 14 74 25 9 0 2-2 0-5-4-4-21-12-84-29-17-4zM566 156l-9-17-17 4-84 29-21 12-4 4 0 5 2 2 17-2 66-23zM1084 114l3 12 17 12 10 3 15 0 9-6 1-6-4-8-18-12-19-3-8 2zM397 114l-6-6-8-2-19 3-18 12-4 8 1 6 9 6 15 0 10-3 17-12zM1234 101l-1 7 4 8 21 18 25 9 8 0 8-5 0-8-3-6-22-19-28-9-7 1zM247 101l-5-4-7-1-28 9-22 19-3 6 0 8 8 5 8 0 25-9 21-18 4-8zM1470 94l-14 8-4 8 0 10 9 13 16 3 4-2 0-38zM5 94l-5 2 0 38 12 2 8-3 6-6 3-7 0-10-8-12zM1297 71l1 9 7 7 8 3-1-9-7-7zM184 71l-5 1-10 9-1 9 5-1 10-9zM1007 64l-2 2 2 12 7 7 5 0 2-5-3-9-7-7zM474 64l-4 0-7 7-3 9 2 5 5 0 9-11z"/>
<path fill="#3c3286" d="M1433 377l-12 8-3 12 3 9 6 6 10 2 12-9 2-16-5-8zM44 377l-6 2-6 6-2 15 9 12 10 2 11-8 3-13-3-8-5-5zM1140 305l0 10 10 7 15-3 5-8-1-6-9-7-11 0zM312 305l1 11 10 6 13-2 6-8-1-7-9-7-11 0zM0 432l0 448 1481 0 0-448-49-1-32 21-15 5-16-9-40-40-23-19-38-25-24-11-19-3-22 7-13 0-77-18-92-10-6-3 4-10 0-8-5-7-8-3-9 1-8 6-2 5 1 11-2 2-33-4-5-4-4-11-12-7-15 1-19 13-52-6-35 90-35 114-24 112-11 103-2-1-2-41-9-67-23-106-35-114-35-90-52 6-19-13-15-1-12 7-4 11-5 4-33 4-2-2 1-11-2-5-8-6-9-1-8 3-5 7 0 8 4 10-6 3-92 10-77 18-13 0-22-7-19 3-24 11-38 25-23 19-40 40-16 9-15-5-32-21zM1381 240l7 5 10-1 3-3-4-5-11 0zM80 239l3 5 10 1 7-4-5-5-11 0zM1280 219l-1 5 3 6 8 8 6 1-2-10-8-8zM1181 219l-2 5 4 10 9 9 5 1 2-5-4-10-6-7zM300 219l-8 3-6 7-4 10 2 5 5-1 9-9 4-10zM201 219l-10 5-6 9 0 6 6-1 8-8 3-6zM1043 218l-3 4 0 8 6 13 15 12 8-1 2-13-6-12-9-9-6-3zM438 218l-7-1-15 12-6 12 2 13 8 1 15-12 6-13 0-8zM1116 217l-3 3-1 7 8 18 12 10 10 0 3-5 0-7-7-15-11-10zM365 217l-9 0-13 11-7 15 0 7 3 5 10 0 12-10 8-18-1-7zM915 156l50 13 64 22 12 1 3-4-6-7-22-12-93-29zM566 156l-8-16-93 29-22 12-6 7 3 4 12-1 64-22zM1086 115l2 10 16 12 10 3 13 0 7-3 3-5-3-10-15-11-10-3-14 0zM395 115l-9-7-18 1-15 7-8 9-1 7 3 5 7 3 17-1 15-7 7-7zM1236 102l-1 6 3 7 17 16 24 10 13 0 5-4-2-12-18-17-25-10-10 0zM245 102l-6-4-10 0-25 10-18 17-2 12 5 4 13 0 24-10 17-16 3-7zM1468 96l-7 3-6 7-2 6 1 10 10 11 14 1 3-1 0-35zM3 96l-3 2 0 35 14 1 12-10 2-12-8-13-7-3zM1299 73l-1 4 3 5 11 6-2-8zM182 73l-11 7-2 8 11-6 3-5zM1008 65l-2 2 2 11 7 6 4-1 1-4-3-8zM473 65l-9 6-3 8 1 4 4 1 7-6 2-4z"/>
<path fill="#3f3b97" d="M1431 380l-8 7-1 10 6 8 10 2 9-7 1-11-5-7zM42 380l-7 5-2 13 6 7 9 2 9-6 2-11-7-9zM991 306l-1 7 2 4 8 5 13-3 4-6-1-7-8-6-9 0zM465 306l-1 7 2 4 8 5 12-2 5-7-1-7-8-6-9 0zM1142 304l-1 9 5 6 14 1 8-7 0-7-8-7-11 0zM315 303l-2 10 8 7 14-1 5-6-1-9-7-5-11 0zM0 539l0 341 1481 0 0-341-13 3-51-10-66-86-41-46-32-24-31-13-15 0-15 10-14 0-69-19-119-15-67-14-5-4 1-13-2-4-10-6-11 0-7 3-11 15-59-6-24 60-24 70-27 97-19 97-9 90-2-1-2-41-9-67-23-106-35-114-33-85-59 6-11-15-7-3-11 0-10 6-2 4 1 13-9 5-84 17-98 11-69 19-14 0-15-10-15 0-13 4-30 17-29 25-44 52-54 71-51 10zM1384 239l1 3 6 2 7-3-3-4zM83 239l2 4 5 1 7-3-3-4zM1281 221l2 9 11 8-1-9-7-7zM200 221l-5 1-7 7-1 9 11-8zM1182 220l-2 5 6 12 6 5 5 0 1-4-3-8-7-8zM299 220l-6 2-7 8-3 8 1 4 5 0 6-5 6-12zM1043 219l-2 12 5 11 10 10 12 1 2-13-5-10-10-10zM438 219l-10 0-12 11-5 10 2 13 10 0 12-11 5-11zM1116 218l-3 11 7 15 12 10 9 0 3-4 0-8-6-13-9-9-6-3zM365 218l-7-1-15 12-6 13 0 8 3 4 9 0 12-10 7-15zM916 154l107 34 11 1 3-3-5-7-16-9-82-27-11-2zM565 154l-7-13-11 2-82 27-16 9-5 7 3 3 11-1zM1088 114l-1 5 4 8 13 9 10 3 12 0 9-6 0-7-4-6-12-8-9-3-15 0zM393 114l-7-5-15 0-9 3-12 8-4 6 0 7 9 6 12 0 10-3 13-9 4-8zM1238 102l-1 8 3 6 20 17 19 7 11 0 5-4 0-8-6-9-19-14-18-6-8 0zM243 102l-6-3-8 0-18 6-19 14-6 9 0 8 5 4 11 0 19-7 20-17 3-6zM1469 97l-12 8-2 16 8 10 14 2 4-2 0-32zM4 97l-4 2 0 32 13 2 11-8 2-15-7-10zM1301 75l0 5 9 6-1-5zM180 75l-8 6-1 5 9-6zM1007 67l1 10 9 6 2-3-2-8-5-5zM474 67l-3-1-7 6-2 6 2 5 9-6z"/>
<path fill="#4040a2" d="M1432 382l-6 5-1 9 5 6 8 1 6-4 2-8-4-7zM43 382l-6 4-2 8 4 7 10 2 6-5 1-9-5-6zM993 306l-1 6 7 7 9 0 7-7-1-6-7-5-7 0zM467 306l-1 6 7 7 9 0 7-7-1-6-7-5-7 0zM1162 301l-7-2-8 2-5 6 1 7 6 5 14-2 4-5 0-5zM23 549l1 5 5 4 23 6 4 3 0 3-25 50-25 68-6 10 0 182 1481 0 0-182-6-10-25-68-25-50 0-3 4-3 23-6 5-4 1-5-6-6-8-3-37-5-56-79-38-45-30-28-23-10-17 1-7 15-26-9-16 1-9 7-5 1-18-7-75-11-71-24-79-19-3-4 8-10 0-7-10-8-11 0-8 4-3 4 0 13-2 2-66-8-46 126-27 97-19 97-9 90-2-1-2-41-8-61-17-84-27-97-46-126-66 8-2-2 0-13-3-4-8-4-11 0-10 8 0 7 8 10-3 4-79 19-71 24-75 11-18 7-18-9-17 1-21 8-4-12-5-4-9-1-16 4-22 14-36 38-41 52-38 55-37 5-8 3zM319 301l-5 6 0 5 4 5 14 2 6-5 1-7-5-6-7-2zM1387 240l2 2 6-1-1-2zM86 241l6 1 2-2-7-1zM1283 222l1 8 9 6-1-7zM198 222l-9 7-1 7 9-6zM1183 221l-2 5 8 13 7 2 1-4-4-9zM298 221l-10 7-4 9 1 4 4 0 8-8 3-7zM1045 219l-4 8 5 14 14 12 8-1 2-9-7-15-6-6zM436 219l-6 0-12 9-7 15 2 9 8 1 14-12 5-14zM1116 219l-2 12 5 11 12 11 10 0 3-7-1-6-7-13-12-9zM365 219l-8-1-12 9-7 13-1 6 3 7 10 0 12-11 5-11zM916 154l52 14 41 15 19 3 2-3-3-5-16-9-73-24-16-3zM565 154l-6-12-16 3-73 24-16 9-3 5 2 3 19-3 41-15zM1089 115l1 9 16 12 20 2 8-6-2-9-15-11-16-3-8 2zM392 115l-4-4-8-2-16 3-15 11-2 9 8 6 20-2 16-12zM1238 108l4 9 18 15 18 7 10 0 6-4-3-12-19-16-20-7-10 1zM239 101l-10-1-20 7-19 16-3 12 6 4 10 0 18-7 18-15 4-9zM1469 98l-11 8-2 14 6 9 6 3 9 0 4-2 0-30zM5 98l-5 2 0 30 13 2 11-9 1-13-8-10zM1010 67l-3 3 1 5 8 7 2-6zM471 67l-8 9 2 6 8-7 1-5z"/>
<path fill="#4146ac" d="M1434 384l-5 3-1 8 3 4 7 1 4-3 1-7-4-5zM44 384l-5 4-1 7 3 4 7 1 5-5 0-6-2-3zM1195 387l2 12 15 14 12 5 13 0 6-5-1-11-15-14-18-6-9 1zM286 387l-5-4-9-1-18 6-15 14-1 11 6 5 13 0 12-5 15-14zM27 548l0 5 3 3 31 8 3 4-30 66-20 61-14 12 0 26 2 3-2 16 0 128 1481 0 0-128-2-6 2-39-14-12-20-61-30-66 3-4 31-8 3-3 0-5-16-8-38-4-49-71-43-50-15-21-15-12-16-6-15 2-3 4 0 7 9 14 19 18 14 28 2 13-6 3-29-11-15-1-31 26-7 0-30-17-70-57-5-16-10-8-25-3-37-20-56-18-50-12-76-11-45 123-27 97-19 97-9 90-2-1-2-41-8-61-17-84-27-97-45-123-76 11-50 12-56 18-37 20-25 3-10 8-4 14-7 8-64 51-30 17-7 0-31-26-15 1-29 11-6-3 2-13 14-28 19-18 9-14-1-9-6-4-21 3-21 15-15 21-32 36-60 85-38 4zM995 306l-1 6 5 5 9 0 5-5 0-5-4-4-8-1zM468 307l0 5 5 5 9 0 5-5-1-6-6-4-8 1zM1147 302l-4 5 3 9 13 2 5-3 2-8-4-5-5-2zM913 305l-2 8 5 7 5 2 11-1 9-9-1-6-8-6-11 0zM541 306l0 9 11 7 11-1 7-8-2-8-8-5-11 0zM316 305l-1 6 7 7 9 0 7-6-1-7-8-5-8 1zM1284 224l1 6 7 4-1-5zM197 224l-7 5-1 5 7-4zM1184 222l-2 2 2 8 6 7 5 1 1-4-3-7zM297 222l-9 7-3 7 1 4 5-1 8-12zM1045 220l-3 4 0 6 4 10 11 11 9 1 3-4 0-7-5-11-8-8zM436 220l-11 2-8 8-5 11 0 7 3 4 9-1 11-11 4-10 0-6zM1116 220l-2 8 7 16 12 9 8-1 2-10-6-13-12-10zM365 220l-9-1-12 10-6 13 2 10 8 1 12-9 7-16zM917 152l93 30 11 1 2-2-1-4-9-6-91-29zM564 152l-5-10-91 29-9 6-1 4 2 2 11-1zM1090 116l2 9 16 11 13 2 9-3 3-4-2-8-16-11-15-2zM391 116l-10-6-15 2-16 11-2 8 7 6 18-1 16-11zM1240 105l3 12 20 16 14 5 10 0 5-3 1-5-3-7-16-14-21-8-7 0zM241 105l-6-4-7 0-21 8-16 14-3 7 1 5 5 3 10 0 14-5 20-16zM1469 99l-10 7-2 14 7 9 13 2 4-2 0-28zM5 99l-5 2 0 28 12 2 10-7 2-14-7-9zM1010 68l-2 6 7 7 2-6zM471 68l-7 7 2 6 7-7z"/>
<path fill="#434eba" d="M1434 387l-3 7 5 3 4-3 0-4zM44 387l-3 7 5 3 4-3 0-4zM1198 388l-1 5 3 7 14 12 11 4 9 0 6-4-1-11-13-12-13-5-10 0zM283 388l-5-4-10 0-13 5-13 12-1 11 6 4 9 0 11-4 14-12 3-7zM0 711l0 16 8 9-8 53 0 91 1481 0 0-91-8-43 0-10 8-9 0-16-15-10-6-9-23-69-26-55 5-5 28-5 8-6 0-3-5-5-8-3-44-4-45-64-48-53-7-20-9-11-15-9-14-3-10 5 0 9 10 13 27 17 33 61 5 13 2 15-7 3-13-6-9-15-8-8-12-5-11 0-8 3-8 7-4 10 0 16-6 5-7 0-11-4-17-11-107-90-4-5 2-15-7-10-15-3-16 4-50-27-36-13-63-16-65-11-3 2-28 74-23 71-19 71-19 97-9 90-2-1-2-41-8-61-17-84-27-97-44-121-67 11-63 16-36 13-50 27-16-4-15 3-7 10 2 15-4 5-107 90-17 11-11 4-7 0-6-5 0-16-4-10-8-7-8-3-11 0-9 3-7 5-13 20-13 6-7-3 0-7 7-21 33-61 27-17 10-13 0-9-5-4-13 0-14 6-12 10-6 10-5 16-48 53-45 64-39 3-17 7-1 5 4 4 10 4 22 3 5 5-26 55-23 69-6 9zM998 305l-2 7 3 3 7 1 5-3 1-4-4-5zM473 304l-4 5 2 5 9 2 5-4-2-7zM1145 305l-1 6 6 6 9 0 6-6-2-7-6-3zM318 304l-2 7 6 6 9 0 6-6-1-6-4-3-8-1zM913 307l1 8 7 5 12-1 7-8-1-5-10-6-9 1zM542 306l0 8 9 6 9 0 8-7 0-6-7-6-9-1zM1183 224l3 10 8 5-1-9-6-6zM298 224l-4 0-6 6-1 9 8-5zM1045 221l-2 11 4 9 9 9 10 1 3-7-5-13-9-9zM436 221l-10 1-9 9-5 13 3 7 10-1 9-9 4-9zM1119 219l-4 4 0 8 5 11 8 8 7 3 5-1 2-12-4-9-10-10zM362 219l-9 2-10 10-4 9 2 12 8 0 12-10 5-11 0-8zM917 152l46 12 46 16 6 0 1-2-3-5-20-8-71-22zM564 152l-5-9-71 22-20 8-3 5 1 2 6 0 46-16zM1091 117l2 8 14 10 16 2 9-7-2-7-5-5-12-6-14-1zM389 115l-7-4-17 2-14 10-2 7 9 7 16-2 14-10zM1241 106l3 11 15 13 17 7 11 0 4-3-2-11-16-14-18-7-8 0zM240 106l-6-4-8 0-18 7-16 14-2 11 4 3 11 0 17-7 15-13zM1469 100l-9 6-3 9 1 5 6 8 13 2 4-2 0-26zM5 100l-5 2 0 26 13 2 8-6 3-9-1-5-8-9zM1009 70l2 8 4 2-1-9zM472 70l-5 1-1 9 4-2z"/>
<path fill="#4454c3" d="M1252 490l-3 8 1 6 7 9 6 3 18 0 10-9 1-11-3-6-8-6-15-2zM195 487l-6 9 0 8 7 10 8 3 10 0 10-4 5-5 3-7-1-7-8-9-17-3zM1199 389l2 10 10 10 16 6 8-1 4-4-2-10-11-10-12-5-9 0zM282 389l-6-4-9 0-12 5-11 10-2 10 4 4 8 1 16-6 10-10zM1249 382l1 12 13 13 20 8 6 0 5-4-1-12-14-14-14-6-11 0zM232 382l-5-3-11 0-14 6-14 14-1 12 5 4 6 0 20-8 13-13zM0 715l1 9 12 14-11 75-2 67 1481 0-2-67-11-67 0-8 12-14 1-9-24-19-27-77-24-49 3-7 20-2 17-5 4-4-2-6-18-6-35 0-6-2-38-51-18-18-7-3 1 9 24 64 0 7-6 9-5 1-5-3-19-21-15-7-17 1-25 14-11 11-8 2-18-13-73-74-63-52-1-4 5-7 1-10-6-7-12-2-20 8-33-19-43-20-66-19-65-12-7 0-19 48-24 70-20 69-24 112-11 103-2-1-2-41-8-61-17-84-27-97-43-118-63 10-51 13-39 14-61 33-20-8-12 2-6 7 1 10 5 7-1 4-63 52-73 74-18 13-8-2-11-11-25-14-17-1-15 7-19 21-9 3-7-10 0-7 24-64 1-9-4 1-26 26-33 45-6 2-35 0-15 4-5 4 0 4 4 4 17 5 20 2 3 7-24 49-27 77zM997 309l6 6 7-4-3-6-7 0zM471 308l0 3 6 4 7-5-3-5-7 0zM1145 307l1 6 7 4 8-2 3-4-1-5-5-4-7 0zM318 306l0 7 7 4 8-2 3-4 0-4-6-5-7 0zM914 307l0 6 9 6 11-2 5-7-1-4-8-5-8 0zM543 306l0 7 9 6 9-1 6-5 0-6-8-6-8 0zM1184 225l2 8 8 5-3-10zM297 225l-7 3-3 10 8-5zM1046 221l-3 9 4 10 10 10 8 1 3-4-3-14-11-11zM435 221l-8 1-11 11-3 8 0 6 3 4 8-1 10-10 4-10zM1117 221l-2 8 7 15 11 8 7-1 2-9-6-13-9-8zM364 221l-10 0-9 8-6 13 2 9 7 1 11-8 7-15zM918 150l59 14-55-19zM563 150l-4-5-55 19zM1092 117l2 8 15 10 15 1 6-4-1-9-12-9-19-2zM389 117l-6-5-19 2-12 9-1 9 6 4 15-1 15-10zM1242 107l3 10 15 13 15 6 12 0 3-3-2-10-16-14-16-6-9 0zM239 107l-5-4-9 0-16 6-16 14-2 10 3 3 12 0 15-6 15-13zM1466 102l-7 8 0 10 5 7 13 2 4-2 0-24-4-2zM4 101l-4 2 0 24 13 2 7-5 3-11-3-7-5-4zM1010 71l0 4 5 3 0-4zM471 71l-5 3 0 4 5-3z"/>
<path fill="#4559cb" d="M1254 491l-2 12 5 7 8 4 17-2 8-11-2-9-12-8-11 0zM193 492l-1 12 4 6 8 4 15-1 10-10-2-12-11-7-14 1zM1201 389l1 10 9 9 16 6 7-1 3-3 0-8-14-13-8-3-10 0zM280 389l-4-3-10 0-8 3-12 10-3 6 1 5 3 3 7 1 16-6 9-9zM1250 383l1 11 12 12 18 7 8-1 4-4-3-12-14-12-10-4-12 0zM231 383l-4-3-12 0-10 4-14 12-3 12 4 4 8 1 18-7 12-12zM2 717l2 7 11 10 3 6-11 70-3 70 1473 0-2-60-12-80 3-6 11-10 2-7-6-7-17-10-5-6-23-66-29-58 0-3 7-5 25-2 15-5 3-6-4-4-20-5-39 1-8-3-10-10-5 0 1 13-10 10-1 4 5 7 16 10 8 37-3 10-5-2-28-28-16-11-13-2-13 7-3-2 16-9 5-14 0-7-4-10-15-11-17 0-16 9-14 17-7 16-6 5-10-8-33-43-34-38-35-33-52-42 0-3 10-10 0-7-4-5-14-2-13 11-5 0-31-18-53-25-61-18-70-12-18 46-24 70-20 69-24 112-11 103-2-1-2-41-8-61-17-84-27-97-42-116-70 12-61 18-53 25-31 18-5 0-13-11-14 2-4 5 0 7 10 10 0 3-74 62-42 45-38 49-10 8-6-5-7-16-14-17-16-9-17 0-15 11-4 10 0 7 5 14 16 9-3 2-13-7-13 2-16 11-28 28-5 2-3-10 8-37 16-10 5-7-1-4-10-10 1-13-5 0-10 10-8 3-39-1-20 5-4 4 3 6 15 5 25 2 7 5 0 3-29 58-23 66-5 6-17 10zM772 830l1-6 6-6 25-7 36 1 7 3 4 5 0 4-12 10-35 9-20-3zM1000 307l0 5 5 1 3-2-1-4zM473 308l3 5 6-3-3-4zM1146 307l1 6 5 3 5 0 6-5-4-8-9 0zM318 308l1 5 5 3 5 0 6-5 0-4-4-4-9 0zM915 308l1 6 7 4 11-2 4-6-1-4-6-4-10 0zM543 309l1 4 8 5 9-1 5-5-1-6-5-4-10 0zM1185 226l3 9 5 2-2-8zM296 226l-6 3-2 8 5-2zM1046 222l-2 2 0 9 4 8 10 9 7 0 3-7-7-15-8-6zM435 222l-7 0-8 6-7 15 3 7 7 0 10-9 4-8 0-9zM1118 221l-2 11 5 10 7 7 7 3 6-3 0-10-4-8-9-9zM363 221l-10 1-9 9-4 8 0 10 2 2 7 0 11-9 5-10zM1093 118l2 7 13 9 11 2 10-4-1-9-13-9-14-2zM388 118l-8-6-14 2-13 9-1 9 10 4 11-2 13-9zM1244 106l-1 5 3 6 15 13 17 6 11-3 0-6-4-7-11-9-16-7zM237 106l-14-2-11 4-16 12-4 7 0 6 11 3 17-6 15-13 3-6zM1468 102l-5 3-4 7 1 9 8 7 10 0 3-2 0-22zM4 102l-4 2 0 22 10 3 9-5 3-12-7-9z"/>
<path fill="#4661d6" d="M1356 556l6 6 11 4 17 1 15-6 33-3 8-4 2-4-3-4-15-5-29 0-34 3-10 7zM33 550l2 4 8 4 33 3 15 6 17-1 11-4 6-6-1-5-10-7-34-3-29 0-9 2zM1255 492l-2 4 1 8 10 8 14 0 10-10-2-10-11-7-12 1zM195 492l-2 10 10 10 14 0 6-3 5-8-2-9-11-7-12 1zM1202 389l1 10 11 10 11 4 11-3 0-8-11-11-9-4zM279 389l-14-2-9 4-11 11 0 8 11 3 11-4 11-10zM1251 384l1 10 14 13 16 5 9-4 1-5-3-7-9-9-17-7-9 1zM230 384l-7-4-17 4-14 12-3 7 1 5 9 4 16-5 14-13zM5 716l0 6 18 18-11 71-3 69 1463 0-2-59-12-81 18-18 0-6-7-7-16-8-8-7-26-67-20-33-3 0 1 14 18 75 0 10-2 2-14 2-7-5-28-51-15-15-6-2-36 15-5 0-5-5-6-18-5-37 4-6 14-3 12-9 2-13-8-12-8-4-10-1-8 2-11 7-14 22-8 30-6 3-49-68-33-38-35-33-56-44 1-4 9-3 5-5 1-5-4-6-5-2-9 1-5 4-3 9-4 2-69-37-37-15-46-13-62-12-7 0-23 62 58 12 14 16 6 3 10 0 13-4 20 8 62 33 36 26 89 84 24 30 19 30 13 31 1 15-7 7-35 5-26 0-14-3-11-10-29-40-28-33-39-36-38-27-54-29-25-10-44-13-40-7-4 1-28 116-11 71-5 60-2-1-4-59-11-71-12-56-17-61-43 7-44 13-25 10-54 29-38 27-39 36-28 33-29 40-11 10-14 3-26 0-37-6-5-6 0-11 5-16 9-19 19-30 24-30 89-84 36-26 62-33 20-8 13 4 10 0 6-3 14-16 58-12-23-62-7 0-62 12-46 13-37 15-69 37-4-2-3-9-5-4-9-1-5 2-4 6 1 5 5 5 9 3 1 4-56 44-35 33-33 38-49 68-6-3-8-30-14-22-11-7-8-2-15 3-10 11 0 14 7 8 18 5 6 7-3 27-8 28-5 5-5 0-36-15-6 2-11 10-10 14-22 42-7 5-10 0-6-4 0-10 17-70 1-20-9 10-13 24-26 67-8 7-16 8zM756 840l13-31 5-5 12-4 19-2 49 2 17 6 6 6 2 6-3 8-8 7-24 10-27 6-39 5-16-5zM1150 304l-3 7 4 4 6 0 5-4-3-7zM322 304l-3 3 3 7 8 1 3-2 1-6-3-3zM916 308l0 4 6 5 8 0 7-6-1-5-7-4-8 1zM545 306l0 7 6 4 8 0 6-5-1-6-7-4zM1186 227l0 4 6 5-1-6zM295 227l-5 3-1 6 4-2zM1047 222l-3 4 2 11 8 10 10 3 3-3-3-14-8-9zM434 222l-9 2-8 9-3 7 0 7 3 3 10-3 8-10 2-11zM1119 221l-3 9 4 10 10 10 8 1 3-4-3-14-9-10zM362 221l-10 2-9 10-3 8 0 6 3 4 8-1 10-10 4-10zM1094 118l1 6 6 6 9 4 12 1 7-6-2-6-13-9-14-1zM386 116l-5-3-14 1-8 4-7 11 7 6 15-2 12-9zM1244 108l5 12 13 10 14 5 8 0 4-3-3-11-12-10-18-7-8 1zM237 108l-3-3-8-1-18 7-12 10-3 11 4 3 8 0 14-5 13-10zM1471 102l-10 7-1 9 4 7 11 3 6-3 0-20zM7 102l-7 3 0 20 11 3 9-7 1-9-6-8z"/>
<path fill="#4666dd" d="M1446 548l-13-6-26-1-38 4-8 4-3 7 9 7 22 2 17-5 30-2 7-3zM35 548l0 4 10 6 30 2 17 5 22-2 9-7-3-7-13-5-53-3-13 3zM1255 494l1 11 8 6 13 0 10-10-3-10-9-5-12 1zM195 494l0 10 5 5 8 3 13-3 6-9-3-9-9-5-12 1zM1083 390l-12-1-5 5 1 8 6 3 9-2 4-5zM396 392l-1 6 6 6 7 1 7-5 0-6-5-5-7-1zM1203 390l1 9 11 10 8 3 8 0 4-3-1-9-10-9-11-4zM278 390l-10-3-11 4-10 9-1 9 4 3 16-3 11-10zM1252 384l0 9 12 12 16 6 7-1 3-3 0-8-11-12-14-6-8 0zM229 384l-5-3-8 0-14 6-11 12 0 8 3 3 7 1 16-6 12-12zM7 716l1 7 24 20-13 74-3 63 19 0 0-40 6-87 5-11 16-5 21 1 6 5-11 35-7 33-4 41 0 28 1347 0 0-28-4-41-7-33-11-33 4-6 7-2 22 1 13 7 7 75 1 60 19 0-3-63-13-74 24-20 1-7-11-9-32-13-11 5-16 3-35 0-20 10-14 13-11 3-2-2 0-9-4-4-17-7-4-5-1-6 2-3 19 5 25 1 20-5 6-6 0-4-4-5-17-6-30 0-20 7-6-6-10-96 3-6 21-4 8-6 3-13-5-9-8-5-14-1-16 10-12 26-6 34-5 6-9-8-34-55-47-57-40-37-57-43-44-25-66-30-52-15-64-12-21 54 57 12 5 4 5 11 10 8 7 0 13-8 6 1 64 31 57 40 55 51 41 42 37 53 26 55 12 48 0 17-8 10-38 1-38-5-13-16-33-58-42-58-41-43-46-35-42-24-38-17-39-12-49-8-12 46 57 9 52 16 47 23 41 28 46 42 29 38 21 44 2 18-3 3-35-2 9-7 0-6-5-11 5-9 0-7-4-4-12-4-30-39-30-30-32-25-35-21-44-19-34-10-41-7-9 0-6 29 41 5 43 12 44 20 30 19 24 19 34 35 29 40 7 14-2 6-31 0-24-4-10-8-14-19-25-25-39-28-28-14-31-11-58-9-10 96-2-1-1-30-8-65-58 9-31 11-28 14-39 28-25 25-14 19-10 8-25 4-30 0-2-6 7-14 29-40 34-35 24-19 30-19 44-20 43-12 41-5-6-29-9 0-41 7-34 10-44 19-35 21-32 25-30 30-30 39-6 1-10 7 0 7 5 7-5 19 9 7-35 2-3-3 2-18 21-44 29-38 46-42 41-28 47-23 52-16 57-9-12-46-53 9-50 17-57 30-41 29-43 41-23 28-35 51-28 50-13 16-38 5-35 0-5-2-6-9 0-17 6-29 9-27 29-57 37-50 90-86 57-40 64-31 6-1 13 8 7 0 10-8 5-11 5-4 57-12-21-54-64 12-52 15-34 14-76 41-57 43-40 37-44 53-37 59-9 8-5-6-6-34-12-26-16-10-14 1-8 5-5 9 3 13 8 6 19 3 5 7-10 96-6 6-20-7-30 0-14 4-7 7 1 6 5 4 20 5 17 0 24-6 4 1-1 10-20 10-5 6 1 7-2 2-11-3-14-13-20-10-35 0-16-3-11-5-32 13zM907 807l0 11-3 6-8 8-14 8-28 9-57 9-33 9-11-1-18-8-19-4-13-7-12-16 0-7 5-9 6-5 6 0 17 25 8 8 8 0 21-20 5-22 5-9 5-5 9-3 43-2 53 3 15 7zM1148 307l3 7 7 0 3-3-1-5-3-2zM322 305l-2 6 3 3 7 0 3-3-2-6zM917 307l0 5 5 4 8 0 6-5-1-5-5-3-8 0zM545 308l1 5 5 3 8 0 5-4 0-5-5-4-8 0zM1187 228l1 5 3 1zM294 228l-4 6 3-1zM1047 223l-2 2 2 13 9 10 8 1 3-7-4-10-8-8zM434 223l-8 1-8 8-4 10 3 7 8-1 9-10 2-5zM1119 222l-2 2 0 9 4 8 8 8 9 1 3-8-4-10-9-9zM362 222l-9 1-9 9-4 10 3 8 9-1 8-8 4-8 0-9zM1095 118l1 6 12 9 15 1 5-5-1-5-12-9-11-2zM386 118l-4-4-13 0-9 4-6 6-1 5 5 5 15-1 12-9zM1246 107l-1 5 3 6 10 9 16 7 13-2-2-10-11-10-17-7zM235 107l-11-2-17 7-11 10-2 10 13 2 16-7 10-9 3-6zM1470 103l-8 6-1 10 6 7 9 1 5-3 0-18zM6 103l-6 3 0 18 5 3 7 0 6-4 2-12-6-7z"/>
<path fill="#466be3" d="M1472 716l-16-11-24-6-54 9-10 7-1 6 5 6 11 5 61 6 22-10 6-6zM9 716l0 6 6 6 22 10 61-6 11-5 5-6-1-6-10-7-54-9-24 6zM1303 682l3 7 15 5 26-1 11-5 2-4-5-6-14-4-25 1zM121 684l5 6 13 4 26-1 13-7-3-7-15-5-29 2zM566 768l0 7 5 5 8 2 47-43 27-18 40-16 19-4 18 0 2 3-12 15-7 18-4 22 0 18 6 25 0 11 5 12 7 7 9 4 13-2 14-14 2-23 6-22 0-24-3-14-7-18-12-15 2-3 8-1 36 7 33 14 32 22 39 36 8 1 8-8-5-16-14-20-17-17-24-18-40-20-31-9-38-4-5 56-2-1-4-55-47 6-32 11-30 16-18 13-27 27zM766 550l-5 23 33 3 53 14 42 19 32 20 41 35 58 71 7 1 2-2-1-12 8-8 0-8-8-6-10-2-29-38-29-29-35-27-23-14-48-22-45-13zM715 550l-43 5-45 13-48 22-23 14-35 27-29 29-29 38-10 2-8 6-1 6 9 10-1 12 2 2 7-1 58-71 41-35 32-20 42-19 53-14 33-3zM1446 550l-10-7-25-2-42 5-6 3-4 6 4 5 7 3 18 1 12-4 30-1 12-4zM35 550l4 5 12 4 30 1 12 4 18-1 7-3 4-5-4-6-6-3-42-5-25 2zM1257 493l-1 10 3 4 9 4 13-3 5-8-1-6-9-7-11 0zM196 494l1 11 11 6 11-2 7-10-2-6-8-6-11 0zM784 483l-12 42 60 9 62 20 35 18 28 18 33 26 33 32 27 37 18 34 15 44 4 22 0 15-4 6-6 0-23-6-32-4-24 0-20 3-17 7-31 26-26 13-41 11-87 12-34 12 411 0-2-30-42-112-36-66-50-66-28-28-30-24-64-38-57-22-39-9zM697 483l-21 2-39 9-57 22-64 38-30 24-28 28-50 66-36 66-42 112-2 30 411 0-54-23-73-39-43-15-61-9-58 2-52 10-4-6 0-15 4-22 15-44 18-34 27-37 33-32 33-26 28-18 35-18 62-20 60-9zM1068 394l0 5 5 4 9-2 3-5-5-6-8 0zM397 393l0 6 6 4 5 0 5-4 0-5-4-4-8 0zM1203 391l1 7 9 9 9 4 10 0 3-3-1-7-9-9-9-4-9 0zM278 391l-4-3-9 0-9 4-9 9-1 7 3 3 10 0 9-4 9-9zM1253 384l-1 7 11 13 15 6 11-3-1-10-13-12-14-4zM228 384l-8-3-14 4-13 12-1 10 11 3 15-6 11-13zM836 329l-18 48 56 12 6 6 5 13 8 6 7 0 14-10 8 2 45 21 28 16 50 37 91 88 22 28 30 49 12 25 16 45 14 69 5 96 87 0-3-57-8-41-13-46 0-5 11-7 4-6-4-5-14-5-5-5-6-40-7-93 2-2 21-1 12-8 2-12-3-6-9-6-11-1-9 3-7 6-4 9-1 12-7 12-5 37-4 6-3 0-13-16-32-55-41-51-43-41-49-37-55-33-58-27-55-17zM645 329l-69 13-55 17-58 27-55 33-49 37-43 41-41 51-32 55-13 16-3 0-4-6-5-37-7-12-1-12-4-9-7-6-9-3-11 1-9 6-3 6 2 12 12 8 21 1 2 2-7 93-6 40-5 5-14 5-4 5 4 6 11 7 0 5-18 69-5 36-1 39 87 0 5-96 14-69 12-35 16-35 30-49 22-28 91-88 50-37 28-16 45-21 8-2 14 10 7 0 8-6 5-13 6-6 56-12zM1149 307l2 6 9-2-3-6zM322 306l-1 5 2 2 9-2-1-5zM918 307l0 5 7 4 6-1 4-4-1-5-6-3zM546 308l0 3 8 5 9-4 0-5-7-4-6 1zM1046 224l-1 8 5 10 9 7 6-1 1-9-4-8-10-8zM435 224l-6-1-10 8-4 8 1 9 6 1 9-7 5-10zM1120 222l-3 3 0 6 5 11 10 8 7-1 1-10-4-8-7-7zM361 222l-9 2-7 7-4 8 1 10 7 1 10-8 5-11 0-6zM1096 118l3 9 8 5 13 2 7-5-1-5-10-8-14-2zM385 118l-6-4-14 2-10 8-1 5 7 5 13-2 8-5zM1246 109l2 8 11 10 18 7 9-3-2-9-11-10-14-6-10 0zM235 109l-3-3-10 0-14 6-11 10-2 9 9 3 18-7 11-10zM1469 104l-7 7 0 9 7 6 8 0 4-3 0-16-5-3zM5 104l-5 3 0 16 4 3 8 0 5-3 3-9-6-9z"/>
<path fill="#4771e9" d="M1018 862l-7-7-16-6-22-1-100 18-85 6-45 8 278 0zM459 880l279 0-65-17-70-22-32-6-27-2-38 3-30 10-14 12zM738 712l-11 8-7 13-6 26 0 25 3 13-1 17 3 8 10 10 14 3 10-4 11-15-1-20 4-18 0-18-4-21-7-16-7-8-7-3 0 11-2 1zM1471 718l-3-5-10-6-26-6-44 7-11 5-3 7 5 6 14 5 54 4 18-8zM10 718l6 9 18 8 54-4 14-5 5-6-3-7-11-5-44-7-26 6-10 6zM1307 682l2 6 17 5 17-1 12-6 0-4-5-4-13-3-18 1zM126 682l2 6 17 5 17-1 12-6-2-6-16-5-18 1zM746 670l-3 27 36 3 37 12 36 21 46 41 9 1 3-3-2-13-16-24-19-18-21-15-26-14-24-9-31-7zM735 670l-25 2-31 7-24 9-26 14-21 15-19 18-16 24-2 14 3 3 8-1 47-42 36-21 37-12 36-3zM766 551l-4 20 37 4 48 13 48 22 28 18 25 20 28 28 29 39 13 12 4 1 2-5 11-9 1-7-2-3-8-4-10-1-26-35-25-26-48-37-43-23-34-13-40-10zM715 551l-34 4-40 10-34 13-43 23-48 37-25 26-26 35-10 1-8 4-2 3 1 7 11 9 2 5 4-1 13-12 29-39 28-28 25-20 28-18 48-22 38-11 47-6zM1445 550l-3-4-8-3-29-1-39 6-5 4 0 5 12 6 16 0 14-4 30-1 8-3zM36 550l1 3 11 5 30 1 14 4 16 0 12-6 0-5-5-4-39-6-24 0-11 3zM1281 539l-8 12 1 9 4 4 21 2 12-8 2-10-2-5-7-6-13-2zM170 543l-2 11 11 11 18 1 10-6 1-9-3-7-11-8-11-1zM1257 494l0 9 10 7 10-1 8-8-1-7-8-6-8-1zM201 490l-5 7 4 10 14 3 10-7 1-6-5-7-7-3zM783 484l-10 39 38 5 39 9 57 21 55 33 27 21 37 35 34 49 15 31 12 34 11 54 4 65 34 0-1-34-5-32-8-31-15-41-19-39-19-32-49-65-50-46-31-21-34-19-52-22-39-10zM698 484l-21 2-49 12-52 22-34 19-31 21-50 46-49 65-19 32-19 39-15 41-8 31-5 32-1 34 34 0 4-65 11-54 12-34 15-31 34-49 29-28 35-28 55-33 57-21 39-9 38-5zM1070 394l3 7 6 0 4-4-3-6-6 0zM401 391l-3 3 1 5 9 2 3-7-4-3zM1204 391l0 6 8 9 12 5 10-3-2-9-8-7-11-4zM277 391l-9-3-11 4-8 7-2 9 10 3 12-5 8-9zM1253 385l1 9 10 10 11 5 13-2 1-7-2-4-11-10-11-4-7 0zM228 385l-5-3-7 0-11 4-11 10-2 4 1 7 13 2 11-5 10-10zM835 331l-16 43 56 12 5 5 5 15 6 6 8 1 13-11 8 0 51 24 26 15 47 35 97 94 25 33 22 36 18 37 14 39 17 76 7 89 69 0-3-65-17-81 3-6 11-5 3-5-3-4-16-6-5-7-15-121-4 5-7 39-7 4-11-13-35-63-31-40-39-41-57-45-70-42-56-25-53-16zM646 331l-66 12-53 16-56 25-70 42-57 45-39 41-31 40-35 63-11 13-7-4-7-39-4-5-15 121-5 7-16 6-3 4 3 5 11 5 3 6-17 81-3 65 69 0 7-89 17-76 14-39 18-37 22-36 25-33 97-94 47-35 26-15 51-24 8 0 13 11 8-1 6-6 4-13 6-7 56-12zM1150 308l1 4 3 1 5-3-2-4zM322 308l4 5 5-3-2-4zM919 307l0 5 5 3 5 0 5-4-1-5-4-2-6 0zM548 306l-1 5 5 4 10-3 0-5-4-3zM1047 224l-2 6 4 10 7 7 8 1 2-8-5-10-8-6zM434 224l-6 0-8 6-5 10 2 8 8-1 7-7 4-10zM1119 223l-2 7 4 10 8 8 9 1 2-8-5-11-8-7zM362 223l-8 0-8 7-5 11 2 8 9-1 8-8 4-10zM1097 118l1 7 8 6 15 2 5-4-2-7-9-6-14-1zM384 118l-4-3-14 1-9 6-2 7 5 4 15-2 8-6zM1247 109l2 8 11 10 14 6 11-2 1-3-4-8-10-8-16-6zM234 109l-9-3-16 6-10 8-4 8 1 3 11 2 14-6 11-10zM1469 105l-6 5-1 7 3 6 9 3 7-4 0-14-4-3zM4 105l-4 3 0 14 7 4 6-1 5-5 0-10-6-5z"/>
<path fill="#4778f0" d="M739 717l-12 9-8 19-3 18 2 28-2 18 4 14 8 8 17 3 10-5 8-11-1-26 3-27-3-20-8-19-12-9 0 6-2 1zM1469 717l-7-7-12-5-26-2-36 7-8 5-1 6 4 4 14 5 47 4 22-9zM12 717l3 8 22 9 42-3 15-4 8-6-1-6-8-5-36-7-26 2-12 5zM1310 682l0 4 4 3 14 3 13-1 11-5-2-6-15-4-15 1zM129 682l0 4 4 3 14 3 13-1 11-5-2-6-15-4-15 1zM745 673l-2 22 39 4 40 14 30 18 47 40 7-1-1-12-15-23-39-32-24-13-30-11-30-6zM736 673l-22 0-30 6-23 8-26 13-22 15-22 20-12 17-5 17 3 3 6-1 46-40 30-18 40-14 39-4zM766 552l-4 17 40 5 32 8 37 14 27 14 25 16 33 27 23 24 32 42 11 2 13-8 1-4-4-6-16-3-4-3-19-27-26-28-23-20-33-23-34-18-42-16-37-9zM715 552l-32 4-37 9-42 16-34 18-33 23-23 20-26 28-19 27-4 3-16 3-4 6 1 4 13 8 11-2 27-36 28-30 33-27 25-16 27-14 37-14 32-8 40-5zM1444 549l-11-6-25-1-37 5-7 3-2 6 9 6 15 1 13-4 32-1 11-4zM37 549l2 5 11 4 32 1 13 4 15-1 9-6-1-5-8-4-37-5-25 1zM1280 541l-5 8 0 7 8 8 16 1 12-9 0-10-7-8-14-2zM171 544l-1 12 9 8 16 1 7-3 4-6-2-11-10-8-11-1-6 2zM1258 494l0 9 8 6 12-1 6-7-1-7-9-6-10 1zM202 490l-5 6 0 5 6 7 12 1 8-6 1-6-5-7-5-2zM783 485l-10 37 58 9 37 10 34 13 34 18 29 19 62 53 34 48 22 47 17 63 5 36 2 42 25 0-4-57-10-42-13-36-33-64-53-73-22-23-27-23-29-20-37-21-29-14-29-10-42-10zM698 485l-21 2-42 10-29 10-29 14-37 21-29 20-27 23-22 23-53 73-33 64-20 63-6 38-1 34 25 0 2-42 5-36 17-63 22-47 34-48 62-53 29-19 34-18 34-13 37-10 58-9zM1075 392l-3 2 0 4 5 2 4-3 0-3zM400 394l0 3 4 3 5-2 0-4-3-2zM1205 391l1 8 10 9 6 2 11-2-1-8-7-7-9-4zM276 391l-11-2-9 4-7 7-1 8 3 2 14-2 10-9zM1254 385l0 8 9 10 15 6 7-1 3-3-3-11-10-8-13-4zM227 385l-8-3-13 4-10 8-3 11 3 3 7 1 15-6 8-8zM835 332l-15 40 31 5 27 8 4 6 4 15 8 6 9-2 10-11 6 0 55 26 24 14 41 30 102 98 22 28 22 34 19 36 14 35 20 75 9 75 1 30 61 0 0-31-4-42-15-74 3-5 12-5 3-5-3-4-17-6-4-5-14-84-9 16-4 2-4-2-38-62-10-22-42-52-43-41-64-46-56-31-60-25-43-12zM646 332l-62 12-43 12-60 25-56 31-64 46-43 41-42 52-6 15-34 59-8 10-4 2-4-2-9-16-14 84-4 5-13 4-7 6 3 5 12 5 3 5-15 74-4 42 0 31 61 0 8-93 10-48 12-39 14-35 19-36 22-34 22-28 102-98 41-30 24-14 55-26 6 0 10 11 9 2 8-6 4-15 4-6 27-8 31-5zM1152 307l0 4 5 0-1-4zM323 309l4 3 3-2-1-3zM920 307l0 5 3 2 6 0 4-3-3-6zM548 308l0 3 4 3 9-2 0-5-3-2-7 0zM1048 224l-2 2 2 12 7 8 8 2 2-10-3-6-7-7zM433 224l-7 1-7 7-3 6 2 10 8-2 7-8 2-5zM1120 223l-2 2 2 13 8 9 9 2 3-7-4-10-8-8zM361 223l-8 1-8 8-4 10 3 7 9-2 8-9 2-5zM1097 120l5 8 8 4 9 1 6-4-1-6-11-7-10-1zM384 120l-6-5-10 1-11 7-1 6 6 4 9-1 8-4zM1249 108l-1 6 3 5 13 10 8 3 10 0 3-3-3-8-9-8-14-6zM232 108l-10-1-14 6-9 8-3 8 3 3 10 0 8-3 13-10 3-5zM1471 105l-7 5-1 8 5 6 7 1 6-4 0-12zM7 105l-7 4 0 12 6 4 5 0 5-3 2-10-5-6z"/>
<path fill="#467df4" d="M738 721l-10 8-8 20-3 65 9 15 17 5 14-7 6-10 1-11-3-10 2-35-3-16-7-16-7-7-4-1-2 3zM1383 716l0 5 9 6 37 6 26-3 8-4 5-7-6-8-22-7-36 3-14 4zM13 718l5 8 21 7 44-4 15-8 0-5-7-5-34-7-26 2-12 5zM1312 683l2 4 14 4 13-1 9-6-3-4-11-3-16 1zM131 683l2 4 14 4 13-1 9-5-3-5-11-3-15 1zM745 673l-2 21 35 3 38 12 38 22 41 35 5 2 3-2-1-10-12-19-24-22-24-16-42-18-27-6zM736 673l-28 2-27 6-42 18-24 16-24 22-13 21 0 9 7 0 42-36 38-22 38-12 35-3zM766 553l-4 15 36 4 34 8 38 14 36 19 49 37 32 34 24 34 12 2 11-6 1-7-4-4-18-3-22-30-21-23-31-27-26-18-37-20-30-12-35-10zM715 553l-30 4-41 10-39 15-37 20-26 18-31 27-21 23-22 30-18 3-4 4 1 7 11 6 12-2 6-6 4-10 27-33 28-27 40-29 36-19 38-14 34-8 36-4zM1443 549l-12-6-20-1-17 4-21 1-9 4-1 5 10 6 15 0 14-4 28 0 11-4zM38 549l2 5 11 4 28 0 14 4 15 0 10-6-1-5-9-4-21-1-17-4-20 1zM1278 545l-1 12 10 7 15-1 7-6 2-5-2-8-10-7-12 1zM171 546l1 11 10 7 15-1 5-3 3-6-2-9-12-8-12 1zM1259 494l-1 7 7 7 11 0 7-6 0-6-5-6-12-1zM199 494l-1 8 7 6 11 0 7-7-1-7-7-5-9 0zM783 486l-10 35 58 9 31 8 43 16 32 17 32 21 64 54 22 29 24 45 14 39 14 67 3 54 19 0-4-56-7-32-13-39-33-65-59-84-26-26-26-21-63-38-48-20-50-12zM698 486l-17 1-50 12-48 20-63 38-26 21-26 26-59 84-33 65-13 39-7 32-4 56 19 0 3-54 14-67 14-39 24-45 22-29 64-54 32-21 32-17 50-18 44-10 38-5zM1074 396l4 1 1-2zM402 395l1 2 4-1zM1206 391l1 9 8 7 8 3 9-2-1-9-7-6-10-4zM275 391l-8-2-10 4-7 6-1 9 9 2 8-3 8-7zM1254 386l3 11 10 8 8 3 8 0 4-3-1-9-10-9-10-4-8 0zM227 386l-4-3-8 0-10 4-10 9-1 9 4 3 16-3 10-8zM834 334l-13 35 57 13 4 5 2 13 7 10 8 1 4-2 11-13 29 11 49 26 27 18 27 22 99 96 21 27 23 36 16 30 14 34 13 41 9 40 10 84 0 19 55 0-3-65-15-84 15-8 3-6-23-12-14-61-12 0-8-8-36-63-9-22-12-12-28-37-24-25-48-39-39-26-39-22-45-21-38-14-61-15zM647 334l-36 6-61 15-38 14-45 21-39 22-39 26-39 31-33 33-28 37-12 12-9 22-36 63-8 8-12 0-14 61-23 12 3 6 15 8-15 84-3 65 55 0 0-19 10-84 9-40 13-41 14-34 16-30 23-36 21-27 99-96 27-22 27-18 49-26 29-11 11 13 4 2 8-1 7-10 1-10 5-8 57-13zM921 307l-1 3 3 3 9-2 0-3-4-3zM549 308l2 5 7 0 3-3-5-5zM1048 225l-2 7 5 10 6 5 6 0 2-8-4-8-7-6zM433 225l-6 0-7 6-4 8 2 8 6 0 6-5 5-10zM1121 223l-3 3 0 6 5 10 7 6 8 0 1-9-4-8-6-6zM360 223l-8 2-6 6-4 8 1 9 8 0 7-6 5-10 0-6zM1098 120l1 4 7 6 14 2 4-3-1-6-8-6-13-1zM382 118l-3-2-13 1-8 6-1 6 4 3 14-2 7-6zM1249 110l2 8 12 10 11 4 6 0 4-3-2-7-10-9-17-6zM232 110l-6-3-17 6-10 9-2 7 4 3 6 0 11-4 12-10zM1470 106l-6 5 0 8 6 5 6 0 5-5 0-8-6-5zM6 106l-6 5 0 8 5 5 6 0 6-5 0-8-6-5z"/>
<path fill="#4682f8" d="M1097 751l13 71 4 58 11 0 0-26-5-38-11-40zM384 751l-12 25-11 40-5 38 0 26 11 0 4-58zM738 724l-9 7-8 20-2 12 2 30-4 20 4 10 7 7 7 3 11 0 8-4 9-13 1-7-4-14 2-31-7-28-9-11zM1386 717l0 4 7 5 34 6 25-2 14-9-1-6-5-4-19-6-37 3-10 3zM15 717l0 4 5 5 18 6 40-3 17-8-1-6-7-4-29-6-24 1-13 5zM1314 684l7 5 14 1 10-3 2-5-10-4-12 0-9 3zM134 682l2 5 10 3 14-1 7-5-2-3-9-3-12 0zM745 674l-2 19 40 4 42 15 28 17 41 34 6 0-2-12-12-17-19-17-27-18-40-17-33-7zM736 674l-22 1-33 7-40 17-27 18-19 17-12 17-3 11 2 2 7-2 39-33 37-21 33-11 40-4zM765 555l-2 12 25 2 42 9 39 14 28 14 27 17 29 23 37 39 15 19 0 6 4 6 6 3 10 0 9-6 1-5-6-6-19-2-22-31-31-32-30-24-25-16-34-17-39-14-40-9zM716 555l-24 2-40 9-39 14-34 17-25 16-30 24-31 32-22 31-19 2-6 6 1 5 9 6 10 0 6-3 4-6 0-6 15-19 37-39 29-23 27-17 28-14 39-14 42-9 25-2zM1442 549l-12-6-25 0-14 4-23 2-4 3 0 5 12 5 10 0 13-4 29 0 12-4zM39 549l2 5 12 4 29 0 13 4 10 0 12-5 0-5-4-3-23-2-14-4-25 0zM1279 545l-1 11 9 7 13 0 10-10-2-9-9-6-13 1zM173 544l-2 9 10 10 13 0 9-7 0-9-8-8-13-1zM1259 495l0 7 8 6 10-1 5-5 0-7-9-6-8 1zM199 495l1 9 7 4 10-1 5-5 0-7-9-6-8 1zM782 487l-8 33 65 11 60 19 55 30 62 47 10 4 0-4-10-16-29-31-31-25-33-21-58-29-53-15zM699 487l-20 1-42 10-40 15-39 21-33 21-31 25-29 31-7 10-3 10 10-4 62-47 55-30 60-19 65-11zM1206 392l1 7 9 8 5 2 9 0 2-2-1-7-6-6-8-4zM275 392l-11-2-8 4-6 6-1 7 2 2 14-2 9-8zM1255 386l1 9 10 9 11 4 7-1 3-3-1-7-9-9-13-5zM226 386l-9-3-13 5-9 9-1 7 6 4 15-4 10-9zM833 336l-11 31 57 13 4 5 2 16 8 9 7 0 13-16 5 0 55 26 24 14 49 37 101 98 40 56 22 41 14 35 11 35 10 45 10 99 50 0-3-62-15-86 3-4 14-6 2-5-24-12-8-37-5-12-12-7-7-8-36-65-10-25-14-14-23-31-32-33-24-20-36-26-54-32-53-25-39-14-53-13zM648 336l-42 7-53 13-39 14-53 25-54 32-36 26-24 20-32 33-23 31-14 14-10 25-36 65-7 8-12 7-5 12-8 37-24 12 2 5 14 6 3 4-15 86-3 62 50 0 10-99 10-45 11-35 14-35 22-41 40-56 101-98 49-37 24-14 55-26 5 0 13 16 7 0 8-9 2-16 4-5 57-13zM921 309l4 4 6-2-2-5-5 0zM550 308l3 5 5-1 2-3-3-3zM1048 225l-2 5 4 10 6 6 7 1 2-7-3-7-7-7zM433 225l-7 1-7 7-3 7 2 7 7-1 6-6 4-10zM1120 224l-2 6 4 10 7 7 8 1 2-8-5-10-7-6zM361 224l-7 0-7 6-5 10 2 8 8-1 7-7 4-10zM1099 120l1 4 10 7 11 0 3-4-5-7-6-3-9-1zM381 118l-4-2-12 2-8 9 3 4 11 0 10-7zM1250 110l1 7 13 11 8 3 11-2-1-6-9-9-14-6zM231 110l-9-2-14 6-7 6-3 9 11 2 8-3 13-11zM1469 107l-4 4 0 8 4 4 9-1 3-4 0-6-5-5zM3 108l-3 4 1 8 4 3 7 0 5-6-1-6-4-4z"/>
<path fill="#458afc" d="M739 726l-10 8-6 14-3 16 1 32-4 14 3 11 7 8 9 4 9 0 10-5 8-13 0-12-4-10 2-28-3-17-6-14-7-7zM1388 719l6 6 9 3 41 3 17-6 4-8-5-5-12-5-27-1-24 5-6 3zM16 717l4 8 17 6 41-3 9-3 6-6-3-5-6-3-24-5-27 1-12 5zM1006 705l1 8 9 6 11-1 7-6 0-5-9-6-13 0zM447 707l1 7 9 5 11-1 7-7-1-8-5-2-13 0zM1317 682l2 5 6 2 11 0 9-4-2-4-6-2-13 0zM136 683l2 4 7 2 11 0 8-4 0-3-7-3-13 0zM745 675l-1 17 34 3 38 12 36 20 39 32 5 1 2-2-7-16-17-18-36-25-45-18-26-5zM736 675l-14 0-34 6-45 18-30 20-20 19-9 15 0 7 8-2 33-28 31-19 47-16 34-3zM765 556l-2 10 27 2 42 9 41 15 31 16 26 17 26 21 48 51-15-23-35-37-26-21-26-17-38-19-30-11-36-9zM716 556l-33 4-36 9-30 11-38 19-26 17-26 21-30 31-20 29 48-51 26-21 26-17 31-16 41-15 42-9 27-2zM1442 550l-2-3-11-4-22 0-14 4-20 1-7 3-2 4 9 6 16 0 8-3 35-1zM39 550l10 7 35 1 8 3 16 0 9-6-2-4-7-3-20-1-14-4-22 0-11 4zM1292 538l-11 6-2 11 8 7 9 1 11-6 2-9-5-7zM177 541l-5 7 0 5 5 7 13 3 11-6 1-10-5-6-8-3zM1259 497l2 7 9 4 9-3 3-5-2-7-5-3-9 0zM201 493l-2 7 7 7 9 0 7-7-1-5-6-5-9 0zM782 487l-8 33 64 10 59 18 53 28 58 41 7 2-2-7-8-11-28-28-23-18-35-22-56-28-49-14zM699 487l-23 2-58 16-56 28-35 22-23 18-28 28-8 11-2 7 7-2 58-41 53-28 59-18 64-10zM1207 392l1 8 7 6 8 3 8-2 0-6-8-8-8-3zM274 392l-8-2-8 3-8 8 0 6 8 2 8-3 7-6zM1255 387l1 7 9 9 9 4 12-2-1-9-10-9-7-3-10 0zM226 387l-3-3-10 0-7 3-10 9-1 9 12 2 9-4 9-9zM833 338l-11 27 57 12 5 5 2 20 6 7 10-1 11-16 5 0 55 26 24 14 30 21 22 19 99 96 24 31 21 33 18 34 14 35 19 69 11 85 1 25 45 0-2-60-14-90 17-8 2-5-24-11-10-37-23-27-39-72-4-16-15-15-26-35-26-27-42-34-36-24-46-26-48-22-40-14-55-13zM648 338l-37 6-55 13-40 14-48 22-46 26-36 24-42 34-26 27-26 35-15 15-4 16-39 72-21 23-12 41-24 11 2 5 17 8-14 90-2 60 45 0 1-25 11-85 19-69 14-35 18-34 21-33 24-31 99-96 22-19 30-21 24-14 55-26 5 0 11 16 10 1 6-7 2-20 5-5 57-12zM923 308l2 4 5-2-1-3zM551 308l2 4 5-1-1-4zM1048 226l-1 8 8 11 7 2 2-2-1-10-7-8zM433 226l-4-1-9 7-3 6 2 9 11-6 4-7zM1121 224l-2 2 2 12 7 8 8 2 3-4-2-9-9-10zM360 224l-7 1-9 10-2 9 3 4 8-2 7-8 2-5zM1100 120l0 3 9 7 10 1 4-3-1-4-10-7-9 0zM380 118l-11-1-6 3-5 8 4 3 10-1 9-7zM1251 110l0 6 6 7 13 7 11 0 1-5-7-9-14-7zM230 110l-10-1-8 3-11 9-1 9 6 1 12-4 10-8 3-6zM1472 107l-6 4-1 6 4 5 5 1 5-3 1-8zM8 107l-6 3-1 8 3 4 6 1 5-4 1-6z"/>
<path fill="#448ffe" d="M740 728l-10 7-6 13-3 16 1 30-4 10 0 11 8 13 7 4 11 1 8-3 8-8 3-8 0-10-5-13 2-27-3-16-6-13zM1464 718l-12-9-24-3-28 5-6 3-3 6 4 4 12 4 38 2 14-5zM17 718l5 7 14 5 38-2 10-3 6-5 0-3-9-6-28-5-21 2-8 3zM1006 707l2 7 10 5 8-1 8-6 0-5-10-6-10 0zM447 707l0 5 12 7 12-3 4-6-1-5-7-4-14 1zM1319 683l1 3 5 2 12 0 6-3-5-5-14 0zM138 683l1 3 5 2 12 0 6-3-5-5-14 0zM745 676l-1 15 33 3 39 12 27 14 40 32 11 4 0-6-8-13-22-20-24-16-43-18-28-6zM736 676l-24 1-28 6-43 18-36 26-13 14-6 14 3 2 6-3 34-28 36-20 39-12 33-3zM763 564l53 7 39 11 32 13-25-13-35-13-38-9-23-3zM715 557l-23 3-38 9-35 13-25 13 51-19 41-9 32-3zM1441 549l-14-6-18 0-20 5-15 0-7 3-2 5 10 5 12 0 12-4 26 1 12-3 4-3zM40 549l0 3 4 3 12 3 26-1 12 4 12 0 10-5-2-5-7-3-15 0-20-5-18 0zM1281 545l-2 6 2 6 9 5 11-1 7-8-2-9-8-5-10 1zM175 544l-2 9 7 8 11 1 10-7-1-10-7-5-10-1zM1262 493l-2 8 7 6 7 0 7-6 0-5-5-5-8-1zM203 492l-3 4 3 9 11 2 6-4 1-7-5-5-8-1zM782 488l-8 31 58 9 60 17 40 19 62 40 9 3-8-14-35-32-66-41-51-21-41-10zM699 488l-20 1-34 8-28 9-30 14-66 41-35 32-8 14 9-3 62-40 40-19 60-17 58-9zM1207 393l1 6 6 6 6 3 9 0 2-2-1-6-6-6-7-3zM274 393l-10-2-7 3-6 6-1 6 2 2 9 0 6-3 6-6zM1256 386l1 9 10 9 9 3 9-2 0-8-9-9-10-4zM225 386l-10-2-10 4-9 9 0 8 9 2 9-3 10-9zM832 340l-9 22 37 7 22 7 3 4 0 17 7 11 9 0 6-7 3-9 6-3 57 27 39 24 29 23 107 103 23 29 25 39 16 30 16 40 18 67 12 92 0 17 41 0-2-61-14-88 18-9 2-5-8-5-10-2-8-6-8-30-21-26-41-77-5-19-16-15-26-35-30-30-44-34-50-31-45-23-36-15-41-13zM649 340l-82 16-41 13-36 15-45 23-50 31-44 34-30 30-26 35-16 15-5 19-41 77-21 26-8 30-4 4-22 9 2 5 18 9-14 88-2 61 41 0 0-17 12-92 18-67 16-40 16-30 25-39 23-29 107-103 29-23 39-24 57-27 6 3 3 9 6 7 9 0 7-11 0-17 3-4 22-7 37-7zM924 309l1 2 4-1-1-2zM552 309l5 1-1-2zM1049 226l-2 6 3 7 6 6 6 1 2-2-2-10-8-8zM432 226l-5 0-8 8-2 5 2 7 6-1 6-6 3-7zM1120 225l-1 8 4 8 7 6 7 0 1-9-3-6-10-8zM361 225l-5-1-10 8-3 6 1 9 7 0 7-6 4-8zM1101 120l1 5 8 5 10 0 2-2-2-6-7-4-8-1zM380 120l-4-3-8 1-7 4-2 6 2 2 10 0 8-5zM1251 112l2 6 9 8 10 4 9-2-1-6-12-10-9-3zM230 112l-4-3-13 3-12 10-1 6 9 2 10-4 9-8zM1471 108l-5 4 0 6 5 4 4 0 5-7-2-5zM7 108l-4 2-2 6 3 5 6 1 5-4 0-6z"/>
<path fill="#4294ff" d="M739 730l-8 6-6 12-3 14 1 31-5 12 0 9 6 12 7 5 11 2 11-4 6-6 4-10 0-8-5-12 1-30-3-15-6-12zM1393 717l0 3 7 5 27 5 24-2 11-7-1-6-4-3-17-5-34 3zM19 717l0 4 6 5 16 4 34-3 13-7 0-3-7-5-23-5-27 2zM1007 706l1 7 7 5 13-1 6-6-3-7-8-3-11 1zM447 708l1 5 8 5 10 0 8-7 0-5-9-5-11 1zM1321 683l4 4 16-2-1-3-8-2zM140 683l4 4 16-2-1-3-7-2zM745 676l-1 14 37 4 37 12 37 21 29 24 7 1-1-7-9-12-41-31-42-18-28-6zM736 676l-25 2-28 6-42 18-41 31-9 12-1 8 10-4 38-30 25-13 37-12 37-4zM764 560l0 2 10 0zM717 560l-10 2 10 0zM1440 549l-9-5-20-1-18 5-21 1-6 4 0 3 11 5 20-4 25 1 14-3 4-3zM41 549l2 5 16 4 25-1 20 4 11-5 0-3-6-4-21-1-18-5-20 1zM1282 545l-2 7 6 8 13 1 8-7-1-9-7-5-10 0zM175 545l-1 9 8 7 10 0 8-6-1-10-7-5-10 0zM1262 494l-1 8 5 4 9 0 5-4 0-7-5-4-9 0zM201 495l0 7 5 4 9 0 5-4 0-6-5-5-9 0zM782 488l-7 31 60 9 54 15 36 16 55 33 11 4-4-8-28-26-32-22-42-24-51-19-34-8zM699 488l-18 1-34 8-51 19-42 24-32 22-28 26-4 8 11-4 55-33 36-16 54-15 60-9zM1208 393l0 5 5 6 8 4 9-2-1-7-13-8zM273 393l-8-2-13 8-1 7 9 2 8-4 5-6zM1256 387l2 9 8 7 12 4 7-3-1-8-10-9-10-3zM225 387l-5-3-13 3-10 9-1 8 7 3 12-4 8-7zM831 342l-6 18 51 10 10 6-1 17 2 9 4 5 9 1 5-5 5-14 7-2 54 26 42 26 31 25 110 107 25 33 34 58 14 34 12 37 9 40 6 59 6 32 0 16 37 0-2-63-13-86 4-4 14-5 2-5-26-12-10-30-18-23-42-80-3-17-16-15-30-40-26-26-41-32-46-29-48-25-41-17-38-12zM650 342l-86 17-38 12-41 17-48 25-46 29-41 32-26 26-30 40-16 15-3 17-42 80-18 23-10 30-26 12 2 5 14 5 4 4-13 86-2 63 37 0 0-16 6-32 6-59 9-40 12-37 14-34 34-58 25-33 110-107 31-25 42-26 54-26 7 2 5 14 5 5 9-1 4-5 2-9-1-17 10-6 51-10zM1048 227l2 12 6 6 6 1 2-6-3-7-8-7zM433 227l-5-1-8 7-3 7 2 6 6-1 6-6zM1121 225l-2 6 3 8 7 7 7 1 2-8-4-8-7-6zM360 225l-6 0-7 6-4 8 2 8 7-1 7-7 3-8zM1102 120l1 5 6 4 9 1 3-2-1-5-6-4-10-1zM379 120l-2-2-10 1-6 4-1 5 3 2 9-1 6-4zM1252 112l1 5 10 9 7 3 10-1-2-8-9-7-8-3zM229 112l-9-2-8 3-9 7-2 8 10 1 7-3 10-9zM1471 109l-4 3 0 6 3 3 5 0 4-7-4-5zM6 109l-4 7 2 4 7 1 3-3 0-6z"/>
<path fill="#4099ff" d="M738 732l-9 9-5 15 0 35-5 11-1 11 4 10 6 6 7 3 11 0 13-9 4-16-6-15 1-31-3-13-10-15zM1395 717l0 3 5 4 22 5 26-1 8-3 5-5-4-7-14-5-29 1-14 4zM20 717l2 6 16 6 34-2 14-7 0-3-5-4-20-5-23 0-8 2zM1007 707l1 6 8 5 12-1 6-7-2-5-10-4-9 1zM447 709l1 4 8 5 12-1 6-6-2-7-9-3-9 1zM1323 684l2 2 14-2-6-3zM142 684l3 2 11 0 2-2-6-3zM745 677l-1 12 36 4 33 10 30 15 33 26 12 5-3-10-13-13-32-23-45-19-31-6zM736 677l-19 1-31 6-45 19-32 23-13 13-3 10 12-5 33-26 30-15 33-10 36-4zM1440 549l-10-5-17-1-18 5-22 1-7 6 7 5 15 0 8-3 32 0 9-3zM41 549l3 5 9 3 32 0 8 3 15 0 7-5-7-6-22-1-18-5-17 1zM1292 540l-9 5-2 8 5 6 10 2 7-3 4-8-5-8zM179 542l-5 8 4 8 11 3 10-6 1-6-4-6-7-3zM1265 492l-4 5 4 8 9 1 5-4 1-5-4-5zM202 495l-1 5 6 6 9-1 4-5-1-5-6-4-8 1zM782 488l-8 30 44 6 58 14 35 13 67 35-2-6-23-21-64-40-46-19-40-10zM699 488l-21 2-29 7-41 14-69 40-23 18-11 11-2 6 81-41 55-16 68-11zM1208 394l1 5 6 6 8 3 7-3-1-5-8-7-9-2zM273 394l-4-3-9 2-8 7-1 5 4 3 7-1 10-8zM1256 388l1 6 8 8 9 4 8 0 3-3-2-8-8-7-7-3-9 0zM225 388l-3-3-9 0-7 3-8 7-2 8 3 3 8 0 9-4 8-8zM829 346l-3 10 34 6 23 7 6 7-3 21 3 7 5 4 10-4 5-17 7-3 44 21 50 30 28 22 115 111 20 25 26 40 18 34 14 35 17 62 8 72 5 20 1 24 33 0-2-66-13-82 3-4 16-6 2-5-6-4-16-4-5-5-7-22-19-26-23-48-20-35-4-20-16-14-23-32-30-31-38-30-51-32-51-26-69-25zM652 346l-94 17-69 25-51 26-51 32-38 30-30 31-23 32-16 14-4 20-20 35-23 48-19 26-7 22-5 5-16 4-6 4 2 5 16 6 3 4-13 82-2 66 33 0 1-24 5-20 8-72 17-62 14-35 18-34 26-40 20-25 115-111 28-22 50-30 44-21 7 3 5 17 10 4 5-4 3-7-3-21 6-7 23-7 34-6zM1049 227l-1 7 3 6 6 5 5 0 1-8-9-10zM432 227l-5 0-9 10 1 8 5 0 6-5 3-6zM1122 225l-2 9 3 6 6 6 7 1 2-7-3-7-7-7zM359 225l-6 1-7 7-3 7 2 7 7-1 6-6 3-6zM1103 120l0 4 7 5 10-2-1-4-6-4zM378 120l-10-1-6 4-1 4 10 2 7-5zM1469 111l-1 7 7 2 3-3-3-7zM1253 112l2 7 7 6 10 4 7-1-1-7-8-7-12-4zM228 112l-5-2-12 4-8 7-1 7 7 1 10-4 7-6zM6 110l-3 7 3 3 5 0 3-5-1-3z"/>
<path fill="#3ba0fd" d="M738 733l-7 6-6 14-2 11 1 28-5 10-1 11 4 10 6 6 7 3 11 0 12-8 5-17-6-15 1-28-4-17-9-13zM1396 718l5 6 25 5 20-1 14-7-2-7-17-6-30 2-13 5zM21 716l0 5 3 3 17 5 29-2 10-3 5-5-2-4-6-3-19-4-23 1zM1007 708l2 6 7 4 11-1 6-5 0-5-4-4-9-2-9 2zM474 708l-4-5-9-2-9 2-4 4 0 5 6 5 11 1 7-4zM1325 683l3 3 9-2-2-2zM144 683l3 3 9-1-2-3zM745 678l-1 11 28 2 37 10 35 17 36 28 7 0-3-7-20-19-20-14-25-13-34-11zM736 678l-40 4-34 11-20 10-25 17-20 19-3 7 7 0 36-28 35-17 37-10 28-2zM1439 549l-6-4-18-2-25 6-16 0-5 2-2 5 7 4 13 0 12-4 29 1 9-3zM42 549l2 5 9 3 29-1 12 4 13 0 7-4 0-3-7-4-16 0-25-6-14 1zM1283 546l-1 8 7 6 12-1 5-6-1-7-6-5-10 0zM176 546l-1 7 5 6 12 1 7-6-1-8-6-5-10 0zM1269 491l-5 2-3 6 3 5 8 2 5-2 3-6-3-5zM209 491l-5 2-3 6 3 5 8 2 5-2 3-6-3-5zM774 518l40 5 70 17 24 9 63 31-11-14-18-14-72-42-74-21-14 0zM699 489l-25 2-63 19-72 42-18 14-11 14 63-31 24-9 50-13 60-9zM1208 394l1 5 11 8 9-1 1-3-6-8-6-3zM273 394l-10-2-6 3-6 8 1 3 9 1 11-8zM1257 387l1 8 7 7 10 4 9-2-1-9-8-7-8-3zM224 387l-10-2-8 3-8 7-1 9 9 2 10-4 7-7zM881 360l-1 3 10 9-4 24 5 10 9 1 6-7 3-16 6-2 36 17 44 25 44 33 64 64 27 23 34 36 23 32 28 48 21 54 10 36 6 33 4 47 7 33 0 17 31 0-1-57-13-93 17-7 4-6-6-4-14-3-8-6-6-19-22-32-23-49-18-32-1-14-3-6-15-12-22-31-25-27-42-34-32-21-57-31-47-20-44-13-26-4zM600 360l-9-1-26 4-44 13-47 20-57 31-32 21-42 34-25 27-22 31-15 12-3 6-1 14-18 32-23 49-22 32-6 19-8 6-14 3-6 4 4 6 17 7-13 93-1 57 31 0 0-17 7-33 4-47 6-33 10-36 21-54 28-48 23-32 34-36 27-23 64-64 44-33 44-25 36-17 6 2 4 18 8 6 6-2 5-10-4-24 10-9zM1049 227l-1 6 4 8 5 4 5 0 1-7-3-6-6-5zM432 227l-5 0-6 5-3 6 1 7 5 0 5-4 4-8zM1122 225l-2 9 8 11 7 2 3-4-3-10-7-7zM359 225l-6 1-7 7-3 8 3 6 7-2 8-11zM1103 121l4 6 10 2 3-3-8-7zM378 121l-9-2-8 7 3 3 10-2zM1253 113l8 11 13 5 5-2-2-7-6-5-9-4zM228 113l-9-2-9 4-6 5-2 7 5 2 13-5zM1472 110l-4 3 0 4 6 3 3-7zM9 110l-5 3 3 7 6-3 0-4z"/>
<path fill="#35abf8" d="M738 736l-7 6-4 9-3 15 1 25-7 19 2 9 6 8 10 5 9 0 7-3 7-7 3-7 0-11-6-12 1-26-4-18-8-11zM1399 718l6 6 20 4 21-1 12-7-4-7-13-4-30 2zM23 717l2 6 16 5 28-2 9-3 4-4-6-6-17-4-24 1zM1008 707l1 6 9 5 9-1 6-5-1-6-7-4-10 0zM448 708l0 4 10 6 9-1 6-6-1-6-6-3-10 0zM745 679l-1 8 41 5 36 12 30 16 30 21-23-23-34-21-37-13zM736 679l-42 5-37 13-34 21-23 23 30-21 30-16 36-12 41-5zM1439 550l-7-5-23-1-14 5-22 1-5 3 0 3 9 4 19-4 29 1 11-3zM42 550l3 4 11 3 29-1 19 4 9-4 0-3-5-3-22-1-14-5-18 0zM1285 545l-2 8 7 6 8 0 7-7-2-7-5-3-8 0zM178 545l-2 7 7 7 8 0 7-6-2-8-5-3-8 0zM1266 493l-3 3 0 5 3 3 7 1 4-2 2-5-4-5zM206 493l-4 5 2 5 9 2 5-4 0-5-3-3zM774 517l39 5 55 12 33 10 46 19-14-14-63-38-24-9-42-11-22-2zM699 489l-22 2-42 11-24 9-63 38-14 14 46-19 33-10 55-12 39-5zM1210 393l-1 4 6 7 7 3 6-1 1-4-6-7-8-3zM271 393l-5-1-8 3-6 7 1 4 6 1 7-3 6-7zM1258 387l0 7 8 8 7 3 11-2-1-7-9-8-9-3zM223 387l-7-2-9 3-9 8-1 7 11 2 7-3 8-8zM901 376l-7 1-7 12 1 11 7 7 9-5 3-10-1-9zM580 376l-5 7-1 9 3 10 9 5 7-7 1-11-7-12zM924 374l-1 2 5 5 65 38 38 28 65 66 56 50 27 33 37 59 23 58 12 48 8 74 7 23 1 22 23 0 0-58-13-90 3-4 13-4 7-6-4-4-20-5-6-5-7-17-19-28-18-41-23-42-1-18-3-6-17-13-20-29-28-30-59-44-31-18-58-28-34-12zM557 374l-28 4-34 12-58 28-31 18-59 44-28 30-20 29-17 13-3 6-1 18-23 42-18 41-19 28-7 17-6 5-20 5-4 4 3 4 15 5 5 5-13 90 0 58 23 0 1-22 7-23 8-74 12-48 23-58 37-59 27-33 56-50 65-66 38-28 65-38 5-5zM1051 227l-2 2 2 10 8 6 3-1 1-4-3-7zM430 227l-9 6-3 7 1 4 3 1 8-6 2-4zM1122 226l-2 6 3 7 6 6 6 1 2-2-2-10-8-8zM359 226l-5 0-8 8-2 5 2 7 6-1 6-6 3-7zM1105 121l4 6 7 1 2-2-4-5zM376 121l-9 0-4 5 2 2 7-1zM1471 113l-1 3 3 2 2-4zM7 113l-1 3 3 2 2-4zM1255 113l1 5 8 7 13 2 0-5-6-6-8-4zM226 113l-8-1-8 4-6 6 0 5 13-2 8-7z"/>
<path fill="#2eb4f2" d="M739 738l-6 4-6 13-2 12 1 24-7 13 0 11 3 7 7 7 14 3 7-2 9-8 3-7 0-10-7-14 1-24-4-18-6-9zM1403 717l0 3 6 4 15 3 22-1 10-6-3-6-12-4-25 1zM25 717l3 6 13 4 23-1 14-6-2-5-17-5-24 1zM1008 708l2 6 5 3 11 0 7-6-2-6-7-3-11 1zM448 708l1 5 6 4 11 0 7-7-1-4-7-4-11 1zM744 682l0 3 42 5 43 14-11-7-21-8-27-6zM737 682l-26 1-27 6-21 8-11 7 43-14 42-5zM1438 550l-8-5-18-1-18 6-19 0-5 2-1 3 6 4 12 0 9-4 26 2 10-2zM43 550l6 5 10 2 26-2 9 4 12 0 6-4-1-3-5-2-19 0-18-6-18 1zM1285 547l0 7 5 4 10-1 4-6-6-8-8 0zM178 547l0 7 6 4 9-1 4-6-6-8-8 0zM1264 496l0 5 4 3 9-3 0-5-4-3zM204 496l0 5 4 3 9-3 0-5-4-3zM781 491l-6 22 1 4 30 3 41 8 75 20-37-28-22-11-61-18zM700 491l-21 0-61 18-22 11-37 28 75-20 41-8 30-3 1-4zM1210 395l6 9 5 2 7-2-6-9-5-2zM271 395l-2-2-8 1-7 6-1 4 2 2 8-1 7-6zM966 391l-1 3 65 49 74 76 34 28 31 32 37 52 24 45 17 52 10 55 4 49 10 28 1 20 13 0 2-60-12-89 7-5 14-4 3-4-7-5-23-6-21-31-26-59-22-42 0-20-18-13-20-30-32-34-35-27-34-21-39-20-28-12zM515 391l-28 7-28 12-39 20-34 21-35 27-32 34-20 30-18 13 0 20-22 42-26 59-21 31-23 6-7 5 3 4 14 4 7 5-12 89 2 60 13 0 1-20 10-28 4-49 10-55 17-52 24-45 43-59 25-25 34-28 74-76 65-49zM1258 388l1 7 6 6 10 4 8-2-1-7-7-7-7-3zM223 388l-10-2-7 3-7 7-1 7 8 2 10-4 6-6zM898 379l-4 1-6 8 0 11 6 7 4 0 5-4 3-9-3-11zM583 379l-5 3-3 11 3 9 5 4 4 0 6-7 0-11-6-8zM1051 228l-2 2 2 8 9 6 2-2-2-8-3-4zM430 228l-6 2-5 8 2 6 9-6 2-5zM1123 226l-2 2 1 9 6 7 6 2 3-4-3-9-6-6zM358 226l-5 1-6 6-3 8 3 5 6-2 6-7 1-9zM1107 123l3 3 5 0-2-4zM366 126l5 0 3-3-6-1zM1257 114l1 5 6 5 12 1-1-4-7-6zM224 114l-11 1-7 6-1 4 12-1 6-5z"/>
<path fill="#27bee9" d="M741 740l-4 1-7 9-4 17 1 23-8 15 0 9 4 9 5 5 11 4 14-4 9-14-1-12-7-12 1-23-6-21zM1405 718l5 5 13 3 18 0 13-6-2-5-11-4-20 0-11 3zM27 717l2 5 11 4 24-1 12-6-3-4-13-4-20 0zM1009 707l0 5 7 5 9 0 7-5 0-5-9-5-9 1zM449 707l0 5 7 5 9 0 7-5 0-5-8-5-10 1zM1247 692l-1 28 6 11 11 98 6 18 6 6 3 0 5-9 1-24-4-44-8-44 3-4 18-5 5-5-11-6-21-4zM234 692l-19 16-21 4-11 6 3 4 18 5 5 5-8 44-4 44 1 24 5 9 3 0 6-6 6-18 11-98 6-11zM1437 550l-5-4-16-2-12 2-10 5-17-1-7 5 7 4 11-1 8-4 31 2zM1286 548l0 5 5 4 6 0 5-4 0-5-5-4-6 0zM179 548l0 5 5 4 6 0 5-4 0-5-5-4-6 0zM44 550l10 6 31-2 8 4 11 1 7-4-7-5-17 1-10-5-12-2-16 2zM1266 495l0 7 7 1 3-2-1-6zM205 496l0 5 3 2 8-2-3-7zM781 491l-6 25 41 5 78 17 6-2-5-7-14-10-25-12-52-15zM700 491l-23 1-52 15-25 12-14 10-5 7 6 2 78-17 41-5zM1004 411l1 5 35 33 63 68 35 28 28 27 50 66 8 6 0-8-5-15-21-44 2-11-2-13-18-11-13-21-25-30-26-23-43-29-42-21zM477 411l-27 7-42 21-43 29-26 23-25 30-13 21-18 11-2 4 2 20-21 44-5 15 0 8 8-6 50-66 28-27 35-28 63-68 35-33zM1211 395l1 5 5 4 10 0 0-3-6-6zM270 395l-10 0-4 3-2 6 10 0 5-4zM1259 388l0 6 7 7 6 3 10-1-1-8-7-6-9-3zM222 388l-6-2-9 3-7 6-1 8 10 1 6-3 7-7zM895 381l-6 7-1 8 4 8 7 1 5-6 1-9-3-7zM583 381l-4 2-3 12 6 10 5 0 5-5 1-9-3-7zM1051 229l0 8 4 5 5 1-1-10zM430 229l-8 4-1 10 5-1 4-5zM1123 227l-2 2 2 9 6 6 5 1 2-7-3-6-6-5zM358 227l-4 0-6 5-3 6 2 7 5-1 6-6 2-5zM1258 116l6 7 10 1-6-8-6-2zM223 116l-2-2-6 1-7 5-1 4 8 0z"/>
<path fill="#20c7df" d="M740 742l-7 5-6 19 1 23-8 13-1 11 8 14 8 4 11 0 11-7 5-17-9-18 1-23-6-19zM1452 718l-7-5-15-2-17 3-5 5 14 6 19 0 7-2zM29 718l4 5 7 2 19 0 14-6-5-5-17-3-15 2zM1257 709l-8 6 0 5 8 11 10 103 5 8 4 0 4-7 0-26-4-42-7-36 5-4 18-4 5-5-12-6zM224 709l-28 3-12 6 5 5 18 4 5 4-7 36-4 42 0 26 4 7 4 0 5-8 10-103 8-11 0-5zM1009 708l1 5 7 4 7 0 8-5-1-6-9-4-8 1zM449 708l0 4 8 5 10-1 5-5-3-7-7-2-7 1zM1436 550l-9-5-17 0-15 7-13-2-7 1-4 4 4 3 11 0 10-5 29 3 9-3zM1287 549l0 3 5 4 4 0 5-4-1-5-3-2-6 0zM181 547l-1 5 5 4 4 0 5-4-4-7zM45 550l2 3 9 3 29-3 10 5 11 0 4-3-4-4-7-1-13 2-15-7-17 0zM1268 495l-2 5 7 2 2-5zM208 495l-2 5 7 2 2-5zM775 513l2 3 37 4 62 13 16 0-5-8-21-13-27-10-42-11-16 0zM706 513l-6-22-16 0-42 11-27 10-21 13-5 8 16 0 62-13 37-4zM1027 424l-1 4 6 9 61 69 62 52 48 48 0-7-8-20 0-6 5-11-1-6-3-4-13-5-5-5-14-23-28-33-30-24-33-21-30-14zM454 424l-16 3-30 14-33 21-30 24-22 25-20 31-5 5-13 5-3 4-1 6 5 11 0 6-8 20 0 7 48-48 62-52 61-69 6-9zM1212 396l6 8 6 1 2-2-3-6-7-3zM269 396l-2-2-5 1-6 4-1 4 2 2 6-1zM1260 388l-1 4 6 8 9 4 7-1 1-5-7-8-7-3zM221 388l-8-1-7 3-7 8 1 5 7 1 9-4 6-8zM894 383l-4 4-1 11 4 6 6 0 5-7 0-8-3-5zM582 383l-5 6 0 8 5 7 6 0 4-6 0-8-5-7zM1051 230l1 8 4 4 4 0-1-8-4-4zM430 230l-4 0-4 4-1 8 4 0 4-4zM1124 227l-2 2 1 8 5 6 7 1 1-4-3-7zM357 227l-9 6-3 7 1 4 7-1 5-6 1-8zM1261 116l2 5 9 2-3-5zM220 116l-8 2-3 5 9-2z"/>
<path fill="#1bd0d5" d="M1265 746l0 31 6 51 2 2 2-12-1-34-4-28zM216 746l-5 10-4 28-1 34 2 12 2-2 6-51zM740 744l-6 4-5 12 0 28-8 12-2 12 3 9 7 7 7 3 9 0 13-9 4-13-1-6-9-15 1-23-6-17zM1411 718l2 3 9 3 19 0 8-4-2-5-12-3-14 1zM32 717l2 5 6 2 19 0 11-5-3-4-14-3-13 1zM1251 717l2 6 11 6 24-5 8-5-5-5-15-3-18 0zM185 718l5 5 26 6 8-3 6-6-1-5-6-4-25 1zM1009 709l4 6 5 2 9-1 5-5-1-5-5-3-11 0zM449 708l1 5 8 4 8-1 6-6-6-7-11 0zM1372 555l5 3 7 0 8-5-15-2zM89 553l8 5 7 0 5-3-5-4zM1292 546l-3 6 6 3 4-3 0-4zM185 546l-3 2 0 4 6 3 4-3 0-3zM1399 552l23 4 11-3 2-4-10-4-13 0-10 3zM46 549l2 4 11 3 23-4-3-4-10-3-13 0zM1269 496l-2 3 5 2 2-3zM209 496l-2 3 5 2 2-3zM775 513l4 3 33 3 54 11 20 0-4-7-20-12-68-20-13 0zM706 513l-6-22-13 0-68 20-20 12-4 7 20 0 54-11 33-3zM1040 434l0 5 10 15 55 63 19 13 60 50 5-1 10-16-2-9-6-4-8-1-6-5-19-31-31-34-45-31-25-12-10-3zM441 434l-11 0-31 14-45 31-31 34-19 31-4 4-10 2-6 4-2 9 10 16 5 1 60-50 19-13 63-74zM1213 396l3 6 9 1-3-6zM268 396l-9 1-3 6 9-1zM1260 389l1 6 8 7 12 0 0-5-5-6-10-4zM221 389l-6-2-10 4-5 6 0 5 12 0 8-7zM894 384l-5 11 2 6 6 3 6-6 0-9-4-5zM582 384l-4 5 0 9 8 6 4-3 2-8-5-9zM1051 231l1 6 4 4 4 0-3-9zM430 231l-6 1-3 9 2 1 6-5zM1124 228l-2 2 2 8 5 5 5 1 0-9-4-5zM357 228l-6 2-4 5 0 9 5-1 5-5 2-5z"/>
<path fill="#18d7ca" d="M740 746l-5 3-5 11 0 27-9 14-1 15 9 12 15 3 8-3 6-6 3-7 0-11-10-17 1-22-3-11-4-6zM1414 718l4 4 13 2 10-1 6-4-3-4-8-2-15 1zM34 718l6 5 9 1 14-2 4-3-4-4-9-2-14 1zM1253 717l4 7 8 3 17-2 13-5 0-3-5-3-18-3-12 1zM228 717l-7-5-12-1-18 3-5 3 0 3 13 5 17 2 8-3zM1010 707l0 5 9 5 9-2 4-5-7-7-9 0zM449 709l4 6 6 2 7-1 5-4 0-5-6-4-12 1zM1373 555l13 2 4-4-9-2zM91 553l4 4 13-2-8-4zM1292 548l-1 4 5 1 1-4zM185 548l-1 4 5 1 1-4zM1401 550l0 2 8 3 18 0 7-4-1-3-11-3-13 1zM47 549l2 4 5 2 18 0 8-3-1-3-13-4-13 1zM775 513l1 2 33 3 51 10 19 1 2-2-8-9-15-8-60-18-17 0zM706 513l-6-21-17 0-60 18-15 8-8 9 2 2 19-1 51-10 33-3zM1049 441l0 5 9 15 43 52 76 57 10 3 9-6 2-4-1-8-9-5-7 0-6-5-12-23-30-37-49-34-25-11zM432 441l-10-1-11 4-24 13-32 22-32 36-17 30-6 5-7 0-9 5-1 8 2 4 9 6 10-3 76-57 43-52 9-15zM1214 397l3 5 7 0-3-5zM267 397l-5-1-5 6 5 1zM1261 389l-1 3 5 7 8 4 7-1 1-4-6-7-6-3zM220 389l-8-1-6 3-6 7 1 4 7 1 8-4 5-7zM894 385l-4 6 0 6 4 6 4 0 4-4 1-8-4-6zM582 385l-4 6 0 5 5 7 4 0 3-3 1-9-4-6zM1053 231l-1 5 6 5 1-5zM428 231l-5 3 0 7 6-5zM1123 229l2 10 5 4 4 0-1-9-5-5zM358 229l-5 0-5 5-1 9 4 0 5-4z"/>
<path fill="#18dec0" d="M740 748l-4 2-5 10-1 29-9 12-1 14 8 12 15 4 14-8 4-8 0-10-11-19 2-12-3-17-4-7zM1417 718l3 3 10 2 14-3 0-3-9-3-13 1zM37 717l0 3 11 3 16-4-2-3-8-2zM1255 717l4 7 7 2 19-2 9-4-1-4-14-4-16 0zM187 717l3 5 19 4 13-2 4-4 0-3-8-5-16 0zM1010 708l1 5 5 3 10 0 5-4 0-5-6-4-9 0zM450 707l0 5 5 4 10 0 6-5-1-5-5-3-9 0zM1375 554l3 3 10-2-3-3zM93 554l5 3 8-2-3-3zM1402 550l2 3 7 2 14 0 8-4-1-3-5-2-17 0zM48 549l2 4 6 2 14 0 9-4-8-5-17 0zM775 513l85 14 16-1-5-8-15-8-60-18-15 0zM706 513l-6-21-15 0-60 18-15 8-5 8 16 1zM1056 447l0 5 8 14 40 49 54 38 14 7 9 9 9 1 7-6 1-4-4-7-17-2-4-4-15-30-28-34-54-34-12-4zM425 447l-8-2-12 4-54 34-28 34-15 30-4 4-17 2-4 7 1 4 7 6 9-1 9-9 14-7 54-38 40-49 8-14zM1215 397l2 4 6 0-2-3zM266 397l-4 0-4 4 4 1zM1261 390l1 5 9 7 9-1-1-6-6-5-6-2zM220 390l-3-2-9 2-6 5-1 6 9 1 9-7zM894 386l-4 8 2 6 6 2 4-5 0-7-3-4zM582 386l-3 4 0 7 2 4 6 1 3-4 0-8-3-4zM1053 232l1 6 4 2 0-5zM428 232l-5 3 0 5 4-2zM1125 229l-2 2 2 7 8 5 0-8zM356 229l-8 6 0 8 8-5 2-4z"/>
<path fill="#1ce6b4" d="M739 750l-5 5-3 8 0 25-10 14-1 12 7 12 15 5 14-7 5-10 0-9-11-17 1-18-3-13-3-5zM1421 718l4 3 13 0 3-2-7-4zM40 718l3 3 17-2-8-4zM1256 717l2 5 7 3 18-1 11-5-4-4-15-3-13 1zM225 717l-6-4-13-1-15 3-4 4 11 5 18 1 7-3zM1010 708l0 3 6 5 9 0 6-4-1-6-6-3-10 1zM450 708l0 4 6 4 9 0 6-5 0-3-7-5-10 1zM1376 554l1 2 9-1-1-2zM95 554l2 2 8-1-1-2zM1177 555l0 7 7 6 7 0 6-6 0-4-4-5-10-1zM288 553l-4 5 0 4 4 5 9 1 7-6 1-5-2-3-5-2zM1403 551l5 3 15 1 9-3 0-3-7-3-13 0zM49 549l0 3 9 3 10 0 10-4-9-5-13 0zM775 513l77 12 16 1 4-2-2-5-18-10-58-17-13 0zM706 513l-6-21-13 0-58 17-14 7-6 8 4 2 16-1zM1062 451l0 7 9 15 35 43 15 8 30 22 13 6 5-1 0-9-8-18-33-42-50-30-6-2zM419 451l-10-1-6 2-50 30-33 42-8 18 0 9 5 1 13-6 27-20 18-10 35-43 9-15zM1262 390l1 6 5 4 11 1 0-5-9-7zM219 390l-8-1-9 7 0 5 11-1 5-4zM894 387l-3 10 6 5 3-2 2-7-3-6zM582 387l-3 8 2 5 4 2 4-3 1-7-3-5zM1054 233l3 6 1-2zM427 233l-3 2 0 4zM1124 230l2 9 7 3-1-8-4-4zM357 230l-4 0-4 4-1 8 7-3z"/>
<path fill="#22ebaa" d="M739 752l-7 11 0 24-11 15-1 12 5 10 5 4 16 2 12-9 3-15-3-8-9-11 1-19-6-15zM1426 718l2 2 8-1-1-2zM45 718l2 2 8-1-2-2zM1257 718l4 5 9 2 16-2 7-4-2-3-9-3-17 0zM188 718l4 4 16 3 12-2 4-4-8-6-17 0zM1010 709l7 7 8 0 6-5 0-3-8-5-8 1zM450 708l1 5 5 3 11-1 4-5-3-5-5-2-9 1zM1378 554l6 1-2-2zM1180 555l-1 6 4 5 8 1 4-3 1-7-3-3-9-1zM285 557l0 5 5 5 6 0 6-6-1-6-4-2-7 0zM97 554l6 1-2-2zM1405 552l14 3 10-2 3-3-4-3-14-1-9 3zM49 550l3 3 10 2 14-3 0-3-9-3-14 1zM775 513l39 4 36 7 17 0 2-2-5-6-19-9-54-15-11 2zM706 513l-5-19-11-2-54 15-19 9-5 6 2 2 17 0 36-7zM1067 455l-1 4 5 11 33 44 46 29 11 4 4-2-1-11-9-17-18-25-11-11-39-23-11-4zM414 455l-9-1-11 4-39 23-11 11-18 25-9 17-1 11 4 2 11-4 46-29 33-44 5-11zM1262 391l5 8 8 3 4-2-1-5-10-6zM219 391l-2-2-9 2-5 4-1 5 4 2 8-3zM894 388l-2 10 5 3 4-4 0-6zM583 388l-3 3 0 6 6 4 3-3 0-7-2-3zM1126 230l-2 2 1 5 4 4 4 0-2-8zM355 230l-5 3-2 8 4 0 4-4 1-5z"/>
<path fill="#2cf09e" d="M739 754l-4 4-3 9 1 20-11 13-2 13 3 8 6 6 6 3 11 0 12-9 3-14-2-7-11-13 1-20-2-7-5-6zM1259 717l0 3 7 4 14 0 12-5 0-2-12-4-13 0zM189 717l2 4 10 3 14 0 7-4-2-5-6-2-13 0zM1011 707l0 5 6 4 10-1 4-4 0-3-8-5zM450 708l0 3 7 5 7 0 6-4 0-5-8-4-7 1zM1184 554l-3 3 0 5 5 4 7-1 2-8-3-3zM297 554l-8 0-3 3 2 8 7 1 5-4 0-5zM1406 549l0 3 6 2 13 0 6-3-2-3-9-2zM50 550l6 4 19-2 0-3-11-3zM775 513l36 3 37 7 17-1-3-6-11-6-54-17-16 0zM706 513l-6-20-16 0-54 17-11 6-3 6 17 1 37-7zM1071 459l0 6 25 40 11 11 44 25 10 0 1-5-5-13-29-40-41-23-10-3zM410 459l-6-2-10 3-41 23-29 40-5 13 1 5 10 0 44-25 11-11 25-40zM1263 391l1 5 5 4 9 0 0-4-8-6zM218 391l-7-1-8 6 0 4 9 0 5-4zM894 389l-2 7 3 4 3 0 2-9zM583 389l-2 8 5 3 3-7-2-4zM1126 231l-1 5 7 5-1-7zM355 231l-5 3-1 7 7-5z"/>
<path fill="#38f491" d="M739 756l-6 11 1 19-10 11-4 15 2 7 7 8 7 3 9 0 12-8 4-14-4-11-10-11 0-23-5-7zM1260 717l2 5 7 2 15-1 7-3-1-4-13-3-12 1zM190 717l0 3 14 4 8 0 9-4-1-4-10-3zM1012 706l0 7 6 3 6 0 7-6-5-6-6-1zM450 709l7 7 9-1 4-4-1-5-8-3-8 2zM1184 555l-2 6 4 4 8-2 1-4-3-4zM291 554l-5 7 4 4 5 0 4-7-2-3zM1407 550l6 4 10 0 7-3-5-4-13 0zM51 550l7 4 10 0 6-3-5-4-13 0zM776 513l11 2 19 0 40 7 13 0 3-2-2-4-13-7-51-16-15 0zM700 493l-15 0-51 16-13 7-2 4 3 2 13 0 40-7 19 0 11-2zM1075 463l1 8 12 17 7 15 10 11 45 24 8-2 0-6-5-11-18-28-9-9-39-20-10-1zM406 463l-2-2-10 1-39 20-9 9-18 28-5 11 0 6 2 2 11-2 40-22 10-11 7-15 12-17zM1263 392l7 8 5 1 3-2-6-8-7-1zM218 392l-2-2-7 1-6 8 3 2 5-1zM896 389l-3 3 0 5 5 2 2-6zM585 389l-4 4 2 6 5-2 0-5zM1126 232l0 5 5 3 0-5zM355 232l-5 3 0 5 5-3z"/>
<path fill="#46f884" d="M739 758l-5 9 1 19-11 11-4 14 4 11 12 8 9 0 12-8 3-6 0-12-4-8-10-10 1-19-2-6zM1261 717l0 3 5 3 16 0 9-4-8-5-16 0zM190 718l2 3 7 2 16 0 5-3 0-3-6-3-16 0zM1011 708l0 3 8 5 11-4 0-5-5-3-9 0zM451 707l0 5 7 4 8-1 4-4 0-3-5-4-9 0zM1185 556l-2 3 2 4 6 1 3-3-2-5zM291 555l-4 3 0 3 7 3 4-5-2-3zM1408 550l8 4 13-3-6-4-9 0zM52 550l8 4 13-3-6-4-9 0zM776 509l2 4 12 2 21 0 33 6 15-2-4-5-10-5-51-16-14 1zM705 509l-4-15-14-1-51 16-10 5-4 5 15 2 33-6 21 0 12-2zM1079 466l3 12 14 26 7 8 43 22 8-1 1-4-17-33-10-12-36-18-7-2zM402 466l-3-2-10 2-36 18-8 9-18 32 0 8 8 1 43-22 7-8 14-26zM1264 392l5 7 8 0-4-7zM217 392l-9 0-4 7 8 0zM896 390l-2 7 4 1 1-6zM585 390l-3 2 1 6 4-1zM1126 233l1 4 4 2 0-3zM355 233l-5 3 0 3 4-2z"/>
<path fill="#55fa76" d="M739 760l-5 14 2 11-13 14-2 16 4 8 6 5 13 2 9-4 5-6 2-16-4-8-11-11 1-18-2-5zM1262 717l0 3 6 3 13 0 9-4-2-3-7-2-12 0zM191 718l2 3 7 2 13 0 6-3-1-4-6-2-12 0zM1011 709l3 5 6 2 10-4 0-4-5-4-9 0zM451 708l0 4 8 4 8-2 3-4-5-6-9 0zM1187 556l-2 5 6 2 2-5zM290 556l-2 5 6 2 2-5zM1409 550l3 3 13 0 3-2-2-3-5-1zM53 550l3 3 13 0 3-2-7-4zM776 512l8 2 31 1 26 5 15-2-6-6-59-19-11 1zM701 494l-11-1-59 19-6 6 15 2 26-5 31-1 8-2zM1082 470l12 30 12 14 39 17 6-2 0-6-14-28-12-13-34-14zM399 470l-9-2-34 14-12 13-14 28 0 6 6 2 39-17 12-14zM895 392l-1 3 3 2 1-4zM584 392l-1 4 3 1 1-3zM1265 392l3 6 8 1-4-7zM216 392l-7 0-4 7 8-1z"/>
<path fill="#65fd69" d="M740 762l-3 3-2 9 2 11-13 13-3 7 0 10 6 10 7 4 9 1 8-3 7-7 2-15-5-10-11-10 1-17zM1263 717l1 4 7 2 18-3 0-3-10-3zM192 717l0 3 10 3 16-3-1-4-7-2zM1012 707l0 5 4 3 9 0 5-4 0-3-5-4-8 0zM451 708l1 5 4 2 9 0 4-3 0-5-5-3-8 0zM1187 557l-1 3 4 2 2-3zM291 557l-2 3 4 2 2-4zM1410 550l4 3 13-2-3-3zM54 550l4 3 13-2-3-3zM776 512l9 2 27 0 27 5 14-2-9-7-47-16-17 0zM701 494l-17 0-47 16-9 7 14 2 27-5 27 0 9-2zM1086 472l7 25 12 16 10 6 25 8 7 0 1-5-8-20-14-19-17-8-15-4zM395 472l-8-1-15 4-17 8-14 19-8 20 1 5 26-6 16-8 12-16zM1265 393l6 6 5-1-5-6zM216 393l-6-1-5 6 5 1z"/>
<path fill="#75fe5c" d="M740 765l-3 4 2 16-15 13-3 7 0 9 9 13 12 3 9-3 6-6 3-7 0-9-6-11-12-9 2-16zM1264 717l0 3 4 2 15 0 6-3-6-4zM192 718l6 4 19-2 0-3-4-2-15 0zM1012 708l0 4 4 3 9 0 5-4 0-3-6-4-7 0zM451 708l0 3 5 4 9 0 4-3-1-6-4-2-7 0zM1411 550l6 3 9-2-3-3zM55 550l6 3 9-2-4-3zM776 509l1 3 10 2 29 0 21 4 13-2-8-6-46-16-15 0zM705 509l-5-15-15 0-46 16-8 6 13 2 21-4 29 0 10-2zM1090 475l3 21 11 16 18 9 15 3 7-1-5-22-11-16-17-9zM391 475l-21 1-17 9-11 16-5 22 7 1 15-3 18-9 11-16zM1266 393l2 4 7 1-3-5zM215 393l-6 0-3 5 7-1z"/>
<path fill="#84ff51" d="M739 786l-16 14-2 14 9 13 11 3 8-2 8-7 3-15-4-9-7-7zM742 769l-3 0-1 3 2 9 3-4zM1265 717l0 3 4 2 13 0 6-3-6-4zM193 718l6 4 17-2 0-3-4-2-13 0zM1012 708l0 3 5 4 8 0 5-5-6-6-6 0zM451 709l5 6 8 0 5-4 0-3-6-4-6 0zM1412 550l2 2 11-1-5-3zM56 550l2 2 11-1-5-3zM776 509l2 3 12 2 23-1 22 4 11-1-6-6-45-16-15 1zM705 509l-4-14-15-1-45 16-6 6 11 1 22-4 23 1 12-2zM1092 478l-1 6 4 16 12 14 18 7 16-1-2-18-5-10-9-9-16-7-10-1zM389 478l-7-3-10 1-16 7-9 9-5 10-2 18 16 1 18-7 12-14 4-16zM1267 393l2 4 5 0-3-4zM214 393l-4 0-3 4 5 0z"/>
<path fill="#92ff47" d="M738 787l-15 13-2 13 3 8 11 8 11 0 12-10 2-13-4-9-6-6zM1265 718l6 4 9 0 7-3-6-4-10 0zM194 718l7 4 9 0 6-3-6-4-10 0zM1012 708l0 3 5 4 7 0 5-3 0-5-6-3-8 1zM452 707l0 5 5 3 7 0 5-4 0-3-6-4zM1413 550l3 2 8-1-2-2zM57 551l8 1 3-2-9-1zM776 511l8 2 59 2-8-6-42-15-13 1zM701 495l-13-1-42 15-8 6 59-2 8-2zM1093 480l1 17 12 16 15 7 15 0 3-2 1-10-3-10-11-14-19-8-11 1zM388 480l-3-3-11-1-19 8-11 14-3 10 1 10 3 2 15 0 15-7 12-16z"/>
<path fill="#9ffd3f" d="M741 787l-11 5-5 5-4 10 2 12 12 10 10 0 7-3 6-7 2-7-1-9-4-7zM1266 719l12 3 9-4-14-3zM194 718l9 4 12-3-7-4zM1012 709l6 6 11-3 0-4-6-4-7 1zM452 708l0 4 5 3 9-1 3-4-2-4-5-2-7 1zM1415 550l7 1-2-2zM776 509l9 4 54 1-2-3-16-5-14-8-17-4-10 1zM705 509l-4-14-10-1-17 4-14 8-14 4-4 4 54-1zM1097 478l-4 5 0 9 7 15 13 10 10 3 12-1 4-5 0-9-8-16-10-8-10-4zM387 481l-5-4-12 0-17 9-9 13-2 6 1 11 6 4 9 0 18-8 11-16z"/>
<path fill="#acfb38" d="M737 788l-11 8-4 7-1 9 7 13 8 4 9 0 11-7 4-14-3-9-6-7-7-4zM1267 718l3 3 16-2-3-3-13 0zM195 718l4 3 15-2-3-3-13 0zM1012 709l6 6 6 0 5-4 0-3-7-4-6 1zM452 708l0 3 5 4 6 0 6-5-2-4-5-2-7 1zM776 509l10 4 49 0-38-18-17 0zM705 509l-4-14-17 0-38 18 49 0zM1094 482l1 16 13 16 17 6 8-1 5-4-1-16-13-16-15-6-11 1zM387 482l-4-4-11-1-15 6-13 16-1 16 5 4 8 1 17-6 13-16z"/>
<path fill="#c1f334" d="M739 788l-7 3-7 7-4 12 6 14 10 5 7 0 13-9 2-16-10-13zM1269 718l4 3 11-2-4-3zM197 718l4 3 11-2-4-3zM1013 708l0 3 6 4 7-1 3-3 0-3-4-3-9 0zM452 708l0 3 6 4 7-1 3-3-3-6-9 0zM776 509l14 4 31-4-12-9-14-5-15 1zM705 509l-3-11-4-3-20 2-18 12 24 4 14-1zM1095 483l0 14 11 15 16 7 7 0 7-4 2-5-1-9-11-16-15-7-9 0zM386 483l-7-5-9 0-15 7-10 13-2 7 2 10 7 4 7 0 16-7 11-15z"/>
<path fill="#d4e735" d="M737 789l-12 9-3 7 0 10 8 11 13 3 8-3 8-11 0-10-9-13zM1271 718l1 2 11-1-2-2zM198 718l2 2 10-1-1-2zM1013 708l0 3 4 3 8 0 4-4-5-5-7 0zM452 709l4 5 8 0 4-3 0-3-4-3-7 0zM776 509l9 3 17 0 9-2 3-4-10-8-19-3-5 1zM705 509l-4-13-5-1-19 3-10 8 1 3 11 3 17 0zM1099 480l-4 5 0 10 7 13 17 10 13-1 5-6 0-8-5-11-8-8-10-5zM382 480l-9-2-16 6-11 13-2 6 1 10 6 5 11 0 15-8 9-15 0-10z"/>
<path fill="#e3db38" d="M738 789l-8 4-6 7-2 14 7 11 13 4 13-7 4-8 0-8-8-13zM1013 709l4 5 8 0 3-3 0-3-4-3-6 0zM453 708l3 6 8 0 4-4-5-5-6 0zM777 509l21 3 12-3 2-3-9-8-21-2-3 2zM669 506l2 3 12 3 21-3-2-11-3-2-15 0-10 4zM1099 481l-4 7 1 9 11 15 14 6 9-1 5-4 0-15-10-13-13-6zM384 483l-7-4-8 0-13 6-10 13 0 15 5 4 9 1 14-6 10-12 2-7z"/>
<path fill="#f1cb3a" d="M736 790l-7 4-6 9 0 14 5 7 7 4 11 0 11-9 2-6-1-10-9-11zM1014 708l0 3 4 3 6 0 4-3 0-3-5-3zM453 708l0 3 4 3 6 0 4-3 0-3-5-3zM777 506l3 4 13 2 15-3 2-5-11-7-16-1-4 2zM671 504l2 5 15 3 16-4-2-10-4-2-16 1zM1099 482l-3 5 0 9 10 15 12 6 10 0 7-5 0-13-7-11-14-8-7-1zM382 482l-8-3-7 1-14 8-7 11 0 13 7 5 10 0 12-6 10-15 0-9z"/>
<path fill="#faba39" d="M737 790l-12 9-3 13 3 8 6 6 14 2 11-8 3-12-2-7-7-8zM1014 708l0 3 4 3 5 0 5-4-6-5zM453 709l5 5 9-3 0-3-6-3zM777 508l8 3 14 0 7-2 3-4-8-7-16-2-6 2zM672 505l3 4 7 2 14 0 8-3-2-10-6-2-16 2zM1100 482l-4 7 1 9 11 14 12 5 7 0 7-5 1-12-11-15-11-5zM381 482l-13-2-11 5-11 15 1 12 7 5 11-1 8-4 11-14 1-9z"/>
<path fill="#fea933" d="M738 790l-12 8-4 12 3 10 5 5 14 3 7-3 6-7 1-14-8-11zM1014 709l5 5 8-3-2-5-8 0zM454 708l0 3 5 3 8-4-3-4zM777 507l5 3 15 1 9-3 2-3-4-5-7-3-18 1zM673 505l2 3 9 3 10 0 10-4-2-9-18-1-7 3zM1101 482l-4 5 0 10 4 8 13 10 9 2 7-2 4-4 1-9-6-12-14-9-9-1zM380 482l-10-2-15 7-7 9-1 15 11 6 16-6 10-14 0-10z"/>
<path fill="#fe932a" d="M739 790l-9 4-5 6-2 15 7 10 13 3 12-7 3-6 0-10-7-11zM1015 708l2 5 10-2-3-5zM454 708l2 5 10-2-3-5zM777 507l16 4 10-2 4-5-11-7-13 0-4 2zM674 504l2 4 12 3 16-4-2-8-4-2-13 0zM1098 486l-1 10 9 14 12 6 9 0 5-3 3-7-1-7-11-14-9-4-10 0zM379 482l-15 0-14 11-4 11 4 10 13 2 15-9 6-11 0-8z"/>
<path fill="#fa7b1f" d="M736 791l-12 11-1 12 6 10 13 4 12-6 4-8 0-9-9-12zM1015 708l3 5 6 0 3-3-4-4zM454 709l3 4 9-2-3-5zM777 506l8 4 13 0 7-3 1-3-8-6-13-1-6 2zM675 504l1 3 7 3 13 0 8-4-2-7-6-2-13 1zM1101 483l-4 11 4 10 7 7 11 5 9-1 5-4 0-13-9-12-11-5zM380 483l-12-2-11 5-9 12 0 13 8 5 6 0 11-5 10-13 1-8z"/>
<path fill="#f46617" d="M737 791l-11 8-3 15 8 11 15 2 9-7 3-14-8-12zM1015 709l3 4 8-2-3-5zM455 708l3 5 5 0 3-3-4-4zM778 502l2 6 7 2 13-1 5-4-5-6-8-2-10 1zM676 504l1 3 8 3 9 0 9-4-1-6-8-3-13 2zM1102 483l-4 5 0 9 4 8 14 10 13-1 4-4 1-8-6-12-13-8zM379 483l-9-2-15 7-8 14 1 8 6 5 11 0 9-5 9-13 0-9z"/>
<path fill="#eb500e" d="M738 791l-11 7-3 5-1 10 8 12 14 2 10-7 3-13-8-13zM1016 708l3 5 7-2-4-5zM455 709l3 4 7-2 0-3-4-2zM778 502l0 4 11 4 10-1 5-3 0-3-8-5-12 0zM677 503l1 4 9 3 16-4-1-6-5-2-12 0zM1099 487l0 12 11 13 7 3 9 0 6-4 1-12-10-13-8-4-10 0zM378 483l-12-1-15 11-3 6 0 10 3 4 13 2 13-8 6-11 0-7z"/>
<path fill="#df3f08" d="M739 791l-11 6-5 14 7 13 6 3 9 0 9-6 4-13-7-13zM1016 709l4 4 6-3-2-3zM455 709l4 4 6-2-2-4zM778 502l0 3 7 4 12 0 6-3 0-3-8-5-10 0zM678 503l0 3 6 3 12 0 7-4 0-3-7-4-10 0zM1102 484l-4 7 4 13 13 10 13 0 5-6 0-8-4-8-12-9-11-1zM379 484l-11-2-11 5-9 13 1 10 7 5 16-4 10-13 1-7z"/>
<path fill="#d02f05" d="M736 792l-10 8-2 15 8 10 12 2 11-8 2-14-8-11zM1016 709l2 3 7-1-2-4zM456 708l1 4 8-2-2-3zM779 502l0 3 7 4 10 0 7-5-10-6-7 0zM678 504l7 5 10 0 5-2 2-5-7-4-7 0zM1104 483l-5 6 0 8 4 8 13 9 7 1 7-3 3-10-6-12-11-7zM377 483l-12 0-11 7-6 12 3 10 7 3 7-1 13-9 4-8 0-8z"/>
<path fill="#c12302" d="M736 792l-11 10-1 12 8 11 11 2 12-8 2-14-8-11zM1017 708l2 4 6-2-3-3zM456 709l2 3 6-1-2-4zM779 503l3 4 6 2 10-1 4-3-2-4-10-3zM702 503l-11-5-10 3-2 4 4 3 10 1 6-2zM1103 484l-3 3-1 9 5 10 13 8 11-1 4-5 0-9-3-6-11-9zM378 484l-15 0-11 9-3 6 0 9 4 5 11 1 13-8 5-10 0-6z"/>
<path fill="#ac1701" d="M737 792l-10 7-3 15 7 10 11 3 12-7 3-6 0-8-7-11zM1017 709l2 3 5-1 0-3-3-1zM457 708l2 4 5-2-3-3zM780 502l0 3 5 3 12 0 4-3-6-6-10 0zM680 503l4 5 12 0 5-3 0-3-5-3-10 0zM1100 488l0 11 9 11 9 4 7 0 5-3 2-11-9-13-9-4-8 0zM377 484l-10-1-14 9-4 8 0 7 3 5 4 2 11-1 12-10 3-12z"/>
<path fill="#950d01" d="M738 792l-10 6-4 8 0 7 3 7 6 5 12 1 9-6 3-13-6-11zM1018 709l0 2 6-1-1-2zM457 709l6 2-1-3zM781 502l0 3 5 3 10 0 4-3 0-3-6-3-8 0zM681 502l0 3 4 3 10 0 5-3 0-3-5-3-8 0zM1103 485l-3 4 0 9 9 12 14 4 8-5 1-8-7-12-12-6zM378 485l-10-2-12 6-7 12 1 8 8 5 14-4 9-12 0-9z"/>
<path fill="#810602" d="M739 792l-6 2-6 6-3 12 5 10 7 4 9 0 8-5 4-13-3-8-6-6zM1018 709l1 2 4-1-1-2zM458 709l1 2 4-1zM781 503l6 5 7 0 6-4-8-5-8 1zM681 503l1 3 5 2 7 0 6-4-1-3-6-2zM1105 484l-5 6 0 7 4 8 12 8 12-1 4-7-3-11-13-10zM376 484l-11 0-13 10-3 11 4 7 12 1 12-8 4-8 0-7z"/>
</g></g>
<path fill="#30123b" d="M1386.7 1646.5 1390.5 1652.8 1394.4 1659.2 1398.2 1665.6 1401.9 1671.9 1405.6 1678.3 1409.2 1684.6 1412.8 1691 1416.3 1697.4 1419.8 1703.7 1423.2 1710.1 1426.6 1716.4 1430 1722.8 1433.2 1729.2 1436.5 1735.5 1439.7 1741.9 1442.8 1748.3 1445.8 1754.6 1448.9 1761 1451.8 1767.3 1454.7 1773.7 1457.6 1780.1 1460.4 1786.4 1463.2 1792.8 1465.9 1799.1 1468.5 1805.5 1471.1 1811.9 1473.6 1818.2 1476.1 1824.6 1478.5 1830.9 1480.8 1837.3 1483.1 1843.7 1485.4 1850 1487.5 1856.4 1489.7 1862.8 1491.7 1869.1 1493.7 1875.5 1495.6 1881.8 1497.5 1888.2 1499.3 1894.6 1501.1 1900.9 1502.7 1907.3 1504.3 1913.6 1505.9 1920 1507.3 1926.4 1508.7 1932.7 1510.1 1939.1 1511.3 1945.4 1512.5 1951.8 1513.6 1958.2 1514.7 1964.5 1515.6 1970.9 1516.5 1977.3 1517.2 1983.6 1517.9 1990 1518.5 1996.3 1519 2002.7 1519.4 2009.1 1519.7 2015.4 1519.8 2021.8 1519.8 2021.8 1519.9 2015.4 1520.2 2009.1 1520.6 2002.7 1521.1 1996.3 1521.7 1990 1522.4 1983.6 1523.1 1977.3 1524 1970.9 1524.9 1964.5 1526 1958.2 1527.1 1951.8 1528.3 1945.4 1529.5 1939.1 1530.9 1932.7 1532.3 1926.4 1533.7 1920 1535.3 1913.6 1536.9 1907.3 1538.5 1900.9 1540.3 1894.6 1542.1 1888.2 1544 1881.8 1545.9 1875.5 1547.9 1869.1 1549.9 1862.8 1552.1 1856.4 1554.2 1850 1556.5 1843.7 1558.8 1837.3 1561.1 1830.9 1563.5 1824.6 1566 1818.2 1568.5 1811.9 1571.1 1805.5 1573.7 1799.1 1576.4 1792.8 1579.2 1786.4 1582 1780.1 1584.9 1773.7 1587.8 1767.3 1590.7 1761 1593.8 1754.6 1596.8 1748.3 1599.9 1741.9 1603.1 1735.5 1606.4 1729.2 1609.6 1722.8 1613 1716.4 1616.4 1710.1 1619.8 1703.7 1623.3 1697.4 1626.8 1691 1630.4 1684.6 1634 1678.3 1637.7 1671.9 1641.4 1665.6 1645.2 1659.2 1649.1 1652.8 1652.9 1646.5Z"/>
<rect x="1149.3" y="2070" width="741" height="20.5" fill="#37163f"/>
</g>
<rect x="1149.3" y="1650" width="741" height="440.5" fill="none" stroke="#000" stroke-width="2.6"/>
<path d="M1149.3 2090.5h-14M1149.3 2002.4h-14M1149.3 1914.3h-14M1149.3 1826.2h-14M1149.3 1738.1h-14M1149.3 1650h-14M1166.9 2090.5v14.5M1343.4 2090.5v14.5M1519.8 2090.5v14.5M1696.2 2090.5v14.5M1872.7 2090.5v14.5" stroke="#000" stroke-width="2.6"/>
<text x="1117.7" y="2103.8" font-size="35" text-anchor="end">0.0</text>
<text x="1117.7" y="2015.7" font-size="35" text-anchor="end">0.5</text>
<text x="1117.7" y="1927.6" font-size="35" text-anchor="end">1.0</text>
<text x="1117.7" y="1839.5" font-size="35" text-anchor="end">1.5</text>
<text x="1117.7" y="1751.4" font-size="35" text-anchor="end">2.0</text>
<text x="1117.7" y="1663.3" font-size="35" text-anchor="end">2.5</text>
<text x="1166.9" y="2147.3" font-size="35" text-anchor="middle">−2</text>
<text x="1343.4" y="2147.3" font-size="35" text-anchor="middle">−1</text>
<text x="1519.8" y="2147.3" font-size="35" text-anchor="middle">0</text>
<text x="1696.2" y="2147.3" font-size="35" text-anchor="middle">1</text>
<text x="1872.7" y="2147.3" font-size="35" text-anchor="middle">2</text>
<text x="1521.3" y="2214" font-size="42" text-anchor="middle"><tspan font-style="italic" font-size="43.5">Q</tspan><tspan font-style="italic" font-size="31" dy="8">r</tspan><tspan dy="-8"> [</tspan><tspan dx="2">Å</tspan><tspan font-size="25" dy="-12" dx="1.5">-1</tspan><tspan dy="12" dx="4">]</tspan></text>
<text transform="translate(1042 1870.2) rotate(-90)" font-size="42" text-anchor="middle"><tspan font-style="italic" font-size="43.5">Q</tspan><tspan font-style="italic" font-size="31" dy="8">z</tspan><tspan dy="-8"> [</tspan><tspan dx="2">Å</tspan><tspan font-size="25" dy="-12" dx="1.5">-1</tspan><tspan dy="12" dx="4">]</tspan></text>
<text x="1066" y="1614.4" font-size="44" font-weight="bold">f</text>
</svg></body></html>
